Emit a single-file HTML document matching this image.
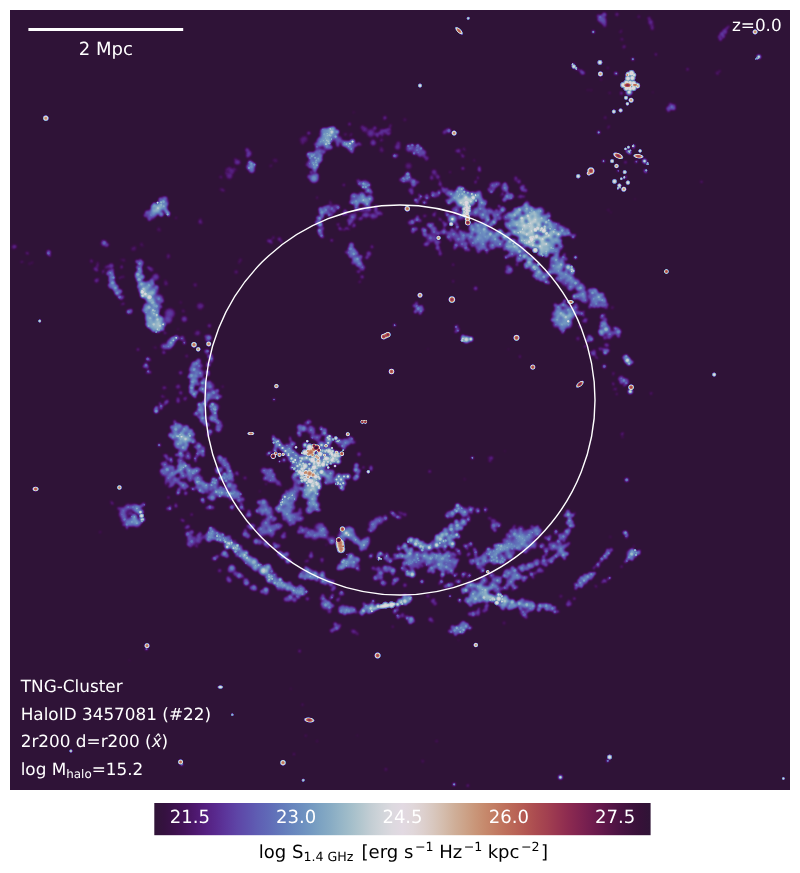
<!DOCTYPE html>
<html><head><meta charset="utf-8"><title>TNG-Cluster HaloID 3457081</title>
<style>
html,body{margin:0;padding:0;background:#fff;}
body{width:800px;height:873px;overflow:hidden;position:relative;}
svg{position:absolute;left:0;top:0;display:block;}
.b circle,.b ellipse{mix-blend-mode:lighten;}
text{font-family:"DejaVu Sans","Liberation Sans",sans-serif;-webkit-font-smoothing:antialiased;text-rendering:geometricPrecision;}
.w{fill:#fff;}
.k{fill:#000;}
</style></head><body>
<svg width="800" height="873" viewBox="0 0 800 873">
<defs>
<filter id="cmap" x="0" y="0" width="780" height="780" filterUnits="userSpaceOnUse" color-interpolation-filters="sRGB">
<feComponentTransfer>
<feFuncR type="table" tableValues="0.187 0.196 0.204 0.212 0.223 0.234 0.247 0.26 0.273 0.287 0.299 0.311 0.322 0.331 0.34 0.346 0.352 0.356 0.36 0.363 0.365 0.367 0.368 0.369 0.37 0.371 0.372 0.373 0.374 0.376 0.378 0.381 0.385 0.39 0.395 0.402 0.409 0.418 0.428 0.439 0.451 0.465 0.479 0.495 0.511 0.529 0.548 0.568 0.588 0.61 0.632 0.655 0.679 0.703 0.727 0.75 0.773 0.795 0.814 0.832 0.848 0.861 0.872 0.882 0.885 0.883 0.879 0.875 0.87 0.864 0.858 0.851 0.843 0.836 0.829 0.823 0.817 0.811 0.806 0.801 0.797 0.793 0.788 0.784 0.779 0.775 0.77 0.764 0.758 0.752 0.744 0.737 0.729 0.72 0.711 0.701 0.69 0.679 0.667 0.655 0.642 0.629 0.615 0.6 0.585 0.569 0.552 0.535 0.517 0.498 0.479 0.459 0.439 0.418 0.397 0.376 0.356 0.335 0.315 0.296 0.277 0.26 0.244 0.229 0.216 0.205 0.196 0.185"/>
<feFuncG type="table" tableValues="0.077 0.07 0.067 0.066 0.066 0.067 0.069 0.072 0.077 0.082 0.09 0.099 0.11 0.122 0.137 0.153 0.17 0.188 0.207 0.226 0.245 0.264 0.283 0.302 0.321 0.34 0.358 0.377 0.395 0.413 0.431 0.448 0.466 0.483 0.5 0.516 0.533 0.549 0.565 0.581 0.596 0.612 0.627 0.642 0.656 0.671 0.685 0.699 0.713 0.727 0.74 0.753 0.766 0.778 0.79 0.802 0.812 0.822 0.831 0.839 0.845 0.85 0.852 0.851 0.85 0.847 0.841 0.833 0.823 0.811 0.798 0.784 0.768 0.752 0.736 0.718 0.701 0.683 0.664 0.646 0.627 0.608 0.589 0.569 0.55 0.531 0.511 0.492 0.473 0.454 0.435 0.416 0.397 0.379 0.361 0.343 0.325 0.308 0.291 0.274 0.257 0.241 0.226 0.211 0.196 0.183 0.17 0.157 0.146 0.136 0.126 0.118 0.111 0.104 0.098 0.093 0.088 0.084 0.079 0.076 0.073 0.07 0.068 0.067 0.068 0.069 0.072 0.079"/>
<feFuncB type="table" tableValues="0.216 0.229 0.242 0.258 0.276 0.296 0.318 0.342 0.367 0.393 0.42 0.447 0.474 0.499 0.523 0.546 0.567 0.586 0.603 0.619 0.633 0.646 0.659 0.669 0.679 0.689 0.697 0.704 0.711 0.717 0.723 0.728 0.732 0.736 0.74 0.743 0.746 0.749 0.751 0.754 0.756 0.759 0.761 0.764 0.767 0.77 0.773 0.776 0.78 0.785 0.79 0.796 0.802 0.809 0.817 0.826 0.835 0.844 0.853 0.861 0.869 0.876 0.882 0.886 0.881 0.87 0.857 0.842 0.824 0.802 0.778 0.753 0.727 0.7 0.673 0.646 0.62 0.594 0.568 0.543 0.52 0.497 0.476 0.456 0.437 0.42 0.404 0.39 0.377 0.366 0.356 0.347 0.339 0.333 0.328 0.323 0.319 0.317 0.315 0.313 0.312 0.312 0.312 0.312 0.313 0.314 0.314 0.315 0.315 0.314 0.313 0.31 0.307 0.303 0.297 0.291 0.284 0.276 0.268 0.26 0.251 0.243 0.236 0.229 0.223 0.219 0.216 0.213"/>
</feComponentTransfer></filter>
<filter id="bl" x="-10" y="-10" width="800" height="800" filterUnits="userSpaceOnUse" color-interpolation-filters="sRGB"><feGaussianBlur stdDeviation="0.9"/></filter>
<clipPath id="clip"><rect x="0" y="0" width="780" height="780"/></clipPath>
<linearGradient id="cb" x1="0" x2="1" y1="0" y2="0"><stop offset="0.0000" stop-color="#301437"/><stop offset="0.0208" stop-color="#351140"/><stop offset="0.0417" stop-color="#3d114d"/><stop offset="0.0625" stop-color="#45135c"/><stop offset="0.0833" stop-color="#4e186f"/><stop offset="0.1042" stop-color="#552081"/><stop offset="0.1250" stop-color="#592a8f"/><stop offset="0.1458" stop-color="#5c379c"/><stop offset="0.1667" stop-color="#5e45a6"/><stop offset="0.1875" stop-color="#5e51ad"/><stop offset="0.2083" stop-color="#5f5eb3"/><stop offset="0.2292" stop-color="#6069b7"/><stop offset="0.2500" stop-color="#6276ba"/><stop offset="0.2708" stop-color="#6682bd"/><stop offset="0.2917" stop-color="#6b8cbf"/><stop offset="0.3125" stop-color="#7297c1"/><stop offset="0.3333" stop-color="#7ca2c2"/><stop offset="0.3542" stop-color="#87abc4"/><stop offset="0.3750" stop-color="#95b5c7"/><stop offset="0.3958" stop-color="#a3beca"/><stop offset="0.4167" stop-color="#b3c6ce"/><stop offset="0.4375" stop-color="#c4ced4"/><stop offset="0.4583" stop-color="#d1d5da"/><stop offset="0.4792" stop-color="#dcd9df"/><stop offset="0.5000" stop-color="#e2d9e2"/><stop offset="0.5208" stop-color="#e0d7da"/><stop offset="0.5417" stop-color="#ddd0ce"/><stop offset="0.5625" stop-color="#d8c7be"/><stop offset="0.5833" stop-color="#d4bcac"/><stop offset="0.6042" stop-color="#cfaf99"/><stop offset="0.6250" stop-color="#cca389"/><stop offset="0.6458" stop-color="#c99679"/><stop offset="0.6667" stop-color="#c6896c"/><stop offset="0.6875" stop-color="#c27c63"/><stop offset="0.7083" stop-color="#be6f5b"/><stop offset="0.7292" stop-color="#b96356"/><stop offset="0.7500" stop-color="#b25652"/><stop offset="0.7708" stop-color="#aa4a50"/><stop offset="0.7917" stop-color="#a24050"/><stop offset="0.8125" stop-color="#983550"/><stop offset="0.8333" stop-color="#8d2b50"/><stop offset="0.8542" stop-color="#812450"/><stop offset="0.8750" stop-color="#741e4f"/><stop offset="0.8958" stop-color="#67194c"/><stop offset="0.9167" stop-color="#581647"/><stop offset="0.9375" stop-color="#4a1342"/><stop offset="0.9583" stop-color="#3f123d"/><stop offset="0.9792" stop-color="#361138"/><stop offset="1.0000" stop-color="#2f1436"/></linearGradient>
<radialGradient id="g3"><stop offset="0" stop-color="#0f0f0f"/><stop offset="0.2" stop-color="#0f0f0f"/><stop offset="0.4" stop-color="#0e0e0e"/><stop offset="0.55" stop-color="#0c0c0c"/><stop offset="0.7" stop-color="#090909"/><stop offset="0.8" stop-color="#070707"/><stop offset="0.9" stop-color="#040404"/><stop offset="0.95" stop-color="#020202"/><stop offset="1" stop-color="#000000"/></radialGradient>
<radialGradient id="g4"><stop offset="0" stop-color="#141414"/><stop offset="0.2" stop-color="#141414"/><stop offset="0.4" stop-color="#121212"/><stop offset="0.55" stop-color="#101010"/><stop offset="0.7" stop-color="#0c0c0c"/><stop offset="0.8" stop-color="#090909"/><stop offset="0.9" stop-color="#050505"/><stop offset="0.95" stop-color="#020202"/><stop offset="1" stop-color="#000000"/></radialGradient>
<radialGradient id="g5"><stop offset="0" stop-color="#1a1a1a"/><stop offset="0.2" stop-color="#191919"/><stop offset="0.4" stop-color="#171717"/><stop offset="0.55" stop-color="#141414"/><stop offset="0.7" stop-color="#0f0f0f"/><stop offset="0.8" stop-color="#0b0b0b"/><stop offset="0.9" stop-color="#060606"/><stop offset="0.95" stop-color="#030303"/><stop offset="1" stop-color="#000000"/></radialGradient>
<radialGradient id="g6"><stop offset="0" stop-color="#1f1f1f"/><stop offset="0.2" stop-color="#1e1e1e"/><stop offset="0.4" stop-color="#1c1c1c"/><stop offset="0.55" stop-color="#181818"/><stop offset="0.7" stop-color="#121212"/><stop offset="0.8" stop-color="#0d0d0d"/><stop offset="0.9" stop-color="#070707"/><stop offset="0.95" stop-color="#040404"/><stop offset="1" stop-color="#000000"/></radialGradient>
<radialGradient id="g7"><stop offset="0" stop-color="#242424"/><stop offset="0.2" stop-color="#232323"/><stop offset="0.4" stop-color="#202020"/><stop offset="0.55" stop-color="#1c1c1c"/><stop offset="0.7" stop-color="#151515"/><stop offset="0.8" stop-color="#0f0f0f"/><stop offset="0.9" stop-color="#080808"/><stop offset="0.95" stop-color="#040404"/><stop offset="1" stop-color="#000000"/></radialGradient>
<radialGradient id="g8"><stop offset="0" stop-color="#292929"/><stop offset="0.2" stop-color="#282828"/><stop offset="0.4" stop-color="#252525"/><stop offset="0.55" stop-color="#202020"/><stop offset="0.7" stop-color="#181818"/><stop offset="0.8" stop-color="#111111"/><stop offset="0.9" stop-color="#090909"/><stop offset="0.95" stop-color="#050505"/><stop offset="1" stop-color="#000000"/></radialGradient>
<radialGradient id="g9"><stop offset="0" stop-color="#2e2e2e"/><stop offset="0.2" stop-color="#2d2d2d"/><stop offset="0.4" stop-color="#292929"/><stop offset="0.55" stop-color="#242424"/><stop offset="0.7" stop-color="#1b1b1b"/><stop offset="0.8" stop-color="#141414"/><stop offset="0.9" stop-color="#0b0b0b"/><stop offset="0.95" stop-color="#060606"/><stop offset="1" stop-color="#000000"/></radialGradient>
<radialGradient id="g10"><stop offset="0" stop-color="#333333"/><stop offset="0.2" stop-color="#323232"/><stop offset="0.4" stop-color="#2e2e2e"/><stop offset="0.55" stop-color="#282828"/><stop offset="0.7" stop-color="#1e1e1e"/><stop offset="0.8" stop-color="#161616"/><stop offset="0.9" stop-color="#0c0c0c"/><stop offset="0.95" stop-color="#060606"/><stop offset="1" stop-color="#000000"/></radialGradient>
<radialGradient id="g11"><stop offset="0" stop-color="#383838"/><stop offset="0.2" stop-color="#373737"/><stop offset="0.4" stop-color="#323232"/><stop offset="0.55" stop-color="#2c2c2c"/><stop offset="0.7" stop-color="#212121"/><stop offset="0.8" stop-color="#181818"/><stop offset="0.9" stop-color="#0d0d0d"/><stop offset="0.95" stop-color="#070707"/><stop offset="1" stop-color="#000000"/></radialGradient>
<radialGradient id="g12"><stop offset="0" stop-color="#3d3d3d"/><stop offset="0.2" stop-color="#3c3c3c"/><stop offset="0.4" stop-color="#373737"/><stop offset="0.55" stop-color="#2f2f2f"/><stop offset="0.7" stop-color="#242424"/><stop offset="0.8" stop-color="#1a1a1a"/><stop offset="0.9" stop-color="#0e0e0e"/><stop offset="0.95" stop-color="#070707"/><stop offset="1" stop-color="#000000"/></radialGradient>
<radialGradient id="g13"><stop offset="0" stop-color="#424242"/><stop offset="0.2" stop-color="#414141"/><stop offset="0.4" stop-color="#3c3c3c"/><stop offset="0.55" stop-color="#333333"/><stop offset="0.7" stop-color="#272727"/><stop offset="0.8" stop-color="#1c1c1c"/><stop offset="0.9" stop-color="#0f0f0f"/><stop offset="0.95" stop-color="#080808"/><stop offset="1" stop-color="#000000"/></radialGradient>
<radialGradient id="g14"><stop offset="0" stop-color="#474747"/><stop offset="0.2" stop-color="#464646"/><stop offset="0.4" stop-color="#404040"/><stop offset="0.55" stop-color="#373737"/><stop offset="0.7" stop-color="#2a2a2a"/><stop offset="0.8" stop-color="#1f1f1f"/><stop offset="0.9" stop-color="#111111"/><stop offset="0.95" stop-color="#090909"/><stop offset="1" stop-color="#000000"/></radialGradient>
<radialGradient id="g15"><stop offset="0" stop-color="#4c4c4c"/><stop offset="0.2" stop-color="#4b4b4b"/><stop offset="0.4" stop-color="#454545"/><stop offset="0.55" stop-color="#3b3b3b"/><stop offset="0.7" stop-color="#2d2d2d"/><stop offset="0.8" stop-color="#212121"/><stop offset="0.9" stop-color="#121212"/><stop offset="0.95" stop-color="#090909"/><stop offset="1" stop-color="#000000"/></radialGradient>
<radialGradient id="g16"><stop offset="0" stop-color="#525252"/><stop offset="0.2" stop-color="#505050"/><stop offset="0.4" stop-color="#494949"/><stop offset="0.55" stop-color="#3f3f3f"/><stop offset="0.7" stop-color="#303030"/><stop offset="0.8" stop-color="#232323"/><stop offset="0.9" stop-color="#131313"/><stop offset="0.95" stop-color="#0a0a0a"/><stop offset="1" stop-color="#000000"/></radialGradient>
<radialGradient id="g17"><stop offset="0" stop-color="#575757"/><stop offset="0.2" stop-color="#555555"/><stop offset="0.4" stop-color="#4e4e4e"/><stop offset="0.55" stop-color="#434343"/><stop offset="0.7" stop-color="#333333"/><stop offset="0.8" stop-color="#252525"/><stop offset="0.9" stop-color="#141414"/><stop offset="0.95" stop-color="#0a0a0a"/><stop offset="1" stop-color="#000000"/></radialGradient>
<radialGradient id="g18"><stop offset="0" stop-color="#5c5c5c"/><stop offset="0.2" stop-color="#5a5a5a"/><stop offset="0.4" stop-color="#535353"/><stop offset="0.55" stop-color="#474747"/><stop offset="0.7" stop-color="#363636"/><stop offset="0.8" stop-color="#272727"/><stop offset="0.9" stop-color="#151515"/><stop offset="0.95" stop-color="#0b0b0b"/><stop offset="1" stop-color="#000000"/></radialGradient>
<radialGradient id="g19"><stop offset="0" stop-color="#616161"/><stop offset="0.2" stop-color="#5f5f5f"/><stop offset="0.4" stop-color="#575757"/><stop offset="0.55" stop-color="#4b4b4b"/><stop offset="0.7" stop-color="#393939"/><stop offset="0.8" stop-color="#292929"/><stop offset="0.9" stop-color="#161616"/><stop offset="0.95" stop-color="#0c0c0c"/><stop offset="1" stop-color="#000000"/></radialGradient>
<radialGradient id="g20"><stop offset="0" stop-color="#666666"/><stop offset="0.2" stop-color="#646464"/><stop offset="0.4" stop-color="#5c5c5c"/><stop offset="0.55" stop-color="#4f4f4f"/><stop offset="0.7" stop-color="#3c3c3c"/><stop offset="0.8" stop-color="#2c2c2c"/><stop offset="0.9" stop-color="#181818"/><stop offset="0.95" stop-color="#0c0c0c"/><stop offset="1" stop-color="#000000"/></radialGradient>
<radialGradient id="g21"><stop offset="0" stop-color="#6b6b6b"/><stop offset="0.2" stop-color="#696969"/><stop offset="0.4" stop-color="#606060"/><stop offset="0.55" stop-color="#535353"/><stop offset="0.7" stop-color="#3f3f3f"/><stop offset="0.8" stop-color="#2e2e2e"/><stop offset="0.9" stop-color="#191919"/><stop offset="0.95" stop-color="#0d0d0d"/><stop offset="1" stop-color="#000000"/></radialGradient>
<radialGradient id="g22"><stop offset="0" stop-color="#707070"/><stop offset="0.2" stop-color="#6e6e6e"/><stop offset="0.4" stop-color="#656565"/><stop offset="0.55" stop-color="#575757"/><stop offset="0.7" stop-color="#424242"/><stop offset="0.8" stop-color="#303030"/><stop offset="0.9" stop-color="#1a1a1a"/><stop offset="0.95" stop-color="#0e0e0e"/><stop offset="1" stop-color="#000000"/></radialGradient>
<radialGradient id="g23"><stop offset="0" stop-color="#757575"/><stop offset="0.2" stop-color="#737373"/><stop offset="0.4" stop-color="#696969"/><stop offset="0.55" stop-color="#5b5b5b"/><stop offset="0.7" stop-color="#454545"/><stop offset="0.8" stop-color="#323232"/><stop offset="0.9" stop-color="#1b1b1b"/><stop offset="0.95" stop-color="#0e0e0e"/><stop offset="1" stop-color="#000000"/></radialGradient>
<radialGradient id="g24"><stop offset="0" stop-color="#7a7a7a"/><stop offset="0.2" stop-color="#787878"/><stop offset="0.4" stop-color="#6e6e6e"/><stop offset="0.55" stop-color="#5f5f5f"/><stop offset="0.7" stop-color="#484848"/><stop offset="0.8" stop-color="#343434"/><stop offset="0.9" stop-color="#1c1c1c"/><stop offset="0.95" stop-color="#0f0f0f"/><stop offset="1" stop-color="#000000"/></radialGradient>
<radialGradient id="g25"><stop offset="0" stop-color="#808080"/><stop offset="0.2" stop-color="#7d7d7d"/><stop offset="0.4" stop-color="#737373"/><stop offset="0.55" stop-color="#636363"/><stop offset="0.7" stop-color="#4b4b4b"/><stop offset="0.8" stop-color="#373737"/><stop offset="0.9" stop-color="#1e1e1e"/><stop offset="0.95" stop-color="#0f0f0f"/><stop offset="1" stop-color="#000000"/></radialGradient>
<radialGradient id="g26"><stop offset="0" stop-color="#858585"/><stop offset="0.2" stop-color="#828282"/><stop offset="0.4" stop-color="#777777"/><stop offset="0.55" stop-color="#676767"/><stop offset="0.7" stop-color="#4e4e4e"/><stop offset="0.8" stop-color="#393939"/><stop offset="0.9" stop-color="#1f1f1f"/><stop offset="0.95" stop-color="#101010"/><stop offset="1" stop-color="#000000"/></radialGradient>
<radialGradient id="g27"><stop offset="0" stop-color="#8a8a8a"/><stop offset="0.2" stop-color="#878787"/><stop offset="0.4" stop-color="#7c7c7c"/><stop offset="0.55" stop-color="#6b6b6b"/><stop offset="0.7" stop-color="#515151"/><stop offset="0.8" stop-color="#3b3b3b"/><stop offset="0.9" stop-color="#202020"/><stop offset="0.95" stop-color="#111111"/><stop offset="1" stop-color="#000000"/></radialGradient>
<radialGradient id="g31"><stop offset="0" stop-color="#9e9e9e"/><stop offset="0.2" stop-color="#9b9b9b"/><stop offset="0.4" stop-color="#8e8e8e"/><stop offset="0.55" stop-color="#7b7b7b"/><stop offset="0.7" stop-color="#5d5d5d"/><stop offset="0.8" stop-color="#444444"/><stop offset="0.9" stop-color="#252525"/><stop offset="0.95" stop-color="#131313"/><stop offset="1" stop-color="#000000"/></radialGradient>
<radialGradient id="g32"><stop offset="0" stop-color="#a3a3a3"/><stop offset="0.2" stop-color="#a0a0a0"/><stop offset="0.4" stop-color="#939393"/><stop offset="0.55" stop-color="#7f7f7f"/><stop offset="0.7" stop-color="#606060"/><stop offset="0.8" stop-color="#464646"/><stop offset="0.9" stop-color="#262626"/><stop offset="0.95" stop-color="#141414"/><stop offset="1" stop-color="#000000"/></radialGradient>
<radialGradient id="g33"><stop offset="0" stop-color="#a8a8a8"/><stop offset="0.2" stop-color="#a5a5a5"/><stop offset="0.4" stop-color="#979797"/><stop offset="0.55" stop-color="#838383"/><stop offset="0.7" stop-color="#636363"/><stop offset="0.8" stop-color="#484848"/><stop offset="0.9" stop-color="#272727"/><stop offset="0.95" stop-color="#141414"/><stop offset="1" stop-color="#000000"/></radialGradient>
<radialGradient id="g34"><stop offset="0" stop-color="#adadad"/><stop offset="0.2" stop-color="#aaaaaa"/><stop offset="0.4" stop-color="#9c9c9c"/><stop offset="0.55" stop-color="#868686"/><stop offset="0.7" stop-color="#666666"/><stop offset="0.8" stop-color="#4a4a4a"/><stop offset="0.9" stop-color="#282828"/><stop offset="0.95" stop-color="#151515"/><stop offset="1" stop-color="#000000"/></radialGradient>
<radialGradient id="g35"><stop offset="0" stop-color="#b2b2b2"/><stop offset="0.2" stop-color="#afafaf"/><stop offset="0.4" stop-color="#a0a0a0"/><stop offset="0.55" stop-color="#8a8a8a"/><stop offset="0.7" stop-color="#696969"/><stop offset="0.8" stop-color="#4c4c4c"/><stop offset="0.9" stop-color="#292929"/><stop offset="0.95" stop-color="#151515"/><stop offset="1" stop-color="#000000"/></radialGradient>
<radialGradient id="g36"><stop offset="0" stop-color="#b8b8b8"/><stop offset="0.2" stop-color="#b4b4b4"/><stop offset="0.4" stop-color="#a5a5a5"/><stop offset="0.55" stop-color="#8e8e8e"/><stop offset="0.7" stop-color="#6c6c6c"/><stop offset="0.8" stop-color="#4f4f4f"/><stop offset="0.9" stop-color="#2b2b2b"/><stop offset="0.95" stop-color="#161616"/><stop offset="1" stop-color="#000000"/></radialGradient>
<radialGradient id="g37"><stop offset="0" stop-color="#bdbdbd"/><stop offset="0.2" stop-color="#b9b9b9"/><stop offset="0.4" stop-color="#aaaaaa"/><stop offset="0.55" stop-color="#929292"/><stop offset="0.7" stop-color="#6f6f6f"/><stop offset="0.8" stop-color="#515151"/><stop offset="0.9" stop-color="#2c2c2c"/><stop offset="0.95" stop-color="#171717"/><stop offset="1" stop-color="#000000"/></radialGradient>
<radialGradient id="g38"><stop offset="0" stop-color="#c2c2c2"/><stop offset="0.2" stop-color="#bebebe"/><stop offset="0.4" stop-color="#aeaeae"/><stop offset="0.55" stop-color="#969696"/><stop offset="0.7" stop-color="#727272"/><stop offset="0.8" stop-color="#535353"/><stop offset="0.9" stop-color="#2d2d2d"/><stop offset="0.95" stop-color="#171717"/><stop offset="1" stop-color="#000000"/></radialGradient>
<radialGradient id="g39"><stop offset="0" stop-color="#c7c7c7"/><stop offset="0.2" stop-color="#c3c3c3"/><stop offset="0.4" stop-color="#b3b3b3"/><stop offset="0.55" stop-color="#9a9a9a"/><stop offset="0.7" stop-color="#757575"/><stop offset="0.8" stop-color="#555555"/><stop offset="0.9" stop-color="#2e2e2e"/><stop offset="0.95" stop-color="#181818"/><stop offset="1" stop-color="#000000"/></radialGradient>
<radialGradient id="g40"><stop offset="0" stop-color="#cccccc"/><stop offset="0.2" stop-color="#c8c8c8"/><stop offset="0.4" stop-color="#b7b7b7"/><stop offset="0.55" stop-color="#9e9e9e"/><stop offset="0.7" stop-color="#787878"/><stop offset="0.8" stop-color="#575757"/><stop offset="0.9" stop-color="#2f2f2f"/><stop offset="0.95" stop-color="#191919"/><stop offset="1" stop-color="#000000"/></radialGradient>
<radialGradient id="g41"><stop offset="0" stop-color="#d1d1d1"/><stop offset="0.2" stop-color="#cdcdcd"/><stop offset="0.4" stop-color="#bcbcbc"/><stop offset="0.55" stop-color="#a2a2a2"/><stop offset="0.7" stop-color="#7b7b7b"/><stop offset="0.8" stop-color="#595959"/><stop offset="0.9" stop-color="#303030"/><stop offset="0.95" stop-color="#191919"/><stop offset="1" stop-color="#000000"/></radialGradient>
<radialGradient id="g42"><stop offset="0" stop-color="#d6d6d6"/><stop offset="0.2" stop-color="#d2d2d2"/><stop offset="0.4" stop-color="#c1c1c1"/><stop offset="0.55" stop-color="#a6a6a6"/><stop offset="0.7" stop-color="#7e7e7e"/><stop offset="0.8" stop-color="#5c5c5c"/><stop offset="0.9" stop-color="#323232"/><stop offset="0.95" stop-color="#1a1a1a"/><stop offset="1" stop-color="#000000"/></radialGradient>
<radialGradient id="g43"><stop offset="0" stop-color="#dbdbdb"/><stop offset="0.2" stop-color="#d7d7d7"/><stop offset="0.4" stop-color="#c5c5c5"/><stop offset="0.55" stop-color="#aaaaaa"/><stop offset="0.7" stop-color="#818181"/><stop offset="0.8" stop-color="#5e5e5e"/><stop offset="0.9" stop-color="#333333"/><stop offset="0.95" stop-color="#1a1a1a"/><stop offset="1" stop-color="#000000"/></radialGradient>
<radialGradient id="g44"><stop offset="0" stop-color="#e0e0e0"/><stop offset="0.2" stop-color="#dcdcdc"/><stop offset="0.4" stop-color="#cacaca"/><stop offset="0.55" stop-color="#aeaeae"/><stop offset="0.7" stop-color="#848484"/><stop offset="0.8" stop-color="#606060"/><stop offset="0.9" stop-color="#343434"/><stop offset="0.95" stop-color="#1b1b1b"/><stop offset="1" stop-color="#000000"/></radialGradient>
<radialGradient id="g46"><stop offset="0" stop-color="#ebebeb"/><stop offset="0.2" stop-color="#e6e6e6"/><stop offset="0.4" stop-color="#d3d3d3"/><stop offset="0.55" stop-color="#b6b6b6"/><stop offset="0.7" stop-color="#8a8a8a"/><stop offset="0.8" stop-color="#646464"/><stop offset="0.9" stop-color="#363636"/><stop offset="0.95" stop-color="#1c1c1c"/><stop offset="1" stop-color="#000000"/></radialGradient>
<radialGradient id="g48"><stop offset="0" stop-color="#f5f5f5"/><stop offset="0.2" stop-color="#f0f0f0"/><stop offset="0.4" stop-color="#dcdcdc"/><stop offset="0.55" stop-color="#bebebe"/><stop offset="0.7" stop-color="#909090"/><stop offset="0.8" stop-color="#696969"/><stop offset="0.9" stop-color="#393939"/><stop offset="0.95" stop-color="#1d1d1d"/><stop offset="1" stop-color="#000000"/></radialGradient>
<radialGradient id="g50"><stop offset="0" stop-color="#ffffff"/><stop offset="0.2" stop-color="#fafafa"/><stop offset="0.4" stop-color="#e5e5e5"/><stop offset="0.55" stop-color="#c6c6c6"/><stop offset="0.7" stop-color="#969696"/><stop offset="0.8" stop-color="#6d6d6d"/><stop offset="0.9" stop-color="#3b3b3b"/><stop offset="0.95" stop-color="#1f1f1f"/><stop offset="1" stop-color="#000000"/></radialGradient>
</defs>
<rect x="10" y="10" width="780" height="780" fill="#301437"/>
<g transform="translate(10,10)" clip-path="url(#clip)"><g filter="url(#cmap)" class="b"><rect x="0" y="0" width="780" height="780" fill="#000"/>
<g filter="url(#bl)" style="mix-blend-mode:lighten"><rect x="-10" y="-10" width="800" height="800" fill="#000"/>
<g fill="url(#g3)"><circle cx="263.9" cy="150.1" r="2.1"/><circle cx="131.6" cy="235.2" r="2"/><circle cx="124.9" cy="239.1" r="2.1"/><circle cx="211.6" cy="167.7" r="1.7"/><circle cx="343.7" cy="102.4" r="1.6"/><circle cx="111.3" cy="249.7" r="1.7"/><circle cx="261.6" cy="154.9" r="1.4"/><circle cx="148.7" cy="217.7" r="1.5"/><circle cx="625.2" cy="188.9" r="1.3"/><circle cx="494.8" cy="441.2" r="1.3"/><circle cx="347.3" cy="725.6" r="1.3"/><circle cx="18.6" cy="254.6" r="1.1"/><circle cx="212.5" cy="178.5" r="1.1"/><circle cx="22.6" cy="251.7" r="1.1"/><circle cx="418" cy="339.3" r="1.3"/><circle cx="119.4" cy="650.3" r="1.3"/><circle cx="171" cy="293.4" r="1.1"/><circle cx="133.6" cy="236.1" r="1.1"/></g>
<g fill="url(#g4)"><circle cx="186.1" cy="323.6" r="2.8"/><circle cx="123.1" cy="238.9" r="2.9"/><circle cx="265.7" cy="150.6" r="2.5"/><circle cx="371.2" cy="138.1" r="2.2"/><circle cx="394.9" cy="109.7" r="2.2"/><circle cx="212.9" cy="180.4" r="2.2"/><circle cx="148.7" cy="219.4" r="2.5"/><circle cx="412.7" cy="751.2" r="2"/><circle cx="95.9" cy="257.9" r="1.9"/><circle cx="113.8" cy="250.2" r="2.2"/><circle cx="131.6" cy="234" r="1.9"/><circle cx="230.8" cy="250.2" r="1.9"/><circle cx="191.7" cy="213.1" r="1.8"/><circle cx="613.3" cy="37.6" r="1.7"/><circle cx="294" cy="131.8" r="1.8"/><circle cx="260.8" cy="156" r="2"/><circle cx="587.6" cy="348.6" r="1.7"/><circle cx="154.3" cy="386.9" r="1.7"/><circle cx="155.3" cy="270.9" r="1.8"/><circle cx="149.5" cy="220.3" r="1.9"/><circle cx="340.3" cy="126" r="1.6"/><circle cx="190.6" cy="209.1" r="1.5"/><circle cx="22.1" cy="252.9" r="1.6"/><circle cx="19.5" cy="253.5" r="1.6"/><circle cx="170.6" cy="292" r="1.6"/><circle cx="229.1" cy="253" r="1.6"/><circle cx="454.6" cy="469.2" r="1.6"/><circle cx="11" cy="252.3" r="1.3"/><circle cx="595" cy="106.9" r="1.2"/><circle cx="230.3" cy="248.8" r="1.3"/><circle cx="226.6" cy="160.1" r="1.4"/><circle cx="611.7" cy="20.2" r="1.2"/><circle cx="86.6" cy="254.2" r="1.3"/><circle cx="174.3" cy="301.3" r="1.4"/><circle cx="336.7" cy="123.7" r="1.2"/><circle cx="335.5" cy="125.9" r="1.2"/><circle cx="166.9" cy="207.3" r="1.1"/><circle cx="229.2" cy="251" r="1.4"/><circle cx="348.8" cy="272.3" r="1.1"/><circle cx="642.8" cy="82.4" r="1.3"/><circle cx="498.5" cy="339.3" r="1.3"/><circle cx="280.8" cy="678.8" r="1.3"/><circle cx="448.5" cy="630.1" r="1.3"/><circle cx="144" cy="337.3" r="1.2"/><circle cx="481.2" cy="451.8" r="1.1"/><circle cx="613" cy="29.8" r="1.1"/><circle cx="131.6" cy="235.6" r="1.1"/></g>
<g fill="url(#g5)"><circle cx="294.4" cy="129.2" r="4.3"/><circle cx="398.5" cy="156" r="4.3"/><circle cx="292.3" cy="129.7" r="3.4"/><circle cx="424.7" cy="163.9" r="2.5"/><circle cx="371.7" cy="140.2" r="2.9"/><circle cx="156" cy="273.5" r="2.9"/><circle cx="220.7" cy="164" r="2.8"/><circle cx="219.4" cy="158.4" r="2.5"/><circle cx="292.5" cy="132.8" r="2.5"/><circle cx="118.2" cy="502.9" r="2.3"/><circle cx="213.3" cy="180.4" r="2.2"/><circle cx="641.3" cy="15.5" r="2.2"/><circle cx="158.4" cy="246.2" r="2.5"/><circle cx="185.2" cy="274.9" r="2.5"/><circle cx="226.2" cy="262" r="2.5"/><circle cx="216.3" cy="163" r="2.2"/><circle cx="505.7" cy="170.3" r="2.1"/><circle cx="642.7" cy="15.7" r="2.1"/><circle cx="87.9" cy="269.3" r="2.1"/><circle cx="216.9" cy="159.4" r="2.2"/><circle cx="139.4" cy="258" r="2"/><circle cx="224.2" cy="159.2" r="2.2"/><circle cx="158.3" cy="245.4" r="2.2"/><circle cx="210.8" cy="167" r="2"/><circle cx="335.2" cy="124.3" r="2"/><circle cx="628.9" cy="6.8" r="2"/><circle cx="611.8" cy="29.2" r="2"/><circle cx="706.9" cy="62.9" r="2"/><circle cx="173.1" cy="301" r="2"/><circle cx="375.9" cy="759.3" r="2"/><circle cx="494.1" cy="613" r="2"/><circle cx="117.8" cy="505.4" r="1.8"/><circle cx="341.7" cy="620.6" r="1.7"/><circle cx="210.9" cy="179.3" r="1.8"/><circle cx="478.8" cy="447.8" r="1.7"/><circle cx="123.5" cy="238.9" r="1.9"/><circle cx="426.9" cy="164.5" r="1.6"/><circle cx="393.4" cy="504" r="1.6"/><circle cx="341.2" cy="124.3" r="1.8"/><circle cx="610.6" cy="21.9" r="1.8"/><circle cx="602.5" cy="297.4" r="1.8"/><circle cx="95.1" cy="256.8" r="1.5"/><circle cx="638.1" cy="8.3" r="1.6"/><circle cx="603.7" cy="379.4" r="1.4"/><circle cx="125.1" cy="237.3" r="1.5"/><circle cx="81.2" cy="250.2" r="1.6"/><circle cx="165.8" cy="208" r="1.6"/><circle cx="11.4" cy="251.9" r="1.6"/><circle cx="464.3" cy="150.4" r="1.6"/><circle cx="709.3" cy="61.4" r="1.6"/><circle cx="599.6" cy="82.9" r="1.6"/><circle cx="88.2" cy="253.5" r="1.6"/><circle cx="145.5" cy="337.6" r="1.6"/><circle cx="90.2" cy="522.1" r="1.6"/><circle cx="292.5" cy="694.7" r="1.6"/><circle cx="426.6" cy="731.2" r="1.6"/><circle cx="707.8" cy="64.3" r="1.5"/><circle cx="110.8" cy="267.1" r="1.3"/><circle cx="380.7" cy="114.8" r="1.3"/><circle cx="320.3" cy="191.4" r="1.4"/><circle cx="371.5" cy="129.5" r="1.4"/><circle cx="602" cy="298.3" r="1.4"/><circle cx="372.7" cy="129.9" r="1.4"/><circle cx="17.6" cy="242.5" r="1.3"/><circle cx="187.5" cy="536.8" r="1.3"/><circle cx="158" cy="248.3" r="1.4"/><circle cx="585.1" cy="575.5" r="1.3"/><circle cx="87.6" cy="252.6" r="1.3"/><circle cx="563.7" cy="587.7" r="1.2"/><circle cx="577.7" cy="80" r="1.3"/><circle cx="581.3" cy="80" r="1.3"/><circle cx="156.6" cy="323.4" r="1.1"/><circle cx="18.4" cy="243.7" r="1.3"/><circle cx="718.5" cy="18" r="1.1"/><circle cx="263.7" cy="226.7" r="1.1"/><circle cx="346.7" cy="621.9" r="1.3"/><circle cx="112.4" cy="266.3" r="1.1"/><circle cx="82.7" cy="251.2" r="1.2"/><circle cx="574.1" cy="337" r="1.1"/><circle cx="12.9" cy="251.8" r="1.2"/><circle cx="710.2" cy="61.1" r="1.1"/><circle cx="597.9" cy="118" r="1.2"/><circle cx="600.8" cy="202.3" r="1.1"/></g>
<g fill="url(#g6)"><circle cx="355.9" cy="204.8" r="4.4"/><circle cx="363.2" cy="206" r="4.4"/><circle cx="219.4" cy="165.8" r="4.3"/><circle cx="190.1" cy="296.2" r="4.3"/><circle cx="143.6" cy="268.7" r="3.8"/><circle cx="354.7" cy="119.4" r="3.8"/><circle cx="220.9" cy="160.5" r="3.3"/><circle cx="187.7" cy="323" r="3.4"/><circle cx="388.4" cy="133.6" r="3"/><circle cx="3.7" cy="236.9" r="2.9"/><circle cx="141.4" cy="259.6" r="2.9"/><circle cx="192" cy="295.8" r="2.6"/><circle cx="352.5" cy="117.3" r="2.7"/><circle cx="222.7" cy="162" r="2.4"/><circle cx="190.1" cy="211.2" r="2.5"/><circle cx="606.9" cy="4.4" r="2.5"/><circle cx="639.1" cy="8.5" r="2.5"/><circle cx="642.3" cy="18.3" r="2.5"/><circle cx="190.1" cy="212.1" r="2.5"/><circle cx="567.9" cy="328.6" r="2.5"/><circle cx="614.2" cy="36.6" r="2.2"/><circle cx="422.5" cy="611.2" r="2"/><circle cx="97.5" cy="256.8" r="2.2"/><circle cx="362.9" cy="130.4" r="2"/><circle cx="364.7" cy="559.2" r="2"/><circle cx="87.4" cy="256.2" r="1.9"/><circle cx="392.9" cy="604" r="1.9"/><circle cx="271.4" cy="231.5" r="1.9"/><circle cx="334" cy="219.8" r="1.8"/><circle cx="677.6" cy="59.2" r="2"/><circle cx="176.7" cy="346.1" r="2"/><circle cx="152.3" cy="386.3" r="2"/><circle cx="586.2" cy="347.3" r="2"/><circle cx="347.3" cy="624" r="2"/><circle cx="550.9" cy="586.2" r="2"/><circle cx="424.5" cy="594.6" r="1.8"/><circle cx="298.1" cy="527.8" r="1.8"/><circle cx="320.7" cy="600.9" r="1.8"/><circle cx="166.8" cy="377.2" r="1.8"/><circle cx="171.5" cy="509.8" r="1.8"/><circle cx="391.8" cy="604.2" r="1.7"/><circle cx="436" cy="120" r="1.7"/><circle cx="16.9" cy="243.1" r="1.9"/><circle cx="380.2" cy="115.8" r="1.8"/><circle cx="371" cy="130.4" r="1.8"/><circle cx="320.5" cy="193" r="1.8"/><circle cx="453.9" cy="138.9" r="1.8"/><circle cx="718.6" cy="16.6" r="1.8"/><circle cx="595.2" cy="107.7" r="1.8"/><circle cx="17.1" cy="243.3" r="1.8"/><circle cx="263.2" cy="227.9" r="1.8"/><circle cx="349.8" cy="271.8" r="1.8"/><circle cx="603.3" cy="363.2" r="1.8"/><circle cx="641.1" cy="383.4" r="1.8"/><circle cx="479.7" cy="450.9" r="1.8"/><circle cx="225.2" cy="149.4" r="1.8"/><circle cx="509.6" cy="170.2" r="1.5"/><circle cx="594.2" cy="326.4" r="1.5"/><circle cx="295.2" cy="551.5" r="1.4"/><circle cx="111.7" cy="256" r="1.4"/><circle cx="101.3" cy="491.9" r="1.6"/><circle cx="307.1" cy="187.7" r="1.6"/><circle cx="440" cy="162.1" r="1.6"/><circle cx="598.9" cy="116.5" r="1.6"/><circle cx="81.2" cy="251.1" r="1.6"/><circle cx="109.7" cy="268.1" r="1.6"/><circle cx="113.3" cy="266.9" r="1.6"/><circle cx="212.6" cy="376.6" r="1.6"/><circle cx="606.9" cy="383.9" r="1.6"/><circle cx="443.1" cy="271.3" r="1.6"/><circle cx="284" cy="744.2" r="1.6"/><circle cx="382.7" cy="616.7" r="1.6"/><circle cx="176.4" cy="387.4" r="1.5"/><circle cx="259.8" cy="232.4" r="1.3"/><circle cx="508.1" cy="186.8" r="1.4"/><circle cx="371.8" cy="126.3" r="1.4"/><circle cx="565.1" cy="503.2" r="1.3"/><circle cx="234" cy="467.7" r="1.4"/><circle cx="590.3" cy="340.3" r="1.4"/><circle cx="111.4" cy="294.5" r="1.2"/><circle cx="372" cy="124.7" r="1.2"/><circle cx="171.4" cy="384.5" r="1.3"/><circle cx="168.2" cy="319.3" r="1.3"/><circle cx="598.4" cy="199.9" r="1.3"/><circle cx="600.4" cy="527" r="1.3"/><circle cx="624" cy="536.2" r="1.3"/><circle cx="249.8" cy="481.4" r="1.3"/><circle cx="606.4" cy="384.5" r="1.3"/><circle cx="378.3" cy="125.1" r="1.1"/><circle cx="610.8" cy="557" r="1.1"/><circle cx="361.7" cy="235.5" r="1.2"/><circle cx="81.3" cy="252.2" r="1.3"/><circle cx="377.3" cy="124.4" r="1.2"/><circle cx="715.8" cy="19.3" r="1.2"/><circle cx="94.5" cy="260.6" r="1.1"/><circle cx="329.3" cy="214.3" r="1.2"/><circle cx="428.8" cy="207.7" r="1.1"/><circle cx="467.7" cy="166.5" r="1.1"/><circle cx="416.9" cy="585.5" r="1.1"/><circle cx="603.1" cy="365.1" r="1.1"/><circle cx="455.3" cy="140.5" r="1.1"/><circle cx="307.1" cy="731.2" r="1.1"/><circle cx="352.6" cy="457.2" r="1.1"/><circle cx="379.8" cy="117.1" r="1.1"/></g>
<g fill="url(#g7)"><circle cx="254.5" cy="495" r="6"/><circle cx="253" cy="522" r="5.9"/><circle cx="420.5" cy="227.9" r="5.8"/><circle cx="314.5" cy="523.5" r="5.5"/><circle cx="308.5" cy="517.5" r="5.5"/><circle cx="360.8" cy="123.1" r="5.2"/><circle cx="321.8" cy="198.7" r="5.1"/><circle cx="342.5" cy="207.2" r="5.1"/><circle cx="424.1" cy="221.8" r="5.1"/><circle cx="452.2" cy="234" r="5.1"/><circle cx="446.1" cy="199.9" r="5.1"/><circle cx="321.8" cy="530.2" r="5.1"/><circle cx="327.8" cy="129.2" r="5.1"/><circle cx="399.8" cy="138.4" r="5.2"/><circle cx="187.7" cy="530.2" r="5.1"/><circle cx="287.6" cy="507" r="5.1"/><circle cx="368.5" cy="510" r="4.6"/><circle cx="314.4" cy="521.6" r="4.4"/><circle cx="299.8" cy="153.6" r="4.4"/><circle cx="482.6" cy="175.5" r="4.4"/><circle cx="154" cy="336.4" r="4.4"/><circle cx="594.8" cy="294.9" r="4.4"/><circle cx="469.2" cy="238.9" r="4.4"/><circle cx="565.5" cy="297.4" r="4.4"/><circle cx="544.8" cy="304.7" r="4.4"/><circle cx="153.6" cy="463.1" r="4.4"/><circle cx="177.9" cy="446.1" r="4.4"/><circle cx="510.7" cy="519.2" r="4.4"/><circle cx="513.1" cy="602.1" r="4.4"/><circle cx="358.3" cy="198.7" r="4.4"/><circle cx="290.5" cy="508.5" r="4.2"/><circle cx="516.8" cy="522.8" r="4.4"/><circle cx="387.6" cy="137" r="3.8"/><circle cx="268.1" cy="499.7" r="3.8"/><circle cx="611.3" cy="368.5" r="3.8"/><circle cx="481.4" cy="565.5" r="3.8"/><circle cx="268.1" cy="472.9" r="3.4"/><circle cx="227.9" cy="152.3" r="3.4"/><circle cx="424.1" cy="162.1" r="3.4"/><circle cx="640.6" cy="12.2" r="3.4"/><circle cx="343.7" cy="252.3" r="3.4"/><circle cx="171.8" cy="328.6" r="3.1"/><circle cx="227.5" cy="151.8" r="3.1"/><circle cx="416.8" cy="148.2" r="2.9"/><circle cx="427.8" cy="167" r="2.9"/><circle cx="448.5" cy="140.9" r="2.9"/><circle cx="86.5" cy="270.6" r="2.9"/><circle cx="168.2" cy="376.6" r="2.9"/><circle cx="120.7" cy="503.3" r="2.9"/><circle cx="343.7" cy="621.6" r="2.9"/><circle cx="412" cy="555.7" r="2.6"/><circle cx="364.8" cy="118.2" r="2.7"/><circle cx="560.1" cy="593.8" r="2.5"/><circle cx="374.9" cy="107.7" r="2.5"/><circle cx="505.8" cy="168.2" r="2.5"/><circle cx="260.3" cy="231.1" r="2.5"/><circle cx="269.3" cy="229.1" r="2.5"/><circle cx="352.2" cy="266.9" r="2.5"/><circle cx="199.4" cy="315.7" r="2.5"/><circle cx="394.9" cy="504.6" r="2.5"/><circle cx="425.3" cy="593.5" r="2.5"/><circle cx="226.2" cy="152.6" r="2.6"/><circle cx="4.9" cy="236.6" r="2.5"/><circle cx="421.7" cy="168.2" r="2.5"/><circle cx="594.8" cy="15.1" r="2.5"/><circle cx="85.3" cy="258.9" r="2.5"/><circle cx="170.6" cy="382.7" r="2.5"/><circle cx="175" cy="388.8" r="2.5"/><circle cx="481.4" cy="448" r="2.5"/><circle cx="209.6" cy="560.6" r="2.5"/><circle cx="405.7" cy="542.2" r="2.3"/><circle cx="443.5" cy="558.2" r="2.1"/><circle cx="195.3" cy="409.2" r="2.1"/><circle cx="418.7" cy="232.8" r="2.1"/><circle cx="428.1" cy="540.7" r="2.1"/><circle cx="452.9" cy="146.2" r="2.2"/><circle cx="154" cy="377.8" r="2.2"/><circle cx="589.9" cy="338.8" r="2.2"/><circle cx="366.7" cy="202.4" r="2.1"/><circle cx="423.9" cy="589.5" r="2"/><circle cx="128" cy="339.5" r="2"/><circle cx="348.6" cy="262" r="2"/><circle cx="419.7" cy="461.4" r="2"/><circle cx="258.4" cy="230.8" r="2.2"/><circle cx="86.9" cy="260.1" r="2.2"/><circle cx="371.2" cy="120.2" r="2"/><circle cx="525" cy="527.6" r="1.9"/><circle cx="227.5" cy="464.4" r="1.9"/><circle cx="558.9" cy="591.3" r="2.1"/><circle cx="352.2" cy="200.5" r="2"/><circle cx="349.4" cy="209" r="2"/><circle cx="658.3" cy="97" r="1.9"/><circle cx="716.6" cy="18.3" r="2"/><circle cx="111.6" cy="257.2" r="2"/><circle cx="575.2" cy="336.4" r="2"/><circle cx="414.4" cy="206" r="2"/><circle cx="391.2" cy="503.3" r="2"/><circle cx="289.6" cy="641.1" r="2"/><circle cx="418" cy="586.2" r="2"/><circle cx="564.3" cy="588.7" r="2"/><circle cx="235.2" cy="468" r="2"/><circle cx="297.4" cy="550.9" r="2"/><circle cx="404.1" cy="542.4" r="1.9"/><circle cx="596.2" cy="310.1" r="1.9"/><circle cx="557.4" cy="536.1" r="1.8"/><circle cx="190.3" cy="531.3" r="1.8"/><circle cx="421.4" cy="166.6" r="1.8"/><circle cx="513.9" cy="186.5" r="1.9"/><circle cx="97.9" cy="256.4" r="1.9"/><circle cx="360.4" cy="205.3" r="1.8"/><circle cx="349.5" cy="261.1" r="1.7"/><circle cx="154.2" cy="445.3" r="1.7"/><circle cx="372.9" cy="124.3" r="1.8"/><circle cx="645.9" cy="44.4" r="1.8"/><circle cx="93.1" cy="261.3" r="1.8"/><circle cx="113.3" cy="293.7" r="1.8"/><circle cx="154.8" cy="323" r="1.8"/><circle cx="327.8" cy="214.5" r="1.8"/><circle cx="603.3" cy="374.2" r="1.8"/><circle cx="605.7" cy="379" r="1.8"/><circle cx="102.4" cy="493.6" r="1.8"/><circle cx="158.4" cy="487.5" r="1.8"/><circle cx="181.6" cy="504.6" r="1.8"/><circle cx="186.5" cy="536.2" r="1.8"/><circle cx="479" cy="508.2" r="1.8"/><circle cx="457.8" cy="775.6" r="1.8"/><circle cx="353.5" cy="457.5" r="1.8"/><circle cx="358.7" cy="242.1" r="1.7"/><circle cx="338.7" cy="219.1" r="1.7"/><circle cx="446.3" cy="140.9" r="1.7"/><circle cx="518.5" cy="193.1" r="1.8"/><circle cx="379.8" cy="119.6" r="1.8"/><circle cx="374.5" cy="109" r="1.6"/><circle cx="380.1" cy="122.6" r="1.6"/><circle cx="370.1" cy="201.8" r="1.6"/><circle cx="343.9" cy="433" r="1.6"/><circle cx="155.4" cy="377.8" r="1.6"/><circle cx="261.7" cy="233.1" r="1.5"/><circle cx="592.1" cy="338.6" r="1.7"/><circle cx="367" cy="199.2" r="1.5"/><circle cx="425.4" cy="202.4" r="1.5"/><circle cx="301.6" cy="543.9" r="1.5"/><circle cx="347.3" cy="261.3" r="1.4"/><circle cx="606.9" cy="63.9" r="1.6"/><circle cx="691.5" cy="171.8" r="1.6"/><circle cx="443.1" cy="254.7" r="1.6"/><circle cx="509.9" cy="346.6" r="1.6"/><circle cx="611.8" cy="556.5" r="1.6"/><circle cx="586.2" cy="576.5" r="1.6"/><circle cx="358.1" cy="203.9" r="1.4"/><circle cx="388.9" cy="502.3" r="1.5"/><circle cx="195.4" cy="528.2" r="1.5"/><circle cx="594.5" cy="16.4" r="1.5"/><circle cx="256" cy="474" r="1.5"/><circle cx="415.8" cy="149.8" r="1.5"/><circle cx="351.5" cy="265.8" r="1.3"/><circle cx="311.8" cy="552.4" r="1.3"/><circle cx="166.8" cy="496.6" r="1.3"/><circle cx="415.8" cy="205.7" r="1.3"/><circle cx="480.5" cy="507.8" r="1.3"/><circle cx="591.1" cy="69.5" r="1.3"/><circle cx="612.5" cy="427.1" r="1.3"/><circle cx="295.7" cy="725.6" r="1.3"/><circle cx="155.2" cy="342.7" r="1.2"/><circle cx="451.5" cy="144.4" r="1.3"/><circle cx="458.5" cy="542.6" r="1.2"/><circle cx="465.5" cy="173.2" r="1.1"/><circle cx="490.7" cy="185.9" r="1.1"/><circle cx="602.9" cy="372.9" r="1.1"/><circle cx="92.9" cy="263.2" r="1.1"/><circle cx="377.7" cy="122" r="1.1"/><circle cx="156" cy="475" r="1.1"/><circle cx="269.9" cy="474.2" r="1.1"/></g>
<g fill="url(#g8)"><circle cx="159.7" cy="303.5" r="6.5"/><circle cx="141.4" cy="204.8" r="6"/><circle cx="142.6" cy="203.5" r="6"/><circle cx="256" cy="513" r="6"/><circle cx="280" cy="495" r="5.9"/><circle cx="284.5" cy="481.5" r="6"/><circle cx="199.9" cy="376.6" r="6"/><circle cx="259" cy="502.5" r="6"/><circle cx="282.8" cy="482.6" r="6"/><circle cx="443.6" cy="224.2" r="5.8"/><circle cx="448.5" cy="229.1" r="5.8"/><circle cx="181.6" cy="531.4" r="5.8"/><circle cx="522.8" cy="533.8" r="5.8"/><circle cx="298.6" cy="522.8" r="5.8"/><circle cx="281.5" cy="509.4" r="5.8"/><circle cx="260.8" cy="521.6" r="5.8"/><circle cx="301" cy="420" r="5.5"/><circle cx="310.8" cy="524.1" r="5.1"/><circle cx="407.1" cy="140.2" r="5.6"/><circle cx="463.1" cy="232.8" r="5.1"/><circle cx="114.6" cy="509.4" r="5.1"/><circle cx="474.1" cy="570.4" r="5.1"/><circle cx="363.2" cy="514.3" r="5.1"/><circle cx="362.5" cy="514.5" r="5.1"/><circle cx="599.6" cy="324.2" r="5.1"/><circle cx="450.9" cy="206" r="5.1"/><circle cx="487.5" cy="204.8" r="5.1"/><circle cx="499.7" cy="526.5" r="5.1"/><circle cx="497.2" cy="531.4" r="5.1"/><circle cx="487.5" cy="578.9" r="5.1"/><circle cx="369.3" cy="510.7" r="5.1"/><circle cx="309.6" cy="141.4" r="5.1"/><circle cx="113.3" cy="500.9" r="5.1"/><circle cx="284.5" cy="507" r="4.6"/><circle cx="270.6" cy="497.2" r="4.4"/><circle cx="277.9" cy="483.8" r="4.4"/><circle cx="502.1" cy="243.8" r="4.4"/><circle cx="498.5" cy="206" r="4.4"/><circle cx="123.1" cy="497.2" r="4.4"/><circle cx="173.1" cy="465.6" r="4.4"/><circle cx="145.8" cy="266.9" r="4.3"/><circle cx="188.9" cy="355.9" r="4.4"/><circle cx="575.2" cy="290.1" r="4.4"/><circle cx="546" cy="314.4" r="4.4"/><circle cx="154.8" cy="454.6" r="4.4"/><circle cx="307" cy="427.5" r="4.6"/><circle cx="496" cy="207.2" r="4.4"/><circle cx="118.2" cy="497.2" r="4.4"/><circle cx="158.4" cy="468" r="4.4"/><circle cx="351" cy="185.2" r="4.1"/><circle cx="479" cy="201.1" r="4.4"/><circle cx="555.8" cy="273" r="4.4"/><circle cx="112.1" cy="504.6" r="4.4"/><circle cx="165.8" cy="470.4" r="4.4"/><circle cx="180.4" cy="468" r="4.4"/><circle cx="170.6" cy="450.9" r="4.4"/><circle cx="93.8" cy="233.3" r="3.8"/><circle cx="238.9" cy="143.8" r="3.6"/><circle cx="363.2" cy="132.8" r="3.8"/><circle cx="174.3" cy="309.1" r="3.8"/><circle cx="257.2" cy="463.1" r="3.4"/><circle cx="288.8" cy="472.9" r="3.4"/><circle cx="486.3" cy="174.3" r="3.8"/><circle cx="352.2" cy="257.2" r="3.8"/><circle cx="253.5" cy="460.7" r="3.8"/><circle cx="238.9" cy="143" r="3.4"/><circle cx="401" cy="180.4" r="3.4"/><circle cx="101.2" cy="255.9" r="3.4"/><circle cx="358.8" cy="243.8" r="3.4"/><circle cx="283.8" cy="467.2" r="3.4"/><circle cx="254.5" cy="460.5" r="3.4"/><circle cx="498.1" cy="257.4" r="3.3"/><circle cx="262" cy="466.8" r="3.1"/><circle cx="252.5" cy="496.1" r="2.9"/><circle cx="261.6" cy="525.4" r="3"/><circle cx="286.5" cy="485.5" r="2.9"/><circle cx="420.5" cy="609.4" r="2.9"/><circle cx="422.9" cy="591.1" r="2.9"/><circle cx="400.4" cy="212.9" r="2.9"/><circle cx="488.1" cy="548.3" r="2.9"/><circle cx="191.2" cy="468.4" r="2.7"/><circle cx="201" cy="483.7" r="2.7"/><circle cx="289.2" cy="503.8" r="2.7"/><circle cx="511.6" cy="522.1" r="2.8"/><circle cx="405.3" cy="542.6" r="2.7"/><circle cx="369.7" cy="567.7" r="2.8"/><circle cx="531.9" cy="560.8" r="2.6"/><circle cx="349" cy="444.3" r="2.6"/><circle cx="296.5" cy="525" r="2.6"/><circle cx="237.1" cy="139.9" r="2.7"/><circle cx="466.1" cy="547.7" r="2.5"/><circle cx="296.2" cy="518.8" r="2.7"/><circle cx="204" cy="410.8" r="2.5"/><circle cx="236.4" cy="542.2" r="2.5"/><circle cx="237.1" cy="505.5" r="2.5"/><circle cx="448.2" cy="201.5" r="2.5"/><circle cx="318.7" cy="529.1" r="2.5"/><circle cx="201.8" cy="484.5" r="2.5"/><circle cx="355.6" cy="199.6" r="2.6"/><circle cx="513.1" cy="176.4" r="2.5"/><circle cx="339.3" cy="602.4" r="2.5"/><circle cx="327.8" cy="135.3" r="2.5"/><circle cx="366.8" cy="124.3" r="2.5"/><circle cx="374.2" cy="120.7" r="2.5"/><circle cx="434.4" cy="122.4" r="2.5"/><circle cx="430.2" cy="174.3" r="2.5"/><circle cx="509" cy="171.8" r="2.5"/><circle cx="510.7" cy="186.5" r="2.5"/><circle cx="516.8" cy="192.6" r="2.5"/><circle cx="714.2" cy="20.7" r="2.5"/><circle cx="710.5" cy="29.2" r="2.5"/><circle cx="170.6" cy="362.7" r="2.5"/><circle cx="351" cy="208.4" r="2.5"/><circle cx="351" cy="199.9" r="2.5"/><circle cx="357.1" cy="247.4" r="2.5"/><circle cx="594.8" cy="327.8" r="2.5"/><circle cx="597.2" cy="335.2" r="2.5"/><circle cx="430.2" cy="243.8" r="2.5"/><circle cx="424.1" cy="204.8" r="2.5"/><circle cx="168.2" cy="391.2" r="2.5"/><circle cx="482.6" cy="510.7" r="2.5"/><circle cx="394.9" cy="575.2" r="2.5"/><circle cx="297.4" cy="588.7" r="2.5"/><circle cx="327.8" cy="589.9" r="2.5"/><circle cx="319.3" cy="601.6" r="2.5"/><circle cx="392.4" cy="605.7" r="2.5"/><circle cx="474.1" cy="600.8" r="2.5"/><circle cx="226.7" cy="463.1" r="2.5"/><circle cx="312" cy="549.7" r="2.5"/><circle cx="363.2" cy="558.2" r="2.5"/><circle cx="290.1" cy="499.7" r="2.5"/><circle cx="237.8" cy="145.9" r="2.5"/><circle cx="218.1" cy="568" r="2.6"/><circle cx="93" cy="231.8" r="2.4"/><circle cx="190.1" cy="528.5" r="2.4"/><circle cx="344.9" cy="204.9" r="2.5"/><circle cx="313" cy="586" r="2.5"/><circle cx="221.2" cy="489.1" r="2.5"/><circle cx="434.2" cy="219.7" r="2.3"/><circle cx="368.8" cy="568.2" r="2.3"/><circle cx="231.6" cy="489.6" r="2.3"/><circle cx="336.3" cy="203.5" r="2.4"/><circle cx="265" cy="564.3" r="2.3"/><circle cx="189.2" cy="531.5" r="2.5"/><circle cx="421.7" cy="230.8" r="2.4"/><circle cx="138.6" cy="202" r="2.4"/><circle cx="477.5" cy="541.7" r="2.5"/><circle cx="588.3" cy="6.1" r="2.3"/><circle cx="409.9" cy="210.6" r="2.4"/><circle cx="231.3" cy="494.2" r="2.4"/><circle cx="348.2" cy="170.9" r="2.3"/><circle cx="516.1" cy="607.1" r="2.3"/><circle cx="468.1" cy="604.4" r="2.3"/><circle cx="594.8" cy="9.8" r="2.4"/><circle cx="346" cy="602" r="2.2"/><circle cx="298.6" cy="123.1" r="2.2"/><circle cx="348.6" cy="133.6" r="2.2"/><circle cx="452.9" cy="158.4" r="2.2"/><circle cx="153.6" cy="342.5" r="2.2"/><circle cx="330.3" cy="218.9" r="2.2"/><circle cx="521.9" cy="516.9" r="2.5"/><circle cx="199.1" cy="424.6" r="2.3"/><circle cx="361.7" cy="545.1" r="2.2"/><circle cx="96.4" cy="235.6" r="2.3"/><circle cx="327.2" cy="615.4" r="2.2"/><circle cx="192" cy="528.2" r="2.1"/><circle cx="139.8" cy="258.4" r="2.2"/><circle cx="348.2" cy="555.7" r="2.1"/><circle cx="196.6" cy="342.7" r="2.2"/><circle cx="371.2" cy="203.9" r="2.1"/><circle cx="434.8" cy="182" r="2.1"/><circle cx="376.3" cy="120.3" r="2.2"/><circle cx="584.1" cy="341.1" r="2.2"/><circle cx="214.5" cy="456.7" r="2.2"/><circle cx="295.4" cy="526.6" r="2.2"/><circle cx="569.1" cy="304.1" r="2.1"/><circle cx="518" cy="521.3" r="2"/><circle cx="305.3" cy="134.1" r="2.1"/><circle cx="371.3" cy="122.7" r="2.2"/><circle cx="525.2" cy="563.1" r="2"/><circle cx="299.1" cy="156.5" r="2.1"/><circle cx="530.4" cy="524.9" r="2.1"/><circle cx="372.2" cy="121.3" r="2.1"/><circle cx="481.2" cy="174.8" r="2.1"/><circle cx="339.5" cy="114.1" r="2"/><circle cx="377.8" cy="119.4" r="2"/><circle cx="492.4" cy="184" r="2"/><circle cx="664.2" cy="95.5" r="2"/><circle cx="336.4" cy="218.2" r="2"/><circle cx="321.8" cy="230.3" r="2"/><circle cx="362" cy="236.9" r="2"/><circle cx="430.2" cy="209.6" r="2"/><circle cx="507" cy="254.7" r="2"/><circle cx="570.4" cy="316.9" r="2"/><circle cx="108.5" cy="498.5" r="2"/><circle cx="156" cy="472.9" r="2"/><circle cx="173.1" cy="510.7" r="2"/><circle cx="180.4" cy="536.2" r="2"/><circle cx="193.8" cy="526.5" r="2"/><circle cx="503.3" cy="518" r="2"/><circle cx="563.1" cy="504.6" r="2"/><circle cx="329.5" cy="616.2" r="2"/><circle cx="265.9" cy="565.4" r="2"/><circle cx="457.1" cy="538.5" r="2.1"/><circle cx="168" cy="388.8" r="2.1"/><circle cx="233.1" cy="489.9" r="2.1"/><circle cx="136.8" cy="206.2" r="2"/><circle cx="348.6" cy="559.7" r="2.1"/><circle cx="362.1" cy="205.1" r="2"/><circle cx="323.4" cy="579.2" r="2"/><circle cx="369.7" cy="123.2" r="2.2"/><circle cx="429.1" cy="540.8" r="2.1"/><circle cx="396" cy="558.7" r="1.9"/><circle cx="595.6" cy="334.9" r="2.1"/><circle cx="342.7" cy="601.9" r="1.9"/><circle cx="415.7" cy="541.2" r="1.9"/><circle cx="157.5" cy="391.8" r="2"/><circle cx="460.9" cy="617.6" r="1.9"/><circle cx="716" cy="21.7" r="2"/><circle cx="225" cy="531.2" r="1.9"/><circle cx="376.6" cy="123.1" r="2"/><circle cx="336" cy="242.1" r="1.9"/><circle cx="345.9" cy="200.6" r="1.9"/><circle cx="429.8" cy="241" r="1.9"/><circle cx="611.5" cy="83.5" r="1.9"/><circle cx="660.2" cy="94.2" r="2"/><circle cx="658.5" cy="100.8" r="2"/><circle cx="709.1" cy="26.8" r="2"/><circle cx="205.7" cy="485.5" r="1.9"/><circle cx="484.5" cy="510.6" r="2"/><circle cx="357.4" cy="197.5" r="1.9"/><circle cx="185.9" cy="446.6" r="1.8"/><circle cx="433.4" cy="212.3" r="2"/><circle cx="138.1" cy="257.5" r="1.8"/><circle cx="486.1" cy="176.6" r="1.8"/><circle cx="333.9" cy="175" r="1.8"/><circle cx="465.6" cy="171.8" r="1.8"/><circle cx="615.5" cy="152.3" r="1.8"/><circle cx="583.8" cy="558.2" r="1.8"/><circle cx="350.2" cy="134.6" r="1.9"/><circle cx="497.3" cy="577.6" r="1.8"/><circle cx="344.5" cy="432" r="1.8"/><circle cx="512.6" cy="521.3" r="1.7"/><circle cx="344" cy="214.7" r="1.8"/><circle cx="447.7" cy="549.6" r="1.8"/><circle cx="516.5" cy="602.1" r="1.8"/><circle cx="367.6" cy="126.3" r="1.9"/><circle cx="439.3" cy="222.7" r="1.7"/><circle cx="184.2" cy="479.5" r="1.8"/><circle cx="317.7" cy="522" r="1.7"/><circle cx="329.4" cy="218.1" r="1.9"/><circle cx="295.4" cy="412.9" r="1.8"/><circle cx="321.6" cy="586" r="1.8"/><circle cx="446.5" cy="570.9" r="1.8"/><circle cx="366.2" cy="202.6" r="1.7"/><circle cx="162.8" cy="475.5" r="1.7"/><circle cx="379" cy="123.8" r="1.8"/><circle cx="713.5" cy="23" r="1.8"/><circle cx="229.8" cy="498.4" r="1.7"/><circle cx="329.1" cy="132.7" r="1.6"/><circle cx="338.8" cy="213.4" r="1.6"/><circle cx="291.4" cy="502.9" r="1.8"/><circle cx="330" cy="614.9" r="1.7"/><circle cx="359.3" cy="197.4" r="1.6"/><circle cx="375.5" cy="509.9" r="1.7"/><circle cx="435.8" cy="120.7" r="1.6"/><circle cx="616.8" cy="549" r="1.7"/><circle cx="202.6" cy="548.6" r="1.6"/><circle cx="504.6" cy="515.9" r="1.7"/><circle cx="417.4" cy="555.4" r="1.7"/><circle cx="428" cy="239.2" r="1.6"/><circle cx="531.8" cy="533.9" r="1.6"/><circle cx="611.3" cy="82.5" r="1.6"/><circle cx="468" cy="168.2" r="1.6"/><circle cx="611.8" cy="424.1" r="1.6"/><circle cx="592.3" cy="572.3" r="1.6"/><circle cx="270.6" cy="475.3" r="1.6"/><circle cx="186.9" cy="446.8" r="1.5"/><circle cx="447.3" cy="315.9" r="1.6"/><circle cx="715.6" cy="23.2" r="1.7"/><circle cx="325.3" cy="200.1" r="1.5"/><circle cx="269.3" cy="473.9" r="1.6"/><circle cx="447.3" cy="236.4" r="1.5"/><circle cx="338.7" cy="429.4" r="1.5"/><circle cx="662.5" cy="94.8" r="1.5"/><circle cx="182.5" cy="534.9" r="1.5"/><circle cx="285.2" cy="472.5" r="1.5"/><circle cx="709.5" cy="25.9" r="1.5"/><circle cx="592.7" cy="308.9" r="1.5"/><circle cx="406.1" cy="192.2" r="1.4"/><circle cx="335.1" cy="200.2" r="1.6"/><circle cx="430.5" cy="570.7" r="1.4"/><circle cx="176.2" cy="518.2" r="1.6"/><circle cx="495.7" cy="260.9" r="1.4"/><circle cx="429.8" cy="171.4" r="1.5"/><circle cx="616.4" cy="527.8" r="1.4"/><circle cx="475" cy="497.9" r="1.4"/><circle cx="593.3" cy="571.9" r="1.4"/><circle cx="355.9" cy="248" r="1.5"/><circle cx="461" cy="535.9" r="1.4"/><circle cx="175.4" cy="517.4" r="1.4"/><circle cx="338.3" cy="244.4" r="1.4"/><circle cx="360.3" cy="521.8" r="1.4"/><circle cx="386.2" cy="506.4" r="1.4"/><circle cx="361.4" cy="206.9" r="1.3"/><circle cx="137.3" cy="350.3" r="1.3"/><circle cx="170.1" cy="447.8" r="1.4"/><circle cx="597.7" cy="57.8" r="1.3"/><circle cx="178.8" cy="515.6" r="1.3"/><circle cx="175.3" cy="333.5" r="1.3"/><circle cx="458" cy="535.4" r="1.3"/><circle cx="165.9" cy="493.9" r="1.3"/><circle cx="164" cy="467.9" r="1.3"/><circle cx="437.1" cy="213.7" r="1.3"/><circle cx="488.4" cy="172.8" r="1.4"/><circle cx="320.6" cy="205.7" r="1.3"/><circle cx="329.4" cy="587.9" r="1.4"/><circle cx="189.8" cy="522.5" r="1.3"/><circle cx="625.4" cy="152.4" r="1.2"/><circle cx="350.6" cy="541.3" r="1.2"/><circle cx="316.3" cy="534.7" r="1.2"/><circle cx="362.8" cy="593.5" r="1.2"/><circle cx="447.5" cy="215.2" r="1.2"/><circle cx="269.3" cy="472.4" r="1.2"/><circle cx="299.8" cy="123.1" r="1.3"/><circle cx="593.2" cy="570" r="1.2"/><circle cx="446.5" cy="320.8" r="1.2"/><circle cx="110.1" cy="497.7" r="1.2"/><circle cx="489.2" cy="175.2" r="1.2"/><circle cx="137" cy="363.1" r="1.2"/><circle cx="457.5" cy="546" r="1.1"/><circle cx="413.2" cy="193.1" r="1.1"/><circle cx="270.2" cy="473.1" r="1.1"/><circle cx="268.2" cy="470.6" r="1.1"/><circle cx="569" cy="315.3" r="1.1"/><circle cx="494.8" cy="246.1" r="1.1"/><circle cx="596.1" cy="572.3" r="1.1"/><circle cx="477.8" cy="179.2" r="1.1"/></g>
<g fill="url(#g9)"><circle cx="255.9" cy="499.7" r="6"/><circle cx="319" cy="468" r="6"/><circle cx="280.3" cy="497.2" r="6"/><circle cx="276.7" cy="504.6" r="6"/><circle cx="143.8" cy="280.3" r="6"/><circle cx="516.8" cy="536.2" r="6"/><circle cx="198.7" cy="385.1" r="5.8"/><circle cx="304.7" cy="525.3" r="5.8"/><circle cx="148.7" cy="288.8" r="5.8"/><circle cx="453.4" cy="225.5" r="5.8"/><circle cx="460.7" cy="226.7" r="5.8"/><circle cx="465.6" cy="202.3" r="5.8"/><circle cx="543.6" cy="536.2" r="5.8"/><circle cx="498.5" cy="563.1" r="5.8"/><circle cx="335.5" cy="432.8" r="5.2"/><circle cx="280" cy="510" r="5.2"/><circle cx="480.2" cy="542.3" r="5.2"/><circle cx="586.2" cy="293.7" r="5.1"/><circle cx="470.4" cy="198.7" r="5.1"/><circle cx="162.1" cy="463.1" r="5.1"/><circle cx="550.9" cy="538.7" r="5.1"/><circle cx="500.9" cy="571.6" r="5.1"/><circle cx="331.5" cy="526.5" r="5.1"/><circle cx="353.4" cy="536.2" r="5.1"/><circle cx="157.8" cy="309.3" r="5.5"/><circle cx="316.9" cy="136.5" r="5.1"/><circle cx="190.1" cy="363.2" r="5.1"/><circle cx="315.7" cy="199.9" r="5.1"/><circle cx="482.6" cy="235.2" r="5.1"/><circle cx="550.9" cy="268.1" r="5.1"/><circle cx="560.6" cy="276.7" r="5.1"/><circle cx="187.7" cy="468" r="5.1"/><circle cx="173.1" cy="475.3" r="5.1"/><circle cx="553.3" cy="526.5" r="5.1"/><circle cx="355.9" cy="531.4" r="5.1"/><circle cx="314.4" cy="525" r="4.9"/><circle cx="397.3" cy="168.2" r="5.2"/><circle cx="519.2" cy="527.7" r="5.1"/><circle cx="346.1" cy="530.2" r="5.1"/><circle cx="241.3" cy="156" r="4.7"/><circle cx="298.8" cy="500.2" r="4.6"/><circle cx="338.5" cy="520.5" r="4.6"/><circle cx="494.8" cy="177.9" r="4.8"/><circle cx="546" cy="241.3" r="4.4"/><circle cx="563.1" cy="302.2" r="4.4"/><circle cx="344.2" cy="186.5" r="4.4"/><circle cx="100.4" cy="262.8" r="4.4"/><circle cx="349" cy="253.5" r="4.4"/><circle cx="509.4" cy="248.6" r="4.4"/><circle cx="567.9" cy="286.4" r="4.4"/><circle cx="520.4" cy="598.4" r="4.4"/><circle cx="158.4" cy="336.4" r="4.1"/><circle cx="282.2" cy="434.2" r="3.4"/><circle cx="262.8" cy="466.5" r="3.4"/><circle cx="368.5" cy="559.1" r="3.3"/><circle cx="593.9" cy="12.4" r="3.5"/><circle cx="197.8" cy="329.4" r="3.3"/><circle cx="410.1" cy="144.5" r="3.4"/><circle cx="255.9" cy="468" r="3.4"/><circle cx="225.5" cy="563.6" r="3.2"/><circle cx="259" cy="465" r="3.4"/><circle cx="260.5" cy="470.2" r="3.4"/><circle cx="310" cy="520.1" r="3.1"/><circle cx="250.6" cy="524.6" r="3.1"/><circle cx="260.8" cy="460.7" r="3.1"/><circle cx="277" cy="435.8" r="3"/><circle cx="525.1" cy="525" r="2.9"/><circle cx="711.8" cy="23.9" r="2.9"/><circle cx="335.2" cy="202.3" r="2.9"/><circle cx="558.2" cy="594.3" r="2.9"/><circle cx="243.1" cy="516" r="2.9"/><circle cx="282.1" cy="494.6" r="2.9"/><circle cx="209.7" cy="412.8" r="3"/><circle cx="290.8" cy="517.9" r="2.9"/><circle cx="210.6" cy="451.8" r="2.9"/><circle cx="243.7" cy="557.9" r="2.9"/><circle cx="424.7" cy="227.3" r="2.8"/><circle cx="368.1" cy="565.7" r="2.9"/><circle cx="210.7" cy="415.8" r="3"/><circle cx="281.4" cy="504.6" r="2.8"/><circle cx="404.8" cy="555.6" r="2.8"/><circle cx="497.9" cy="530" r="2.9"/><circle cx="188.4" cy="525.7" r="2.7"/><circle cx="253" cy="515.2" r="2.6"/><circle cx="401.6" cy="558.2" r="2.9"/><circle cx="274" cy="450" r="2.8"/><circle cx="432" cy="222.3" r="2.8"/><circle cx="268.5" cy="518.1" r="2.6"/><circle cx="270.8" cy="515.8" r="2.7"/><circle cx="289.5" cy="503" r="2.6"/><circle cx="268.7" cy="578.4" r="2.7"/><circle cx="323.4" cy="531.4" r="2.6"/><circle cx="407.9" cy="557" r="2.7"/><circle cx="402.2" cy="557.3" r="2.8"/><circle cx="180.9" cy="526.5" r="2.5"/><circle cx="198.6" cy="424.7" r="2.5"/><circle cx="257.9" cy="568.3" r="2.4"/><circle cx="258.2" cy="511.8" r="2.6"/><circle cx="368.1" cy="203.5" r="2.5"/><circle cx="365.6" cy="199.9" r="2.5"/><circle cx="465.6" cy="278.4" r="2.5"/><circle cx="177.9" cy="516.8" r="2.5"/><circle cx="190.1" cy="524.1" r="2.5"/><circle cx="349" cy="199.5" r="2.4"/><circle cx="455.7" cy="232.9" r="2.5"/><circle cx="436.6" cy="179.6" r="2.6"/><circle cx="438.9" cy="542.3" r="2.4"/><circle cx="258.1" cy="536.3" r="2.5"/><circle cx="391.3" cy="169.7" r="2.6"/><circle cx="202.6" cy="497.6" r="2.4"/><circle cx="250.3" cy="521.5" r="2.5"/><circle cx="238.9" cy="501.4" r="2.4"/><circle cx="549.9" cy="533.5" r="2.6"/><circle cx="311.7" cy="588.4" r="2.6"/><circle cx="114.5" cy="504.7" r="2.5"/><circle cx="515.5" cy="180.4" r="2.5"/><circle cx="327.1" cy="130.6" r="2.4"/><circle cx="713.5" cy="26.5" r="2.3"/><circle cx="202.1" cy="401.6" r="2.5"/><circle cx="481.5" cy="540.6" r="2.5"/><circle cx="285.1" cy="477.2" r="2.5"/><circle cx="232.2" cy="566.2" r="2.3"/><circle cx="548" cy="545.2" r="2.3"/><circle cx="159.6" cy="470.3" r="2.3"/><circle cx="111.5" cy="499.6" r="2.4"/><circle cx="352.6" cy="199.2" r="2.4"/><circle cx="206.7" cy="419.2" r="2.4"/><circle cx="469.2" cy="159.7" r="2.2"/><circle cx="414.3" cy="540.5" r="2.3"/><circle cx="214.4" cy="485.9" r="2.2"/><circle cx="135.3" cy="205.4" r="2.4"/><circle cx="468.1" cy="557.6" r="2.2"/><circle cx="249.2" cy="502" r="2.4"/><circle cx="419" cy="225.3" r="2.2"/><circle cx="539.8" cy="526.5" r="2.3"/><circle cx="524.9" cy="551.1" r="2.1"/><circle cx="192.1" cy="411.7" r="2.2"/><circle cx="537.3" cy="538.8" r="2.1"/><circle cx="358.8" cy="519.7" r="2.1"/><circle cx="416.6" cy="541.8" r="2.2"/><circle cx="188.7" cy="403.3" r="2.2"/><circle cx="286" cy="510" r="2.2"/><circle cx="429" cy="232" r="2.2"/><circle cx="193.5" cy="406.6" r="2.1"/><circle cx="523.3" cy="527.2" r="2.1"/><circle cx="389.9" cy="507.5" r="2.1"/><circle cx="203.9" cy="411" r="2.1"/><circle cx="341.5" cy="602.2" r="2.1"/><circle cx="396.8" cy="607" r="2.2"/><circle cx="137.2" cy="357.1" r="2.2"/><circle cx="493.5" cy="530.1" r="2.1"/><circle cx="427.4" cy="234.6" r="2.1"/><circle cx="468.3" cy="557.1" r="2.2"/><circle cx="321.9" cy="621.3" r="2.1"/><circle cx="406.5" cy="293.2" r="2.1"/><circle cx="476.5" cy="599.6" r="2.2"/><circle cx="340.6" cy="244.5" r="2.2"/><circle cx="196" cy="326.4" r="2.1"/><circle cx="228" cy="481.8" r="2.1"/><circle cx="197" cy="482.2" r="2"/><circle cx="344.2" cy="215.7" r="2"/><circle cx="179.2" cy="532.1" r="2.1"/><circle cx="274.4" cy="523.5" r="2.2"/><circle cx="351.1" cy="172.4" r="2.1"/><circle cx="206.8" cy="476.2" r="2.1"/><circle cx="97.4" cy="234.8" r="2.2"/><circle cx="253.9" cy="532.2" r="2.1"/><circle cx="474.7" cy="543.1" r="2.1"/><circle cx="424.7" cy="220.2" r="2"/><circle cx="288.9" cy="520.7" r="2"/><circle cx="401.9" cy="183.1" r="2.2"/><circle cx="387.5" cy="599.7" r="2.2"/><circle cx="547.7" cy="601.5" r="2.1"/><circle cx="467.9" cy="240.8" r="2.1"/><circle cx="338.2" cy="210.3" r="1.9"/><circle cx="178.2" cy="443.1" r="2.1"/><circle cx="235.3" cy="520.2" r="2.1"/><circle cx="464" cy="602.3" r="2"/><circle cx="295.8" cy="519.6" r="1.9"/><circle cx="444.8" cy="238.1" r="2.1"/><circle cx="444.4" cy="227.9" r="1.9"/><circle cx="139.4" cy="349.8" r="1.9"/><circle cx="112.8" cy="286.9" r="2.1"/><circle cx="414.3" cy="146.6" r="1.9"/><circle cx="446.9" cy="218.2" r="2.1"/><circle cx="315.6" cy="569" r="1.9"/><circle cx="128.1" cy="252.8" r="2"/><circle cx="363.5" cy="519.9" r="2.1"/><circle cx="469.3" cy="157.8" r="2"/><circle cx="461" cy="535.1" r="1.9"/><circle cx="449.2" cy="208.3" r="1.9"/><circle cx="309.2" cy="139.6" r="2"/><circle cx="323.5" cy="530.3" r="1.9"/><circle cx="536.2" cy="544.6" r="2"/><circle cx="361.7" cy="511.6" r="1.9"/><circle cx="499" cy="262.6" r="2"/><circle cx="432.5" cy="178.3" r="2.1"/><circle cx="533.6" cy="535.6" r="2"/><circle cx="333.5" cy="204.4" r="2"/><circle cx="312.6" cy="585.3" r="2"/><circle cx="551" cy="534.1" r="1.9"/><circle cx="495.2" cy="208.3" r="2"/><circle cx="339.4" cy="214.3" r="2"/><circle cx="344.5" cy="206.9" r="1.8"/><circle cx="455.9" cy="240" r="1.9"/><circle cx="407.8" cy="172.2" r="2"/><circle cx="317.7" cy="472.4" r="1.8"/><circle cx="373.5" cy="558.5" r="2"/><circle cx="579.6" cy="297.3" r="1.9"/><circle cx="184.4" cy="404.2" r="1.8"/><circle cx="325.4" cy="195.9" r="1.9"/><circle cx="399.1" cy="212.4" r="1.9"/><circle cx="513.6" cy="176.3" r="1.8"/><circle cx="451" cy="232.4" r="1.9"/><circle cx="438.1" cy="222.6" r="1.9"/><circle cx="554.4" cy="244.5" r="1.9"/><circle cx="375.6" cy="573" r="1.8"/><circle cx="395.5" cy="558.7" r="1.9"/><circle cx="370.6" cy="565.5" r="1.9"/><circle cx="448.2" cy="525.4" r="1.9"/><circle cx="301.2" cy="542.9" r="1.8"/><circle cx="437.2" cy="222.9" r="1.8"/><circle cx="223.8" cy="495.5" r="1.7"/><circle cx="189" cy="357.5" r="1.9"/><circle cx="596.4" cy="297.8" r="1.8"/><circle cx="413" cy="299.6" r="1.9"/><circle cx="175.2" cy="482.6" r="1.7"/><circle cx="594.3" cy="304.9" r="1.7"/><circle cx="385.5" cy="147" r="1.7"/><circle cx="440.7" cy="230.4" r="1.8"/><circle cx="468.9" cy="598.7" r="1.8"/><circle cx="543.5" cy="302.6" r="1.9"/><circle cx="298.5" cy="410.7" r="1.8"/><circle cx="157.4" cy="498.6" r="1.8"/><circle cx="283.9" cy="470.7" r="1.7"/><circle cx="446.8" cy="564.1" r="1.7"/><circle cx="197.8" cy="360.7" r="1.7"/><circle cx="375" cy="505.9" r="1.7"/><circle cx="581.9" cy="344" r="1.7"/><circle cx="157.4" cy="390.7" r="1.7"/><circle cx="359.8" cy="547.1" r="1.7"/><circle cx="306.2" cy="137.8" r="1.8"/><circle cx="523.1" cy="567.5" r="1.7"/><circle cx="480.8" cy="177.2" r="1.6"/><circle cx="573.4" cy="311.3" r="1.7"/><circle cx="159.5" cy="476.7" r="1.7"/><circle cx="467.9" cy="604" r="1.6"/><circle cx="320.6" cy="204.5" r="1.6"/><circle cx="112.1" cy="507.4" r="1.7"/><circle cx="275.3" cy="526.8" r="1.6"/><circle cx="469.8" cy="160.7" r="1.8"/><circle cx="483.3" cy="564.9" r="1.6"/><circle cx="323.9" cy="576.3" r="1.7"/><circle cx="387.1" cy="145.4" r="1.8"/><circle cx="436.1" cy="202.8" r="1.7"/><circle cx="317" cy="473.5" r="1.6"/><circle cx="480.9" cy="180.3" r="1.6"/><circle cx="477" cy="202" r="1.7"/><circle cx="480.7" cy="563.8" r="1.6"/><circle cx="615.3" cy="551.9" r="1.7"/><circle cx="460.9" cy="617.5" r="1.6"/><circle cx="358.3" cy="205.3" r="1.7"/><circle cx="532.8" cy="534.4" r="1.6"/><circle cx="479" cy="239.6" r="1.7"/><circle cx="356.3" cy="206.4" r="1.6"/><circle cx="121.1" cy="302.8" r="1.6"/><circle cx="339.2" cy="427.7" r="1.7"/><circle cx="197.4" cy="355.1" r="1.7"/><circle cx="495.4" cy="210" r="1.6"/><circle cx="396.1" cy="169.6" r="1.6"/><circle cx="448.4" cy="319.1" r="1.6"/><circle cx="140.2" cy="362.4" r="1.7"/><circle cx="565.1" cy="295.7" r="1.7"/><circle cx="285.1" cy="470.4" r="1.5"/><circle cx="313.1" cy="227.1" r="1.5"/><circle cx="309.2" cy="514.1" r="1.6"/><circle cx="233.6" cy="499.6" r="1.5"/><circle cx="345.5" cy="253.4" r="1.5"/><circle cx="497.2" cy="578.9" r="1.6"/><circle cx="176.5" cy="482.6" r="1.5"/><circle cx="594.3" cy="569.8" r="1.5"/><circle cx="192.2" cy="355.8" r="1.5"/><circle cx="502" cy="246.1" r="1.5"/><circle cx="112.1" cy="287.8" r="1.6"/><circle cx="156.5" cy="469.5" r="1.6"/><circle cx="370.4" cy="506.8" r="1.6"/><circle cx="415.5" cy="187.2" r="1.5"/><circle cx="457.9" cy="615.8" r="1.5"/><circle cx="465.8" cy="540.5" r="1.5"/><circle cx="458.5" cy="534.7" r="1.6"/><circle cx="459.9" cy="543.7" r="1.5"/><circle cx="457.4" cy="510.3" r="1.4"/><circle cx="476.9" cy="242.9" r="1.5"/><circle cx="158.4" cy="469.8" r="1.5"/><circle cx="431.4" cy="570.3" r="1.5"/><circle cx="476.9" cy="593.2" r="1.5"/><circle cx="438.1" cy="119.3" r="1.5"/><circle cx="40" cy="245.6" r="1.4"/><circle cx="257.7" cy="469" r="1.3"/><circle cx="342.7" cy="216.7" r="1.3"/><circle cx="419.4" cy="554.4" r="1.3"/><circle cx="349.6" cy="257.6" r="1.4"/><circle cx="408.7" cy="189.5" r="1.4"/><circle cx="169.9" cy="482.4" r="1.3"/><circle cx="425" cy="233.4" r="1.4"/><circle cx="428.8" cy="180.6" r="1.4"/><circle cx="479.1" cy="181.1" r="1.3"/><circle cx="133" cy="494.1" r="1.3"/><circle cx="154.5" cy="394.8" r="1.4"/><circle cx="447.4" cy="541.9" r="1.3"/><circle cx="155.5" cy="338.3" r="1.4"/><circle cx="576.4" cy="290.9" r="1.3"/><circle cx="502.5" cy="579.9" r="1.3"/><circle cx="584.9" cy="556.4" r="1.3"/><circle cx="257.3" cy="465.3" r="1.2"/><circle cx="284.8" cy="467.1" r="1.2"/><circle cx="476.9" cy="499.3" r="1.3"/><circle cx="156.3" cy="464.8" r="1.2"/><circle cx="267.2" cy="474.5" r="1.3"/><circle cx="160.5" cy="495.8" r="1.3"/><circle cx="618.5" cy="372" r="1.2"/><circle cx="446.4" cy="319.2" r="1.2"/><circle cx="479.8" cy="181.2" r="1.1"/><circle cx="361.2" cy="592" r="1.1"/><circle cx="614.5" cy="551.8" r="1.2"/><circle cx="595.7" cy="311" r="1.2"/><circle cx="600.3" cy="539.6" r="1.1"/><circle cx="253.6" cy="458.2" r="1.1"/><circle cx="577.3" cy="309.1" r="1.1"/><circle cx="459.4" cy="563.6" r="1.1"/><circle cx="458.5" cy="566" r="1.1"/><circle cx="627.3" cy="150.6" r="1.1"/><circle cx="613.1" cy="423.2" r="1.1"/><circle cx="506.9" cy="253" r="1.1"/><circle cx="416.1" cy="555.5" r="1.1"/><circle cx="413.2" cy="186.6" r="1.1"/></g>
<g fill="url(#g10)"><circle cx="511.9" cy="533.8" r="6"/><circle cx="336.4" cy="522.8" r="6"/><circle cx="184" cy="359.5" r="6"/><circle cx="157.2" cy="459.5" r="6"/><circle cx="504.6" cy="524.1" r="6"/><circle cx="315.7" cy="594.8" r="6"/><circle cx="347.3" cy="249.1" r="5.8"/><circle cx="475.3" cy="226.7" r="5.8"/><circle cx="121.9" cy="511.9" r="5.8"/><circle cx="341.2" cy="525.3" r="5.8"/><circle cx="343.7" cy="243.8" r="5.8"/><circle cx="472.9" cy="204.8" r="5.8"/><circle cx="582.6" cy="282.8" r="5.8"/><circle cx="454.6" cy="502.1" r="5.8"/><circle cx="436.3" cy="557" r="5.8"/><circle cx="343.7" cy="552.1" r="5.8"/><circle cx="483.8" cy="549.7" r="5.6"/><circle cx="472.9" cy="234" r="5.8"/><circle cx="310.8" cy="131.6" r="5.1"/><circle cx="548.4" cy="260.8" r="5.1"/><circle cx="572.8" cy="284" r="5.1"/><circle cx="174.3" cy="419.2" r="5.1"/><circle cx="507" cy="565.5" r="5.1"/><circle cx="482.6" cy="575.2" r="5.1"/><circle cx="497.2" cy="537.5" r="5.2"/><circle cx="450.9" cy="617.9" r="5.2"/><circle cx="204.8" cy="472.9" r="5.2"/><circle cx="209.6" cy="482.6" r="5.2"/><circle cx="202.3" cy="521.6" r="5.2"/><circle cx="209.6" cy="526.5" r="5.2"/><circle cx="336.4" cy="553.3" r="5.2"/><circle cx="583.8" cy="288.8" r="5.1"/><circle cx="441.2" cy="184" r="5.1"/><circle cx="592.3" cy="290.1" r="5.1"/><circle cx="489.9" cy="234" r="5.1"/><circle cx="543.6" cy="255.9" r="5.1"/><circle cx="558.2" cy="314.4" r="5.1"/><circle cx="487.5" cy="570.4" r="5.1"/><circle cx="260.5" cy="520.5" r="5.2"/><circle cx="320.5" cy="463.5" r="5.1"/><circle cx="354.7" cy="174.3" r="5.2"/><circle cx="492.4" cy="548.4" r="5.2"/><circle cx="204.8" cy="397.3" r="5.2"/><circle cx="214.5" cy="468" r="5.2"/><circle cx="448.5" cy="498.5" r="4.7"/><circle cx="487.5" cy="538.7" r="4.7"/><circle cx="268.1" cy="572.8" r="4.7"/><circle cx="592.3" cy="9.8" r="4.7"/><circle cx="504.6" cy="536.2" r="4.7"/><circle cx="182.8" cy="463.1" r="4.4"/><circle cx="186.5" cy="460.7" r="4.4"/><circle cx="502.1" cy="209.6" r="4.4"/><circle cx="313" cy="519" r="4.2"/><circle cx="341.2" cy="138.9" r="4.1"/><circle cx="299.5" cy="492.8" r="3.8"/><circle cx="220.5" cy="559.9" r="3.7"/><circle cx="413.2" cy="142.6" r="3.8"/><circle cx="311.3" cy="520.6" r="3.5"/><circle cx="334.4" cy="132.8" r="3.4"/><circle cx="496.9" cy="544" r="3.5"/><circle cx="142.5" cy="200.8" r="3.4"/><circle cx="265.1" cy="517.9" r="3.6"/><circle cx="293.5" cy="520.5" r="3.4"/><circle cx="283.4" cy="507.8" r="3.2"/><circle cx="251.8" cy="521.4" r="3.4"/><circle cx="139.4" cy="206" r="3.4"/><circle cx="314.5" cy="523.5" r="3.2"/><circle cx="255.9" cy="582.4" r="3.4"/><circle cx="235.7" cy="570.8" r="3.3"/><circle cx="308.5" cy="517.5" r="3.2"/><circle cx="487" cy="514.5" r="3.4"/><circle cx="249.9" cy="531.7" r="3.1"/><circle cx="222.6" cy="479.5" r="3.1"/><circle cx="287.9" cy="477.9" r="3"/><circle cx="278.7" cy="589.2" r="3.1"/><circle cx="276.1" cy="589.2" r="3.1"/><circle cx="299.4" cy="166.7" r="2.9"/><circle cx="327.8" cy="129.2" r="2.9"/><circle cx="515.6" cy="541.1" r="3"/><circle cx="257.9" cy="522.3" r="2.9"/><circle cx="293.5" cy="583.5" r="2.9"/><circle cx="301.9" cy="521.6" r="3"/><circle cx="444.8" cy="554.6" r="2.9"/><circle cx="281.7" cy="495.7" r="2.9"/><circle cx="187.7" cy="530.2" r="2.9"/><circle cx="287.6" cy="507" r="2.9"/><circle cx="284.5" cy="589.9" r="3"/><circle cx="286" cy="507" r="3"/><circle cx="470.7" cy="555.1" r="2.9"/><circle cx="594.3" cy="4.7" r="2.9"/><circle cx="193.8" cy="478.7" r="2.9"/><circle cx="274.4" cy="508.6" r="2.9"/><circle cx="302.8" cy="523.5" r="3"/><circle cx="141.4" cy="277.5" r="2.8"/><circle cx="433.9" cy="180.4" r="2.9"/><circle cx="511.9" cy="177.9" r="2.9"/><circle cx="583.8" cy="343.7" r="2.9"/><circle cx="416.8" cy="234" r="2.9"/><circle cx="427.8" cy="237.7" r="2.9"/><circle cx="528.9" cy="560.6" r="2.9"/><circle cx="468" cy="602.1" r="2.9"/><circle cx="273" cy="526.5" r="2.9"/><circle cx="219.4" cy="570.4" r="2.9"/><circle cx="301" cy="546" r="2.9"/><circle cx="204.7" cy="407" r="2.8"/><circle cx="113.8" cy="503.7" r="2.8"/><circle cx="192" cy="477" r="2.7"/><circle cx="540.1" cy="534.7" r="2.8"/><circle cx="428.5" cy="551.1" r="2.8"/><circle cx="196.7" cy="480.2" r="2.8"/><circle cx="181.7" cy="522.1" r="2.8"/><circle cx="248.9" cy="519.7" r="2.9"/><circle cx="311.7" cy="515" r="2.7"/><circle cx="227.1" cy="481.8" r="2.8"/><circle cx="443" cy="544.1" r="2.9"/><circle cx="289.7" cy="508.2" r="2.7"/><circle cx="438.5" cy="553.6" r="2.9"/><circle cx="213.2" cy="454.4" r="2.6"/><circle cx="283.3" cy="505" r="2.7"/><circle cx="188.8" cy="399.5" r="2.7"/><circle cx="494.3" cy="533.8" r="2.6"/><circle cx="299.5" cy="525.3" r="2.8"/><circle cx="541.6" cy="538" r="2.7"/><circle cx="496.4" cy="542.8" r="2.7"/><circle cx="532.9" cy="553.3" r="2.7"/><circle cx="193.1" cy="438.2" r="2.6"/><circle cx="191.9" cy="478" r="2.7"/><circle cx="441.5" cy="556.4" r="2.6"/><circle cx="572.3" cy="62.6" r="2.7"/><circle cx="115.1" cy="500" r="2.6"/><circle cx="503.1" cy="542.5" r="2.7"/><circle cx="444.5" cy="555.9" r="2.8"/><circle cx="268.4" cy="535.9" r="2.6"/><circle cx="302.5" cy="524.6" r="2.6"/><circle cx="427" cy="551.7" r="2.6"/><circle cx="589.3" cy="9.5" r="2.6"/><circle cx="362.1" cy="518.6" r="2.6"/><circle cx="188.3" cy="434.2" r="2.6"/><circle cx="252.5" cy="513.9" r="2.5"/><circle cx="253.7" cy="496.3" r="2.5"/><circle cx="608.4" cy="325.8" r="2.5"/><circle cx="466" cy="235.2" r="2.5"/><circle cx="361" cy="520.5" r="2.6"/><circle cx="224" cy="558.7" r="2.4"/><circle cx="190.6" cy="469.5" r="2.5"/><circle cx="228.1" cy="488.1" r="2.4"/><circle cx="398.4" cy="139.4" r="2.4"/><circle cx="395.7" cy="548.9" r="2.5"/><circle cx="515.7" cy="522" r="2.6"/><circle cx="361.7" cy="516.5" r="2.6"/><circle cx="460.9" cy="552.2" r="2.5"/><circle cx="402.3" cy="138.3" r="2.5"/><circle cx="484.6" cy="203.6" r="2.4"/><circle cx="495.1" cy="530.5" r="2.6"/><circle cx="402.9" cy="221.3" r="2.6"/><circle cx="279.8" cy="551.2" r="2.6"/><circle cx="245.8" cy="559.7" r="2.6"/><circle cx="341.9" cy="237.2" r="2.4"/><circle cx="358.3" cy="198.7" r="2.5"/><circle cx="406" cy="219" r="2.4"/><circle cx="307.6" cy="565" r="2.5"/><circle cx="516.8" cy="522.8" r="2.5"/><circle cx="163" cy="473.4" r="2.4"/><circle cx="440.5" cy="223.3" r="2.6"/><circle cx="132" cy="252.5" r="2.5"/><circle cx="599" cy="327.4" r="2.4"/><circle cx="160.1" cy="468.7" r="2.4"/><circle cx="212.4" cy="544.5" r="2.5"/><circle cx="341.3" cy="210.7" r="2.6"/><circle cx="222.2" cy="466.2" r="2.4"/><circle cx="443.3" cy="199.7" r="2.4"/><circle cx="171.2" cy="466.7" r="2.4"/><circle cx="660.2" cy="97.6" r="2.5"/><circle cx="658.1" cy="98.7" r="2.5"/><circle cx="340" cy="212.1" r="2.5"/><circle cx="426.6" cy="231.6" r="2.5"/><circle cx="435.1" cy="214.5" r="2.5"/><circle cx="497.2" cy="262" r="2.5"/><circle cx="156" cy="392.4" r="2.5"/><circle cx="156" cy="446.1" r="2.5"/><circle cx="160.9" cy="475.3" r="2.5"/><circle cx="323.5" cy="619.6" r="2.5"/><circle cx="476.5" cy="596" r="2.5"/><circle cx="324.2" cy="577.7" r="2.5"/><circle cx="459.6" cy="604" r="2.3"/><circle cx="442.6" cy="559.2" r="2.4"/><circle cx="285.2" cy="479" r="2.5"/><circle cx="535.3" cy="539.6" r="2.4"/><circle cx="611.3" cy="372.6" r="2.3"/><circle cx="497.6" cy="524.9" r="2.5"/><circle cx="285.1" cy="474.5" r="2.3"/><circle cx="360.9" cy="518.7" r="2.3"/><circle cx="216.9" cy="465.8" r="2.5"/><circle cx="400" cy="555.1" r="2.5"/><circle cx="292.2" cy="522" r="2.4"/><circle cx="149.6" cy="286.9" r="2.3"/><circle cx="469.8" cy="204.4" r="2.3"/><circle cx="407.5" cy="207.1" r="2.2"/><circle cx="206.5" cy="458.9" r="2.2"/><circle cx="355.9" cy="204.8" r="2.5"/><circle cx="363.2" cy="206" r="2.5"/><circle cx="442.8" cy="548.5" r="2.2"/><circle cx="327.6" cy="134.1" r="2.4"/><circle cx="189" cy="527.3" r="2.4"/><circle cx="377.4" cy="550.2" r="2.3"/><circle cx="160.3" cy="472.1" r="2.3"/><circle cx="230.5" cy="536.7" r="2.4"/><circle cx="410.5" cy="544.6" r="2.4"/><circle cx="328.2" cy="617.6" r="2.3"/><circle cx="344.1" cy="598.7" r="2.3"/><circle cx="361" cy="459" r="2.3"/><circle cx="512.6" cy="179.9" r="2.3"/><circle cx="371.4" cy="511.1" r="2.3"/><circle cx="238.5" cy="554.1" r="2.4"/><circle cx="322" cy="595.4" r="2.2"/><circle cx="322.4" cy="579.7" r="2.2"/><circle cx="556" cy="249" r="2.2"/><circle cx="190" cy="443.1" r="2.2"/><circle cx="309.5" cy="426.9" r="2.2"/><circle cx="193.8" cy="472.5" r="2.2"/><circle cx="439.5" cy="547.4" r="2.1"/><circle cx="543.3" cy="547.6" r="2.2"/><circle cx="261.1" cy="559.5" r="2.3"/><circle cx="474" cy="554.7" r="2.3"/><circle cx="287.3" cy="508.2" r="2.3"/><circle cx="216.4" cy="457.1" r="2.2"/><circle cx="421.6" cy="543" r="2.2"/><circle cx="366.2" cy="514.6" r="2.2"/><circle cx="315.5" cy="526.7" r="2.2"/><circle cx="404.2" cy="295.8" r="2.2"/><circle cx="595.2" cy="309.1" r="2.2"/><circle cx="215.1" cy="535.3" r="2.2"/><circle cx="495.6" cy="533.3" r="2.2"/><circle cx="416.9" cy="185.5" r="2.1"/><circle cx="317" cy="522" r="2.2"/><circle cx="410.8" cy="544.2" r="2.1"/><circle cx="259.7" cy="523.2" r="2.1"/><circle cx="218.1" cy="569.5" r="2.3"/><circle cx="660.7" cy="98.6" r="2.1"/><circle cx="259.1" cy="512.7" r="2.2"/><circle cx="201.2" cy="350.9" r="2.2"/><circle cx="597.9" cy="540" r="2"/><circle cx="449.6" cy="571.1" r="2"/><circle cx="320.1" cy="199.2" r="2.2"/><circle cx="339.7" cy="431.5" r="2"/><circle cx="207.2" cy="546.5" r="2.2"/><circle cx="154.8" cy="456.1" r="2.2"/><circle cx="327.2" cy="132.4" r="2.1"/><circle cx="210.4" cy="386.5" r="2.2"/><circle cx="553" cy="270.8" r="2.1"/><circle cx="188.2" cy="357.9" r="2.1"/><circle cx="406.6" cy="554.8" r="2.2"/><circle cx="445.9" cy="229.9" r="2.2"/><circle cx="506.6" cy="577.1" r="2.1"/><circle cx="384" cy="505.2" r="2.1"/><circle cx="408.3" cy="542.6" r="2.1"/><circle cx="370.7" cy="509.4" r="2.1"/><circle cx="449.7" cy="543.7" r="2.1"/><circle cx="571.9" cy="290.3" r="2.1"/><circle cx="535.5" cy="527.7" r="2"/><circle cx="272.3" cy="579.1" r="2.2"/><circle cx="280.8" cy="479.8" r="2"/><circle cx="469" cy="236.2" r="2.1"/><circle cx="485" cy="176.7" r="2.1"/><circle cx="202.1" cy="388.3" r="2"/><circle cx="524.7" cy="537.4" r="2"/><circle cx="439.1" cy="544" r="2.1"/><circle cx="511.7" cy="600.4" r="2"/><circle cx="164.7" cy="411.6" r="2"/><circle cx="195.8" cy="384.6" r="2"/><circle cx="183.8" cy="429.1" r="2"/><circle cx="300.1" cy="411.9" r="2"/><circle cx="318.6" cy="196.3" r="2"/><circle cx="354.6" cy="596.9" r="2.1"/><circle cx="543.2" cy="213.2" r="2.1"/><circle cx="483.8" cy="236.8" r="2"/><circle cx="330.2" cy="583.5" r="2"/><circle cx="160.8" cy="448.5" r="2"/><circle cx="470.4" cy="557.9" r="2.1"/><circle cx="458.8" cy="239.9" r="2"/><circle cx="238" cy="516.1" r="2"/><circle cx="235.3" cy="541.3" r="2"/><circle cx="365.8" cy="196.7" r="2.1"/><circle cx="382.8" cy="564" r="2.1"/><circle cx="340.5" cy="428.1" r="2"/><circle cx="276.2" cy="484.8" r="2"/><circle cx="446.3" cy="539.3" r="1.9"/><circle cx="311.5" cy="140.8" r="2.1"/><circle cx="190.4" cy="406.9" r="1.9"/><circle cx="575.2" cy="309.6" r="2"/><circle cx="175.5" cy="483.8" r="2"/><circle cx="165.8" cy="496" r="2"/><circle cx="458.2" cy="544.8" r="2"/><circle cx="558.2" cy="533.8" r="2"/><circle cx="260.3" cy="500.8" r="2.1"/><circle cx="425.1" cy="186.2" r="1.9"/><circle cx="501.6" cy="260.7" r="2"/><circle cx="162.8" cy="475" r="1.9"/><circle cx="288" cy="503.4" r="1.9"/><circle cx="500.1" cy="262.2" r="2"/><circle cx="117.2" cy="498.3" r="2"/><circle cx="483.3" cy="173.9" r="1.9"/><circle cx="550" cy="295.9" r="1.9"/><circle cx="361" cy="457" r="2"/><circle cx="403.9" cy="555.9" r="2"/><circle cx="603.3" cy="323.7" r="1.9"/><circle cx="570.7" cy="60.8" r="1.9"/><circle cx="588.7" cy="553.1" r="1.9"/><circle cx="161.3" cy="451.6" r="2"/><circle cx="334.2" cy="437.6" r="1.9"/><circle cx="321.1" cy="620.5" r="1.9"/><circle cx="543.7" cy="546.8" r="1.9"/><circle cx="415" cy="234.5" r="2"/><circle cx="226.7" cy="545.6" r="1.9"/><circle cx="326.3" cy="130" r="1.9"/><circle cx="434.8" cy="554.6" r="1.9"/><circle cx="426.9" cy="233" r="2"/><circle cx="356.2" cy="181.2" r="1.9"/><circle cx="573.6" cy="63.1" r="1.9"/><circle cx="552.1" cy="236.3" r="2"/><circle cx="216.7" cy="452.6" r="1.9"/><circle cx="157.3" cy="449" r="1.9"/><circle cx="197.1" cy="355.8" r="1.8"/><circle cx="398.3" cy="554.7" r="1.9"/><circle cx="393.2" cy="560" r="1.9"/><circle cx="142.8" cy="206.7" r="1.9"/><circle cx="258.3" cy="469.7" r="1.8"/><circle cx="353.3" cy="205.1" r="1.9"/><circle cx="445" cy="236.2" r="1.8"/><circle cx="545.7" cy="306" r="1.8"/><circle cx="591.5" cy="5.8" r="1.8"/><circle cx="197" cy="497.9" r="1.9"/><circle cx="305.4" cy="522.1" r="1.8"/><circle cx="384.9" cy="548.5" r="1.9"/><circle cx="389.6" cy="507.6" r="1.7"/><circle cx="156.4" cy="470.8" r="1.9"/><circle cx="268.1" cy="472.9" r="1.8"/><circle cx="442" cy="563.3" r="1.8"/><circle cx="555.7" cy="270.9" r="1.7"/><circle cx="150.5" cy="288.7" r="1.8"/><circle cx="538.1" cy="203.3" r="1.8"/><circle cx="433.8" cy="563" r="1.8"/><circle cx="156.7" cy="447.2" r="1.8"/><circle cx="342.3" cy="530" r="1.8"/><circle cx="616.7" cy="369.7" r="1.8"/><circle cx="453.6" cy="231.8" r="1.8"/><circle cx="401.5" cy="137.3" r="1.9"/><circle cx="438.1" cy="507.1" r="1.9"/><circle cx="468.4" cy="242" r="1.9"/><circle cx="156.9" cy="337.5" r="1.7"/><circle cx="343.7" cy="252.3" r="1.8"/><circle cx="604.5" cy="317.9" r="1.8"/><circle cx="520.7" cy="562.9" r="1.8"/><circle cx="344.7" cy="189" r="1.8"/><circle cx="445.7" cy="321.8" r="1.7"/><circle cx="483.3" cy="565.9" r="1.8"/><circle cx="184" cy="527.7" r="1.8"/><circle cx="501.8" cy="559.8" r="1.8"/><circle cx="373.6" cy="509.1" r="1.8"/><circle cx="492.3" cy="578.6" r="1.8"/><circle cx="530" cy="558.7" r="1.8"/><circle cx="481.6" cy="200.6" r="1.8"/><circle cx="179.7" cy="525.3" r="1.8"/><circle cx="438" cy="559.7" r="1.7"/><circle cx="381.2" cy="502.3" r="1.8"/><circle cx="488.7" cy="173.5" r="1.8"/><circle cx="479" cy="179.2" r="1.8"/><circle cx="600.8" cy="540.6" r="1.8"/><circle cx="595.2" cy="570.9" r="1.8"/><circle cx="222.4" cy="498.4" r="1.8"/><circle cx="474" cy="566.6" r="1.7"/><circle cx="188.2" cy="445.1" r="1.7"/><circle cx="276.7" cy="482.6" r="1.7"/><circle cx="409.7" cy="188.5" r="1.7"/><circle cx="575.7" cy="311.5" r="1.7"/><circle cx="393.5" cy="556.6" r="1.8"/><circle cx="302.6" cy="425.2" r="1.8"/><circle cx="341.8" cy="205.3" r="1.8"/><circle cx="327.7" cy="131.1" r="1.7"/><circle cx="436.6" cy="190.6" r="1.8"/><circle cx="545.5" cy="523.5" r="1.6"/><circle cx="495.3" cy="175.7" r="1.7"/><circle cx="321.9" cy="204.6" r="1.8"/><circle cx="98.2" cy="262.2" r="1.6"/><circle cx="374.2" cy="574.7" r="1.7"/><circle cx="204" cy="386.5" r="1.7"/><circle cx="438.9" cy="205.9" r="1.8"/><circle cx="552.5" cy="273.4" r="1.6"/><circle cx="506.8" cy="250.2" r="1.6"/><circle cx="520.8" cy="528.9" r="1.7"/><circle cx="168" cy="473" r="1.7"/><circle cx="558.6" cy="272.3" r="1.7"/><circle cx="366.4" cy="206.6" r="1.7"/><circle cx="483.6" cy="176.7" r="1.7"/><circle cx="556.1" cy="526" r="1.7"/><circle cx="185.5" cy="451" r="1.7"/><circle cx="287" cy="472.5" r="1.7"/><circle cx="263.5" cy="471.8" r="1.6"/><circle cx="121.6" cy="498" r="1.6"/><circle cx="353.8" cy="257.5" r="1.7"/><circle cx="459.2" cy="507" r="1.6"/><circle cx="111.5" cy="288.7" r="1.7"/><circle cx="614.4" cy="375.5" r="1.6"/><circle cx="508.8" cy="520.7" r="1.6"/><circle cx="330.6" cy="128.6" r="1.6"/><circle cx="303.6" cy="427.5" r="1.6"/><circle cx="312.3" cy="222.1" r="1.6"/><circle cx="594.8" cy="548.1" r="1.6"/><circle cx="610" cy="368.8" r="1.6"/><circle cx="573.6" cy="305.3" r="1.6"/><circle cx="512.9" cy="603.7" r="1.6"/><circle cx="485.7" cy="175.4" r="1.6"/><circle cx="296.7" cy="155" r="1.5"/><circle cx="167.6" cy="469.9" r="1.5"/><circle cx="581.3" cy="342.2" r="1.6"/><circle cx="601.2" cy="538.8" r="1.5"/><circle cx="181.7" cy="478.1" r="1.5"/><circle cx="116.3" cy="512.2" r="1.6"/><circle cx="459.6" cy="497" r="1.6"/><circle cx="478" cy="595.5" r="1.5"/><circle cx="249" cy="497.8" r="1.6"/><circle cx="292.9" cy="508.1" r="1.4"/><circle cx="155.4" cy="335.4" r="1.4"/><circle cx="266.3" cy="471.3" r="1.5"/><circle cx="157" cy="463.8" r="1.5"/><circle cx="352.9" cy="260" r="1.4"/><circle cx="602.2" cy="540" r="1.5"/><circle cx="280" cy="427.5" r="1.5"/><circle cx="409.1" cy="184.7" r="1.5"/><circle cx="359.8" cy="199.9" r="1.4"/><circle cx="471.5" cy="561.4" r="1.5"/><circle cx="306" cy="133.8" r="1.5"/><circle cx="114.3" cy="511.2" r="1.5"/><circle cx="152.1" cy="336.2" r="1.4"/><circle cx="589.3" cy="553.7" r="1.5"/><circle cx="426.9" cy="238.9" r="1.5"/><circle cx="539.1" cy="203.5" r="1.5"/><circle cx="565" cy="573.6" r="1.4"/><circle cx="328.2" cy="196" r="1.5"/><circle cx="172.7" cy="467" r="1.3"/><circle cx="416.3" cy="192.5" r="1.4"/><circle cx="179.5" cy="469.5" r="1.3"/><circle cx="289.4" cy="474.2" r="1.4"/><circle cx="457.6" cy="567.1" r="1.4"/><circle cx="551.2" cy="320.3" r="1.3"/><circle cx="318.8" cy="473.6" r="1.3"/><circle cx="489.6" cy="173.4" r="1.4"/><circle cx="610.4" cy="367.9" r="1.4"/><circle cx="253" cy="460.1" r="1.3"/><circle cx="445.7" cy="571.7" r="1.3"/><circle cx="359.9" cy="199.8" r="1.4"/><circle cx="371.6" cy="508.3" r="1.3"/><circle cx="452.4" cy="565.4" r="1.3"/><circle cx="419.2" cy="187.7" r="1.2"/><circle cx="475.3" cy="597.7" r="1.3"/><circle cx="568.6" cy="287.9" r="1.2"/><circle cx="176.4" cy="448.3" r="1.4"/><circle cx="481.1" cy="182.8" r="1.2"/><circle cx="490.3" cy="514" r="1.2"/><circle cx="301.1" cy="427.1" r="1.3"/><circle cx="475.4" cy="501.7" r="1.2"/><circle cx="434.2" cy="216.5" r="1.3"/><circle cx="544.9" cy="602.9" r="1.3"/><circle cx="262" cy="461.6" r="1.3"/><circle cx="474.5" cy="195.4" r="1.2"/><circle cx="363.4" cy="592.3" r="1.2"/><circle cx="385.4" cy="599.5" r="1.2"/><circle cx="283" cy="466.6" r="1.2"/><circle cx="263.7" cy="465.6" r="1.2"/><circle cx="155.8" cy="467.3" r="1.2"/><circle cx="173.4" cy="333.8" r="1.1"/><circle cx="559.5" cy="532.8" r="1.2"/><circle cx="280.5" cy="432.6" r="1.1"/><circle cx="172.6" cy="329.1" r="1.1"/><circle cx="176.8" cy="483.4" r="1.1"/><circle cx="488.9" cy="174.4" r="1.1"/><circle cx="617.9" cy="69.9" r="1.1"/><circle cx="174" cy="328" r="1.1"/><circle cx="559.3" cy="533.6" r="1.1"/><circle cx="253.1" cy="459" r="1.1"/><circle cx="342.1" cy="253.4" r="1.1"/><circle cx="350" cy="258.1" r="1.1"/><circle cx="264.3" cy="466.7" r="1.1"/><circle cx="344.4" cy="213.6" r="1.1"/></g>
<g fill="url(#g11)"><circle cx="320.5" cy="125.5" r="7.5"/><circle cx="452.2" cy="184" r="7"/><circle cx="444.8" cy="187.7" r="6"/><circle cx="468" cy="229.1" r="6"/><circle cx="509.4" cy="526.5" r="5.8"/><circle cx="153.4" cy="191.8" r="6"/><circle cx="138.9" cy="275.4" r="6"/><circle cx="146.2" cy="296.2" r="6"/><circle cx="165.8" cy="419.2" r="6"/><circle cx="420.5" cy="548.4" r="6"/><circle cx="432.7" cy="548.4" r="6"/><circle cx="429" cy="554.5" r="6"/><circle cx="314.4" cy="124.3" r="5.8"/><circle cx="547.2" cy="309.6" r="5.8"/><circle cx="552.1" cy="314.4" r="5.8"/><circle cx="277" cy="504" r="5.9"/><circle cx="470.4" cy="223" r="5.8"/><circle cx="514.3" cy="530.2" r="5.8"/><circle cx="485.1" cy="229.1" r="5.8"/><circle cx="533.8" cy="266.9" r="5.8"/><circle cx="552.1" cy="220.6" r="5.8"/><circle cx="546" cy="249.8" r="5.8"/><circle cx="565.5" cy="273" r="5.8"/><circle cx="570.4" cy="277.9" r="5.8"/><circle cx="179.2" cy="424.1" r="5.8"/><circle cx="168.2" cy="433.9" r="5.8"/><circle cx="173.1" cy="437.5" r="5.8"/><circle cx="414.4" cy="546" r="5.8"/><circle cx="144.6" cy="201.5" r="5.3"/><circle cx="308.3" cy="148.7" r="5.1"/><circle cx="359.5" cy="188.9" r="5.1"/><circle cx="468" cy="185.2" r="5.1"/><circle cx="499.7" cy="215.7" r="5.1"/><circle cx="541.1" cy="216.9" r="5.1"/><circle cx="546" cy="230.3" r="5.1"/><circle cx="560.6" cy="305.9" r="5.1"/><circle cx="170.6" cy="459.5" r="5.1"/><circle cx="468" cy="576.5" r="5.1"/><circle cx="346.1" cy="191.3" r="5.1"/><circle cx="555.8" cy="264.5" r="5.1"/><circle cx="560.6" cy="268.1" r="5.1"/><circle cx="558.2" cy="299.8" r="5.1"/><circle cx="179.2" cy="460.7" r="5.1"/><circle cx="497.2" cy="537.5" r="4.9"/><circle cx="336.4" cy="553.3" r="4.9"/><circle cx="471.7" cy="192.6" r="5.1"/><circle cx="160.9" cy="332.7" r="5.1"/><circle cx="497.2" cy="236.4" r="5.1"/><circle cx="530.2" cy="201.1" r="5.1"/><circle cx="126.8" cy="513.1" r="5.1"/><circle cx="460.7" cy="575.2" r="5.1"/><circle cx="574" cy="570.4" r="5.1"/><circle cx="260.8" cy="567.9" r="4.7"/><circle cx="301.8" cy="146.2" r="4.9"/><circle cx="305.9" cy="152.3" r="4.9"/><circle cx="306.2" cy="495" r="4.6"/><circle cx="295" cy="480" r="4.6"/><circle cx="470.4" cy="583.8" r="4.4"/><circle cx="274.2" cy="492.4" r="4.4"/><circle cx="357.1" cy="193.8" r="4.4"/><circle cx="192.6" cy="379" r="4.4"/><circle cx="345.6" cy="529.7" r="4.4"/><circle cx="239.1" cy="156.9" r="3.8"/><circle cx="499.7" cy="259.6" r="3.8"/><circle cx="208.4" cy="419.2" r="3.8"/><circle cx="210.8" cy="449.7" r="3.8"/><circle cx="235.2" cy="524.1" r="3.8"/><circle cx="224.3" cy="476.5" r="3.7"/><circle cx="341.2" cy="546" r="3.8"/><circle cx="254.5" cy="495" r="3.6"/><circle cx="253" cy="522" r="3.4"/><circle cx="260.8" cy="521.6" r="3.4"/><circle cx="198.5" cy="373.9" r="3.4"/><circle cx="338.8" cy="136.5" r="3.4"/><circle cx="140.7" cy="206.1" r="3.4"/><circle cx="257.2" cy="503.5" r="3.3"/><circle cx="340.6" cy="546.9" r="3.5"/><circle cx="266.5" cy="516" r="3.4"/><circle cx="420.5" cy="227.9" r="3.4"/><circle cx="159.7" cy="457.4" r="3.3"/><circle cx="289.5" cy="578.2" r="3.4"/><circle cx="527.2" cy="551.4" r="3.3"/><circle cx="94.2" cy="233" r="3.4"/><circle cx="661.8" cy="97" r="3.4"/><circle cx="402.2" cy="212.1" r="3.4"/><circle cx="433.9" cy="221.8" r="3.4"/><circle cx="438.8" cy="226.7" r="3.4"/><circle cx="177.9" cy="524.1" r="3.4"/><circle cx="326.6" cy="617.9" r="3.4"/><circle cx="463.1" cy="604" r="3.4"/><circle cx="514.3" cy="604.5" r="3.4"/><circle cx="199.9" cy="421.7" r="3.4"/><circle cx="216.9" cy="454.6" r="3.4"/><circle cx="229.1" cy="489.9" r="3.4"/><circle cx="238.9" cy="504.6" r="3.4"/><circle cx="255.9" cy="533.8" r="3.4"/><circle cx="265.7" cy="536.2" r="3.4"/><circle cx="292.5" cy="520.4" r="3.4"/><circle cx="365.6" cy="567.9" r="3.4"/><circle cx="372.9" cy="572.8" r="3.4"/><circle cx="141.2" cy="202" r="3.2"/><circle cx="255.8" cy="522" r="3.3"/><circle cx="312.8" cy="523.5" r="3.1"/><circle cx="164.6" cy="428" r="3.2"/><circle cx="252.9" cy="500.4" r="3.1"/><circle cx="580.4" cy="567.7" r="3"/><circle cx="281.2" cy="482.5" r="3.3"/><circle cx="254.1" cy="519.2" r="3.1"/><circle cx="341.5" cy="548.6" r="3"/><circle cx="262" cy="519.1" r="3"/><circle cx="237.8" cy="525.9" r="3.2"/><circle cx="311.5" cy="200" r="3"/><circle cx="265.1" cy="517.1" r="3.1"/><circle cx="548" cy="544.3" r="3"/><circle cx="253.6" cy="517" r="3"/><circle cx="259.4" cy="503.6" r="2.9"/><circle cx="309.6" cy="141.4" r="2.9"/><circle cx="113.3" cy="500.9" r="2.9"/><circle cx="281.4" cy="576.5" r="2.9"/><circle cx="208.9" cy="484.8" r="2.9"/><circle cx="282.5" cy="508.7" r="2.9"/><circle cx="433" cy="559" r="2.9"/><circle cx="265" cy="440.2" r="3"/><circle cx="259.6" cy="506.5" r="2.9"/><circle cx="663.5" cy="98.1" r="2.9"/><circle cx="321.8" cy="198.7" r="2.9"/><circle cx="342.5" cy="207.2" r="2.9"/><circle cx="424.1" cy="221.8" r="2.9"/><circle cx="452.2" cy="234" r="2.9"/><circle cx="446.1" cy="199.9" r="2.9"/><circle cx="321.8" cy="530.2" r="2.9"/><circle cx="279.4" cy="573.6" r="2.9"/><circle cx="522.2" cy="520.7" r="2.8"/><circle cx="416.5" cy="551.5" r="3"/><circle cx="251.7" cy="497.5" r="3"/><circle cx="438.6" cy="503.5" r="2.9"/><circle cx="260.8" cy="571.7" r="2.8"/><circle cx="516.2" cy="525.6" r="2.8"/><circle cx="583.1" cy="295.2" r="2.8"/><circle cx="237.8" cy="552.3" r="2.8"/><circle cx="209.4" cy="448.7" r="3"/><circle cx="349.8" cy="173.5" r="2.9"/><circle cx="438.8" cy="120.7" r="2.9"/><circle cx="393.7" cy="170.6" r="2.9"/><circle cx="590.4" cy="7.3" r="2.9"/><circle cx="327.8" cy="197.4" r="2.9"/><circle cx="407.1" cy="209.6" r="2.9"/><circle cx="403.4" cy="219.4" r="2.9"/><circle cx="455.8" cy="237.7" r="2.9"/><circle cx="446.1" cy="235.2" r="2.9"/><circle cx="536.2" cy="541.1" r="2.9"/><circle cx="538.7" cy="528.9" r="2.9"/><circle cx="531.4" cy="536.2" r="2.9"/><circle cx="521.6" cy="564.3" r="2.9"/><circle cx="287.6" cy="586.2" r="2.9"/><circle cx="313.2" cy="588.7" r="2.9"/><circle cx="199.9" cy="497.2" r="2.9"/><circle cx="221.8" cy="497.2" r="2.9"/><circle cx="247.4" cy="500.9" r="2.9"/><circle cx="231.6" cy="497.2" r="2.9"/><circle cx="268.1" cy="516.8" r="2.9"/><circle cx="204.8" cy="548.4" r="2.9"/><circle cx="375.4" cy="508.2" r="2.9"/><circle cx="407.7" cy="136" r="2.8"/><circle cx="263.4" cy="516.1" r="2.8"/><circle cx="223.5" cy="479.9" r="2.8"/><circle cx="417.1" cy="553.2" r="2.8"/><circle cx="422.1" cy="552.2" r="2.8"/><circle cx="199.2" cy="372.9" r="2.9"/><circle cx="227.6" cy="543.8" r="2.7"/><circle cx="423" cy="549" r="2.8"/><circle cx="367.3" cy="510.8" r="2.9"/><circle cx="579.7" cy="286.1" r="2.7"/><circle cx="427.2" cy="536.8" r="2.8"/><circle cx="192.4" cy="402.3" r="2.7"/><circle cx="220.2" cy="486.4" r="2.7"/><circle cx="187.4" cy="477" r="2.9"/><circle cx="412.9" cy="549.3" r="2.7"/><circle cx="444.1" cy="549.5" r="2.7"/><circle cx="515.2" cy="532" r="2.8"/><circle cx="399.8" cy="138.4" r="2.8"/><circle cx="481.4" cy="548.2" r="2.6"/><circle cx="484.5" cy="547.4" r="2.7"/><circle cx="290.4" cy="576.7" r="2.7"/><circle cx="203.5" cy="482.9" r="2.8"/><circle cx="421.7" cy="545.7" r="2.6"/><circle cx="205.5" cy="478.1" r="2.8"/><circle cx="217.8" cy="458.8" r="2.7"/><circle cx="399.2" cy="547.8" r="2.8"/><circle cx="196.3" cy="376.7" r="2.7"/><circle cx="446.9" cy="225.6" r="2.7"/><circle cx="471.4" cy="235.8" r="2.8"/><circle cx="307" cy="427.5" r="2.6"/><circle cx="113.3" cy="503.1" r="2.6"/><circle cx="428" cy="223.4" r="2.6"/><circle cx="340.2" cy="430.6" r="2.7"/><circle cx="188.2" cy="359.9" r="2.6"/><circle cx="535.9" cy="554.6" r="2.7"/><circle cx="411.8" cy="539.7" r="2.6"/><circle cx="365.1" cy="512.3" r="2.8"/><circle cx="406.4" cy="139.5" r="2.7"/><circle cx="170.2" cy="473.7" r="2.7"/><circle cx="467.5" cy="237.6" r="2.6"/><circle cx="421.7" cy="217.7" r="2.6"/><circle cx="397.8" cy="166.8" r="2.6"/><circle cx="330.6" cy="598" r="2.8"/><circle cx="368.5" cy="510" r="2.6"/><circle cx="139.7" cy="202.5" r="2.6"/><circle cx="119.9" cy="513.5" r="2.6"/><circle cx="151.9" cy="290.8" r="2.7"/><circle cx="241.6" cy="577.8" r="2.6"/><circle cx="311.7" cy="572" r="2.5"/><circle cx="516.5" cy="557.7" r="2.7"/><circle cx="262.9" cy="518.6" r="2.5"/><circle cx="341.5" cy="429" r="2.6"/><circle cx="320.6" cy="595" r="2.6"/><circle cx="486.5" cy="200.9" r="2.5"/><circle cx="219.1" cy="527.3" r="2.6"/><circle cx="242.7" cy="556.8" r="2.5"/><circle cx="240.5" cy="555.1" r="2.6"/><circle cx="479" cy="201.1" r="2.5"/><circle cx="555.8" cy="273" r="2.5"/><circle cx="112.1" cy="504.6" r="2.5"/><circle cx="165.8" cy="470.4" r="2.5"/><circle cx="180.4" cy="468" r="2.5"/><circle cx="170.6" cy="450.9" r="2.5"/><circle cx="323.9" cy="201.1" r="2.5"/><circle cx="197.7" cy="414.9" r="2.6"/><circle cx="116.2" cy="497.6" r="2.5"/><circle cx="472.9" cy="199.4" r="2.5"/><circle cx="193.8" cy="407.5" r="2.6"/><circle cx="215.2" cy="480.4" r="2.6"/><circle cx="111.4" cy="502.9" r="2.5"/><circle cx="473.5" cy="568" r="2.6"/><circle cx="362.1" cy="517.9" r="2.5"/><circle cx="289" cy="521.9" r="2.5"/><circle cx="202.7" cy="400.5" r="2.5"/><circle cx="482.8" cy="517.6" r="2.5"/><circle cx="361.6" cy="515.9" r="2.5"/><circle cx="322.3" cy="463.6" r="2.4"/><circle cx="465.9" cy="233.9" r="2.5"/><circle cx="366.2" cy="509.6" r="2.6"/><circle cx="179.2" cy="528.4" r="2.5"/><circle cx="299.8" cy="153.6" r="2.5"/><circle cx="482.6" cy="175.5" r="2.5"/><circle cx="154" cy="336.4" r="2.5"/><circle cx="594.8" cy="294.9" r="2.5"/><circle cx="469.2" cy="238.9" r="2.5"/><circle cx="565.5" cy="297.4" r="2.5"/><circle cx="544.8" cy="304.7" r="2.5"/><circle cx="153.6" cy="463.1" r="2.5"/><circle cx="177.9" cy="446.1" r="2.5"/><circle cx="510.7" cy="519.2" r="2.5"/><circle cx="513.1" cy="602.1" r="2.5"/><circle cx="424.6" cy="218.3" r="2.5"/><circle cx="250.6" cy="562" r="2.6"/><circle cx="232.6" cy="489.2" r="2.4"/><circle cx="178.6" cy="534.4" r="2.4"/><circle cx="555.2" cy="535.4" r="2.5"/><circle cx="497.3" cy="207.7" r="2.4"/><circle cx="430.1" cy="544" r="2.4"/><circle cx="596.4" cy="340.4" r="2.4"/><circle cx="163.8" cy="469.2" r="2.5"/><circle cx="524.1" cy="265.7" r="2.5"/><circle cx="38.4" cy="243.1" r="2.5"/><circle cx="307.1" cy="136.5" r="2.5"/><circle cx="429" cy="182.8" r="2.5"/><circle cx="416.8" cy="187.7" r="2.5"/><circle cx="405.8" cy="190.1" r="2.5"/><circle cx="481.4" cy="181.6" r="2.5"/><circle cx="38.5" cy="243.3" r="2.5"/><circle cx="137.7" cy="349" r="2.5"/><circle cx="319.3" cy="204.8" r="2.5"/><circle cx="346.1" cy="197.4" r="2.5"/><circle cx="338.8" cy="242.5" r="2.5"/><circle cx="197.4" cy="341.2" r="2.5"/><circle cx="198.7" cy="354.7" r="2.5"/><circle cx="197.4" cy="362" r="2.5"/><circle cx="592.3" cy="305.9" r="2.5"/><circle cx="605.7" cy="318.8" r="2.5"/><circle cx="594.3" cy="356.4" r="2.5"/><circle cx="406.6" cy="296.2" r="2.5"/><circle cx="476.5" cy="240.1" r="2.5"/><circle cx="447.3" cy="216.9" r="2.5"/><circle cx="437.5" cy="204.8" r="2.5"/><circle cx="563.1" cy="226.7" r="2.5"/><circle cx="581.3" cy="294.9" r="2.5"/><circle cx="553.3" cy="320.5" r="2.5"/><circle cx="571.6" cy="303.5" r="2.5"/><circle cx="151.1" cy="396.1" r="2.5"/><circle cx="160.9" cy="449.7" r="2.5"/><circle cx="187.7" cy="443.6" r="2.5"/><circle cx="159.7" cy="498.5" r="2.5"/><circle cx="488.7" cy="515.5" r="2.5"/><circle cx="446.1" cy="550.9" r="2.5"/><circle cx="448.5" cy="541.1" r="2.5"/><circle cx="392.4" cy="558.2" r="2.5"/><circle cx="455.8" cy="536.2" r="2.5"/><circle cx="460.7" cy="533.8" r="2.5"/><circle cx="465.6" cy="542.3" r="2.5"/><circle cx="546" cy="521.6" r="2.5"/><circle cx="494.8" cy="577.7" r="2.5"/><circle cx="504.6" cy="577.7" r="2.5"/><circle cx="448.5" cy="571.6" r="2.5"/><circle cx="431.4" cy="571.6" r="2.5"/><circle cx="587.9" cy="554.5" r="2.5"/><circle cx="385.1" cy="600.8" r="2.5"/><circle cx="441.2" cy="621.6" r="2.5"/><circle cx="459.5" cy="617.9" r="2.5"/><circle cx="544.8" cy="601.6" r="2.5"/><circle cx="331.5" cy="582.6" r="2.5"/><circle cx="347.3" cy="558.2" r="2.5"/><circle cx="382.7" cy="503.3" r="2.5"/><circle cx="387.6" cy="507" r="2.5"/><circle cx="360.8" cy="520.4" r="2.5"/><circle cx="360.8" cy="546" r="2.5"/><circle cx="223.8" cy="487.1" r="2.3"/><circle cx="435.6" cy="576.4" r="2.5"/><circle cx="545.7" cy="295.8" r="2.4"/><circle cx="236.3" cy="570.2" r="2.4"/><circle cx="413" cy="219.4" r="2.5"/><circle cx="227.1" cy="534.9" r="2.5"/><circle cx="266.9" cy="570.1" r="2.3"/><circle cx="332.1" cy="131.7" r="2.4"/><circle cx="477.2" cy="543.9" r="2.4"/><circle cx="264.3" cy="565" r="2.3"/><circle cx="482.4" cy="202.2" r="2.3"/><circle cx="497" cy="206.5" r="2.4"/><circle cx="191.2" cy="407.5" r="2.5"/><circle cx="147" cy="277.5" r="2.4"/><circle cx="158.4" cy="465" r="2.4"/><circle cx="462.1" cy="553.1" r="2.3"/><circle cx="442.8" cy="552" r="2.3"/><circle cx="207.2" cy="385" r="2.3"/><circle cx="120.4" cy="497.6" r="2.3"/><circle cx="290.5" cy="508.5" r="2.3"/><circle cx="108.2" cy="280.8" r="2.3"/><circle cx="139.3" cy="209.3" r="2.3"/><circle cx="436.5" cy="547.8" r="2.4"/><circle cx="291.6" cy="577.7" r="2.3"/><circle cx="321.8" cy="468.3" r="2.4"/><circle cx="550.5" cy="270.7" r="2.3"/><circle cx="497.6" cy="246.5" r="2.2"/><circle cx="310.8" cy="567.6" r="2.3"/><circle cx="501.3" cy="573.5" r="2.4"/><circle cx="302.9" cy="419.4" r="2.3"/><circle cx="404.1" cy="143.2" r="2.2"/><circle cx="407" cy="137.4" r="2.3"/><circle cx="517.8" cy="558.8" r="2.4"/><circle cx="325.2" cy="614.1" r="2.3"/><circle cx="163.8" cy="471.6" r="2.3"/><circle cx="503" cy="559.3" r="2.3"/><circle cx="298" cy="412.5" r="2.3"/><circle cx="163.1" cy="460" r="2.3"/><circle cx="502" cy="526.4" r="2.2"/><circle cx="289.8" cy="419.9" r="2.2"/><circle cx="209.6" cy="416.6" r="2.3"/><circle cx="319.4" cy="136.5" r="2.4"/><circle cx="285.6" cy="507.7" r="2.4"/><circle cx="538.8" cy="550.4" r="2.4"/><circle cx="221.7" cy="466.3" r="2.2"/><circle cx="407.1" cy="552.4" r="2.3"/><circle cx="217.2" cy="480.5" r="2.4"/><circle cx="440.2" cy="504.5" r="2.2"/><circle cx="524.6" cy="518.3" r="2.3"/><circle cx="168.3" cy="471.7" r="2.3"/><circle cx="591.4" cy="550.4" r="2.2"/><circle cx="518.8" cy="520.7" r="2.3"/><circle cx="560.2" cy="278.8" r="2.3"/><circle cx="230.3" cy="484.2" r="2.2"/><circle cx="289.4" cy="420.9" r="2.2"/><circle cx="175.8" cy="465.5" r="2.2"/><circle cx="193.2" cy="491.6" r="2.3"/><circle cx="504.3" cy="537.7" r="2.2"/><circle cx="123.5" cy="498.6" r="2.1"/><circle cx="472.2" cy="546.5" r="2.1"/><circle cx="342.1" cy="432.3" r="2.2"/><circle cx="401.7" cy="138.7" r="2.3"/><circle cx="330" cy="529.6" r="2.3"/><circle cx="515.4" cy="256.7" r="2.2"/><circle cx="194.9" cy="414.4" r="2.2"/><circle cx="152.2" cy="453.8" r="2.1"/><circle cx="603.3" cy="322.6" r="2.3"/><circle cx="171.4" cy="446" r="2.2"/><circle cx="611.1" cy="370.9" r="2.2"/><circle cx="268.4" cy="514.5" r="2.2"/><circle cx="541" cy="599.8" r="2.2"/><circle cx="440.2" cy="545.3" r="2.3"/><circle cx="520.9" cy="536.7" r="2.2"/><circle cx="464.5" cy="539.4" r="2.2"/><circle cx="474.9" cy="568.8" r="2.1"/><circle cx="494.4" cy="199.3" r="2.2"/><circle cx="414" cy="540" r="2.1"/><circle cx="412.2" cy="299.8" r="2.2"/><circle cx="455.1" cy="206.1" r="2.2"/><circle cx="215.3" cy="449.1" r="2.2"/><circle cx="569.1" cy="302.4" r="2.2"/><circle cx="397.2" cy="548.6" r="2.2"/><circle cx="438.3" cy="547.6" r="2.1"/><circle cx="202.6" cy="397.9" r="2.2"/><circle cx="417.2" cy="538.3" r="2.2"/><circle cx="249.9" cy="523.6" r="2.1"/><circle cx="213.6" cy="455" r="2.2"/><circle cx="178.7" cy="467.6" r="2.2"/><circle cx="409.6" cy="141.1" r="2.1"/><circle cx="201.1" cy="345.6" r="2.2"/><circle cx="408.3" cy="142.5" r="2.1"/><circle cx="269.7" cy="516.7" r="2.1"/><circle cx="228.8" cy="545" r="2.1"/><circle cx="462.6" cy="498.4" r="2.1"/><circle cx="198" cy="364.6" r="2.1"/><circle cx="377.1" cy="560.9" r="2.2"/><circle cx="439.5" cy="621.1" r="2"/><circle cx="198.9" cy="346.3" r="2.2"/><circle cx="500.6" cy="209.1" r="2.2"/><circle cx="215.9" cy="452.4" r="2"/><circle cx="569.1" cy="571.9" r="2"/><circle cx="347.4" cy="255.4" r="2"/><circle cx="361.3" cy="518.2" r="2.1"/><circle cx="409.3" cy="137.6" r="2.1"/><circle cx="304.6" cy="427.2" r="2.2"/><circle cx="331.1" cy="584" r="2.1"/><circle cx="446.1" cy="198" r="2.1"/><circle cx="486.3" cy="174.3" r="2"/><circle cx="352.2" cy="257.2" r="2"/><circle cx="253.5" cy="460.7" r="2"/><circle cx="545.1" cy="294.9" r="2.1"/><circle cx="273.2" cy="505.2" r="2.1"/><circle cx="168.7" cy="450.4" r="2.1"/><circle cx="222.7" cy="470.1" r="2.2"/><circle cx="288.7" cy="587.6" r="2"/><circle cx="344.1" cy="135.8" r="2"/><circle cx="106.9" cy="279.6" r="2.1"/><circle cx="545.9" cy="299.6" r="2.1"/><circle cx="477.4" cy="541.9" r="2.1"/><circle cx="487.9" cy="514" r="2.1"/><circle cx="218" cy="529.4" r="2"/><circle cx="611.3" cy="368.5" r="2"/><circle cx="481.4" cy="565.5" r="2"/><circle cx="404.2" cy="142.1" r="2.1"/><circle cx="467.7" cy="499.2" r="2"/><circle cx="168.6" cy="469.1" r="2.1"/><circle cx="486.9" cy="567.1" r="1.9"/><circle cx="322.8" cy="595.9" r="2.1"/><circle cx="302.5" cy="427.5" r="2"/><circle cx="436.9" cy="203.4" r="2"/><circle cx="424.2" cy="552.9" r="2.1"/><circle cx="180" cy="470.4" r="2"/><circle cx="607.3" cy="318.7" r="2.1"/><circle cx="285.5" cy="503.9" r="2.1"/><circle cx="378.2" cy="548.5" r="2"/><circle cx="465.6" cy="544.7" r="2.1"/><circle cx="264.1" cy="533.8" r="2"/><circle cx="438.4" cy="557.3" r="2"/><circle cx="346.9" cy="253.4" r="1.9"/><circle cx="171.3" cy="464" r="2"/><circle cx="410.7" cy="186.5" r="2"/><circle cx="414.4" cy="192.6" r="2"/><circle cx="475.3" cy="193.8" r="2"/><circle cx="138.2" cy="361.5" r="2"/><circle cx="446.1" cy="316.9" r="2"/><circle cx="447.8" cy="320.5" r="2"/><circle cx="496" cy="247.4" r="2"/><circle cx="185.2" cy="448.5" r="2"/><circle cx="182.8" cy="479" r="2"/><circle cx="475.3" cy="499.7" r="2"/><circle cx="416.8" cy="554.5" r="2"/><circle cx="444.8" cy="565.5" r="2"/><circle cx="459.5" cy="565.5" r="2"/><circle cx="616.7" cy="550.9" r="2"/><circle cx="321.8" cy="587.4" r="2"/><circle cx="363.2" cy="591.1" r="2"/><circle cx="387.6" cy="605.7" r="2"/><circle cx="409.6" cy="553.5" r="2.1"/><circle cx="151" cy="398.2" r="2"/><circle cx="446.7" cy="213.9" r="1.9"/><circle cx="497.6" cy="182.9" r="1.9"/><circle cx="519.7" cy="531.1" r="1.9"/><circle cx="384.3" cy="602.2" r="1.9"/><circle cx="597" cy="294.7" r="2"/><circle cx="263" cy="510.7" r="2"/><circle cx="483.5" cy="179.6" r="1.9"/><circle cx="566.6" cy="302.1" r="1.9"/><circle cx="410.1" cy="303.3" r="2"/><circle cx="422.4" cy="538" r="2"/><circle cx="567.9" cy="284" r="1.9"/><circle cx="205" cy="475.1" r="2"/><circle cx="38.3" cy="241.4" r="1.9"/><circle cx="447.8" cy="550" r="2"/><circle cx="439.3" cy="555.3" r="1.9"/><circle cx="494.6" cy="562.8" r="1.8"/><circle cx="342.7" cy="137.1" r="1.9"/><circle cx="188.5" cy="366.8" r="1.9"/><circle cx="370.1" cy="508.8" r="2"/><circle cx="333" cy="596.2" r="2"/><circle cx="288.4" cy="510.2" r="1.8"/><circle cx="250" cy="533.4" r="1.9"/><circle cx="445.3" cy="545.1" r="1.9"/><circle cx="261.2" cy="516.2" r="1.9"/><circle cx="344.9" cy="526.3" r="1.9"/><circle cx="284.7" cy="510.4" r="1.8"/><circle cx="276.5" cy="481.5" r="1.9"/><circle cx="580.1" cy="295.4" r="1.9"/><circle cx="258.7" cy="463.9" r="1.9"/><circle cx="455.1" cy="590.7" r="1.9"/><circle cx="462.2" cy="204.1" r="1.8"/><circle cx="552.6" cy="322.2" r="1.9"/><circle cx="251.3" cy="494.5" r="1.9"/><circle cx="188.5" cy="440.9" r="1.9"/><circle cx="276" cy="548.9" r="1.8"/><circle cx="407.6" cy="192.3" r="1.8"/><circle cx="322.6" cy="585.2" r="1.8"/><circle cx="552.5" cy="322.3" r="1.8"/><circle cx="557.2" cy="221.8" r="1.8"/><circle cx="255.5" cy="462.3" r="1.7"/><circle cx="424.6" cy="229.8" r="1.8"/><circle cx="440.1" cy="224.8" r="1.7"/><circle cx="564.6" cy="225.2" r="1.8"/><circle cx="437.6" cy="190.4" r="1.7"/><circle cx="616.2" cy="526" r="1.8"/><circle cx="599.6" cy="567.9" r="1.8"/><circle cx="136.5" cy="639.1" r="1.8"/><circle cx="521.6" cy="528" r="1.7"/><circle cx="256.7" cy="466.8" r="1.8"/><circle cx="517.2" cy="601.7" r="1.8"/><circle cx="255.7" cy="462.7" r="1.7"/><circle cx="307.7" cy="526.4" r="1.8"/><circle cx="352.3" cy="539.5" r="1.8"/><circle cx="464.4" cy="227.7" r="1.8"/><circle cx="591.4" cy="307.3" r="1.8"/><circle cx="160.3" cy="467.6" r="1.8"/><circle cx="454.5" cy="535.6" r="1.8"/><circle cx="454.4" cy="234.9" r="1.7"/><circle cx="179.4" cy="448.2" r="1.7"/><circle cx="332.8" cy="437.2" r="1.8"/><circle cx="591.2" cy="307.5" r="1.8"/><circle cx="257.9" cy="463.7" r="1.7"/><circle cx="261.8" cy="469.2" r="1.7"/><circle cx="509.3" cy="519.2" r="1.7"/><circle cx="256.9" cy="464.2" r="1.7"/><circle cx="425.4" cy="183.5" r="1.7"/><circle cx="254.9" cy="462.4" r="1.8"/><circle cx="330.7" cy="528.4" r="1.7"/><circle cx="335.6" cy="518.2" r="1.7"/><circle cx="346.7" cy="469" r="1.7"/><circle cx="290.3" cy="584.8" r="1.8"/><circle cx="381.3" cy="548.9" r="1.6"/><circle cx="266" cy="470.6" r="1.7"/><circle cx="266.9" cy="517.8" r="1.7"/><circle cx="303.5" cy="421.9" r="1.7"/><circle cx="130.3" cy="250" r="1.6"/><circle cx="195.5" cy="341" r="1.6"/><circle cx="389" cy="606.7" r="1.6"/><circle cx="353.7" cy="597.9" r="1.7"/><circle cx="553.4" cy="293.1" r="1.7"/><circle cx="188.1" cy="354.5" r="1.6"/><circle cx="308.5" cy="209.4" r="1.7"/><circle cx="286.1" cy="469.8" r="1.7"/><circle cx="356.9" cy="534.4" r="1.7"/><circle cx="384.2" cy="545.2" r="1.6"/><circle cx="487.3" cy="174.1" r="1.6"/><circle cx="514.6" cy="570.2" r="1.7"/><circle cx="272.6" cy="498.3" r="1.6"/><circle cx="496.6" cy="178.7" r="1.6"/><circle cx="494.6" cy="548.3" r="1.5"/><circle cx="167.6" cy="483.9" r="1.6"/><circle cx="396.9" cy="170.1" r="1.5"/><circle cx="262" cy="466.8" r="1.6"/><circle cx="259" cy="467.3" r="1.6"/><circle cx="428" cy="185.4" r="1.6"/><circle cx="179" cy="447.6" r="1.6"/><circle cx="171.9" cy="476.8" r="1.6"/><circle cx="587.8" cy="292" r="1.5"/><circle cx="255.4" cy="461.6" r="1.6"/><circle cx="171.8" cy="328.6" r="1.6"/><circle cx="259.9" cy="465.8" r="1.6"/><circle cx="346.4" cy="199.8" r="1.5"/><circle cx="617.4" cy="370.2" r="1.5"/><circle cx="626.4" cy="151.6" r="1.6"/><circle cx="174.3" cy="332.7" r="1.6"/><circle cx="264" cy="389.5" r="1.6"/><circle cx="134.1" cy="494.8" r="1.6"/><circle cx="440" cy="586.2" r="1.6"/><circle cx="484.8" cy="175.4" r="1.5"/><circle cx="579.3" cy="563.2" r="1.5"/><circle cx="135.6" cy="353.8" r="1.5"/><circle cx="561.9" cy="225.2" r="1.5"/><circle cx="155.5" cy="336.3" r="1.5"/><circle cx="333.2" cy="584.2" r="1.5"/><circle cx="259.5" cy="462.6" r="1.5"/><circle cx="260.9" cy="464.6" r="1.5"/><circle cx="312.4" cy="422.3" r="1.5"/><circle cx="497.6" cy="209.1" r="1.5"/><circle cx="549.4" cy="534.1" r="1.5"/><circle cx="548.9" cy="213.8" r="1.5"/><circle cx="445.9" cy="564.5" r="1.5"/><circle cx="497.1" cy="571.1" r="1.5"/><circle cx="398.7" cy="168.8" r="1.5"/><circle cx="124.3" cy="495.2" r="1.5"/><circle cx="309.8" cy="427.4" r="1.4"/><circle cx="505.8" cy="539" r="1.4"/><circle cx="588.3" cy="556.6" r="1.5"/><circle cx="472.2" cy="238.9" r="1.5"/><circle cx="405.3" cy="209.5" r="1.5"/><circle cx="152.5" cy="454.6" r="1.4"/><circle cx="428.2" cy="183.7" r="1.4"/><circle cx="149.8" cy="393.3" r="1.4"/><circle cx="254.9" cy="459.6" r="1.5"/><circle cx="495.5" cy="549.1" r="1.4"/><circle cx="608.8" cy="369.1" r="1.4"/><circle cx="359" cy="530.4" r="1.5"/><circle cx="40.1" cy="241.8" r="1.4"/><circle cx="453" cy="566.7" r="1.4"/><circle cx="327.3" cy="195.9" r="1.5"/><circle cx="482.3" cy="564.8" r="1.4"/><circle cx="459.2" cy="510.6" r="1.4"/><circle cx="384.8" cy="504.1" r="1.4"/><circle cx="253.7" cy="469" r="1.4"/><circle cx="387.8" cy="607.6" r="1.5"/><circle cx="305.4" cy="427.9" r="1.4"/><circle cx="320.2" cy="588.4" r="1.4"/><circle cx="307.9" cy="431.1" r="1.4"/><circle cx="505.2" cy="244.3" r="1.4"/><circle cx="429.4" cy="573.7" r="1.4"/><circle cx="551.3" cy="239.2" r="1.3"/><circle cx="573.9" cy="301.6" r="1.3"/><circle cx="608.2" cy="160.9" r="1.3"/><circle cx="311" cy="417" r="1.3"/><circle cx="388.6" cy="607.7" r="1.3"/><circle cx="591.2" cy="547.6" r="1.2"/><circle cx="503.6" cy="186.6" r="1.3"/><circle cx="198.8" cy="362.7" r="1.3"/><circle cx="172.5" cy="326.5" r="1.3"/><circle cx="39.3" cy="245.4" r="1.3"/><circle cx="197.2" cy="352.5" r="1.3"/><circle cx="133.8" cy="493.5" r="1.3"/><circle cx="283.7" cy="466" r="1.3"/><circle cx="161.6" cy="450.8" r="1.3"/><circle cx="341.8" cy="140" r="1.3"/><circle cx="504.4" cy="243.3" r="1.2"/><circle cx="566.1" cy="293.9" r="1.3"/><circle cx="305.4" cy="498.5" r="1.1"/><circle cx="413.1" cy="191.4" r="1.2"/><circle cx="171" cy="327.7" r="1.2"/><circle cx="288.3" cy="471.9" r="1.1"/><circle cx="289.1" cy="474.2" r="1.1"/><circle cx="174.8" cy="330.9" r="1.1"/><circle cx="264.3" cy="468" r="1.1"/><circle cx="598.2" cy="568.3" r="1.1"/><circle cx="598.3" cy="569.4" r="1.1"/><circle cx="281" cy="432.9" r="1.1"/><circle cx="261.5" cy="460.1" r="1.1"/><circle cx="258.2" cy="461.8" r="1.1"/><circle cx="184.2" cy="478.2" r="1.1"/><circle cx="336.9" cy="544.4" r="1.1"/><circle cx="255.2" cy="464.2" r="1.1"/><circle cx="598.4" cy="568.3" r="1.1"/></g>
<g fill="url(#g12)"><circle cx="524.1" cy="257.2" r="6"/><circle cx="621.6" cy="544" r="6"/><circle cx="140.2" cy="308.3" r="6"/><circle cx="504.6" cy="204.8" r="6"/><circle cx="536.2" cy="212.1" r="5.8"/><circle cx="550.9" cy="254.7" r="5.8"/><circle cx="142.6" cy="292.5" r="6"/><circle cx="138.9" cy="297.4" r="6"/><circle cx="596" cy="319.3" r="6"/><circle cx="474.1" cy="219.4" r="6"/><circle cx="480.2" cy="224.2" r="6"/><circle cx="465.6" cy="588.7" r="6"/><circle cx="516.8" cy="594.8" r="6"/><circle cx="302.5" cy="489" r="5.9"/><circle cx="509.4" cy="241.3" r="5.8"/><circle cx="516.8" cy="198.7" r="5.8"/><circle cx="588.7" cy="287.1" r="5.8"/><circle cx="541.1" cy="237.7" r="5.1"/><circle cx="316.9" cy="130.4" r="5.2"/><circle cx="234" cy="546" r="5.2"/><circle cx="296.5" cy="484.5" r="5.2"/><circle cx="320.5" cy="125.5" r="4.9"/><circle cx="151.1" cy="195" r="4.9"/><circle cx="153.6" cy="196.2" r="5.1"/><circle cx="463.1" cy="583.8" r="5.1"/><circle cx="353.7" cy="535" r="5.1"/><circle cx="305.5" cy="483" r="4.6"/><circle cx="226.7" cy="538.7" r="4.7"/><circle cx="336.4" cy="134.1" r="4.4"/><circle cx="126.8" cy="498.5" r="4.4"/><circle cx="268.8" cy="498.8" r="4.2"/><circle cx="199.9" cy="376.6" r="3.8"/><circle cx="280.6" cy="496.1" r="3.8"/><circle cx="163.3" cy="330.3" r="3.8"/><circle cx="403.4" cy="171.8" r="3.8"/><circle cx="198.7" cy="327.8" r="3.8"/><circle cx="483.8" cy="515.5" r="3.8"/><circle cx="526.5" cy="553.3" r="3.8"/><circle cx="280.3" cy="587.4" r="3.8"/><circle cx="241.3" cy="516.8" r="3.8"/><circle cx="251.1" cy="519.2" r="3.8"/><circle cx="246.2" cy="531.4" r="3.8"/><circle cx="229.1" cy="565.5" r="3.8"/><circle cx="236.4" cy="572.8" r="3.8"/><circle cx="243.8" cy="577.7" r="3.8"/><circle cx="375.4" cy="558.2" r="3.8"/><circle cx="370.5" cy="563.1" r="3.8"/><circle cx="141.4" cy="204.8" r="3.7"/><circle cx="124.3" cy="507" r="3.8"/><circle cx="256" cy="513" r="3.6"/><circle cx="282.8" cy="482.6" r="3.8"/><circle cx="259" cy="502.5" r="3.6"/><circle cx="255.9" cy="497" r="3.4"/><circle cx="284.5" cy="481.5" r="3.6"/><circle cx="277.9" cy="505.6" r="3.5"/><circle cx="331.8" cy="477" r="3.4"/><circle cx="280" cy="495" r="3.4"/><circle cx="443.6" cy="224.2" r="3.4"/><circle cx="448.5" cy="229.1" r="3.4"/><circle cx="181.6" cy="531.4" r="3.4"/><circle cx="522.8" cy="533.8" r="3.4"/><circle cx="298.6" cy="522.8" r="3.4"/><circle cx="279.2" cy="438.8" r="3.4"/><circle cx="278.8" cy="507.6" r="3.3"/><circle cx="403.6" cy="174.2" r="3.4"/><circle cx="580.9" cy="329.1" r="3.4"/><circle cx="414.4" cy="220.6" r="3.4"/><circle cx="420.5" cy="215.7" r="3.4"/><circle cx="541.1" cy="550.9" r="3.4"/><circle cx="533.8" cy="550.9" r="3.4"/><circle cx="260.8" cy="507" r="3.4"/><circle cx="385.1" cy="570.4" r="3.4"/><circle cx="162.1" cy="457.9" r="3.3"/><circle cx="303.2" cy="494.2" r="3.4"/><circle cx="101.1" cy="276.3" r="3.3"/><circle cx="183.4" cy="364.4" r="3.2"/><circle cx="204" cy="409.5" r="3.2"/><circle cx="281.5" cy="509.4" r="3.4"/><circle cx="210.5" cy="459.5" r="3.2"/><circle cx="301" cy="420" r="3.2"/><circle cx="255.9" cy="514.7" r="3.1"/><circle cx="521.8" cy="554.6" r="3"/><circle cx="258.1" cy="509.3" r="3.1"/><circle cx="155" cy="463.2" r="3.1"/><circle cx="240" cy="152.7" r="3"/><circle cx="211.7" cy="479.7" r="2.9"/><circle cx="379.4" cy="558.2" r="3.1"/><circle cx="504.5" cy="530.6" r="3"/><circle cx="188.3" cy="351.7" r="3"/><circle cx="429.3" cy="551.6" r="3.1"/><circle cx="321.6" cy="471.4" r="3"/><circle cx="547.2" cy="252" r="3"/><circle cx="452.8" cy="613.4" r="3"/><circle cx="520.3" cy="522.3" r="3"/><circle cx="463.1" cy="232.8" r="2.9"/><circle cx="114.6" cy="509.4" r="2.9"/><circle cx="474.1" cy="570.4" r="2.9"/><circle cx="363.2" cy="514.3" r="2.9"/><circle cx="300.6" cy="562.1" r="3.1"/><circle cx="525.7" cy="523.4" r="2.9"/><circle cx="140.8" cy="204.2" r="3.1"/><circle cx="295.1" cy="567.8" r="3"/><circle cx="114.2" cy="506.4" r="2.9"/><circle cx="362.5" cy="514.5" r="2.9"/><circle cx="562.8" cy="276" r="2.9"/><circle cx="509" cy="524.6" r="3"/><circle cx="308" cy="145.9" r="2.9"/><circle cx="284.5" cy="489" r="3"/><circle cx="599.6" cy="324.2" r="2.9"/><circle cx="450.9" cy="206" r="2.9"/><circle cx="487.5" cy="204.8" r="2.9"/><circle cx="499.7" cy="526.5" r="2.9"/><circle cx="497.2" cy="531.4" r="2.9"/><circle cx="487.5" cy="578.9" r="2.9"/><circle cx="369.3" cy="510.7" r="2.9"/><circle cx="425.7" cy="549.2" r="3"/><circle cx="258.2" cy="516.2" r="3"/><circle cx="348.4" cy="460.9" r="2.9"/><circle cx="284.2" cy="578.4" r="2.9"/><circle cx="485.3" cy="209.5" r="2.8"/><circle cx="279.9" cy="483.6" r="2.9"/><circle cx="255" cy="556.7" r="2.8"/><circle cx="310.8" cy="524.1" r="2.9"/><circle cx="342" cy="242.1" r="3"/><circle cx="118.7" cy="301.8" r="2.9"/><circle cx="201.1" cy="348.6" r="2.9"/><circle cx="538.7" cy="206" r="2.9"/><circle cx="186.5" cy="403.4" r="2.9"/><circle cx="192.6" cy="489.9" r="2.9"/><circle cx="437.5" cy="505.8" r="2.9"/><circle cx="463.1" cy="550.9" r="2.9"/><circle cx="548.4" cy="531.4" r="2.9"/><circle cx="546" cy="546" r="2.9"/><circle cx="514.3" cy="567.9" r="2.9"/><circle cx="291.3" cy="564.3" r="2.9"/><circle cx="319.3" cy="571.6" r="2.9"/><circle cx="380.2" cy="550.9" r="2.9"/><circle cx="210.7" cy="478.1" r="2.9"/><circle cx="314.4" cy="525" r="2.8"/><circle cx="234.9" cy="549.9" r="2.8"/><circle cx="216.1" cy="483.9" r="2.9"/><circle cx="283.3" cy="512.7" r="3"/><circle cx="573.2" cy="281.4" r="2.8"/><circle cx="485.3" cy="577" r="2.8"/><circle cx="438.5" cy="526.2" r="2.9"/><circle cx="230.4" cy="539.7" r="2.9"/><circle cx="182.5" cy="357.1" r="3"/><circle cx="437.2" cy="546.3" r="2.8"/><circle cx="414.7" cy="224.1" r="2.9"/><circle cx="289" cy="423" r="2.9"/><circle cx="430.1" cy="535.2" r="2.9"/><circle cx="250.2" cy="499.7" r="2.9"/><circle cx="364.6" cy="512.3" r="2.8"/><circle cx="287.6" cy="578.8" r="2.8"/><circle cx="418.8" cy="215" r="2.8"/><circle cx="499.5" cy="573.2" r="2.8"/><circle cx="528.3" cy="522.4" r="2.8"/><circle cx="513.7" cy="524.1" r="2.8"/><circle cx="308.3" cy="523.7" r="2.8"/><circle cx="341.2" cy="598.6" r="2.9"/><circle cx="263.3" cy="519.6" r="2.9"/><circle cx="423" cy="561.3" r="2.9"/><circle cx="545.4" cy="307.7" r="2.7"/><circle cx="412.2" cy="551" r="2.8"/><circle cx="213.3" cy="479.3" r="2.9"/><circle cx="512.8" cy="567.7" r="2.8"/><circle cx="340.7" cy="246" r="2.8"/><circle cx="314.1" cy="521.6" r="2.7"/><circle cx="407.1" cy="140.2" r="2.8"/><circle cx="315.4" cy="573" r="2.8"/><circle cx="366.7" cy="511.1" r="2.8"/><circle cx="415.2" cy="224.9" r="2.7"/><circle cx="130" cy="253.5" r="2.8"/><circle cx="310.9" cy="517.8" r="2.7"/><circle cx="113.3" cy="506.9" r="2.8"/><circle cx="582" cy="292.7" r="2.8"/><circle cx="494.4" cy="189.8" r="2.8"/><circle cx="190.3" cy="478" r="2.8"/><circle cx="264.8" cy="508.7" r="2.7"/><circle cx="579.3" cy="327" r="2.8"/><circle cx="436.2" cy="553.6" r="2.8"/><circle cx="541.8" cy="548.9" r="2.7"/><circle cx="309.7" cy="522.4" r="2.6"/><circle cx="307" cy="212.7" r="2.8"/><circle cx="197.2" cy="525.3" r="2.7"/><circle cx="460.5" cy="594.8" r="2.6"/><circle cx="497.3" cy="575.1" r="2.6"/><circle cx="213.5" cy="450.7" r="2.7"/><circle cx="467.2" cy="549.2" r="2.7"/><circle cx="375.6" cy="560.2" r="2.6"/><circle cx="442.2" cy="524.5" r="2.7"/><circle cx="109.7" cy="287.1" r="2.7"/><circle cx="136" cy="355.4" r="2.7"/><circle cx="279.1" cy="504.1" r="2.6"/><circle cx="285.3" cy="477.5" r="2.6"/><circle cx="406.3" cy="552" r="2.6"/><circle cx="484.5" cy="577.3" r="2.6"/><circle cx="466.6" cy="550.8" r="2.7"/><circle cx="170.3" cy="438" r="2.6"/><circle cx="509.7" cy="557.4" r="2.6"/><circle cx="137" cy="202.6" r="2.7"/><circle cx="506.7" cy="524.6" r="2.8"/><circle cx="504.1" cy="530.7" r="2.6"/><circle cx="559.7" cy="298.9" r="2.6"/><circle cx="513.1" cy="555.7" r="2.7"/><circle cx="350.1" cy="254.7" r="2.6"/><circle cx="351.9" cy="536.9" r="2.6"/><circle cx="334" cy="434.9" r="2.6"/><circle cx="533.5" cy="595.2" r="2.6"/><circle cx="399.9" cy="547.8" r="2.7"/><circle cx="474.3" cy="546.7" r="2.7"/><circle cx="480.2" cy="201.9" r="2.7"/><circle cx="499.9" cy="530.1" r="2.6"/><circle cx="279" cy="574.6" r="2.7"/><circle cx="340.8" cy="528.5" r="2.6"/><circle cx="485.8" cy="233.9" r="2.5"/><circle cx="557.8" cy="501.7" r="2.6"/><circle cx="314.1" cy="569.4" r="2.7"/><circle cx="216.8" cy="545.8" r="2.7"/><circle cx="316" cy="472.5" r="2.6"/><circle cx="387.3" cy="569.3" r="2.6"/><circle cx="272" cy="496" r="2.6"/><circle cx="469.2" cy="554.6" r="2.6"/><circle cx="405.1" cy="544.9" r="2.6"/><circle cx="294.1" cy="567.4" r="2.6"/><circle cx="311.3" cy="567.9" r="2.6"/><circle cx="484" cy="205" r="2.6"/><circle cx="411.2" cy="297.1" r="2.5"/><circle cx="314.5" cy="519.9" r="2.5"/><circle cx="311" cy="525.8" r="2.5"/><circle cx="300.8" cy="561.2" r="2.5"/><circle cx="556.1" cy="269.8" r="2.6"/><circle cx="284.5" cy="507" r="2.6"/><circle cx="502.1" cy="243.8" r="2.5"/><circle cx="123.1" cy="497.2" r="2.5"/><circle cx="173.1" cy="465.6" r="2.5"/><circle cx="453.4" cy="505.1" r="2.6"/><circle cx="261.5" cy="561.4" r="2.5"/><circle cx="507" cy="532.7" r="2.6"/><circle cx="133.8" cy="300.2" r="2.5"/><circle cx="471.2" cy="189.9" r="2.5"/><circle cx="523.9" cy="535.4" r="2.6"/><circle cx="567" cy="271.8" r="2.5"/><circle cx="451.4" cy="502.5" r="2.6"/><circle cx="587.1" cy="290.9" r="2.5"/><circle cx="191.6" cy="403.2" r="2.4"/><circle cx="442" cy="505.8" r="2.5"/><circle cx="222.6" cy="479.2" r="2.5"/><circle cx="553.2" cy="537.3" r="2.5"/><circle cx="451.1" cy="498" r="2.5"/><circle cx="573.5" cy="278.1" r="2.6"/><circle cx="320.8" cy="574.6" r="2.5"/><circle cx="188.9" cy="355.9" r="2.5"/><circle cx="575.2" cy="290.1" r="2.5"/><circle cx="546" cy="314.4" r="2.5"/><circle cx="154.8" cy="454.6" r="2.5"/><circle cx="441.5" cy="574.7" r="2.6"/><circle cx="473.6" cy="197.8" r="2.4"/><circle cx="546.7" cy="537.8" r="2.5"/><circle cx="337.1" cy="432.3" r="2.4"/><circle cx="212.2" cy="524.7" r="2.4"/><circle cx="289.6" cy="425" r="2.4"/><circle cx="270.6" cy="497.2" r="2.5"/><circle cx="277.9" cy="483.8" r="2.5"/><circle cx="160.8" cy="465.5" r="2.5"/><circle cx="577.6" cy="330.4" r="2.5"/><circle cx="418.9" cy="545.9" r="2.5"/><circle cx="260.2" cy="498.4" r="2.4"/><circle cx="211" cy="484.7" r="2.4"/><circle cx="384.6" cy="145.8" r="2.5"/><circle cx="422.9" cy="185.2" r="2.5"/><circle cx="500.9" cy="187.7" r="2.5"/><circle cx="311.5" cy="225.5" r="2.5"/><circle cx="616.2" cy="372.9" r="2.5"/><circle cx="410.7" cy="301" r="2.5"/><circle cx="550.9" cy="236.4" r="2.5"/><circle cx="546" cy="214.5" r="2.5"/><circle cx="553.3" cy="247.4" r="2.5"/><circle cx="165.8" cy="414.4" r="2.5"/><circle cx="168.2" cy="482.6" r="2.5"/><circle cx="468" cy="500.9" r="2.5"/><circle cx="448.5" cy="526.5" r="2.5"/><circle cx="458.2" cy="509.4" r="2.5"/><circle cx="411.9" cy="571.6" r="2.5"/><circle cx="453.4" cy="564.3" r="2.5"/><circle cx="566.7" cy="575.2" r="2.5"/><circle cx="591.8" cy="548.9" r="2.5"/><circle cx="397.3" cy="608.2" r="2.5"/><circle cx="388.8" cy="538.7" r="2.5"/><circle cx="560.4" cy="513" r="2.5"/><circle cx="280.7" cy="506.1" r="2.4"/><circle cx="498.3" cy="597.3" r="2.5"/><circle cx="500.2" cy="208" r="2.5"/><circle cx="589.5" cy="294.6" r="2.4"/><circle cx="298.4" cy="145.5" r="2.4"/><circle cx="475.4" cy="238.3" r="2.5"/><circle cx="251.9" cy="581.6" r="2.5"/><circle cx="555.4" cy="505.4" r="2.4"/><circle cx="302.1" cy="153.2" r="2.4"/><circle cx="289.4" cy="508.7" r="2.4"/><circle cx="198.8" cy="487.5" r="2.4"/><circle cx="362.9" cy="512.7" r="2.4"/><circle cx="497.5" cy="566" r="2.5"/><circle cx="489.5" cy="208.4" r="2.5"/><circle cx="211.1" cy="526.5" r="2.4"/><circle cx="496" cy="207.2" r="2.5"/><circle cx="118.2" cy="497.2" r="2.5"/><circle cx="158.4" cy="468" r="2.5"/><circle cx="182.1" cy="430.2" r="2.4"/><circle cx="371.2" cy="567.6" r="2.4"/><circle cx="503.9" cy="533.5" r="2.3"/><circle cx="329.3" cy="130.4" r="2.3"/><circle cx="315.3" cy="202.3" r="2.4"/><circle cx="418.7" cy="561.1" r="2.3"/><circle cx="290.3" cy="565.7" r="2.3"/><circle cx="554.1" cy="536.7" r="2.4"/><circle cx="351" cy="185.2" r="2.2"/><circle cx="538.5" cy="598.7" r="2.3"/><circle cx="357.9" cy="528.4" r="2.4"/><circle cx="177.1" cy="476.3" r="2.4"/><circle cx="484.9" cy="520.3" r="2.2"/><circle cx="236" cy="544.9" r="2.2"/><circle cx="187.1" cy="458.6" r="2.2"/><circle cx="402.3" cy="135.4" r="2.3"/><circle cx="217.3" cy="527.7" r="2.3"/><circle cx="398" cy="549.2" r="2.3"/><circle cx="549.3" cy="237.6" r="2.3"/><circle cx="215" cy="455.2" r="2.2"/><circle cx="423.3" cy="220" r="2.3"/><circle cx="120.8" cy="300.6" r="2.3"/><circle cx="527.6" cy="517.6" r="2.3"/><circle cx="474.7" cy="204.1" r="2.3"/><circle cx="175.3" cy="439" r="2.2"/><circle cx="398.5" cy="136.2" r="2.3"/><circle cx="437.9" cy="549.1" r="2.2"/><circle cx="293" cy="561.9" r="2.3"/><circle cx="349.5" cy="186.4" r="2.2"/><circle cx="168.9" cy="479.6" r="2.2"/><circle cx="402.1" cy="170.4" r="2.1"/><circle cx="564.3" cy="299.5" r="2.1"/><circle cx="495.5" cy="561.6" r="2.1"/><circle cx="398.6" cy="546.7" r="2.2"/><circle cx="313.7" cy="141.9" r="2.3"/><circle cx="383.2" cy="573.7" r="2.1"/><circle cx="322.8" cy="571.7" r="2.2"/><circle cx="431.9" cy="536.4" r="2.2"/><circle cx="604.9" cy="318.3" r="2.1"/><circle cx="547.8" cy="240.6" r="2.2"/><circle cx="530.1" cy="520.3" r="2.2"/><circle cx="497.4" cy="206.6" r="2.1"/><circle cx="565.6" cy="303.5" r="2.2"/><circle cx="189.5" cy="469.1" r="2.1"/><circle cx="480.2" cy="545" r="2.2"/><circle cx="296.3" cy="526.2" r="2.1"/><circle cx="399.7" cy="548.5" r="2.1"/><circle cx="549.4" cy="217.2" r="2.1"/><circle cx="131.5" cy="254.8" r="2.1"/><circle cx="532.2" cy="202" r="2.1"/><circle cx="554.4" cy="548.4" r="2.1"/><circle cx="565.7" cy="574.6" r="2"/><circle cx="442" cy="219.8" r="2.1"/><circle cx="310.2" cy="519.4" r="2.2"/><circle cx="253.7" cy="501.7" r="2"/><circle cx="283.1" cy="583.5" r="2.1"/><circle cx="283" cy="581.9" r="2.1"/><circle cx="127" cy="251.5" r="2.2"/><circle cx="614.7" cy="346.5" r="2.1"/><circle cx="543.3" cy="548.4" r="2.2"/><circle cx="396.8" cy="564.5" r="2.1"/><circle cx="191.4" cy="366.2" r="2.1"/><circle cx="132.1" cy="495.6" r="2"/><circle cx="302.4" cy="521.9" r="2"/><circle cx="194" cy="408.3" r="2.1"/><circle cx="311.2" cy="522.3" r="2"/><circle cx="606.3" cy="323" r="2.1"/><circle cx="287.7" cy="480.4" r="2.1"/><circle cx="478.5" cy="550.2" r="2"/><circle cx="300.8" cy="151.9" r="2.1"/><circle cx="193.7" cy="476.6" r="2"/><circle cx="354.6" cy="530.4" r="2.1"/><circle cx="625.8" cy="545.5" r="2"/><circle cx="206.4" cy="406.2" r="2"/><circle cx="516.3" cy="567.3" r="2.1"/><circle cx="500.3" cy="243.8" r="2.1"/><circle cx="303.3" cy="422.6" r="2.1"/><circle cx="141.9" cy="278.9" r="2"/><circle cx="436.4" cy="505.2" r="2"/><circle cx="241.9" cy="548.9" r="2.1"/><circle cx="279.3" cy="491.7" r="2"/><circle cx="221" cy="530.5" r="2"/><circle cx="190" cy="441" r="2"/><circle cx="346.8" cy="185.9" r="2.1"/><circle cx="181.2" cy="466.9" r="2.1"/><circle cx="402.6" cy="553.8" r="2"/><circle cx="315.1" cy="197.5" r="2"/><circle cx="521.1" cy="524.9" r="2"/><circle cx="228.7" cy="487.1" r="2"/><circle cx="422.6" cy="182.9" r="2"/><circle cx="194.3" cy="478.4" r="1.9"/><circle cx="565.9" cy="578.2" r="2"/><circle cx="437.3" cy="183.7" r="1.9"/><circle cx="196.7" cy="413.6" r="2"/><circle cx="149.2" cy="435.1" r="2"/><circle cx="486.6" cy="576" r="2.1"/><circle cx="533.5" cy="546.7" r="2"/><circle cx="304.5" cy="567" r="2"/><circle cx="574.7" cy="565.2" r="2"/><circle cx="187.4" cy="362.7" r="2.1"/><circle cx="350.8" cy="246.6" r="2"/><circle cx="221" cy="463.1" r="1.9"/><circle cx="456" cy="234.2" r="2.1"/><circle cx="346.1" cy="135.1" r="2"/><circle cx="403.2" cy="611.1" r="2"/><circle cx="300.6" cy="417.3" r="2"/><circle cx="559.2" cy="514.2" r="1.9"/><circle cx="594.5" cy="547.2" r="2"/><circle cx="469.5" cy="194.7" r="1.9"/><circle cx="475.6" cy="191.6" r="2"/><circle cx="521.7" cy="592.2" r="1.9"/><circle cx="422.8" cy="531.9" r="2"/><circle cx="130.7" cy="251.5" r="2"/><circle cx="315.1" cy="518.6" r="2"/><circle cx="460.5" cy="550.3" r="1.9"/><circle cx="145.1" cy="287.4" r="1.9"/><circle cx="449.5" cy="619.4" r="1.9"/><circle cx="269.1" cy="500.5" r="1.9"/><circle cx="201.8" cy="382.8" r="1.9"/><circle cx="535.1" cy="205.6" r="1.8"/><circle cx="344.8" cy="532.4" r="1.9"/><circle cx="236.1" cy="552.9" r="1.9"/><circle cx="348.1" cy="463.4" r="1.8"/><circle cx="265" cy="469" r="1.8"/><circle cx="355.6" cy="538.6" r="1.9"/><circle cx="469.5" cy="196.5" r="1.8"/><circle cx="484.9" cy="581" r="1.8"/><circle cx="257.9" cy="568.8" r="1.9"/><circle cx="478.1" cy="204" r="1.9"/><circle cx="597.9" cy="544.3" r="1.8"/><circle cx="499.4" cy="245.4" r="1.9"/><circle cx="344.9" cy="189.4" r="1.9"/><circle cx="422.8" cy="214.1" r="1.8"/><circle cx="255.9" cy="468" r="1.8"/><circle cx="539.7" cy="259.5" r="1.8"/><circle cx="186.7" cy="404.8" r="1.8"/><circle cx="129.5" cy="496.5" r="1.7"/><circle cx="259" cy="465" r="1.8"/><circle cx="260.5" cy="470.2" r="1.8"/><circle cx="341.6" cy="186.9" r="1.8"/><circle cx="168" cy="414.2" r="1.8"/><circle cx="189.4" cy="459.4" r="1.9"/><circle cx="191.6" cy="371.6" r="1.8"/><circle cx="525.8" cy="267.1" r="1.8"/><circle cx="257.2" cy="463.1" r="1.8"/><circle cx="288.8" cy="472.9" r="1.8"/><circle cx="341.5" cy="189.9" r="1.8"/><circle cx="307.7" cy="523.2" r="1.8"/><circle cx="287.5" cy="471" r="1.8"/><circle cx="548.2" cy="268" r="1.8"/><circle cx="256.4" cy="459.9" r="1.8"/><circle cx="558.4" cy="522.8" r="1.8"/><circle cx="499.5" cy="570.3" r="1.8"/><circle cx="500.2" cy="211.7" r="1.7"/><circle cx="185" cy="436.8" r="1.8"/><circle cx="353.8" cy="593.7" r="1.8"/><circle cx="552.1" cy="248.9" r="1.7"/><circle cx="283.8" cy="467.2" r="1.8"/><circle cx="585.2" cy="286.4" r="1.7"/><circle cx="306.7" cy="147.7" r="1.7"/><circle cx="177.6" cy="464" r="1.7"/><circle cx="155.3" cy="452.9" r="1.7"/><circle cx="260.7" cy="466.1" r="1.8"/><circle cx="545.7" cy="536.1" r="1.8"/><circle cx="407.3" cy="542.9" r="1.7"/><circle cx="254.5" cy="460.5" r="1.8"/><circle cx="500.7" cy="561.5" r="1.7"/><circle cx="600.3" cy="322.2" r="1.7"/><circle cx="468.6" cy="198.1" r="1.7"/><circle cx="468.9" cy="235.2" r="1.8"/><circle cx="513.2" cy="570.8" r="1.6"/><circle cx="297.2" cy="499.7" r="1.7"/><circle cx="285.2" cy="468.7" r="1.7"/><circle cx="113.2" cy="507.7" r="1.7"/><circle cx="445.6" cy="201.7" r="1.7"/><circle cx="257.6" cy="467.1" r="1.7"/><circle cx="621.7" cy="547.3" r="1.6"/><circle cx="260.1" cy="463.5" r="1.7"/><circle cx="112.9" cy="499.3" r="1.7"/><circle cx="134.1" cy="356.5" r="1.7"/><circle cx="448.2" cy="527.6" r="1.7"/><circle cx="261.3" cy="462" r="1.6"/><circle cx="301.5" cy="150.1" r="1.7"/><circle cx="280.3" cy="429.5" r="1.7"/><circle cx="261.8" cy="467.7" r="1.6"/><circle cx="322.9" cy="463.1" r="1.6"/><circle cx="258.7" cy="461.2" r="1.6"/><circle cx="257.9" cy="460.2" r="1.5"/><circle cx="544.8" cy="244.6" r="1.6"/><circle cx="340.2" cy="192.5" r="1.6"/><circle cx="467.5" cy="502.1" r="1.6"/><circle cx="317.1" cy="196.5" r="1.5"/><circle cx="259.4" cy="470.3" r="1.5"/><circle cx="389.4" cy="539.9" r="1.6"/><circle cx="461.6" cy="502.6" r="1.6"/><circle cx="582.6" cy="280" r="1.5"/><circle cx="556.1" cy="317.3" r="1.5"/><circle cx="481.5" cy="238.1" r="1.6"/><circle cx="284" cy="466.8" r="1.6"/><circle cx="365.5" cy="514.1" r="1.5"/><circle cx="307.7" cy="130.3" r="1.5"/><circle cx="388.3" cy="536.1" r="1.5"/><circle cx="288.1" cy="470" r="1.6"/><circle cx="451.5" cy="204.1" r="1.6"/><circle cx="461.8" cy="573.9" r="1.5"/><circle cx="260.6" cy="462.2" r="1.5"/><circle cx="459.9" cy="231.8" r="1.5"/><circle cx="281.7" cy="432.1" r="1.5"/><circle cx="283.5" cy="468.6" r="1.5"/><circle cx="455.5" cy="563.5" r="1.5"/><circle cx="462.3" cy="236" r="1.5"/><circle cx="617" cy="69.5" r="1.5"/><circle cx="283.4" cy="433.9" r="1.5"/><circle cx="543.9" cy="303.3" r="1.5"/><circle cx="290.2" cy="509.8" r="1.5"/><circle cx="473.2" cy="558.8" r="1.5"/><circle cx="253.2" cy="461.9" r="1.5"/><circle cx="396.4" cy="561.1" r="1.4"/><circle cx="255.2" cy="468.6" r="1.4"/><circle cx="259.7" cy="459.1" r="1.4"/><circle cx="311.4" cy="226.7" r="1.4"/><circle cx="387.5" cy="538.6" r="1.4"/><circle cx="409.8" cy="300.1" r="1.4"/><circle cx="547.5" cy="217.1" r="1.3"/><circle cx="194.5" cy="380" r="1.3"/><circle cx="496.6" cy="206" r="1.4"/><circle cx="466.2" cy="500.4" r="1.3"/><circle cx="174.2" cy="467.1" r="1.2"/><circle cx="284" cy="468.7" r="1.2"/><circle cx="471.3" cy="562" r="1.2"/><circle cx="283" cy="465.8" r="1.1"/><circle cx="306" cy="498.1" r="1.1"/><circle cx="282.4" cy="467.5" r="1.1"/><circle cx="616.1" cy="68.8" r="1.1"/><circle cx="255" cy="469.6" r="1.1"/><circle cx="254.8" cy="462.4" r="1.1"/></g>
<g fill="url(#g13)"><circle cx="507" cy="214.5" r="6"/><circle cx="494.8" cy="591.1" r="6"/><circle cx="133.6" cy="279.1" r="6"/><circle cx="504.6" cy="236.4" r="6"/><circle cx="463.1" cy="186.5" r="5.8"/><circle cx="147.5" cy="199.4" r="6"/><circle cx="550.9" cy="303.5" r="6"/><circle cx="524.1" cy="202.3" r="5.8"/><circle cx="531.4" cy="208.4" r="5.8"/><circle cx="475.3" cy="580.1" r="5.8"/><circle cx="219.4" cy="533.8" r="5.6"/><circle cx="170.6" cy="426.6" r="4.9"/><circle cx="511.9" cy="230.3" r="5.1"/><circle cx="536.2" cy="241.3" r="5.1"/><circle cx="353.4" cy="190.1" r="5.1"/><circle cx="316.9" cy="130.4" r="4.9"/><circle cx="143.8" cy="303.5" r="4.9"/><circle cx="452.2" cy="184" r="4.9"/><circle cx="280.3" cy="497.2" r="3.8"/><circle cx="276.7" cy="504.6" r="3.8"/><circle cx="279.1" cy="487.5" r="3.8"/><circle cx="514.2" cy="534.2" r="3.8"/><circle cx="266.5" cy="432" r="3.8"/><circle cx="241.7" cy="160" r="3.8"/><circle cx="278.2" cy="501.6" r="3.6"/><circle cx="289.8" cy="417.2" r="3.6"/><circle cx="142.8" cy="297.8" r="3.6"/><circle cx="473.8" cy="228.7" r="3.4"/><circle cx="278.8" cy="505" r="3.5"/><circle cx="521.6" cy="555.6" r="3.3"/><circle cx="286" cy="445.5" r="3.4"/><circle cx="466.1" cy="217" r="3.3"/><circle cx="304.7" cy="525.3" r="3.4"/><circle cx="278.4" cy="497.1" r="3.5"/><circle cx="333.9" cy="525.3" r="3.3"/><circle cx="283" cy="442.5" r="3.4"/><circle cx="144.9" cy="203.8" r="3.4"/><circle cx="258.7" cy="520.4" r="3.2"/><circle cx="201.9" cy="527.5" r="3.2"/><circle cx="319.5" cy="596.7" r="3.2"/><circle cx="275.3" cy="498.4" r="3.1"/><circle cx="257.8" cy="501" r="3.3"/><circle cx="280.1" cy="508" r="3.1"/><circle cx="278.7" cy="498.8" r="3.1"/><circle cx="277.4" cy="505.9" r="3"/><circle cx="280.3" cy="485.9" r="3"/><circle cx="276.7" cy="544.2" r="3"/><circle cx="472.6" cy="571.9" r="3"/><circle cx="332.9" cy="598.5" r="3.2"/><circle cx="337.5" cy="599.1" r="3.1"/><circle cx="341.4" cy="235.1" r="3.2"/><circle cx="304.3" cy="144.6" r="3"/><circle cx="517.2" cy="529.6" r="3"/><circle cx="278.4" cy="499.7" r="3.1"/><circle cx="498.7" cy="224.3" r="3"/><circle cx="290.7" cy="578.9" r="3"/><circle cx="474.1" cy="550" r="2.9"/><circle cx="187" cy="468.8" r="2.9"/><circle cx="471.3" cy="237.7" r="3"/><circle cx="460.9" cy="219" r="2.9"/><circle cx="545" cy="261.8" r="3"/><circle cx="315.7" cy="570.3" r="3"/><circle cx="502.5" cy="569.2" r="3"/><circle cx="561" cy="270.1" r="3"/><circle cx="549.5" cy="540.9" r="3"/><circle cx="351.3" cy="532.9" r="2.9"/><circle cx="511.8" cy="238.4" r="3"/><circle cx="502.1" cy="538.2" r="2.9"/><circle cx="549.2" cy="262.9" r="2.9"/><circle cx="135.4" cy="297.5" r="3"/><circle cx="313.1" cy="133.5" r="3"/><circle cx="551.7" cy="250.4" r="2.9"/><circle cx="482.4" cy="212.9" r="3"/><circle cx="472.4" cy="236" r="3"/><circle cx="312.5" cy="563.4" r="3"/><circle cx="499.2" cy="534.9" r="2.9"/><circle cx="505.2" cy="566.9" r="2.9"/><circle cx="306.5" cy="165.6" r="2.9"/><circle cx="312.4" cy="524.9" r="3"/><circle cx="104.8" cy="276.1" r="2.8"/><circle cx="257.1" cy="566.8" r="2.9"/><circle cx="147.5" cy="299.8" r="2.9"/><circle cx="347.6" cy="251.5" r="2.8"/><circle cx="507.8" cy="534.7" r="2.9"/><circle cx="340.6" cy="523.5" r="2.8"/><circle cx="498.1" cy="532.7" r="3"/><circle cx="527.3" cy="523.8" r="2.8"/><circle cx="401.6" cy="547.3" r="2.8"/><circle cx="429.5" cy="531.1" r="2.8"/><circle cx="219" cy="468.5" r="2.8"/><circle cx="259.4" cy="518.5" r="3"/><circle cx="399.1" cy="550.5" r="2.9"/><circle cx="443.8" cy="553" r="2.8"/><circle cx="110" cy="281.4" r="2.9"/><circle cx="482.3" cy="548.5" r="2.8"/><circle cx="512.3" cy="590.3" r="2.8"/><circle cx="519.2" cy="527.7" r="2.9"/><circle cx="346.1" cy="530.2" r="2.9"/><circle cx="205.1" cy="408.1" r="2.8"/><circle cx="443.5" cy="189" r="2.7"/><circle cx="406.5" cy="547.6" r="2.8"/><circle cx="196.6" cy="390.2" r="2.8"/><circle cx="255" cy="521.9" r="2.8"/><circle cx="317.4" cy="470.9" r="2.7"/><circle cx="507.2" cy="534.8" r="2.9"/><circle cx="307.2" cy="525.3" r="2.8"/><circle cx="550.1" cy="314.9" r="2.8"/><circle cx="167.2" cy="436.4" r="2.9"/><circle cx="417.9" cy="549.4" r="2.8"/><circle cx="307.1" cy="141.8" r="2.9"/><circle cx="201.9" cy="399.3" r="2.7"/><circle cx="529.1" cy="259.8" r="2.8"/><circle cx="439.8" cy="559.2" r="2.9"/><circle cx="209.2" cy="447.6" r="2.7"/><circle cx="293.3" cy="566.1" r="2.9"/><circle cx="293.7" cy="485.6" r="2.7"/><circle cx="265.2" cy="568.3" r="2.9"/><circle cx="480.6" cy="542.1" r="2.8"/><circle cx="474" cy="236.8" r="2.7"/><circle cx="480.6" cy="550.2" r="2.8"/><circle cx="200.9" cy="478.9" r="2.7"/><circle cx="511.6" cy="525.6" r="2.7"/><circle cx="315" cy="134.3" r="2.7"/><circle cx="329.5" cy="555.8" r="2.6"/><circle cx="514.4" cy="541.1" r="2.6"/><circle cx="527.3" cy="524.3" r="2.8"/><circle cx="516.2" cy="526.3" r="2.7"/><circle cx="346.4" cy="195.8" r="2.7"/><circle cx="513.6" cy="525.2" r="2.8"/><circle cx="188.5" cy="350.7" r="2.7"/><circle cx="165.8" cy="462" r="2.6"/><circle cx="279.6" cy="505.8" r="2.8"/><circle cx="515.1" cy="528.2" r="2.7"/><circle cx="106.5" cy="276.7" r="2.7"/><circle cx="471.1" cy="233.5" r="2.7"/><circle cx="592.5" cy="295.2" r="2.8"/><circle cx="359.9" cy="181.2" r="2.6"/><circle cx="222.4" cy="485.7" r="2.6"/><circle cx="406.3" cy="546.8" r="2.6"/><circle cx="163.1" cy="464.7" r="2.7"/><circle cx="300.9" cy="568.2" r="2.6"/><circle cx="306.8" cy="569.4" r="2.7"/><circle cx="501.3" cy="219.3" r="2.6"/><circle cx="473.7" cy="545.9" r="2.7"/><circle cx="506.8" cy="534" r="2.8"/><circle cx="539.8" cy="596" r="2.6"/><circle cx="558.6" cy="520.5" r="2.8"/><circle cx="203.1" cy="523.2" r="2.6"/><circle cx="225.9" cy="483.9" r="2.6"/><circle cx="521.1" cy="526.4" r="2.6"/><circle cx="438.7" cy="550.6" r="2.7"/><circle cx="344.7" cy="251" r="2.7"/><circle cx="430.8" cy="534.6" r="2.5"/><circle cx="358.5" cy="175" r="2.7"/><circle cx="320.5" cy="137.4" r="2.6"/><circle cx="482.7" cy="542.9" r="2.5"/><circle cx="309.5" cy="132.8" r="2.7"/><circle cx="440.6" cy="551.5" r="2.6"/><circle cx="200" cy="384.4" r="2.5"/><circle cx="583.6" cy="291.3" r="2.6"/><circle cx="503.2" cy="575.9" r="2.6"/><circle cx="276.2" cy="494" r="2.7"/><circle cx="201.6" cy="524.7" r="2.5"/><circle cx="555.7" cy="295.7" r="2.6"/><circle cx="284.1" cy="583.1" r="2.6"/><circle cx="476.9" cy="211.1" r="2.5"/><circle cx="430.9" cy="552.5" r="2.6"/><circle cx="399.3" cy="590" r="2.5"/><circle cx="221.4" cy="464.6" r="2.6"/><circle cx="345.6" cy="193.2" r="2.7"/><circle cx="308.2" cy="207.9" r="2.6"/><circle cx="442.6" cy="617.2" r="2.5"/><circle cx="580.8" cy="280.4" r="2.6"/><circle cx="305.5" cy="142.9" r="2.5"/><circle cx="553.2" cy="318.9" r="2.5"/><circle cx="343.6" cy="192.2" r="2.5"/><circle cx="312.7" cy="593.6" r="2.5"/><circle cx="343.7" cy="599.9" r="2.6"/><circle cx="181.9" cy="369.9" r="2.6"/><circle cx="203.7" cy="396.3" r="2.6"/><circle cx="283.1" cy="487.2" r="2.5"/><circle cx="215.1" cy="483.8" r="2.6"/><circle cx="558.1" cy="269.1" r="2.6"/><circle cx="405.4" cy="549.5" r="2.5"/><circle cx="549.6" cy="309.2" r="2.5"/><circle cx="592.3" cy="284.6" r="2.6"/><circle cx="501.1" cy="208" r="2.5"/><circle cx="547.3" cy="268.7" r="2.5"/><circle cx="493.1" cy="598.4" r="2.4"/><circle cx="309.9" cy="223.1" r="2.5"/><circle cx="560.4" cy="273.7" r="2.5"/><circle cx="128.5" cy="513.7" r="2.5"/><circle cx="560.2" cy="265.7" r="2.5"/><circle cx="272.8" cy="576.9" r="2.4"/><circle cx="350.8" cy="538.3" r="2.5"/><circle cx="356.9" cy="532.1" r="2.5"/><circle cx="336.8" cy="597.6" r="2.5"/><circle cx="170.8" cy="461.5" r="2.5"/><circle cx="192.9" cy="444.9" r="2.4"/><circle cx="475.9" cy="200.9" r="2.4"/><circle cx="184.2" cy="355.1" r="2.5"/><circle cx="192.2" cy="404.6" r="2.4"/><circle cx="560.2" cy="299.8" r="2.5"/><circle cx="394" cy="169.2" r="2.5"/><circle cx="360.2" cy="187" r="2.4"/><circle cx="344.3" cy="241.2" r="2.5"/><circle cx="141.2" cy="201.8" r="2.4"/><circle cx="154.5" cy="188.5" r="2.5"/><circle cx="557.1" cy="224" r="2.4"/><circle cx="501.1" cy="521.1" r="2.4"/><circle cx="436.6" cy="526.1" r="2.4"/><circle cx="517.7" cy="525.9" r="2.4"/><circle cx="563.6" cy="298.7" r="2.3"/><circle cx="281.1" cy="579" r="2.4"/><circle cx="289.7" cy="580.4" r="2.3"/><circle cx="440.2" cy="182.8" r="2.4"/><circle cx="252.3" cy="503.8" r="2.4"/><circle cx="219.7" cy="467.9" r="2.4"/><circle cx="159.6" cy="466.7" r="2.4"/><circle cx="467.2" cy="551.8" r="2.3"/><circle cx="207.5" cy="416.3" r="2.3"/><circle cx="298" cy="562.8" r="2.3"/><circle cx="124.2" cy="498.4" r="2.4"/><circle cx="139.7" cy="293" r="2.4"/><circle cx="525.2" cy="524.1" r="2.3"/><circle cx="165.3" cy="468.9" r="2.3"/><circle cx="240.8" cy="553.3" r="2.3"/><circle cx="470.1" cy="548.1" r="2.3"/><circle cx="433.2" cy="550.1" r="2.4"/><circle cx="465.4" cy="214" r="2.4"/><circle cx="469.4" cy="182.5" r="2.3"/><circle cx="463.4" cy="581.3" r="2.3"/><circle cx="352.9" cy="188.4" r="2.2"/><circle cx="307.4" cy="524.1" r="2.3"/><circle cx="405.4" cy="301.7" r="2.2"/><circle cx="427.6" cy="548.4" r="2.3"/><circle cx="405" cy="547" r="2.3"/><circle cx="410.8" cy="138.6" r="2.4"/><circle cx="269" cy="570.6" r="2.3"/><circle cx="501" cy="532.8" r="2.2"/><circle cx="121" cy="497.2" r="2.3"/><circle cx="278" cy="507.6" r="2.3"/><circle cx="505.7" cy="532" r="2.2"/><circle cx="334.3" cy="435.9" r="2.3"/><circle cx="501.5" cy="597.9" r="2.2"/><circle cx="282.6" cy="491.5" r="2.2"/><circle cx="451.1" cy="223.6" r="2.3"/><circle cx="338.3" cy="518.7" r="2.3"/><circle cx="405.8" cy="550.3" r="2.2"/><circle cx="466.8" cy="582.7" r="2.3"/><circle cx="355.2" cy="533.4" r="2.2"/><circle cx="543.1" cy="260.6" r="2.2"/><circle cx="560" cy="508.7" r="2.2"/><circle cx="579.4" cy="280.5" r="2.3"/><circle cx="290.3" cy="418.8" r="2.3"/><circle cx="125.5" cy="498.4" r="2.2"/><circle cx="445.5" cy="624.2" r="2.2"/><circle cx="220.2" cy="536.9" r="2.3"/><circle cx="313" cy="522.2" r="2.1"/><circle cx="415.2" cy="537.7" r="2.2"/><circle cx="559.3" cy="310.8" r="2.1"/><circle cx="473.8" cy="551.4" r="2.2"/><circle cx="130.4" cy="257.6" r="2.2"/><circle cx="477.1" cy="543.8" r="2.2"/><circle cx="268.3" cy="570.1" r="2.1"/><circle cx="343.9" cy="528.8" r="2.1"/><circle cx="491.1" cy="594.2" r="2.2"/><circle cx="507.7" cy="529.4" r="2.1"/><circle cx="494.7" cy="534.9" r="2.1"/><circle cx="511.4" cy="248.7" r="2.1"/><circle cx="529.7" cy="521.7" r="2.1"/><circle cx="184.4" cy="374.4" r="2.1"/><circle cx="506.3" cy="200.1" r="2.1"/><circle cx="364.9" cy="517.3" r="2.2"/><circle cx="447.9" cy="622.2" r="2.1"/><circle cx="484.5" cy="546.8" r="2.2"/><circle cx="525.7" cy="263.5" r="2.2"/><circle cx="449.2" cy="499.9" r="2.1"/><circle cx="363.9" cy="516.4" r="2.1"/><circle cx="245.3" cy="578.9" r="2.2"/><circle cx="485" cy="206.6" r="2.1"/><circle cx="527.4" cy="517" r="2.1"/><circle cx="435.1" cy="549.8" r="2.2"/><circle cx="473.4" cy="547.2" r="2.1"/><circle cx="208.2" cy="412.8" r="2.1"/><circle cx="437.1" cy="184" r="2"/><circle cx="124.4" cy="499.8" r="2.2"/><circle cx="390.9" cy="547.2" r="2.1"/><circle cx="215.1" cy="528.1" r="2.1"/><circle cx="273.3" cy="494.6" r="2.1"/><circle cx="545.1" cy="252.2" r="2.1"/><circle cx="487.3" cy="235.4" r="2.1"/><circle cx="396.3" cy="167" r="2"/><circle cx="497.9" cy="216.2" r="2.1"/><circle cx="469.6" cy="553.4" r="2.1"/><circle cx="463.1" cy="227.3" r="2.1"/><circle cx="501.1" cy="563" r="2"/><circle cx="519.2" cy="596.5" r="2.1"/><circle cx="616" cy="348.2" r="2"/><circle cx="516.2" cy="534.6" r="2"/><circle cx="574.6" cy="567.8" r="2"/><circle cx="194.5" cy="391.7" r="2.1"/><circle cx="594.3" cy="340" r="2"/><circle cx="302.5" cy="521.5" r="2"/><circle cx="582.2" cy="289.9" r="2"/><circle cx="574.9" cy="283.2" r="1.9"/><circle cx="221.3" cy="482.2" r="1.9"/><circle cx="338" cy="432.1" r="2.1"/><circle cx="250.5" cy="554.8" r="1.9"/><circle cx="544.7" cy="597.5" r="2"/><circle cx="214" cy="465.4" r="2"/><circle cx="424.9" cy="544.5" r="1.9"/><circle cx="475.4" cy="205.2" r="2"/><circle cx="410.3" cy="545.6" r="1.9"/><circle cx="344.5" cy="184.6" r="1.9"/><circle cx="434.6" cy="550.5" r="1.9"/><circle cx="117.2" cy="512.4" r="2"/><circle cx="184.5" cy="431.5" r="1.9"/><circle cx="551.2" cy="528.5" r="1.9"/><circle cx="590.6" cy="316.8" r="2"/><circle cx="510.4" cy="532.7" r="1.9"/><circle cx="346.6" cy="251.2" r="1.9"/><circle cx="596.2" cy="543.6" r="1.9"/><circle cx="554.1" cy="300" r="2"/><circle cx="476.8" cy="552" r="2"/><circle cx="281.4" cy="488" r="1.9"/><circle cx="337.2" cy="526.8" r="1.8"/><circle cx="181.5" cy="420.1" r="1.9"/><circle cx="538.7" cy="272.8" r="1.9"/><circle cx="485.2" cy="551.6" r="1.9"/><circle cx="593.9" cy="288.1" r="1.9"/><circle cx="156.8" cy="335.5" r="1.9"/><circle cx="583.1" cy="563.7" r="1.8"/><circle cx="427.9" cy="547" r="1.9"/><circle cx="203" cy="524.6" r="1.9"/><circle cx="220.7" cy="469" r="1.9"/><circle cx="628.1" cy="542.1" r="1.9"/><circle cx="417.2" cy="547.4" r="1.9"/><circle cx="551.5" cy="312.1" r="1.9"/><circle cx="494.4" cy="239.2" r="1.8"/><circle cx="484.4" cy="553.2" r="1.8"/><circle cx="309.5" cy="128.5" r="1.9"/><circle cx="177.8" cy="418.9" r="1.9"/><circle cx="557.9" cy="524" r="1.9"/><circle cx="155.4" cy="337.1" r="1.9"/><circle cx="175.2" cy="474.1" r="1.8"/><circle cx="352.4" cy="183.8" r="1.9"/><circle cx="398.8" cy="562.1" r="1.8"/><circle cx="262.8" cy="466.5" r="1.8"/><circle cx="312.7" cy="218.5" r="1.7"/><circle cx="480.1" cy="235.8" r="1.8"/><circle cx="308.1" cy="494.6" r="1.7"/><circle cx="497.8" cy="540.9" r="1.7"/><circle cx="342.8" cy="137.6" r="1.8"/><circle cx="457.7" cy="580.7" r="1.7"/><circle cx="299.6" cy="490.5" r="1.7"/><circle cx="437.2" cy="546.8" r="1.7"/><circle cx="309.8" cy="211.8" r="1.7"/><circle cx="575.2" cy="282.1" r="1.7"/><circle cx="473.4" cy="193.9" r="1.7"/><circle cx="453" cy="205.7" r="1.7"/><circle cx="570.2" cy="288.9" r="1.7"/><circle cx="483" cy="572.7" r="1.6"/><circle cx="124.8" cy="499.1" r="1.6"/><circle cx="257.6" cy="444.3" r="1.6"/><circle cx="160.5" cy="335.3" r="1.6"/><circle cx="547.6" cy="537.5" r="1.6"/><circle cx="365.4" cy="513.3" r="1.6"/><circle cx="573" cy="290.8" r="1.7"/><circle cx="493.6" cy="174.8" r="1.6"/><circle cx="279.4" cy="440.1" r="1.5"/><circle cx="260.8" cy="460.7" r="1.6"/><circle cx="352.6" cy="538.9" r="1.6"/><circle cx="357.6" cy="173" r="1.6"/><circle cx="356.4" cy="182.1" r="1.5"/><circle cx="591.4" cy="293.6" r="1.6"/><circle cx="158.6" cy="204.5" r="1.5"/><circle cx="352.2" cy="183.2" r="1.5"/><circle cx="280.4" cy="435.6" r="1.6"/><circle cx="262.5" cy="464.2" r="1.5"/><circle cx="358.5" cy="193.2" r="1.5"/><circle cx="377" cy="547.1" r="1.5"/><circle cx="277" cy="435.8" r="1.5"/><circle cx="329.7" cy="530.3" r="1.5"/><circle cx="596.6" cy="545.2" r="1.4"/><circle cx="544.7" cy="215" r="1.5"/><circle cx="617.1" cy="549.1" r="1.5"/><circle cx="169.3" cy="441.8" r="1.5"/><circle cx="260.4" cy="442.5" r="1.5"/><circle cx="298.9" cy="491.1" r="1.4"/><circle cx="583.2" cy="564.1" r="1.5"/><circle cx="263.3" cy="464.1" r="1.5"/><circle cx="618.8" cy="545.8" r="1.5"/><circle cx="487.9" cy="580.7" r="1.5"/><circle cx="440.7" cy="192.4" r="1.4"/><circle cx="116.9" cy="518" r="1.5"/><circle cx="102.8" cy="260.3" r="1.5"/><circle cx="449.8" cy="591.5" r="1.4"/><circle cx="192.5" cy="376.5" r="1.3"/><circle cx="498.5" cy="203" r="1.3"/><circle cx="190.8" cy="378.8" r="1.4"/><circle cx="534.1" cy="270.8" r="1.3"/><circle cx="563.8" cy="288.7" r="1.3"/><circle cx="355.8" cy="194.3" r="1.3"/><circle cx="636" cy="153.7" r="1.1"/><circle cx="621" cy="71.8" r="1.1"/><circle cx="309.8" cy="418.6" r="1.1"/><circle cx="338.2" cy="545.6" r="1.1"/><circle cx="262.2" cy="469" r="1.1"/><circle cx="262.9" cy="470.5" r="1.1"/></g>
<g fill="url(#g14)"><circle cx="175.5" cy="429" r="6"/><circle cx="147.9" cy="198.2" r="6"/><circle cx="321.8" cy="121.9" r="6"/><circle cx="474.1" cy="587.4" r="6"/><circle cx="555.8" cy="307.1" r="6"/><circle cx="147.5" cy="309.6" r="6"/><circle cx="143.8" cy="314.4" r="6"/><circle cx="360.8" cy="598.4" r="5.8"/><circle cx="149.9" cy="315.7" r="5.8"/><circle cx="510.7" cy="221.8" r="5.8"/><circle cx="543.6" cy="221.8" r="5.8"/><circle cx="516.8" cy="232.8" r="5.1"/><circle cx="319" cy="429" r="5.1"/><circle cx="147.5" cy="319.3" r="4.4"/><circle cx="499.7" cy="546" r="4.3"/><circle cx="202.3" cy="408.3" r="4.3"/><circle cx="219.4" cy="475.3" r="4.3"/><circle cx="202.3" cy="487.5" r="4.3"/><circle cx="253.5" cy="492.4" r="4.3"/><circle cx="221.8" cy="558.2" r="4.3"/><circle cx="143.3" cy="201.5" r="4.2"/><circle cx="293.5" cy="418.5" r="4.2"/><circle cx="328" cy="472.5" r="3.8"/><circle cx="255.9" cy="499.7" r="3.8"/><circle cx="340.1" cy="519.9" r="3.8"/><circle cx="143.8" cy="280.3" r="3.8"/><circle cx="516.8" cy="536.2" r="3.8"/><circle cx="340.8" cy="238.9" r="3.8"/><circle cx="608.2" cy="321.8" r="3.8"/><circle cx="519.2" cy="555.8" r="3.8"/><circle cx="511.9" cy="558.2" r="3.8"/><circle cx="331.5" cy="600.8" r="3.8"/><circle cx="208.4" cy="460.7" r="3.8"/><circle cx="224.2" cy="482.6" r="3.8"/><circle cx="198.7" cy="528.9" r="3.8"/><circle cx="214.5" cy="543.6" r="3.8"/><circle cx="255.9" cy="580.1" r="3.8"/><circle cx="382.7" cy="560.6" r="3.8"/><circle cx="511.4" cy="531.2" r="3.7"/><circle cx="472" cy="233.1" r="3.7"/><circle cx="319" cy="468" r="3.6"/><circle cx="466.2" cy="221" r="3.5"/><circle cx="550" cy="313.6" r="3.4"/><circle cx="472.9" cy="234" r="3.4"/><circle cx="328" cy="431.2" r="3.4"/><circle cx="198.7" cy="385.1" r="3.4"/><circle cx="473.7" cy="228.3" r="3.3"/><circle cx="334.3" cy="524.8" r="3.4"/><circle cx="500" cy="204.9" r="3.3"/><circle cx="332.4" cy="521.5" r="3.3"/><circle cx="465.9" cy="229.5" r="3.3"/><circle cx="148.7" cy="288.8" r="3.4"/><circle cx="453.4" cy="225.5" r="3.4"/><circle cx="460.7" cy="226.7" r="3.4"/><circle cx="465.6" cy="202.3" r="3.4"/><circle cx="543.6" cy="536.2" r="3.4"/><circle cx="498.5" cy="563.1" r="3.4"/><circle cx="423.4" cy="544.9" r="3.3"/><circle cx="181.9" cy="359.7" r="3.3"/><circle cx="118.7" cy="513.6" r="3.2"/><circle cx="320.5" cy="466.5" r="3.4"/><circle cx="561.6" cy="268.9" r="3.2"/><circle cx="141.8" cy="299" r="3.3"/><circle cx="497.2" cy="186.5" r="3.4"/><circle cx="186.5" cy="353.4" r="3.4"/><circle cx="203.5" cy="382.7" r="3.4"/><circle cx="408.3" cy="298.6" r="3.4"/><circle cx="492.4" cy="199.9" r="3.4"/><circle cx="548.4" cy="297.4" r="3.4"/><circle cx="188.9" cy="436.3" r="3.4"/><circle cx="421.7" cy="558.2" r="3.4"/><circle cx="557" cy="521.6" r="3.4"/><circle cx="277.9" cy="550.9" r="3.4"/><circle cx="277.1" cy="501.1" r="3.3"/><circle cx="184" cy="354.2" r="3.3"/><circle cx="469.1" cy="231.1" r="3.2"/><circle cx="521.2" cy="534.8" r="3.2"/><circle cx="149.2" cy="194" r="3.2"/><circle cx="338.4" cy="520.9" r="3.1"/><circle cx="536.6" cy="206.6" r="3.1"/><circle cx="465" cy="230.7" r="3.1"/><circle cx="472.9" cy="214.1" r="3.1"/><circle cx="563.7" cy="271.1" r="3.1"/><circle cx="397.7" cy="164.3" r="3"/><circle cx="443.5" cy="185.2" r="3.2"/><circle cx="550.4" cy="264.9" r="3"/><circle cx="486.2" cy="225.4" r="3"/><circle cx="505" cy="202.4" r="3.2"/><circle cx="201.2" cy="396.4" r="3.1"/><circle cx="282.2" cy="485.2" r="3"/><circle cx="260.5" cy="520.5" r="3"/><circle cx="203.7" cy="469.6" r="3"/><circle cx="136.1" cy="295.6" r="3"/><circle cx="346.8" cy="466.5" r="3.2"/><circle cx="533.8" cy="206.8" r="3"/><circle cx="152.2" cy="460.9" r="3"/><circle cx="218" cy="485.3" r="3"/><circle cx="547" cy="312.1" r="3.1"/><circle cx="515.7" cy="528.6" r="3"/><circle cx="498.5" cy="543.1" r="3"/><circle cx="335.5" cy="432.8" r="3"/><circle cx="280" cy="510" r="3"/><circle cx="520.6" cy="199.7" r="2.9"/><circle cx="278.9" cy="495.7" r="3"/><circle cx="473.3" cy="230.7" r="3.1"/><circle cx="308.9" cy="144.5" r="2.9"/><circle cx="394.4" cy="553.4" r="2.9"/><circle cx="214.7" cy="464.4" r="3"/><circle cx="282.6" cy="505.7" r="3"/><circle cx="586.2" cy="293.7" r="2.9"/><circle cx="470.4" cy="198.7" r="2.9"/><circle cx="162.1" cy="463.1" r="2.9"/><circle cx="550.9" cy="538.7" r="2.9"/><circle cx="500.9" cy="571.6" r="2.9"/><circle cx="331.5" cy="526.5" r="2.9"/><circle cx="353.4" cy="536.2" r="2.9"/><circle cx="510.6" cy="522" r="2.9"/><circle cx="491" cy="551.9" r="2.9"/><circle cx="466.6" cy="200.5" r="2.9"/><circle cx="192.5" cy="472.9" r="2.9"/><circle cx="201.3" cy="475.1" r="2.9"/><circle cx="445.4" cy="500.1" r="2.8"/><circle cx="231.2" cy="541.7" r="3"/><circle cx="415.3" cy="544.4" r="2.8"/><circle cx="500.3" cy="534.4" r="2.9"/><circle cx="221.4" cy="534.4" r="2.9"/><circle cx="216" cy="470.7" r="2.8"/><circle cx="538" cy="264.7" r="2.9"/><circle cx="404.1" cy="550" r="2.9"/><circle cx="454.6" cy="513.4" r="2.9"/><circle cx="168.6" cy="460.7" r="2.8"/><circle cx="316.9" cy="136.5" r="2.9"/><circle cx="190.1" cy="363.2" r="2.9"/><circle cx="315.7" cy="199.9" r="2.9"/><circle cx="482.6" cy="235.2" r="2.9"/><circle cx="550.9" cy="268.1" r="2.9"/><circle cx="560.6" cy="276.7" r="2.9"/><circle cx="187.7" cy="468" r="2.9"/><circle cx="173.1" cy="475.3" r="2.9"/><circle cx="553.3" cy="526.5" r="2.9"/><circle cx="355.9" cy="531.4" r="2.9"/><circle cx="207.8" cy="528.4" r="3"/><circle cx="296.6" cy="564.8" r="2.8"/><circle cx="551.6" cy="251.7" r="2.9"/><circle cx="499.7" cy="537" r="2.8"/><circle cx="146.3" cy="277.3" r="2.9"/><circle cx="338.3" cy="551.3" r="2.9"/><circle cx="282.7" cy="579.5" r="2.8"/><circle cx="206.8" cy="523.4" r="2.9"/><circle cx="219.8" cy="461.2" r="2.8"/><circle cx="358.3" cy="180.4" r="2.9"/><circle cx="129.7" cy="253.5" r="2.9"/><circle cx="309.6" cy="220.6" r="2.9"/><circle cx="207.2" cy="387.6" r="2.9"/><circle cx="592.3" cy="315.7" r="2.9"/><circle cx="595.2" cy="342.5" r="2.9"/><circle cx="613.8" cy="370.5" r="2.9"/><circle cx="558.2" cy="223" r="2.9"/><circle cx="539.9" cy="262" r="2.9"/><circle cx="553.3" cy="294.9" r="2.9"/><circle cx="117" cy="514.3" r="2.9"/><circle cx="182.8" cy="431.4" r="2.9"/><circle cx="192.6" cy="441.2" r="2.9"/><circle cx="460.7" cy="499.7" r="2.9"/><circle cx="441.2" cy="560.6" r="2.9"/><circle cx="432.7" cy="564.3" r="2.9"/><circle cx="468" cy="553.3" r="2.9"/><circle cx="560.6" cy="515.5" r="2.9"/><circle cx="494.8" cy="565.5" r="2.9"/><circle cx="438.8" cy="575.2" r="2.9"/><circle cx="319.3" cy="597.2" r="2.9"/><circle cx="335.2" cy="602.1" r="2.9"/><circle cx="542.3" cy="598.4" r="2.9"/><circle cx="387.6" cy="546" r="2.9"/><circle cx="432.3" cy="551.8" r="2.9"/><circle cx="202.2" cy="527.2" r="2.8"/><circle cx="345" cy="468.3" r="2.8"/><circle cx="512.9" cy="535.3" r="2.8"/><circle cx="509.2" cy="566.4" r="2.8"/><circle cx="195" cy="392.3" r="2.8"/><circle cx="278.1" cy="493.4" r="2.9"/><circle cx="200.9" cy="520.1" r="2.8"/><circle cx="521.5" cy="594" r="2.8"/><circle cx="571.2" cy="275.7" r="2.9"/><circle cx="553.6" cy="543.1" r="2.8"/><circle cx="274" cy="503.5" r="2.8"/><circle cx="352.2" cy="534.6" r="2.8"/><circle cx="402.4" cy="551.7" r="2.9"/><circle cx="546.6" cy="311.7" r="2.9"/><circle cx="501.1" cy="185.4" r="2.8"/><circle cx="400.8" cy="553.3" r="2.8"/><circle cx="587.7" cy="285" r="2.7"/><circle cx="292.3" cy="583.7" r="2.7"/><circle cx="508.5" cy="527.4" r="2.8"/><circle cx="257.2" cy="564" r="2.8"/><circle cx="211.3" cy="530.5" r="2.8"/><circle cx="527.1" cy="520.4" r="2.9"/><circle cx="350.3" cy="253.7" r="2.8"/><circle cx="478.5" cy="539.5" r="2.8"/><circle cx="541.9" cy="239" r="2.7"/><circle cx="276.2" cy="493.5" r="2.7"/><circle cx="554.6" cy="315.4" r="2.7"/><circle cx="551.8" cy="542.2" r="2.8"/><circle cx="349" cy="533.2" r="2.8"/><circle cx="471" cy="204.9" r="2.6"/><circle cx="548.7" cy="304.6" r="2.7"/><circle cx="584.7" cy="291.8" r="2.8"/><circle cx="551" cy="318.2" r="2.8"/><circle cx="166.2" cy="433.9" r="2.8"/><circle cx="427.8" cy="534.8" r="2.7"/><circle cx="204.8" cy="477.4" r="2.8"/><circle cx="452.2" cy="621.7" r="2.8"/><circle cx="468" cy="554" r="2.7"/><circle cx="300.5" cy="147.8" r="2.7"/><circle cx="424.7" cy="556.6" r="2.7"/><circle cx="397.3" cy="168.2" r="2.8"/><circle cx="179.9" cy="465" r="2.7"/><circle cx="574" cy="288.5" r="2.8"/><circle cx="483.9" cy="569.7" r="2.6"/><circle cx="285.5" cy="580.7" r="2.7"/><circle cx="342.3" cy="526.1" r="2.6"/><circle cx="170.4" cy="453.7" r="2.7"/><circle cx="188.7" cy="473.8" r="2.6"/><circle cx="183" cy="424.4" r="2.6"/><circle cx="203.3" cy="528.2" r="2.7"/><circle cx="494.8" cy="177.9" r="2.7"/><circle cx="141.6" cy="271" r="2.7"/><circle cx="355.9" cy="598.2" r="2.6"/><circle cx="186.1" cy="382.3" r="2.6"/><circle cx="542.3" cy="261.8" r="2.6"/><circle cx="560" cy="301.7" r="2.7"/><circle cx="533.4" cy="208.7" r="2.6"/><circle cx="298.8" cy="500.2" r="2.6"/><circle cx="462.1" cy="223.1" r="2.6"/><circle cx="197" cy="474.7" r="2.6"/><circle cx="506.1" cy="567.8" r="2.5"/><circle cx="574.3" cy="285.6" r="2.6"/><circle cx="351.1" cy="602.4" r="2.6"/><circle cx="506.8" cy="528.4" r="2.6"/><circle cx="342.4" cy="600.9" r="2.5"/><circle cx="318.5" cy="593.7" r="2.6"/><circle cx="298.8" cy="144.3" r="2.6"/><circle cx="178.9" cy="463.6" r="2.6"/><circle cx="310.8" cy="200.9" r="2.5"/><circle cx="181.5" cy="425.1" r="2.5"/><circle cx="539.9" cy="595.7" r="2.5"/><circle cx="480.8" cy="544.7" r="2.5"/><circle cx="180.2" cy="461" r="2.5"/><circle cx="547.9" cy="232.5" r="2.5"/><circle cx="248.9" cy="492.3" r="2.6"/><circle cx="475.2" cy="547.9" r="2.5"/><circle cx="194.8" cy="412" r="2.6"/><circle cx="314.9" cy="420.2" r="2.6"/><circle cx="502.1" cy="209.6" r="2.5"/><circle cx="544.6" cy="216.5" r="2.6"/><circle cx="545.5" cy="258.1" r="2.5"/><circle cx="520.9" cy="594.9" r="2.5"/><circle cx="562.7" cy="515.6" r="2.6"/><circle cx="520.5" cy="521.6" r="2.5"/><circle cx="547.3" cy="240.5" r="2.6"/><circle cx="217.5" cy="466.7" r="2.6"/><circle cx="333.5" cy="529.4" r="2.5"/><circle cx="191.5" cy="480.9" r="2.4"/><circle cx="133.8" cy="300.1" r="2.4"/><circle cx="546" cy="241.3" r="2.5"/><circle cx="563.1" cy="302.2" r="2.5"/><circle cx="552.3" cy="317.3" r="2.5"/><circle cx="556.6" cy="266.7" r="2.5"/><circle cx="398.9" cy="553.9" r="2.5"/><circle cx="554.2" cy="265.5" r="2.6"/><circle cx="495" cy="174.3" r="2.4"/><circle cx="162.7" cy="330.2" r="2.5"/><circle cx="348.6" cy="189.1" r="2.5"/><circle cx="181.5" cy="461.5" r="2.4"/><circle cx="316.9" cy="132.5" r="2.4"/><circle cx="475.4" cy="201.4" r="2.5"/><circle cx="472.8" cy="549.3" r="2.4"/><circle cx="496.9" cy="215.7" r="2.5"/><circle cx="472.8" cy="552.6" r="2.5"/><circle cx="269.4" cy="497.8" r="2.4"/><circle cx="170.2" cy="457.5" r="2.5"/><circle cx="224.1" cy="484.2" r="2.4"/><circle cx="302.4" cy="494.3" r="2.4"/><circle cx="344.2" cy="186.5" r="2.5"/><circle cx="100.4" cy="262.8" r="2.5"/><circle cx="349" cy="253.5" r="2.5"/><circle cx="509.4" cy="248.6" r="2.5"/><circle cx="567.9" cy="286.4" r="2.5"/><circle cx="520.4" cy="598.4" r="2.5"/><circle cx="307.9" cy="134" r="2.5"/><circle cx="591.8" cy="313" r="2.4"/><circle cx="200.6" cy="518.4" r="2.4"/><circle cx="350.1" cy="534.6" r="2.4"/><circle cx="318" cy="460.9" r="2.3"/><circle cx="508.8" cy="530.4" r="2.4"/><circle cx="338.3" cy="554.4" r="2.4"/><circle cx="557.4" cy="220.3" r="2.5"/><circle cx="212.2" cy="480.9" r="2.4"/><circle cx="218.6" cy="457.2" r="2.4"/><circle cx="223.2" cy="483.7" r="2.3"/><circle cx="205.9" cy="480.8" r="2.4"/><circle cx="492" cy="541" r="2.4"/><circle cx="508.4" cy="531.6" r="2.4"/><circle cx="484.8" cy="541.1" r="2.4"/><circle cx="399.5" cy="586.5" r="2.3"/><circle cx="338.9" cy="556.1" r="2.3"/><circle cx="496.9" cy="536.1" r="2.5"/><circle cx="312.2" cy="206.5" r="2.3"/><circle cx="313.2" cy="119.9" r="2.5"/><circle cx="342.5" cy="192.6" r="2.5"/><circle cx="438.8" cy="192.6" r="2.5"/><circle cx="585" cy="281.5" r="2.5"/><circle cx="536.2" cy="271.8" r="2.5"/><circle cx="193.8" cy="474.1" r="2.5"/><circle cx="616.7" cy="469.9" r="2.5"/><circle cx="598.4" cy="543.1" r="2.5"/><circle cx="594.8" cy="546" r="2.5"/><circle cx="355.9" cy="596" r="2.5"/><circle cx="393.4" cy="168.6" r="2.4"/><circle cx="543.2" cy="216.1" r="2.4"/><circle cx="556.6" cy="271" r="2.4"/><circle cx="496.6" cy="566.8" r="2.3"/><circle cx="319.5" cy="470.6" r="2.4"/><circle cx="212.6" cy="524.9" r="2.4"/><circle cx="444.4" cy="526.6" r="2.3"/><circle cx="336.1" cy="430.7" r="2.3"/><circle cx="485.8" cy="545.8" r="2.3"/><circle cx="397.5" cy="553.3" r="2.4"/><circle cx="573.1" cy="286.5" r="2.3"/><circle cx="207.3" cy="380.7" r="2.3"/><circle cx="343.4" cy="601" r="2.3"/><circle cx="313.7" cy="128.5" r="2.3"/><circle cx="307.2" cy="483.7" r="2.3"/><circle cx="226.3" cy="486.4" r="2.3"/><circle cx="485.5" cy="541.7" r="2.4"/><circle cx="502.4" cy="557.9" r="2.3"/><circle cx="349" cy="187.4" r="2.3"/><circle cx="299.9" cy="501.9" r="2.3"/><circle cx="341.2" cy="138.9" r="2.2"/><circle cx="457.9" cy="224.9" r="2.3"/><circle cx="451.5" cy="498.5" r="2.2"/><circle cx="143.5" cy="307.4" r="2.3"/><circle cx="304.7" cy="160.8" r="2.3"/><circle cx="495.9" cy="229.3" r="2.2"/><circle cx="557.5" cy="512.9" r="2.3"/><circle cx="478.6" cy="228.8" r="2.2"/><circle cx="144.9" cy="293.1" r="2.2"/><circle cx="337.7" cy="136.2" r="2.3"/><circle cx="125.4" cy="514.3" r="2.3"/><circle cx="494.4" cy="549.8" r="2.3"/><circle cx="104.3" cy="275.6" r="2.2"/><circle cx="484.8" cy="232.2" r="2.2"/><circle cx="547.3" cy="238.8" r="2.2"/><circle cx="505.2" cy="520.5" r="2.3"/><circle cx="205" cy="409.5" r="2.2"/><circle cx="186" cy="468.4" r="2.3"/><circle cx="317.4" cy="570.9" r="2.3"/><circle cx="551.6" cy="537.1" r="2.2"/><circle cx="332.5" cy="435.8" r="2.3"/><circle cx="160.5" cy="334.4" r="2.3"/><circle cx="295.1" cy="486.1" r="2.3"/><circle cx="489.2" cy="538.1" r="2.2"/><circle cx="458.8" cy="592.6" r="2.3"/><circle cx="194.3" cy="369.8" r="2.3"/><circle cx="298.4" cy="498.2" r="2.2"/><circle cx="234" cy="542.4" r="2.2"/><circle cx="503" cy="223.5" r="2.2"/><circle cx="301.6" cy="500.7" r="2.1"/><circle cx="489.8" cy="570.8" r="2.3"/><circle cx="335.5" cy="133.6" r="2.1"/><circle cx="466.4" cy="199.4" r="2.1"/><circle cx="517.7" cy="254.1" r="2.2"/><circle cx="158.4" cy="336.4" r="2.2"/><circle cx="310.5" cy="134.8" r="2.3"/><circle cx="206" cy="470.3" r="2.1"/><circle cx="562.4" cy="505.4" r="2.2"/><circle cx="351.9" cy="539" r="2.2"/><circle cx="511.8" cy="595" r="2.2"/><circle cx="306.8" cy="152.1" r="2.2"/><circle cx="224.3" cy="487.6" r="2.2"/><circle cx="446.2" cy="183.2" r="2.2"/><circle cx="220.5" cy="486" r="2.1"/><circle cx="512.1" cy="524.8" r="2.2"/><circle cx="192.5" cy="404.2" r="2.2"/><circle cx="341.9" cy="243.5" r="2.2"/><circle cx="300.6" cy="156.8" r="2.1"/><circle cx="597.7" cy="340.6" r="2.2"/><circle cx="561.8" cy="300" r="2.1"/><circle cx="475.8" cy="546.9" r="2.2"/><circle cx="284.7" cy="487" r="2.2"/><circle cx="198.9" cy="522.5" r="2.1"/><circle cx="532.8" cy="596.1" r="2.1"/><circle cx="477.4" cy="221.4" r="2.2"/><circle cx="455.4" cy="504.5" r="2.1"/><circle cx="191.4" cy="410.4" r="2.2"/><circle cx="304.9" cy="494.5" r="2.1"/><circle cx="332.9" cy="600.6" r="2.1"/><circle cx="569.1" cy="570.7" r="2.2"/><circle cx="102.6" cy="264" r="2.1"/><circle cx="269.7" cy="497.5" r="2.1"/><circle cx="531.7" cy="263.4" r="2.1"/><circle cx="397.2" cy="552.2" r="2.2"/><circle cx="296.2" cy="581.7" r="2.1"/><circle cx="203.9" cy="403.2" r="2.1"/><circle cx="518.7" cy="530.5" r="2"/><circle cx="249.4" cy="556.7" r="2.1"/><circle cx="452" cy="510.2" r="2.1"/><circle cx="340.4" cy="138.2" r="2.1"/><circle cx="481" cy="546.7" r="2.1"/><circle cx="399" cy="167.3" r="2.1"/><circle cx="223.5" cy="484.4" r="2.1"/><circle cx="432.1" cy="565.8" r="2.1"/><circle cx="357.3" cy="175.4" r="2.1"/><circle cx="396.7" cy="552.9" r="2.1"/><circle cx="531.1" cy="269.9" r="2"/><circle cx="345.1" cy="192.6" r="2"/><circle cx="435.5" cy="534.2" r="2"/><circle cx="334.8" cy="603.6" r="2.1"/><circle cx="318.3" cy="137.2" r="2"/><circle cx="432.8" cy="527.4" r="2.1"/><circle cx="515.7" cy="558.9" r="2"/><circle cx="432.8" cy="561" r="2.1"/><circle cx="582" cy="289.7" r="2.1"/><circle cx="437.2" cy="543" r="2"/><circle cx="311.5" cy="419.2" r="2"/><circle cx="550.2" cy="527.9" r="2"/><circle cx="549.6" cy="525.3" r="2"/><circle cx="542.7" cy="258.3" r="1.9"/><circle cx="527.7" cy="256.8" r="2"/><circle cx="129.3" cy="273" r="2"/><circle cx="400.1" cy="612.6" r="2"/><circle cx="452.3" cy="227.5" r="2"/><circle cx="441.9" cy="550.8" r="2"/><circle cx="472.9" cy="560.6" r="2"/><circle cx="331.2" cy="600.9" r="1.9"/><circle cx="463.2" cy="227.5" r="1.9"/><circle cx="530.2" cy="204.8" r="1.9"/><circle cx="300.9" cy="565.4" r="1.9"/><circle cx="489.7" cy="572.3" r="1.9"/><circle cx="273.2" cy="572.8" r="1.9"/><circle cx="452.5" cy="229.6" r="1.9"/><circle cx="206.1" cy="472.5" r="1.9"/><circle cx="299.5" cy="143.3" r="1.9"/><circle cx="349" cy="251.4" r="1.9"/><circle cx="559.9" cy="279.1" r="1.9"/><circle cx="575.1" cy="565.8" r="1.9"/><circle cx="171.3" cy="473.7" r="1.9"/><circle cx="483.1" cy="545.9" r="1.9"/><circle cx="313.8" cy="566.8" r="1.8"/><circle cx="561.3" cy="273.5" r="1.8"/><circle cx="216.3" cy="528" r="1.9"/><circle cx="347.1" cy="195.2" r="1.8"/><circle cx="294" cy="481.1" r="1.8"/><circle cx="548.5" cy="241.6" r="1.8"/><circle cx="357.5" cy="531.3" r="1.9"/><circle cx="492.7" cy="197.7" r="1.8"/><circle cx="340.1" cy="544.8" r="1.8"/><circle cx="282.2" cy="434.2" r="1.8"/><circle cx="284.3" cy="433.9" r="1.7"/><circle cx="387.7" cy="547.9" r="1.7"/><circle cx="102.1" cy="264.9" r="1.8"/><circle cx="297.8" cy="501.5" r="1.7"/><circle cx="496.9" cy="561.2" r="1.8"/><circle cx="126.3" cy="495.7" r="1.8"/><circle cx="452.4" cy="223.9" r="1.7"/><circle cx="473.4" cy="560.2" r="1.8"/><circle cx="561.5" cy="302.6" r="1.7"/><circle cx="511.1" cy="250.2" r="1.8"/><circle cx="273.6" cy="488.9" r="1.7"/><circle cx="622.8" cy="49.2" r="1.8"/><circle cx="171.8" cy="754.4" r="1.8"/><circle cx="597.7" cy="750.8" r="1.8"/><circle cx="340.4" cy="518.6" r="1.7"/><circle cx="318.5" cy="202.8" r="1.7"/><circle cx="549.5" cy="264.4" r="1.7"/><circle cx="331.9" cy="433.2" r="1.7"/><circle cx="263.3" cy="426.5" r="1.7"/><circle cx="588.5" cy="296.5" r="1.7"/><circle cx="185.1" cy="386.9" r="1.7"/><circle cx="359.4" cy="179.3" r="1.7"/><circle cx="339.4" cy="137.8" r="1.7"/><circle cx="190.1" cy="435.3" r="1.7"/><circle cx="204.5" cy="387.7" r="1.7"/><circle cx="496.7" cy="177.3" r="1.7"/><circle cx="206.2" cy="396.7" r="1.7"/><circle cx="459.3" cy="573.2" r="1.6"/><circle cx="263.6" cy="469.2" r="1.6"/><circle cx="281.5" cy="437.3" r="1.6"/><circle cx="322.2" cy="532.9" r="1.7"/><circle cx="191" cy="373.3" r="1.6"/><circle cx="263.3" cy="523.7" r="1.6"/><circle cx="584.4" cy="296.6" r="1.7"/><circle cx="356.5" cy="529.6" r="1.6"/><circle cx="333.7" cy="132.7" r="1.6"/><circle cx="361.4" cy="188.6" r="1.6"/><circle cx="559.7" cy="224.5" r="1.6"/><circle cx="520.6" cy="557.3" r="1.6"/><circle cx="583.3" cy="279.8" r="1.6"/><circle cx="145" cy="399.2" r="1.6"/><circle cx="434.4" cy="539.9" r="1.6"/><circle cx="537.8" cy="243.2" r="1.5"/><circle cx="544.5" cy="252.1" r="1.6"/><circle cx="384.7" cy="544.7" r="1.6"/><circle cx="350.4" cy="255.5" r="1.5"/><circle cx="593.8" cy="311.6" r="1.5"/><circle cx="333.9" cy="439.2" r="1.5"/><circle cx="141.1" cy="277.1" r="1.5"/><circle cx="573.4" cy="281.6" r="1.6"/><circle cx="331.8" cy="475.4" r="1.5"/><circle cx="282.6" cy="509.4" r="1.5"/><circle cx="333.4" cy="135.1" r="1.5"/><circle cx="258.5" cy="567.9" r="1.5"/><circle cx="384.6" cy="315.2" r="1.6"/><circle cx="550.8" cy="294.7" r="1.5"/><circle cx="311.4" cy="418.1" r="1.5"/><circle cx="161.2" cy="330.2" r="1.5"/><circle cx="160.1" cy="466.8" r="1.5"/><circle cx="584.8" cy="287.1" r="1.5"/><circle cx="314.3" cy="424.6" r="1.5"/><circle cx="273.7" cy="502.1" r="1.5"/><circle cx="149.6" cy="292.7" r="1.5"/><circle cx="307.9" cy="499.4" r="1.5"/><circle cx="549.6" cy="270.4" r="1.5"/><circle cx="433" cy="565.1" r="1.5"/><circle cx="278.4" cy="437.2" r="1.4"/><circle cx="621.5" cy="70.3" r="1.5"/><circle cx="159.2" cy="203.2" r="1.4"/><circle cx="278.2" cy="440" r="1.4"/><circle cx="182.1" cy="429.4" r="1.4"/><circle cx="329.2" cy="435.7" r="1.4"/><circle cx="312" cy="521.4" r="1.4"/><circle cx="547.4" cy="297.9" r="1.4"/><circle cx="279" cy="484.7" r="1.4"/><circle cx="536.1" cy="263.9" r="1.3"/><circle cx="474.8" cy="231.3" r="1.3"/><circle cx="113.5" cy="514.9" r="1.4"/><circle cx="262" cy="460.2" r="1.4"/><circle cx="438" cy="562.9" r="1.3"/><circle cx="357.6" cy="535.8" r="1.3"/><circle cx="146.1" cy="285.8" r="1.3"/><circle cx="356.2" cy="530.1" r="1.3"/><circle cx="299.5" cy="500.6" r="1.3"/><circle cx="274" cy="450" r="1.3"/><circle cx="498" cy="565.3" r="1.4"/><circle cx="340" cy="549.4" r="1.4"/><circle cx="300.6" cy="501.1" r="1.3"/><circle cx="259.6" cy="460.6" r="1.3"/><circle cx="585.2" cy="293.4" r="1.3"/><circle cx="622.3" cy="70.4" r="1.3"/><circle cx="283.9" cy="497.7" r="1.3"/><circle cx="348.3" cy="255.5" r="1.3"/><circle cx="471" cy="199.4" r="1.2"/><circle cx="596.8" cy="547.9" r="1.2"/><circle cx="297.4" cy="414" r="1.2"/><circle cx="519.6" cy="599.9" r="1.2"/><circle cx="270.4" cy="496.6" r="1.2"/><circle cx="481" cy="234.7" r="1.1"/><circle cx="299.4" cy="524.7" r="1.1"/><circle cx="323.9" cy="532.3" r="1.2"/><circle cx="541.1" cy="539.2" r="1.1"/><circle cx="344.1" cy="187.7" r="1.1"/><circle cx="284.2" cy="432.7" r="1.1"/><circle cx="604.9" cy="63.8" r="1.1"/></g>
<g fill="url(#g15)"><circle cx="295" cy="456" r="6.2"/><circle cx="292" cy="463.5" r="6.2"/><circle cx="511.9" cy="208.4" r="6"/><circle cx="530.2" cy="236.4" r="5.8"/><circle cx="302.5" cy="450" r="6"/><circle cx="518" cy="206" r="6"/><circle cx="305.5" cy="466.5" r="5.8"/><circle cx="325" cy="445.5" r="5.8"/><circle cx="536.2" cy="234" r="5.8"/><circle cx="296.5" cy="447.8" r="5.5"/><circle cx="533.8" cy="220.6" r="5.7"/><circle cx="521.6" cy="229.1" r="5.7"/><circle cx="488.7" cy="588.7" r="5.7"/><circle cx="304" cy="168.2" r="5.6"/><circle cx="301" cy="480" r="5.5"/><circle cx="135.3" cy="284" r="5.2"/><circle cx="310" cy="444" r="5.4"/><circle cx="316" cy="448.5" r="5.4"/><circle cx="304" cy="457.5" r="5.4"/><circle cx="299.5" cy="471" r="5.4"/><circle cx="548.4" cy="224.2" r="5.1"/><circle cx="307" cy="474" r="5.3"/><circle cx="295" cy="469.5" r="5.3"/><circle cx="319" cy="441" r="5.3"/><circle cx="292" cy="448.5" r="5.1"/><circle cx="331" cy="469.5" r="4.6"/><circle cx="311.5" cy="435" r="4.6"/><circle cx="241.2" cy="156.7" r="4.6"/><circle cx="338.5" cy="525" r="4.4"/><circle cx="143.1" cy="203.8" r="4.2"/><circle cx="239.4" cy="549.1" r="4.3"/><circle cx="278.5" cy="444" r="3.8"/><circle cx="283.8" cy="452.2" r="3.8"/><circle cx="184" cy="359.5" r="3.8"/><circle cx="157.2" cy="459.5" r="3.8"/><circle cx="504.6" cy="524.1" r="3.8"/><circle cx="315.7" cy="594.8" r="3.8"/><circle cx="304.7" cy="157.2" r="3.8"/><circle cx="312" cy="202.3" r="3.8"/><circle cx="163.3" cy="426.6" r="3.8"/><circle cx="190.1" cy="399.8" r="3.8"/><circle cx="442.4" cy="503.3" r="3.8"/><circle cx="338.8" cy="600.8" r="3.8"/><circle cx="401" cy="609.4" r="3.8"/><circle cx="287.6" cy="581.3" r="3.8"/><circle cx="273" cy="546" r="3.8"/><circle cx="297.4" cy="560.6" r="3.8"/><circle cx="331.5" cy="557" r="3.8"/><circle cx="333.2" cy="473.2" r="3.8"/><circle cx="269.5" cy="435" r="3.8"/><circle cx="272.5" cy="492" r="3.8"/><circle cx="318.2" cy="432.8" r="3.8"/><circle cx="472.4" cy="222" r="3.7"/><circle cx="474.7" cy="225.2" r="3.7"/><circle cx="512.2" cy="531.3" r="3.5"/><circle cx="138.1" cy="305" r="3.5"/><circle cx="469.3" cy="225.6" r="3.5"/><circle cx="451.8" cy="182" r="3.4"/><circle cx="277" cy="504" r="3.4"/><circle cx="549.4" cy="305.5" r="3.4"/><circle cx="509.4" cy="538" r="3.4"/><circle cx="343.7" cy="243.8" r="3.4"/><circle cx="472.9" cy="204.8" r="3.4"/><circle cx="582.6" cy="282.8" r="3.4"/><circle cx="454.6" cy="502.1" r="3.4"/><circle cx="436.3" cy="557" r="3.4"/><circle cx="343.7" cy="552.1" r="3.4"/><circle cx="510.8" cy="527.1" r="3.5"/><circle cx="334" cy="466.5" r="3.4"/><circle cx="346" cy="459.8" r="3.4"/><circle cx="310.1" cy="214.5" r="3.4"/><circle cx="504.6" cy="560.6" r="3.4"/><circle cx="444.8" cy="620.3" r="3.4"/><circle cx="458.2" cy="591.1" r="3.4"/><circle cx="530.2" cy="596" r="3.4"/><circle cx="312" cy="565.5" r="3.4"/><circle cx="430.5" cy="549.1" r="3.4"/><circle cx="298.9" cy="486.7" r="3.3"/><circle cx="430.3" cy="557.9" r="3.3"/><circle cx="471.3" cy="214.8" r="3.3"/><circle cx="341.2" cy="525.3" r="3.4"/><circle cx="528.6" cy="265.8" r="3.3"/><circle cx="107.2" cy="282.8" r="3.4"/><circle cx="144" cy="300.8" r="3.3"/><circle cx="269.8" cy="543.4" r="3.2"/><circle cx="334.2" cy="554.1" r="3.3"/><circle cx="585.9" cy="287.9" r="3.3"/><circle cx="548.8" cy="259.7" r="3.1"/><circle cx="252.9" cy="500.8" r="3.3"/><circle cx="558" cy="265.9" r="3"/><circle cx="166.2" cy="327.8" r="3.1"/><circle cx="439.9" cy="191.3" r="3.1"/><circle cx="311.2" cy="129.7" r="3.1"/><circle cx="419" cy="552.4" r="3.2"/><circle cx="546.4" cy="303.6" r="3.2"/><circle cx="143" cy="201.8" r="3.2"/><circle cx="130.2" cy="273.8" r="3.2"/><circle cx="138.8" cy="305.9" r="3.1"/><circle cx="494.9" cy="536.3" r="3.1"/><circle cx="469.4" cy="590.1" r="3.1"/><circle cx="447.7" cy="183.6" r="3.1"/><circle cx="431.3" cy="555.4" r="3"/><circle cx="504.2" cy="239.5" r="3.2"/><circle cx="470.7" cy="191" r="3"/><circle cx="503.5" cy="231.3" r="3"/><circle cx="497.3" cy="539.7" r="3.2"/><circle cx="288.7" cy="583.2" r="3.1"/><circle cx="302.8" cy="486.9" r="3"/><circle cx="498.9" cy="205.6" r="3"/><circle cx="546" cy="247.5" r="3"/><circle cx="275.2" cy="503.3" r="2.9"/><circle cx="281.2" cy="483.6" r="3"/><circle cx="314.5" cy="423" r="3"/><circle cx="181.7" cy="380.5" r="2.9"/><circle cx="461.3" cy="586" r="3.1"/><circle cx="441.2" cy="184" r="2.9"/><circle cx="592.3" cy="290.1" r="2.9"/><circle cx="489.9" cy="234" r="2.9"/><circle cx="543.6" cy="255.9" r="2.9"/><circle cx="558.2" cy="314.4" r="2.9"/><circle cx="487.5" cy="570.4" r="2.9"/><circle cx="338.9" cy="552.7" r="3"/><circle cx="301.1" cy="493.4" r="3"/><circle cx="451.5" cy="501.4" r="3"/><circle cx="549.7" cy="311.2" r="3"/><circle cx="348" cy="531.9" r="3"/><circle cx="341.9" cy="520.2" r="3"/><circle cx="451.2" cy="182.5" r="3"/><circle cx="320.5" cy="463.5" r="2.9"/><circle cx="271.2" cy="574.4" r="3"/><circle cx="434.4" cy="531.8" r="3"/><circle cx="129.2" cy="258.9" r="2.9"/><circle cx="136.5" cy="302.2" r="2.9"/><circle cx="309.6" cy="208.4" r="2.9"/><circle cx="526.5" cy="265.7" r="2.9"/><circle cx="516.8" cy="255.9" r="2.9"/><circle cx="170.6" cy="443.6" r="2.9"/><circle cx="190.1" cy="480.2" r="2.9"/><circle cx="438.8" cy="546" r="2.9"/><circle cx="559.4" cy="510.7" r="2.9"/><circle cx="570.4" cy="572.8" r="2.9"/><circle cx="499.7" cy="596" r="2.9"/><circle cx="301.6" cy="491.4" r="2.8"/><circle cx="279.3" cy="508.1" r="3"/><circle cx="400.4" cy="611.7" r="2.9"/><circle cx="199.2" cy="523.8" r="2.9"/><circle cx="464.5" cy="591.9" r="2.9"/><circle cx="279.7" cy="501" r="2.8"/><circle cx="426.2" cy="547.7" r="2.9"/><circle cx="516.6" cy="246" r="2.9"/><circle cx="210.8" cy="528.7" r="2.9"/><circle cx="228.2" cy="483.8" r="2.9"/><circle cx="346.4" cy="455.4" r="2.8"/><circle cx="546.8" cy="244.8" r="2.9"/><circle cx="191" cy="396.9" r="3"/><circle cx="482.3" cy="229.6" r="2.8"/><circle cx="583.8" cy="288.8" r="2.9"/><circle cx="208.1" cy="482.9" r="2.8"/><circle cx="491.5" cy="550.8" r="2.9"/><circle cx="487.4" cy="535.8" r="2.8"/><circle cx="490.5" cy="552" r="2.8"/><circle cx="313" cy="571.1" r="2.9"/><circle cx="396.6" cy="539.5" r="2.8"/><circle cx="544.9" cy="218.8" r="2.7"/><circle cx="470.1" cy="581" r="2.7"/><circle cx="222" cy="483.7" r="2.8"/><circle cx="556.3" cy="314.8" r="2.8"/><circle cx="550.7" cy="262.6" r="2.9"/><circle cx="586.1" cy="282.7" r="2.9"/><circle cx="354.7" cy="174.3" r="2.8"/><circle cx="504.6" cy="536.2" r="2.8"/><circle cx="492.4" cy="548.4" r="2.8"/><circle cx="204.8" cy="397.3" r="2.8"/><circle cx="214.5" cy="468" r="2.8"/><circle cx="497.2" cy="228.2" r="2.8"/><circle cx="512.6" cy="526.3" r="2.8"/><circle cx="118" cy="511.4" r="2.7"/><circle cx="200.6" cy="526.6" r="2.9"/><circle cx="349.1" cy="190.5" r="2.8"/><circle cx="225.6" cy="540.1" r="2.8"/><circle cx="207.2" cy="411.4" r="2.8"/><circle cx="453.1" cy="183.3" r="2.7"/><circle cx="570.8" cy="285.5" r="2.7"/><circle cx="501.6" cy="534.3" r="2.8"/><circle cx="186.2" cy="371" r="2.7"/><circle cx="447.3" cy="500.4" r="2.7"/><circle cx="134.2" cy="273.8" r="2.8"/><circle cx="463.5" cy="575.5" r="2.8"/><circle cx="358.4" cy="191.9" r="2.7"/><circle cx="267.8" cy="575.8" r="2.8"/><circle cx="536.9" cy="598.7" r="2.8"/><circle cx="282.2" cy="457.5" r="2.8"/><circle cx="402.7" cy="561.8" r="2.7"/><circle cx="189.4" cy="394.7" r="2.8"/><circle cx="480.7" cy="214.8" r="2.7"/><circle cx="487.9" cy="230.7" r="2.8"/><circle cx="442.2" cy="527" r="2.7"/><circle cx="344.2" cy="527.7" r="2.8"/><circle cx="343" cy="556" r="2.8"/><circle cx="313.7" cy="121.9" r="2.8"/><circle cx="548.8" cy="254.7" r="2.7"/><circle cx="470.6" cy="574.8" r="2.8"/><circle cx="480.2" cy="542.3" r="2.8"/><circle cx="103.1" cy="267.6" r="2.7"/><circle cx="124.5" cy="513.9" r="2.6"/><circle cx="445.5" cy="552.1" r="2.8"/><circle cx="591.2" cy="285.1" r="2.8"/><circle cx="483.8" cy="541.3" r="2.8"/><circle cx="205.8" cy="481.1" r="2.7"/><circle cx="221.1" cy="467.3" r="2.7"/><circle cx="407.7" cy="548.5" r="2.6"/><circle cx="437" cy="550.7" r="2.7"/><circle cx="202.8" cy="472.4" r="2.6"/><circle cx="570.5" cy="284.4" r="2.7"/><circle cx="282.8" cy="485.5" r="2.6"/><circle cx="517.1" cy="526.9" r="2.7"/><circle cx="350.5" cy="190.6" r="2.6"/><circle cx="176.8" cy="417.3" r="2.6"/><circle cx="172.1" cy="463.6" r="2.6"/><circle cx="192.7" cy="399.2" r="2.6"/><circle cx="296.7" cy="565.7" r="2.7"/><circle cx="566.7" cy="285.7" r="2.6"/><circle cx="432.5" cy="531.9" r="2.7"/><circle cx="560.6" cy="304" r="2.5"/><circle cx="310.6" cy="199.2" r="2.6"/><circle cx="299.8" cy="566.5" r="2.6"/><circle cx="281.3" cy="577.7" r="2.7"/><circle cx="562.2" cy="303.8" r="2.5"/><circle cx="285.5" cy="581.7" r="2.6"/><circle cx="210.4" cy="447.9" r="2.6"/><circle cx="210.5" cy="467.9" r="2.6"/><circle cx="489.7" cy="541.8" r="2.6"/><circle cx="177.5" cy="459.6" r="2.6"/><circle cx="457.5" cy="575.9" r="2.6"/><circle cx="306.6" cy="153.5" r="2.6"/><circle cx="440.2" cy="516.6" r="2.5"/><circle cx="346.1" cy="548.6" r="2.6"/><circle cx="230.4" cy="545.8" r="2.5"/><circle cx="218.4" cy="460.5" r="2.5"/><circle cx="549.9" cy="234.2" r="2.6"/><circle cx="182.8" cy="463.1" r="2.5"/><circle cx="186.5" cy="460.7" r="2.5"/><circle cx="186.3" cy="471.2" r="2.5"/><circle cx="502.2" cy="211.2" r="2.5"/><circle cx="571.4" cy="574.9" r="2.6"/><circle cx="164.9" cy="462.9" r="2.5"/><circle cx="183.9" cy="460.4" r="2.5"/><circle cx="548.9" cy="314.4" r="2.5"/><circle cx="274.2" cy="492.4" r="2.5"/><circle cx="553" cy="267.5" r="2.5"/><circle cx="441.2" cy="525.5" r="2.6"/><circle cx="543" cy="241.3" r="2.5"/><circle cx="475.3" cy="550.9" r="2.5"/><circle cx="581.3" cy="564.3" r="2.5"/><circle cx="138.4" cy="302.2" r="2.4"/><circle cx="398.9" cy="551.6" r="2.4"/><circle cx="308.9" cy="212.3" r="2.4"/><circle cx="500.1" cy="213.2" r="2.4"/><circle cx="482.5" cy="228.1" r="2.5"/><circle cx="492.2" cy="597.2" r="2.5"/><circle cx="347.9" cy="530.9" r="2.5"/><circle cx="525.5" cy="519.6" r="2.4"/><circle cx="200.8" cy="527.7" r="2.4"/><circle cx="498.3" cy="224.5" r="2.5"/><circle cx="211.8" cy="483.9" r="2.5"/><circle cx="203" cy="527.1" r="2.4"/><circle cx="511.3" cy="530.5" r="2.4"/><circle cx="497.1" cy="233.3" r="2.4"/><circle cx="503.6" cy="568.5" r="2.5"/><circle cx="205.8" cy="528" r="2.3"/><circle cx="297.9" cy="567" r="2.4"/><circle cx="451.4" cy="513.3" r="2.4"/><circle cx="286.8" cy="582.6" r="2.4"/><circle cx="448.7" cy="619.2" r="2.4"/><circle cx="281.1" cy="492.7" r="2.4"/><circle cx="303.6" cy="145.2" r="2.3"/><circle cx="490.9" cy="545.8" r="2.3"/><circle cx="441.3" cy="527" r="2.4"/><circle cx="201.4" cy="524.8" r="2.3"/><circle cx="284.4" cy="580.9" r="2.3"/><circle cx="481.6" cy="546.2" r="2.3"/><circle cx="498.8" cy="537.3" r="2.3"/><circle cx="417.4" cy="549" r="2.4"/><circle cx="216" cy="465.9" r="2.4"/><circle cx="476.7" cy="229.8" r="2.3"/><circle cx="486.7" cy="548.2" r="2.3"/><circle cx="503.4" cy="596.3" r="2.4"/><circle cx="328.4" cy="558.5" r="2.3"/><circle cx="561" cy="299.1" r="2.3"/><circle cx="207.6" cy="524.8" r="2.2"/><circle cx="192.8" cy="475.4" r="2.4"/><circle cx="243.5" cy="154.6" r="2.3"/><circle cx="427.8" cy="549.5" r="2.3"/><circle cx="103.3" cy="277.5" r="2.2"/><circle cx="257.9" cy="559" r="2.2"/><circle cx="313" cy="519" r="2.3"/><circle cx="320.1" cy="130.6" r="2.3"/><circle cx="507.9" cy="204.3" r="2.2"/><circle cx="293.3" cy="578.9" r="2.3"/><circle cx="100.3" cy="267.2" r="2.2"/><circle cx="414.1" cy="547.9" r="2.2"/><circle cx="443" cy="532.2" r="2.2"/><circle cx="343.1" cy="192" r="2.3"/><circle cx="452.7" cy="178.6" r="2.2"/><circle cx="300" cy="495.4" r="2.2"/><circle cx="283.9" cy="483.6" r="2.3"/><circle cx="277.8" cy="489.5" r="2.3"/><circle cx="143.8" cy="318.9" r="2.2"/><circle cx="344" cy="239.9" r="2.1"/><circle cx="333.4" cy="553.7" r="2.3"/><circle cx="213.4" cy="482.6" r="2.1"/><circle cx="400.6" cy="532.5" r="2.2"/><circle cx="154.3" cy="193.4" r="2.2"/><circle cx="621.8" cy="352.1" r="2.1"/><circle cx="263.9" cy="571.7" r="2.1"/><circle cx="321.9" cy="530.6" r="2.1"/><circle cx="154.1" cy="198.7" r="2.1"/><circle cx="193.1" cy="482.1" r="2.1"/><circle cx="546.6" cy="254.6" r="2.1"/><circle cx="283" cy="578" r="2.2"/><circle cx="471.2" cy="585.1" r="2.1"/><circle cx="396.3" cy="540.8" r="2.2"/><circle cx="126.3" cy="501.3" r="2.1"/><circle cx="353" cy="173.3" r="2.2"/><circle cx="240.3" cy="553.1" r="2.1"/><circle cx="191.1" cy="473.4" r="2.1"/><circle cx="177.2" cy="419.8" r="2.1"/><circle cx="304.3" cy="499.1" r="2.1"/><circle cx="185.4" cy="459.8" r="2.1"/><circle cx="210.3" cy="479.6" r="2.1"/><circle cx="456.9" cy="614.4" r="2.1"/><circle cx="542.4" cy="309.8" r="2.1"/><circle cx="168.1" cy="437.2" r="2"/><circle cx="416.5" cy="547.9" r="2"/><circle cx="201.1" cy="522.8" r="2.1"/><circle cx="453.9" cy="612.8" r="2"/><circle cx="616.8" cy="525.3" r="2.1"/><circle cx="451.1" cy="614.9" r="2"/><circle cx="408.7" cy="550.3" r="2"/><circle cx="304.1" cy="566.1" r="2.1"/><circle cx="302.3" cy="484.9" r="2.1"/><circle cx="502.1" cy="237.6" r="2.1"/><circle cx="192.4" cy="399.8" r="2"/><circle cx="439.9" cy="554.9" r="2.1"/><circle cx="280.1" cy="486.1" r="2.1"/><circle cx="311.7" cy="520.5" r="2"/><circle cx="508.6" cy="568.4" r="2"/><circle cx="297.3" cy="480.5" r="2"/><circle cx="476.9" cy="226.5" r="2"/><circle cx="156.8" cy="194" r="2"/><circle cx="244.2" cy="154.7" r="2"/><circle cx="392.6" cy="537.6" r="2"/><circle cx="194.1" cy="476" r="2"/><circle cx="213.8" cy="453.2" r="2"/><circle cx="352" cy="604.1" r="2"/><circle cx="300.8" cy="497.9" r="1.9"/><circle cx="487.9" cy="540.2" r="2"/><circle cx="465.5" cy="575.6" r="1.9"/><circle cx="440.6" cy="529.8" r="2"/><circle cx="182.3" cy="375.5" r="2"/><circle cx="357.4" cy="174.6" r="1.9"/><circle cx="311.1" cy="145.5" r="2"/><circle cx="279.9" cy="506.5" r="2"/><circle cx="416.3" cy="545.3" r="1.9"/><circle cx="439.9" cy="550.7" r="1.9"/><circle cx="301.4" cy="497" r="1.9"/><circle cx="306.1" cy="497.1" r="1.9"/><circle cx="311" cy="149.7" r="1.9"/><circle cx="437.5" cy="542.5" r="1.8"/><circle cx="522.3" cy="522.5" r="1.9"/><circle cx="202.7" cy="525.7" r="1.9"/><circle cx="150.1" cy="189.1" r="1.9"/><circle cx="311.3" cy="520.6" r="1.9"/><circle cx="540.3" cy="211.2" r="1.9"/><circle cx="453" cy="582.7" r="1.8"/><circle cx="313" cy="520.5" r="1.8"/><circle cx="469.8" cy="575.2" r="1.8"/><circle cx="307.5" cy="500.3" r="1.8"/><circle cx="307" cy="499.5" r="1.8"/><circle cx="334.4" cy="132.8" r="1.8"/><circle cx="126" cy="507" r="1.8"/><circle cx="343.5" cy="523.5" r="1.7"/><circle cx="314.9" cy="201.1" r="1.7"/><circle cx="301" cy="525" r="1.7"/><circle cx="320.2" cy="129.8" r="1.7"/><circle cx="163.1" cy="465.1" r="1.7"/><circle cx="357.9" cy="189.5" r="1.7"/><circle cx="502.4" cy="565.7" r="1.7"/><circle cx="174.6" cy="478.5" r="1.7"/><circle cx="419.7" cy="559.1" r="1.7"/><circle cx="597" cy="542.8" r="1.6"/><circle cx="468.9" cy="550.4" r="1.6"/><circle cx="276.2" cy="497.6" r="1.7"/><circle cx="551.5" cy="295.2" r="1.7"/><circle cx="199.7" cy="530.8" r="1.7"/><circle cx="506.9" cy="538.6" r="1.7"/><circle cx="549.4" cy="536.5" r="1.7"/><circle cx="315.9" cy="466.5" r="1.6"/><circle cx="101.2" cy="268.2" r="1.7"/><circle cx="280.2" cy="514.8" r="1.6"/><circle cx="271.3" cy="499.7" r="1.6"/><circle cx="314.2" cy="197.9" r="1.6"/><circle cx="554.8" cy="267.4" r="1.7"/><circle cx="219.7" cy="531" r="1.6"/><circle cx="573.1" cy="568.6" r="1.6"/><circle cx="351.2" cy="188.7" r="1.6"/><circle cx="264.5" cy="430.8" r="1.6"/><circle cx="121.1" cy="515.1" r="1.6"/><circle cx="361.4" cy="182.5" r="1.6"/><circle cx="462.1" cy="578.6" r="1.6"/><circle cx="515.3" cy="236.1" r="1.6"/><circle cx="542.6" cy="219.4" r="1.6"/><circle cx="490.7" cy="231.6" r="1.6"/><circle cx="342.1" cy="142" r="1.6"/><circle cx="551.7" cy="259.2" r="1.6"/><circle cx="501.5" cy="571.9" r="1.6"/><circle cx="450.2" cy="221.4" r="1.6"/><circle cx="190.9" cy="377.5" r="1.6"/><circle cx="486.9" cy="540.5" r="1.5"/><circle cx="312.9" cy="121" r="1.5"/><circle cx="340.3" cy="135.6" r="1.5"/><circle cx="564.4" cy="285" r="1.6"/><circle cx="201.3" cy="386.1" r="1.5"/><circle cx="284.2" cy="441.2" r="1.5"/><circle cx="310.3" cy="520.7" r="1.6"/><circle cx="470.1" cy="185.8" r="1.5"/><circle cx="442.2" cy="562" r="1.5"/><circle cx="584.7" cy="280.2" r="1.5"/><circle cx="547" cy="244.1" r="1.5"/><circle cx="564.8" cy="287.9" r="1.5"/><circle cx="158.5" cy="203.1" r="1.5"/><circle cx="558.4" cy="223.8" r="1.5"/><circle cx="310.7" cy="519.1" r="1.5"/><circle cx="282.1" cy="444" r="1.4"/><circle cx="141.1" cy="276.3" r="1.4"/><circle cx="332.1" cy="527.5" r="1.5"/><circle cx="562.3" cy="277.3" r="1.5"/><circle cx="352.1" cy="537.4" r="1.4"/><circle cx="337.3" cy="132.5" r="1.5"/><circle cx="162.4" cy="328.6" r="1.4"/><circle cx="159" cy="336.1" r="1.4"/><circle cx="314.5" cy="519.6" r="1.4"/><circle cx="482.9" cy="237.9" r="1.4"/><circle cx="127.1" cy="257" r="1.4"/><circle cx="389.5" cy="544.7" r="1.4"/><circle cx="355.8" cy="533.1" r="1.4"/><circle cx="459.2" cy="229.2" r="1.4"/><circle cx="472.5" cy="552.1" r="1.3"/><circle cx="553.8" cy="530.8" r="1.4"/><circle cx="597" cy="540.5" r="1.4"/><circle cx="184.4" cy="468.7" r="1.4"/><circle cx="373.1" cy="544.8" r="1.4"/><circle cx="579.4" cy="287.6" r="1.3"/><circle cx="137" cy="305.2" r="1.3"/><circle cx="264.4" cy="464.3" r="1.3"/><circle cx="250.1" cy="500.6" r="1.3"/><circle cx="338.9" cy="517.4" r="1.3"/><circle cx="500.1" cy="562.9" r="1.3"/><circle cx="347" cy="529.1" r="1.3"/><circle cx="542.6" cy="263" r="1.3"/><circle cx="185.1" cy="462.3" r="1.3"/><circle cx="569.3" cy="285.2" r="1.3"/><circle cx="310.2" cy="521" r="1.2"/><circle cx="324" cy="530.8" r="1.3"/><circle cx="200.8" cy="383.6" r="1.2"/><circle cx="469.7" cy="202.5" r="1.2"/><circle cx="559" cy="278.7" r="1.1"/><circle cx="376.9" cy="547" r="1.1"/><circle cx="358.6" cy="533.5" r="1.2"/><circle cx="341.9" cy="547.1" r="1.1"/></g>
<g fill="url(#g16)"><circle cx="455.8" cy="187.7" r="6"/><circle cx="514.3" cy="215.7" r="6"/><circle cx="336.3" cy="523.1" r="6"/><circle cx="532.6" cy="229.1" r="5.8"/><circle cx="525.3" cy="209.6" r="5.8"/><circle cx="538.7" cy="225.5" r="5.8"/><circle cx="442.4" cy="209.1" r="5.5"/><circle cx="322" cy="444.3" r="5.5"/><circle cx="522.8" cy="235.2" r="5.1"/><circle cx="523" cy="226.5" r="4.9"/><circle cx="457" cy="203.3" r="4.9"/><circle cx="310" cy="444" r="4.9"/><circle cx="322" cy="450" r="4.9"/><circle cx="289.8" cy="454.5" r="4.6"/><circle cx="277.9" cy="577.7" r="4.3"/><circle cx="304.7" cy="564.3" r="4.3"/><circle cx="298" cy="475.5" r="4.2"/><circle cx="144.6" cy="201.9" r="4.1"/><circle cx="138.9" cy="275.4" r="3.8"/><circle cx="146.2" cy="296.2" r="3.8"/><circle cx="165.8" cy="419.2" r="3.8"/><circle cx="420.5" cy="548.4" r="3.8"/><circle cx="432.7" cy="548.4" r="3.8"/><circle cx="429" cy="554.5" r="3.8"/><circle cx="328.8" cy="466.5" r="3.8"/><circle cx="272.5" cy="438" r="3.8"/><circle cx="449.7" cy="179.2" r="3.8"/><circle cx="102.4" cy="273" r="3.8"/><circle cx="181.6" cy="365.6" r="3.8"/><circle cx="182.8" cy="371.7" r="3.8"/><circle cx="463.1" cy="219.4" r="3.8"/><circle cx="468" cy="215.7" r="3.8"/><circle cx="453.4" cy="511.9" r="3.8"/><circle cx="275.5" cy="441" r="3.8"/><circle cx="468" cy="229.1" r="3.8"/><circle cx="153.4" cy="191.8" r="3.7"/><circle cx="274.8" cy="486.8" r="3.8"/><circle cx="511.9" cy="533.8" r="3.8"/><circle cx="508.2" cy="239.9" r="3.6"/><circle cx="510" cy="528.1" r="3.7"/><circle cx="468.3" cy="221.6" r="3.5"/><circle cx="594.1" cy="314" r="3.6"/><circle cx="468.1" cy="226.8" r="3.5"/><circle cx="153.1" cy="314.4" r="3.4"/><circle cx="169.5" cy="416.3" r="3.4"/><circle cx="485.1" cy="229.1" r="3.4"/><circle cx="533.8" cy="266.9" r="3.4"/><circle cx="552.1" cy="220.6" r="3.4"/><circle cx="546" cy="249.8" r="3.4"/><circle cx="565.5" cy="273" r="3.4"/><circle cx="570.4" cy="277.9" r="3.4"/><circle cx="179.2" cy="424.1" r="3.4"/><circle cx="168.2" cy="433.9" r="3.4"/><circle cx="173.1" cy="437.5" r="3.4"/><circle cx="414.4" cy="546" r="3.4"/><circle cx="146" cy="199.3" r="3.4"/><circle cx="469.4" cy="218.5" r="3.5"/><circle cx="509.4" cy="526.5" r="3.4"/><circle cx="468.8" cy="220.1" r="3.4"/><circle cx="183.6" cy="369.9" r="3.3"/><circle cx="105.3" cy="277.9" r="3.4"/><circle cx="181.6" cy="377.8" r="3.4"/><circle cx="184" cy="383.9" r="3.4"/><circle cx="483.8" cy="212.1" r="3.4"/><circle cx="394.9" cy="536.2" r="3.4"/><circle cx="426.6" cy="546" r="3.4"/><circle cx="558.2" cy="504.6" r="3.4"/><circle cx="553.3" cy="544.8" r="3.4"/><circle cx="577.7" cy="566.7" r="3.4"/><circle cx="455.8" cy="616.2" r="3.4"/><circle cx="522.8" cy="596" r="3.4"/><circle cx="536.2" cy="596" r="3.4"/><circle cx="467.9" cy="586.5" r="3.3"/><circle cx="470.4" cy="223" r="3.4"/><circle cx="514.3" cy="530.2" r="3.4"/><circle cx="541.7" cy="218.5" r="3.3"/><circle cx="185.8" cy="366.1" r="3.2"/><circle cx="347.3" cy="249.1" r="3.4"/><circle cx="475.3" cy="226.7" r="3.4"/><circle cx="121.9" cy="511.9" r="3.4"/><circle cx="471.1" cy="228.3" r="3.2"/><circle cx="149.9" cy="199.2" r="3.2"/><circle cx="435.4" cy="520.2" r="3.2"/><circle cx="512" cy="528.9" r="3.1"/><circle cx="129.9" cy="261.5" r="3.3"/><circle cx="342.1" cy="552.1" r="3.1"/><circle cx="165.7" cy="423.5" r="3.2"/><circle cx="509.1" cy="203.7" r="3.2"/><circle cx="431.1" cy="554.3" r="3.2"/><circle cx="473" cy="224.9" r="3.1"/><circle cx="205" cy="399.4" r="3.1"/><circle cx="303" cy="567.4" r="3"/><circle cx="316.4" cy="120.9" r="3.2"/><circle cx="202.5" cy="394.6" r="3"/><circle cx="502.8" cy="235.7" r="3"/><circle cx="542.8" cy="235.8" r="3"/><circle cx="137.4" cy="280.3" r="3.1"/><circle cx="559.4" cy="308.3" r="3"/><circle cx="559.6" cy="312.1" r="3"/><circle cx="551" cy="540.6" r="3.1"/><circle cx="461.6" cy="216.3" r="3"/><circle cx="447.6" cy="495.8" r="3"/><circle cx="268" cy="431.2" r="3"/><circle cx="142.1" cy="303.1" r="3"/><circle cx="471.7" cy="192.6" r="2.9"/><circle cx="160.9" cy="332.7" r="2.9"/><circle cx="497.2" cy="236.4" r="2.9"/><circle cx="530.2" cy="201.1" r="2.9"/><circle cx="126.8" cy="513.1" r="2.9"/><circle cx="460.7" cy="575.2" r="2.9"/><circle cx="574" cy="570.4" r="2.9"/><circle cx="169.7" cy="429.2" r="2.9"/><circle cx="497.2" cy="234.4" r="2.9"/><circle cx="486.7" cy="223.6" r="3"/><circle cx="176.6" cy="434.8" r="3"/><circle cx="508.4" cy="536.3" r="2.9"/><circle cx="241.3" cy="153.9" r="3"/><circle cx="180.3" cy="421.4" r="2.9"/><circle cx="394.9" cy="586.6" r="3"/><circle cx="306.4" cy="150.5" r="2.9"/><circle cx="125" cy="511.9" r="2.9"/><circle cx="234.3" cy="547.6" r="3"/><circle cx="192.6" cy="372.9" r="2.9"/><circle cx="477.8" cy="209.6" r="2.9"/><circle cx="146.2" cy="401" r="2.9"/><circle cx="192.6" cy="408.3" r="2.9"/><circle cx="435.1" cy="536.2" r="2.9"/><circle cx="392.4" cy="546" r="2.9"/><circle cx="407.1" cy="544.8" r="2.9"/><circle cx="492.4" cy="594.8" r="2.9"/><circle cx="301.2" cy="493.7" r="2.9"/><circle cx="136.3" cy="282.1" r="3"/><circle cx="447.1" cy="184.2" r="3"/><circle cx="313.5" cy="125.9" r="2.9"/><circle cx="346.1" cy="191.3" r="2.9"/><circle cx="555.8" cy="264.5" r="2.9"/><circle cx="560.6" cy="268.1" r="2.9"/><circle cx="558.2" cy="299.8" r="2.9"/><circle cx="179.2" cy="460.7" r="2.9"/><circle cx="502.5" cy="204.7" r="3"/><circle cx="315.2" cy="128.1" r="2.9"/><circle cx="468.3" cy="187.4" r="2.8"/><circle cx="301.8" cy="146.2" r="2.8"/><circle cx="305.9" cy="152.3" r="2.8"/><circle cx="494.4" cy="538.9" r="2.9"/><circle cx="310.8" cy="131.6" r="2.9"/><circle cx="548.4" cy="260.8" r="2.9"/><circle cx="572.8" cy="284" r="2.9"/><circle cx="174.3" cy="419.2" r="2.9"/><circle cx="507" cy="565.5" r="2.9"/><circle cx="482.6" cy="575.2" r="2.9"/><circle cx="545.9" cy="256.3" r="2.8"/><circle cx="198.1" cy="387.7" r="2.9"/><circle cx="232.2" cy="544.3" r="2.9"/><circle cx="472.9" cy="581.4" r="2.8"/><circle cx="196.3" cy="477.3" r="2.9"/><circle cx="160.6" cy="425.2" r="2.9"/><circle cx="544" cy="232.7" r="2.8"/><circle cx="448.5" cy="498.5" r="2.8"/><circle cx="487.5" cy="538.7" r="2.8"/><circle cx="483.8" cy="549.7" r="2.8"/><circle cx="450.9" cy="617.9" r="2.8"/><circle cx="204.8" cy="472.9" r="2.8"/><circle cx="209.6" cy="482.6" r="2.8"/><circle cx="202.3" cy="521.6" r="2.8"/><circle cx="209.6" cy="526.5" r="2.8"/><circle cx="268.1" cy="572.8" r="2.8"/><circle cx="353.5" cy="173.7" r="2.7"/><circle cx="273.3" cy="500.8" r="2.7"/><circle cx="425.2" cy="535.6" r="2.7"/><circle cx="491.7" cy="223.3" r="2.8"/><circle cx="412.5" cy="537.1" r="2.9"/><circle cx="538.1" cy="241" r="2.7"/><circle cx="347.7" cy="549.5" r="2.8"/><circle cx="559" cy="266.7" r="2.8"/><circle cx="511.5" cy="527.4" r="2.8"/><circle cx="589.8" cy="287.9" r="2.7"/><circle cx="506.9" cy="526.4" r="2.9"/><circle cx="552.6" cy="263.5" r="2.7"/><circle cx="439" cy="529.7" r="2.8"/><circle cx="181.2" cy="381.7" r="2.7"/><circle cx="295.2" cy="481.7" r="2.7"/><circle cx="442.1" cy="536.3" r="2.7"/><circle cx="318.4" cy="593" r="2.8"/><circle cx="169.1" cy="431.8" r="2.7"/><circle cx="502.1" cy="240.6" r="2.7"/><circle cx="514.4" cy="595.6" r="2.8"/><circle cx="498.7" cy="533.8" r="2.8"/><circle cx="207.6" cy="529.3" r="2.7"/><circle cx="317.3" cy="124.2" r="2.7"/><circle cx="337" cy="551.5" r="2.7"/><circle cx="532.6" cy="211" r="2.7"/><circle cx="415.1" cy="535.2" r="2.7"/><circle cx="219.6" cy="464.7" r="2.8"/><circle cx="559.5" cy="302.1" r="2.7"/><circle cx="486.4" cy="543.8" r="2.7"/><circle cx="261.9" cy="566.3" r="2.7"/><circle cx="439.9" cy="531.5" r="2.6"/><circle cx="541.7" cy="241.4" r="2.7"/><circle cx="174.7" cy="438.5" r="2.7"/><circle cx="519.7" cy="595.7" r="2.7"/><circle cx="549.6" cy="258.5" r="2.7"/><circle cx="260.4" cy="565.7" r="2.7"/><circle cx="453" cy="579.8" r="2.6"/><circle cx="492" cy="539.6" r="2.7"/><circle cx="290.4" cy="566.4" r="2.6"/><circle cx="199" cy="527" r="2.6"/><circle cx="561.8" cy="271.7" r="2.7"/><circle cx="208.2" cy="480.9" r="2.6"/><circle cx="544.5" cy="239.4" r="2.5"/><circle cx="355.7" cy="177" r="2.6"/><circle cx="512.9" cy="197.8" r="2.6"/><circle cx="303.1" cy="153" r="2.6"/><circle cx="507.5" cy="224.5" r="2.6"/><circle cx="312.6" cy="127.8" r="2.6"/><circle cx="270.2" cy="499.7" r="2.6"/><circle cx="576.4" cy="568.6" r="2.6"/><circle cx="550" cy="230.8" r="2.5"/><circle cx="447.5" cy="181.3" r="2.6"/><circle cx="556.7" cy="543.8" r="2.5"/><circle cx="205" cy="403" r="2.6"/><circle cx="357.1" cy="193.8" r="2.5"/><circle cx="192.6" cy="379" r="2.5"/><circle cx="502.1" cy="537.3" r="2.5"/><circle cx="594.5" cy="291.2" r="2.5"/><circle cx="561.2" cy="260.5" r="2.5"/><circle cx="212.2" cy="467.1" r="2.5"/><circle cx="345.6" cy="529.7" r="2.4"/><circle cx="188.4" cy="473.3" r="2.5"/><circle cx="616.2" cy="346.6" r="2.5"/><circle cx="564.3" cy="286.4" r="2.5"/><circle cx="193.8" cy="393.7" r="2.5"/><circle cx="397.3" cy="561.8" r="2.5"/><circle cx="615.5" cy="522.8" r="2.5"/><circle cx="619.1" cy="547.2" r="2.5"/><circle cx="626.4" cy="542.8" r="2.5"/><circle cx="370.5" cy="543.6" r="2.5"/><circle cx="196.4" cy="475.5" r="2.5"/><circle cx="519.1" cy="524.8" r="2.5"/><circle cx="336.7" cy="600" r="2.5"/><circle cx="492.6" cy="551.8" r="2.5"/><circle cx="216.6" cy="482.9" r="2.5"/><circle cx="189.1" cy="472.4" r="2.4"/><circle cx="464.8" cy="575.7" r="2.5"/><circle cx="571.4" cy="568" r="2.4"/><circle cx="481.7" cy="550.5" r="2.4"/><circle cx="528.7" cy="599.7" r="2.5"/><circle cx="239.1" cy="157.9" r="2.3"/><circle cx="154.9" cy="197.6" r="2.4"/><circle cx="400.1" cy="550.6" r="2.4"/><circle cx="169.5" cy="429.7" r="2.3"/><circle cx="452.3" cy="617.2" r="2.3"/><circle cx="494.7" cy="538" r="2.4"/><circle cx="170.3" cy="455.9" r="2.3"/><circle cx="353.2" cy="177" r="2.3"/><circle cx="161.8" cy="417.1" r="2.2"/><circle cx="155.8" cy="194.4" r="2.2"/><circle cx="479.2" cy="544" r="2.2"/><circle cx="420.8" cy="534.6" r="2.3"/><circle cx="416.7" cy="548.4" r="2.3"/><circle cx="337.7" cy="551.1" r="2.3"/><circle cx="522.8" cy="593.9" r="2.3"/><circle cx="518.4" cy="526.5" r="2.3"/><circle cx="135.1" cy="301" r="2.3"/><circle cx="222.7" cy="537.1" r="2.2"/><circle cx="503.2" cy="207" r="2.3"/><circle cx="192.1" cy="472.9" r="2.3"/><circle cx="441.8" cy="189.5" r="2.2"/><circle cx="201.6" cy="475.1" r="2.2"/><circle cx="422.3" cy="547.7" r="2.2"/><circle cx="507.1" cy="537.8" r="2.2"/><circle cx="305.6" cy="154.6" r="2.3"/><circle cx="278.8" cy="486.3" r="2.2"/><circle cx="467.7" cy="219.6" r="2.2"/><circle cx="556.1" cy="261.4" r="2.2"/><circle cx="181.8" cy="375.6" r="2.2"/><circle cx="530.3" cy="269" r="2.2"/><circle cx="558.6" cy="301.7" r="2.2"/><circle cx="339.6" cy="136.5" r="2.1"/><circle cx="493.3" cy="540.4" r="2.1"/><circle cx="157.5" cy="202.6" r="2.2"/><circle cx="201.2" cy="523.7" r="2.2"/><circle cx="336.3" cy="555.5" r="2.1"/><circle cx="128.7" cy="268.3" r="2.1"/><circle cx="484.4" cy="544.1" r="2.2"/><circle cx="550.6" cy="217.5" r="2.2"/><circle cx="473.9" cy="549.8" r="2.2"/><circle cx="470.6" cy="219.5" r="2.1"/><circle cx="209.7" cy="485.9" r="2.1"/><circle cx="562.4" cy="269.6" r="2.1"/><circle cx="394.4" cy="545.7" r="2"/><circle cx="273.9" cy="490" r="2.1"/><circle cx="173.5" cy="424.5" r="2"/><circle cx="341.2" cy="546" r="2"/><circle cx="544.9" cy="258.8" r="2.1"/><circle cx="496.1" cy="213.5" r="2.1"/><circle cx="263.5" cy="429" r="2"/><circle cx="229.1" cy="539" r="2.1"/><circle cx="199.7" cy="524.8" r="2"/><circle cx="514.3" cy="527.5" r="2"/><circle cx="172.1" cy="445.5" r="2.1"/><circle cx="472.9" cy="230.4" r="2.1"/><circle cx="485.5" cy="575.8" r="2"/><circle cx="614.2" cy="522.7" r="2"/><circle cx="485.9" cy="576.5" r="2"/><circle cx="209.7" cy="447.1" r="2.1"/><circle cx="565.5" cy="247.4" r="2"/><circle cx="584.2" cy="279.8" r="2"/><circle cx="299.5" cy="492.8" r="2"/><circle cx="503.4" cy="565.2" r="2"/><circle cx="295.6" cy="476.3" r="2"/><circle cx="443" cy="521.9" r="2"/><circle cx="270.7" cy="494.8" r="2"/><circle cx="344" cy="248.7" r="2"/><circle cx="284.6" cy="581.1" r="1.9"/><circle cx="470.5" cy="225.8" r="1.9"/><circle cx="146.5" cy="397.6" r="1.9"/><circle cx="540.6" cy="233.9" r="2"/><circle cx="192.5" cy="401.5" r="2"/><circle cx="305.1" cy="496.3" r="1.9"/><circle cx="306.5" cy="566.9" r="2"/><circle cx="438.8" cy="182.4" r="2"/><circle cx="340.6" cy="546.9" r="1.9"/><circle cx="174.3" cy="453.3" r="2"/><circle cx="496.3" cy="234.8" r="1.9"/><circle cx="514.3" cy="240.9" r="1.8"/><circle cx="232.2" cy="543.6" r="1.9"/><circle cx="546" cy="259.5" r="1.9"/><circle cx="613.9" cy="347.7" r="1.9"/><circle cx="104.7" cy="280.1" r="1.9"/><circle cx="131.1" cy="511.9" r="1.8"/><circle cx="368.7" cy="543.8" r="1.8"/><circle cx="554.4" cy="317.9" r="1.8"/><circle cx="436.6" cy="549.4" r="1.9"/><circle cx="583.3" cy="21.9" r="1.8"/><circle cx="588.7" cy="122.4" r="1.8"/><circle cx="444.1" cy="774.4" r="1.8"/><circle cx="376.6" cy="546" r="1.8"/><circle cx="263.3" cy="429.7" r="1.8"/><circle cx="467.9" cy="183.5" r="1.7"/><circle cx="259" cy="443.2" r="1.8"/><circle cx="322.2" cy="128.1" r="1.7"/><circle cx="101.2" cy="263" r="1.7"/><circle cx="466" cy="228.9" r="1.7"/><circle cx="349.8" cy="253.1" r="1.8"/><circle cx="470.2" cy="574.5" r="1.7"/><circle cx="541.5" cy="255.2" r="1.7"/><circle cx="124.1" cy="505.2" r="1.7"/><circle cx="454.3" cy="228.6" r="1.7"/><circle cx="191.2" cy="407.6" r="1.8"/><circle cx="541.6" cy="249.9" r="1.7"/><circle cx="330.5" cy="526.6" r="1.7"/><circle cx="506.1" cy="526.6" r="1.7"/><circle cx="424.7" cy="556.9" r="1.7"/><circle cx="311.7" cy="120.6" r="1.7"/><circle cx="512.5" cy="560.8" r="1.7"/><circle cx="318.3" cy="196.7" r="1.7"/><circle cx="456.5" cy="588.4" r="1.7"/><circle cx="163.4" cy="421.4" r="1.7"/><circle cx="267.9" cy="433.4" r="1.7"/><circle cx="474" cy="550.6" r="1.7"/><circle cx="522.6" cy="556.6" r="1.6"/><circle cx="284.5" cy="443.8" r="1.7"/><circle cx="295.5" cy="477" r="1.7"/><circle cx="469.9" cy="194.7" r="1.7"/><circle cx="466.8" cy="202.6" r="1.6"/><circle cx="99.7" cy="270.3" r="1.6"/><circle cx="554.7" cy="290.7" r="1.7"/><circle cx="461.5" cy="585.8" r="1.7"/><circle cx="475.8" cy="208" r="1.7"/><circle cx="559.4" cy="508.1" r="1.6"/><circle cx="504.8" cy="563.7" r="1.6"/><circle cx="265.5" cy="429.5" r="1.6"/><circle cx="166.4" cy="444.9" r="1.7"/><circle cx="472.7" cy="560.1" r="1.6"/><circle cx="498.9" cy="188.3" r="1.6"/><circle cx="195.4" cy="407.3" r="1.6"/><circle cx="184.4" cy="461.6" r="1.6"/><circle cx="434.6" cy="536.6" r="1.6"/><circle cx="281.1" cy="488.9" r="1.6"/><circle cx="499.5" cy="597.5" r="1.5"/><circle cx="342.4" cy="185.1" r="1.5"/><circle cx="160.9" cy="464.6" r="1.6"/><circle cx="583.5" cy="286.4" r="1.5"/><circle cx="593.5" cy="151.1" r="1.6"/><circle cx="462.4" cy="447.8" r="1.6"/><circle cx="449.7" cy="589.9" r="1.6"/><circle cx="450" cy="177.5" r="1.5"/><circle cx="507.9" cy="247.4" r="1.6"/><circle cx="495.3" cy="188.4" r="1.5"/><circle cx="451.9" cy="618.4" r="1.5"/><circle cx="168" cy="456.4" r="1.6"/><circle cx="344.8" cy="191.3" r="1.6"/><circle cx="472.5" cy="208.4" r="1.6"/><circle cx="562.4" cy="511.7" r="1.5"/><circle cx="457.3" cy="225.5" r="1.5"/><circle cx="465.1" cy="580.8" r="1.6"/><circle cx="97.6" cy="264" r="1.6"/><circle cx="320.8" cy="137" r="1.5"/><circle cx="584.7" cy="563.4" r="1.6"/><circle cx="161.1" cy="328.7" r="1.5"/><circle cx="186.5" cy="403.5" r="1.5"/><circle cx="282.7" cy="434.4" r="1.5"/><circle cx="492.8" cy="230.9" r="1.5"/><circle cx="606.3" cy="63.5" r="1.5"/><circle cx="560.1" cy="307.4" r="1.5"/><circle cx="189.8" cy="478" r="1.5"/><circle cx="489" cy="196.2" r="1.5"/><circle cx="98.8" cy="274.9" r="1.4"/><circle cx="268.7" cy="501.7" r="1.5"/><circle cx="453.1" cy="502.1" r="1.5"/><circle cx="340" cy="135.1" r="1.5"/><circle cx="192.3" cy="393.5" r="1.5"/><circle cx="258" cy="502.4" r="1.5"/><circle cx="293.5" cy="419.9" r="1.4"/><circle cx="481.3" cy="541.4" r="1.4"/><circle cx="514.4" cy="535.5" r="1.4"/><circle cx="314.2" cy="132.1" r="1.4"/><circle cx="490.1" cy="202.5" r="1.4"/><circle cx="187.4" cy="438.7" r="1.4"/><circle cx="512.8" cy="557.1" r="1.4"/><circle cx="294.3" cy="437.6" r="1.4"/><circle cx="485.1" cy="576.5" r="1.4"/><circle cx="493.3" cy="566.3" r="1.4"/><circle cx="597.5" cy="544.5" r="1.4"/><circle cx="461.2" cy="214.1" r="1.3"/><circle cx="526.7" cy="269.1" r="1.4"/><circle cx="269.5" cy="451.5" r="1.3"/><circle cx="170.3" cy="472.8" r="1.3"/><circle cx="342.4" cy="524.5" r="1.3"/><circle cx="126" cy="496.7" r="1.4"/><circle cx="555.1" cy="301.2" r="1.3"/><circle cx="567.5" cy="59.5" r="1.3"/><circle cx="433.7" cy="564.5" r="1.4"/><circle cx="178.4" cy="367.1" r="1.3"/><circle cx="526.2" cy="262.6" r="1.3"/><circle cx="585.8" cy="292.6" r="1.3"/><circle cx="317.5" cy="468.1" r="1.4"/><circle cx="343.3" cy="193" r="1.3"/><circle cx="489.5" cy="231.5" r="1.4"/><circle cx="102.9" cy="271.2" r="1.3"/><circle cx="377.9" cy="545.5" r="1.3"/><circle cx="635.8" cy="162" r="1.3"/><circle cx="275" cy="493.8" r="1.3"/><circle cx="182.3" cy="432.2" r="1.3"/><circle cx="497" cy="593.8" r="1.3"/><circle cx="277.5" cy="440.1" r="1.3"/><circle cx="507.3" cy="568.7" r="1.3"/><circle cx="544.3" cy="536.6" r="1.3"/><circle cx="188.3" cy="362.4" r="1.3"/><circle cx="340.3" cy="548.2" r="1.3"/><circle cx="486.2" cy="233.8" r="1.3"/><circle cx="472.3" cy="206.1" r="1.3"/><circle cx="583" cy="566.2" r="1.3"/><circle cx="337.2" cy="520.9" r="1.2"/><circle cx="605.5" cy="62.8" r="1.2"/><circle cx="537.5" cy="265.2" r="1.2"/><circle cx="321.3" cy="461.3" r="1.2"/><circle cx="323.1" cy="461.1" r="1.2"/><circle cx="186.8" cy="361.1" r="1.2"/><circle cx="517.7" cy="600.8" r="1.2"/><circle cx="546.8" cy="263" r="1.2"/><circle cx="342.4" cy="142.2" r="1.2"/><circle cx="557.4" cy="221.2" r="1.2"/><circle cx="261.6" cy="521.6" r="1.2"/><circle cx="342.4" cy="546.7" r="1.2"/><circle cx="197.8" cy="383.7" r="1.2"/><circle cx="202.3" cy="381.3" r="1.2"/><circle cx="477.1" cy="231.6" r="1.2"/><circle cx="355.4" cy="530.6" r="1.2"/><circle cx="550.1" cy="265.3" r="1.2"/><circle cx="595.4" cy="547.6" r="1.1"/><circle cx="285.4" cy="446.6" r="1.1"/><circle cx="267.6" cy="432.7" r="1.1"/><circle cx="278.6" cy="440.6" r="1.1"/></g>
<g fill="url(#g17)"><circle cx="308.2" cy="451.5" r="6"/><circle cx="516.8" cy="224.2" r="6"/><circle cx="139.4" cy="287.1" r="6"/><circle cx="450.9" cy="192.6" r="6"/><circle cx="521.5" cy="221" r="5.8"/><circle cx="308.5" cy="455.2" r="5.9"/><circle cx="520.4" cy="213.3" r="5.8"/><circle cx="463.1" cy="187.7" r="5.5"/><circle cx="311.5" cy="462" r="5.5"/><circle cx="301.8" cy="471" r="5.5"/><circle cx="456.8" cy="197.4" r="4.9"/><circle cx="456.3" cy="195" r="4.9"/><circle cx="533.8" cy="220.6" r="4.9"/><circle cx="521.6" cy="229.1" r="4.9"/><circle cx="302.5" cy="450" r="4.9"/><circle cx="316" cy="448.5" r="4.9"/><circle cx="299.5" cy="471" r="4.9"/><circle cx="305.5" cy="466.5" r="4.9"/><circle cx="295" cy="469.5" r="4.9"/><circle cx="319" cy="441" r="4.9"/><circle cx="135.3" cy="284" r="4.9"/><circle cx="313" cy="454.5" r="4.9"/><circle cx="325" cy="445.5" r="4.9"/><circle cx="281.5" cy="448.5" r="4.2"/><circle cx="287.5" cy="456" r="4.2"/><circle cx="128" cy="264.5" r="3.8"/><circle cx="129.2" cy="269.3" r="3.8"/><circle cx="447.3" cy="515.5" r="3.8"/><circle cx="441.2" cy="519.2" r="3.8"/><circle cx="138.9" cy="314" r="3.7"/><circle cx="444.8" cy="187.7" r="3.8"/><circle cx="130.4" cy="502.1" r="3.8"/><circle cx="392.6" cy="591.2" r="3.7"/><circle cx="463.6" cy="587.1" r="3.5"/><circle cx="474.6" cy="221.6" r="3.5"/><circle cx="274.7" cy="575.1" r="3.6"/><circle cx="591.6" cy="323.2" r="3.4"/><circle cx="557.3" cy="312.5" r="3.5"/><circle cx="151.8" cy="196.6" r="3.6"/><circle cx="135.8" cy="278.1" r="3.6"/><circle cx="553.9" cy="312" r="3.5"/><circle cx="555.8" cy="309.1" r="3.4"/><circle cx="302.5" cy="489" r="3.4"/><circle cx="326.5" cy="469.5" r="3.4"/><circle cx="504.8" cy="595.5" r="3.4"/><circle cx="318.5" cy="120.2" r="3.3"/><circle cx="508.9" cy="218.7" r="3.3"/><circle cx="455.8" cy="580.1" r="3.4"/><circle cx="588.7" cy="287.1" r="3.4"/><circle cx="141.4" cy="315.5" r="3.5"/><circle cx="141" cy="281.5" r="3.4"/><circle cx="142.4" cy="304.4" r="3.3"/><circle cx="175.2" cy="431.4" r="3.4"/><circle cx="151" cy="310.1" r="3.3"/><circle cx="337.8" cy="466.5" r="3.4"/><circle cx="151.1" cy="197.6" r="3.4"/><circle cx="340" cy="133.6" r="3.4"/><circle cx="314.4" cy="124.3" r="3.4"/><circle cx="547.2" cy="309.6" r="3.4"/><circle cx="552.1" cy="314.4" r="3.4"/><circle cx="332.9" cy="556.5" r="3.4"/><circle cx="131.9" cy="266.9" r="3.3"/><circle cx="178" cy="426.6" r="3.2"/><circle cx="138.9" cy="311.2" r="3.2"/><circle cx="435.6" cy="545.5" r="3.2"/><circle cx="529.5" cy="207.5" r="3.2"/><circle cx="146.2" cy="200.9" r="3.3"/><circle cx="480.9" cy="577.6" r="3.2"/><circle cx="127.7" cy="265.2" r="3.2"/><circle cx="447.2" cy="182.9" r="3.2"/><circle cx="446.9" cy="518.8" r="3.2"/><circle cx="316.3" cy="123.7" r="3.2"/><circle cx="502.7" cy="214.8" r="3.2"/><circle cx="503.8" cy="215.2" r="3.1"/><circle cx="270" cy="569.9" r="3"/><circle cx="303.7" cy="485.7" r="3.1"/><circle cx="541" cy="231.7" r="3"/><circle cx="131" cy="280.1" r="3"/><circle cx="554.5" cy="314.1" r="3.1"/><circle cx="258.9" cy="570.3" r="3.1"/><circle cx="539.1" cy="237.2" r="3"/><circle cx="539" cy="238.8" r="3"/><circle cx="301.3" cy="488.4" r="3.1"/><circle cx="487.1" cy="551.1" r="3"/><circle cx="146.5" cy="306.8" r="2.9"/><circle cx="478.1" cy="226.4" r="3.1"/><circle cx="550.2" cy="257.3" r="3"/><circle cx="296.5" cy="484.5" r="3"/><circle cx="446.8" cy="186.1" r="3.1"/><circle cx="171.2" cy="423.5" r="3"/><circle cx="206.4" cy="481.9" r="2.9"/><circle cx="153.6" cy="196.2" r="2.9"/><circle cx="463.1" cy="583.8" r="2.9"/><circle cx="187.4" cy="471.9" r="2.9"/><circle cx="488.8" cy="535.7" r="2.9"/><circle cx="477.6" cy="578.8" r="2.9"/><circle cx="236" cy="543.1" r="3"/><circle cx="353.7" cy="535" r="2.9"/><circle cx="142.1" cy="306.5" r="2.8"/><circle cx="502.6" cy="206.3" r="2.9"/><circle cx="179.9" cy="429.9" r="2.9"/><circle cx="534.8" cy="210.8" r="2.9"/><circle cx="151.2" cy="204.2" r="2.9"/><circle cx="308.3" cy="148.7" r="2.9"/><circle cx="359.5" cy="188.9" r="2.9"/><circle cx="468" cy="185.2" r="2.9"/><circle cx="499.7" cy="215.7" r="2.9"/><circle cx="541.1" cy="216.9" r="2.9"/><circle cx="546" cy="230.3" r="2.9"/><circle cx="560.6" cy="305.9" r="2.9"/><circle cx="170.6" cy="459.5" r="2.9"/><circle cx="468" cy="576.5" r="2.9"/><circle cx="547.7" cy="301.4" r="2.9"/><circle cx="460.1" cy="589.4" r="3"/><circle cx="526.1" cy="203.5" r="2.9"/><circle cx="450.8" cy="518.1" r="2.8"/><circle cx="173.1" cy="456.6" r="2.8"/><circle cx="554.6" cy="223.9" r="2.9"/><circle cx="231" cy="544.9" r="2.8"/><circle cx="271.6" cy="573" r="2.8"/><circle cx="494.4" cy="593.7" r="2.7"/><circle cx="469" cy="585.5" r="2.8"/><circle cx="446.5" cy="500.9" r="2.7"/><circle cx="165.5" cy="417" r="2.8"/><circle cx="170.8" cy="429.6" r="2.7"/><circle cx="319.6" cy="120.9" r="2.9"/><circle cx="466.8" cy="586.8" r="2.7"/><circle cx="333.8" cy="550.8" r="2.7"/><circle cx="397.5" cy="545.9" r="2.8"/><circle cx="472.7" cy="585.2" r="2.7"/><circle cx="431.8" cy="548.8" r="2.8"/><circle cx="123.9" cy="509.4" r="2.7"/><circle cx="315.6" cy="126.4" r="2.8"/><circle cx="441.5" cy="515.4" r="2.7"/><circle cx="518.5" cy="248.4" r="2.8"/><circle cx="497.2" cy="537.5" r="2.8"/><circle cx="336.4" cy="553.3" r="2.8"/><circle cx="315.8" cy="128.2" r="2.7"/><circle cx="461.9" cy="184" r="2.7"/><circle cx="226.8" cy="537.9" r="2.7"/><circle cx="316.9" cy="133.9" r="2.8"/><circle cx="487.5" cy="542.3" r="2.7"/><circle cx="141.2" cy="302.7" r="2.7"/><circle cx="172.5" cy="423.9" r="2.7"/><circle cx="137.5" cy="306.9" r="2.7"/><circle cx="270.4" cy="572.8" r="2.7"/><circle cx="503.6" cy="211" r="2.7"/><circle cx="269.4" cy="575.5" r="2.7"/><circle cx="356.5" cy="597.7" r="2.6"/><circle cx="358.8" cy="601.6" r="2.6"/><circle cx="568.5" cy="278.3" r="2.7"/><circle cx="464.7" cy="582.9" r="2.7"/><circle cx="142" cy="310.2" r="2.7"/><circle cx="547.4" cy="226.3" r="2.6"/><circle cx="468.6" cy="584.6" r="2.6"/><circle cx="355.8" cy="192.2" r="2.6"/><circle cx="461.3" cy="184.4" r="2.7"/><circle cx="499.5" cy="204.9" r="2.7"/><circle cx="486.9" cy="539.5" r="2.6"/><circle cx="274.3" cy="493" r="2.6"/><circle cx="399" cy="530.1" r="2.5"/><circle cx="296.7" cy="479.4" r="2.6"/><circle cx="482" cy="547" r="2.7"/><circle cx="283.6" cy="580.4" r="2.6"/><circle cx="420.2" cy="536.2" r="2.5"/><circle cx="435.7" cy="530.6" r="2.5"/><circle cx="225.6" cy="541.4" r="2.6"/><circle cx="306.2" cy="495" r="2.6"/><circle cx="295" cy="480" r="2.6"/><circle cx="561.8" cy="261.7" r="2.6"/><circle cx="529.3" cy="243.5" r="2.5"/><circle cx="215.3" cy="531.3" r="2.6"/><circle cx="292.3" cy="581.8" r="2.5"/><circle cx="492.7" cy="536.9" r="2.5"/><circle cx="258.8" cy="564.9" r="2.5"/><circle cx="196.1" cy="475.4" r="2.5"/><circle cx="501" cy="594.4" r="2.5"/><circle cx="267.3" cy="573.9" r="2.5"/><circle cx="277.8" cy="493.5" r="2.5"/><circle cx="126.8" cy="498.5" r="2.5"/><circle cx="126.7" cy="510.6" r="2.5"/><circle cx="280.3" cy="577.9" r="2.5"/><circle cx="470.4" cy="583.8" r="2.5"/><circle cx="357" cy="189.5" r="2.5"/><circle cx="522.2" cy="248.8" r="2.5"/><circle cx="433.6" cy="531.1" r="2.4"/><circle cx="303.5" cy="491.5" r="2.4"/><circle cx="221.4" cy="534" r="2.3"/><circle cx="468.3" cy="578.6" r="2.4"/><circle cx="525.8" cy="520.8" r="2.4"/><circle cx="264.6" cy="570.2" r="2.4"/><circle cx="563.5" cy="304.2" r="2.4"/><circle cx="300.5" cy="566.4" r="2.4"/><circle cx="503.7" cy="215.8" r="2.3"/><circle cx="168.5" cy="460.1" r="2.3"/><circle cx="268.8" cy="498.8" r="2.3"/><circle cx="155.9" cy="200.4" r="2.4"/><circle cx="203.9" cy="399" r="2.4"/><circle cx="145.2" cy="195.4" r="2.3"/><circle cx="592.9" cy="321.5" r="2.3"/><circle cx="337.4" cy="551.7" r="2.3"/><circle cx="451.9" cy="181.9" r="2.2"/><circle cx="486.6" cy="547.4" r="2.3"/><circle cx="281.2" cy="577.7" r="2.3"/><circle cx="339.2" cy="548.4" r="2.2"/><circle cx="297.4" cy="482.7" r="2.2"/><circle cx="306.8" cy="155.1" r="2.2"/><circle cx="156.9" cy="202.6" r="2.2"/><circle cx="357.4" cy="597.4" r="2.2"/><circle cx="142.7" cy="273.8" r="2.2"/><circle cx="215.2" cy="529.2" r="2.2"/><circle cx="512.2" cy="528.2" r="2.2"/><circle cx="269.4" cy="496.5" r="2.2"/><circle cx="450.3" cy="621.8" r="2.1"/><circle cx="271.6" cy="576.1" r="2.2"/><circle cx="306.8" cy="156.2" r="2.2"/><circle cx="301.7" cy="143.9" r="2.1"/><circle cx="276.2" cy="490.7" r="2.1"/><circle cx="290.2" cy="471.6" r="2.1"/><circle cx="205.2" cy="470.4" r="2.2"/><circle cx="195" cy="395" r="2.2"/><circle cx="514.8" cy="228.9" r="2"/><circle cx="477.8" cy="206.9" r="2.1"/><circle cx="213.5" cy="528.2" r="2.1"/><circle cx="305.4" cy="495.4" r="2"/><circle cx="215.3" cy="530.3" r="2.1"/><circle cx="587.7" cy="285.5" r="2.1"/><circle cx="450.1" cy="181.5" r="2"/><circle cx="124.3" cy="507" r="2"/><circle cx="547.6" cy="252.3" r="2"/><circle cx="129.4" cy="275.6" r="2.1"/><circle cx="484.8" cy="544.4" r="2"/><circle cx="236.3" cy="549.6" r="2"/><circle cx="520.5" cy="197.9" r="2.1"/><circle cx="126.7" cy="266.5" r="2.1"/><circle cx="188.8" cy="471.5" r="2.1"/><circle cx="294.8" cy="487" r="2"/><circle cx="512.3" cy="593.8" r="2"/><circle cx="544.8" cy="309.7" r="2"/><circle cx="488.8" cy="225.3" r="2"/><circle cx="548.2" cy="230.2" r="1.9"/><circle cx="309.4" cy="151.2" r="2"/><circle cx="508" cy="530.8" r="1.9"/><circle cx="290.1" cy="582.6" r="1.9"/><circle cx="499.7" cy="218.2" r="1.9"/><circle cx="352" cy="191.5" r="1.9"/><circle cx="335.1" cy="134.7" r="1.9"/><circle cx="220.3" cy="532.6" r="1.9"/><circle cx="315.2" cy="131.3" r="1.8"/><circle cx="469" cy="226.4" r="1.9"/><circle cx="279.2" cy="438.8" r="1.8"/><circle cx="266" cy="434.8" r="1.8"/><circle cx="368.5" cy="545.9" r="1.8"/><circle cx="550.4" cy="217" r="1.8"/><circle cx="470.1" cy="581.3" r="1.7"/><circle cx="416.6" cy="546.7" r="1.8"/><circle cx="338.8" cy="136.5" r="1.8"/><circle cx="618.7" cy="548.3" r="1.7"/><circle cx="559" cy="270" r="1.8"/><circle cx="618.1" cy="354.1" r="1.7"/><circle cx="271.9" cy="493.2" r="1.8"/><circle cx="491.2" cy="590.6" r="1.7"/><circle cx="295.7" cy="557.7" r="1.7"/><circle cx="269.7" cy="497.4" r="1.7"/><circle cx="203.8" cy="523.7" r="1.7"/><circle cx="575.1" cy="286.3" r="1.7"/><circle cx="560.7" cy="300.5" r="1.7"/><circle cx="332.9" cy="555.6" r="1.7"/><circle cx="516.9" cy="257.3" r="1.7"/><circle cx="469.8" cy="228" r="1.7"/><circle cx="474.2" cy="550.2" r="1.7"/><circle cx="510.5" cy="534" r="1.7"/><circle cx="130.5" cy="258.8" r="1.7"/><circle cx="300.1" cy="493.5" r="1.7"/><circle cx="435.2" cy="535.6" r="1.6"/><circle cx="390.6" cy="543.9" r="1.7"/><circle cx="299.7" cy="564" r="1.6"/><circle cx="496.2" cy="180.2" r="1.7"/><circle cx="346.6" cy="193.1" r="1.7"/><circle cx="429.2" cy="544.7" r="1.6"/><circle cx="394.7" cy="534" r="1.7"/><circle cx="465.5" cy="212.9" r="1.6"/><circle cx="329.6" cy="451.2" r="1.6"/><circle cx="297.1" cy="434.9" r="1.6"/><circle cx="129.3" cy="512.7" r="1.7"/><circle cx="200.4" cy="522.7" r="1.6"/><circle cx="142.3" cy="198.6" r="1.6"/><circle cx="528" cy="202.1" r="1.6"/><circle cx="433.3" cy="556" r="1.6"/><circle cx="315.6" cy="590.6" r="1.6"/><circle cx="508.2" cy="250.5" r="1.6"/><circle cx="568.3" cy="575.9" r="1.6"/><circle cx="390.7" cy="544.8" r="1.6"/><circle cx="259.7" cy="519.5" r="1.6"/><circle cx="462.8" cy="575.4" r="1.6"/><circle cx="177.8" cy="457.8" r="1.5"/><circle cx="469.7" cy="189.4" r="1.5"/><circle cx="569.4" cy="279.1" r="1.6"/><circle cx="437.9" cy="558.5" r="1.5"/><circle cx="532.2" cy="240.7" r="1.5"/><circle cx="287.2" cy="444.4" r="1.5"/><circle cx="328.9" cy="432.6" r="1.5"/><circle cx="284.5" cy="489" r="1.5"/><circle cx="342.8" cy="548" r="1.5"/><circle cx="594.4" cy="289.4" r="1.5"/><circle cx="571.3" cy="576.8" r="1.5"/><circle cx="519.5" cy="593.3" r="1.5"/><circle cx="309.8" cy="134.9" r="1.5"/><circle cx="166.2" cy="431.2" r="1.5"/><circle cx="549.9" cy="538.8" r="1.5"/><circle cx="483.4" cy="545" r="1.5"/><circle cx="316.1" cy="429.7" r="1.5"/><circle cx="332.8" cy="134.9" r="1.5"/><circle cx="348.4" cy="551.1" r="1.4"/><circle cx="332.3" cy="479.4" r="1.5"/><circle cx="478.5" cy="209.9" r="1.5"/><circle cx="272.6" cy="494.5" r="1.4"/><circle cx="564.9" cy="57.9" r="1.5"/><circle cx="265" cy="440.2" r="1.5"/><circle cx="486.3" cy="548.9" r="1.5"/><circle cx="178.8" cy="462.8" r="1.4"/><circle cx="497.5" cy="539.3" r="1.5"/><circle cx="557.5" cy="270.2" r="1.5"/><circle cx="277.7" cy="507.8" r="1.4"/><circle cx="143.7" cy="301.5" r="1.4"/><circle cx="175.9" cy="420.8" r="1.4"/><circle cx="179.6" cy="459.6" r="1.4"/><circle cx="583.6" cy="286.7" r="1.4"/><circle cx="448.8" cy="182.1" r="1.4"/><circle cx="265.6" cy="434.4" r="1.4"/><circle cx="169.4" cy="419.6" r="1.4"/><circle cx="307.5" cy="150.5" r="1.4"/><circle cx="347.4" cy="194.7" r="1.4"/><circle cx="586.5" cy="291" r="1.4"/><circle cx="341.9" cy="546.4" r="1.4"/><circle cx="553.5" cy="527.4" r="1.4"/><circle cx="158.5" cy="205.7" r="1.3"/><circle cx="305.6" cy="492.8" r="1.4"/><circle cx="445.2" cy="183.3" r="1.3"/><circle cx="430.3" cy="559" r="1.3"/><circle cx="151.3" cy="296.7" r="1.3"/><circle cx="335" cy="549.3" r="1.3"/><circle cx="333.1" cy="430.5" r="1.4"/><circle cx="162.8" cy="331.5" r="1.3"/><circle cx="175.6" cy="416.7" r="1.4"/><circle cx="485.9" cy="223.8" r="1.3"/><circle cx="396.2" cy="535.2" r="1.3"/><circle cx="194.1" cy="411.8" r="1.3"/><circle cx="463.8" cy="581.4" r="1.3"/><circle cx="568.2" cy="271.8" r="1.3"/><circle cx="634.7" cy="160.4" r="1.3"/><circle cx="160.9" cy="463.5" r="1.2"/><circle cx="501.7" cy="211.9" r="1.3"/><circle cx="301" cy="162.1" r="1.3"/><circle cx="294.9" cy="483.5" r="1.3"/><circle cx="119.7" cy="508.5" r="1.2"/><circle cx="338.8" cy="433.6" r="1.3"/><circle cx="317.4" cy="425.9" r="1.2"/><circle cx="574.5" cy="569" r="1.2"/><circle cx="486.9" cy="571.1" r="1.2"/><circle cx="176.5" cy="422.3" r="1.2"/><circle cx="462.1" cy="591.6" r="1.2"/><circle cx="164" cy="329.1" r="1.2"/><circle cx="340.1" cy="243" r="1.2"/><circle cx="160.8" cy="337.1" r="1.2"/><circle cx="264.7" cy="428.3" r="1.2"/><circle cx="556.6" cy="263.9" r="1.2"/><circle cx="307.6" cy="498.2" r="1.2"/><circle cx="297.2" cy="487.3" r="1.2"/><circle cx="501.1" cy="537.7" r="1.2"/><circle cx="166.3" cy="434.3" r="1.2"/><circle cx="351.5" cy="246.4" r="1.2"/><circle cx="501" cy="568.5" r="1.2"/><circle cx="565.9" cy="273.7" r="1.2"/><circle cx="473.3" cy="200.7" r="1.2"/><circle cx="553.1" cy="266.4" r="1.2"/><circle cx="194.9" cy="373.8" r="1.2"/><circle cx="565.1" cy="302.5" r="1.2"/><circle cx="313.6" cy="518.9" r="1.1"/><circle cx="541.3" cy="247.7" r="1.2"/><circle cx="440.5" cy="184.3" r="1.2"/><circle cx="146.3" cy="299.4" r="1.1"/><circle cx="613.8" cy="168.4" r="1.1"/><circle cx="619.2" cy="143.4" r="1.1"/><circle cx="280.9" cy="441.1" r="1.1"/><circle cx="340.1" cy="137.6" r="1.1"/><circle cx="448.6" cy="589.9" r="1.1"/></g>
<g fill="url(#g18)"><circle cx="527.7" cy="218.2" r="5.8"/><circle cx="526.5" cy="226.7" r="5.8"/><circle cx="460.7" cy="191.3" r="5.8"/><circle cx="304.8" cy="456.8" r="5.5"/><circle cx="456.8" cy="200.4" r="4.9"/><circle cx="304" cy="457.5" r="4.9"/><circle cx="292" cy="463.5" r="4.9"/><circle cx="307" cy="474" r="4.9"/><circle cx="142.6" cy="292.5" r="4.3"/><circle cx="138.9" cy="297.4" r="4.3"/><circle cx="596" cy="319.3" r="4.3"/><circle cx="447.3" cy="188.8" r="4"/><circle cx="245.2" cy="557.4" r="4"/><circle cx="140.2" cy="308.3" r="3.8"/><circle cx="504.6" cy="204.8" r="3.8"/><circle cx="495.1" cy="588" r="3.8"/><circle cx="474.1" cy="219.4" r="3.8"/><circle cx="480.2" cy="224.2" r="3.8"/><circle cx="465.6" cy="588.7" r="3.8"/><circle cx="516.8" cy="594.8" r="3.8"/><circle cx="170.6" cy="432.8" r="3.7"/><circle cx="131.6" cy="274.2" r="3.8"/><circle cx="514.3" cy="246.2" r="3.8"/><circle cx="528.9" cy="262" r="3.8"/><circle cx="436.3" cy="524.1" r="3.8"/><circle cx="399.8" cy="543.6" r="3.8"/><circle cx="509.4" cy="593.5" r="3.8"/><circle cx="141.7" cy="312.6" r="3.8"/><circle cx="474.1" cy="585.2" r="3.6"/><circle cx="137.7" cy="277" r="3.8"/><circle cx="144.5" cy="295.9" r="3.7"/><circle cx="141.1" cy="311.1" r="3.6"/><circle cx="145.6" cy="310.3" r="3.6"/><circle cx="149.8" cy="198.4" r="3.5"/><circle cx="527.4" cy="208.4" r="3.5"/><circle cx="555.3" cy="308.8" r="3.4"/><circle cx="550.9" cy="254.7" r="3.4"/><circle cx="145.8" cy="305.4" r="3.4"/><circle cx="149.3" cy="195.7" r="3.4"/><circle cx="173.9" cy="430.1" r="3.4"/><circle cx="509.4" cy="241.3" r="3.4"/><circle cx="516.8" cy="198.7" r="3.4"/><circle cx="489.9" cy="221.8" r="3.4"/><circle cx="449.6" cy="185.6" r="3.3"/><circle cx="136.7" cy="298.7" r="3.3"/><circle cx="473.7" cy="578.5" r="3.3"/><circle cx="525.4" cy="201.8" r="3.3"/><circle cx="519.3" cy="254.2" r="3.3"/><circle cx="140.1" cy="282.7" r="3.3"/><circle cx="178.4" cy="429.7" r="3.2"/><circle cx="314.7" cy="464.4" r="3.1"/><circle cx="548.1" cy="306.7" r="3.1"/><circle cx="298.6" cy="483.6" r="3.1"/><circle cx="519.1" cy="248.8" r="3.1"/><circle cx="319.7" cy="122.4" r="3.1"/><circle cx="427" cy="529.7" r="3.1"/><circle cx="543.2" cy="231.7" r="3.1"/><circle cx="475.3" cy="215.6" r="3"/><circle cx="342.5" cy="131.6" r="3.1"/><circle cx="187.1" cy="472.2" r="3"/><circle cx="541.1" cy="237.7" r="2.9"/><circle cx="506" cy="213.2" r="3"/><circle cx="354.6" cy="190.5" r="3"/><circle cx="528.1" cy="205" r="3"/><circle cx="220.5" cy="483.7" r="2.9"/><circle cx="138.9" cy="315.7" r="2.9"/><circle cx="320.5" cy="125.5" r="2.8"/><circle cx="477.6" cy="578.6" r="2.8"/><circle cx="151.1" cy="195" r="2.8"/><circle cx="141.6" cy="317.4" r="2.9"/><circle cx="465.3" cy="185.7" r="2.8"/><circle cx="446.8" cy="618.1" r="2.9"/><circle cx="451.5" cy="179.2" r="2.8"/><circle cx="141.5" cy="316" r="2.8"/><circle cx="557.7" cy="310" r="2.8"/><circle cx="543.7" cy="229.1" r="2.7"/><circle cx="549.5" cy="256.3" r="2.7"/><circle cx="151.8" cy="195.8" r="2.7"/><circle cx="167" cy="426.1" r="2.7"/><circle cx="439" cy="527.8" r="2.7"/><circle cx="260.8" cy="567.9" r="2.8"/><circle cx="303.7" cy="486.2" r="2.7"/><circle cx="224" cy="536.3" r="2.7"/><circle cx="264.8" cy="572.8" r="2.8"/><circle cx="469.8" cy="590.5" r="2.7"/><circle cx="332.8" cy="552.1" r="2.8"/><circle cx="537.9" cy="232.7" r="2.7"/><circle cx="336" cy="600.6" r="2.8"/><circle cx="484.5" cy="226.4" r="2.7"/><circle cx="446.4" cy="511.7" r="2.7"/><circle cx="472.2" cy="578.7" r="2.7"/><circle cx="539.4" cy="212.4" r="2.7"/><circle cx="211.7" cy="482.6" r="2.7"/><circle cx="305.5" cy="483" r="2.6"/><circle cx="233.5" cy="544.5" r="2.7"/><circle cx="534.5" cy="242.2" r="2.7"/><circle cx="353.3" cy="186.1" r="2.6"/><circle cx="261.6" cy="566.5" r="2.7"/><circle cx="314.1" cy="130.8" r="2.7"/><circle cx="290.7" cy="581.4" r="2.6"/><circle cx="318.5" cy="127.4" r="2.6"/><circle cx="305" cy="488.7" r="2.7"/><circle cx="325.5" cy="126.6" r="2.7"/><circle cx="535.3" cy="219.3" r="2.5"/><circle cx="453.4" cy="619.8" r="2.7"/><circle cx="313.6" cy="131.1" r="2.6"/><circle cx="401.1" cy="539.5" r="2.6"/><circle cx="172.2" cy="458" r="2.6"/><circle cx="447.5" cy="181.7" r="2.5"/><circle cx="228.3" cy="538.9" r="2.5"/><circle cx="148.2" cy="201.7" r="2.5"/><circle cx="173.1" cy="421.3" r="2.5"/><circle cx="336.4" cy="134.1" r="2.5"/><circle cx="224.8" cy="535.4" r="2.5"/><circle cx="443.8" cy="526.8" r="2.5"/><circle cx="302.6" cy="480.6" r="2.5"/><circle cx="313.5" cy="130.5" r="2.5"/><circle cx="174.1" cy="427.6" r="2.4"/><circle cx="590.1" cy="289.6" r="2.4"/><circle cx="490.4" cy="539.1" r="2.4"/><circle cx="245.6" cy="555.6" r="2.3"/><circle cx="354.8" cy="189" r="2.3"/><circle cx="137.4" cy="309.5" r="2.3"/><circle cx="287.2" cy="446.7" r="2.2"/><circle cx="226.2" cy="539.5" r="2.3"/><circle cx="543.9" cy="223.8" r="2.2"/><circle cx="149.9" cy="196.8" r="2.2"/><circle cx="210.3" cy="529.9" r="2.2"/><circle cx="457.8" cy="182.9" r="2.2"/><circle cx="317.8" cy="132.3" r="2.2"/><circle cx="282" cy="579.6" r="2.2"/><circle cx="305.1" cy="147.8" r="2.1"/><circle cx="453.8" cy="329.7" r="2.1"/><circle cx="337.4" cy="134.4" r="2.1"/><circle cx="303.6" cy="154.6" r="2.1"/><circle cx="325.1" cy="450.7" r="2"/><circle cx="621.9" cy="549" r="2"/><circle cx="352.9" cy="531.3" r="1.9"/><circle cx="262.3" cy="566.4" r="1.9"/><circle cx="280.7" cy="440.1" r="1.8"/><circle cx="513.9" cy="532.4" r="1.8"/><circle cx="303.2" cy="494.2" r="1.8"/><circle cx="281.6" cy="488.7" r="1.8"/><circle cx="128.4" cy="501.1" r="1.8"/><circle cx="419.7" cy="549.3" r="1.8"/><circle cx="586" cy="280" r="1.7"/><circle cx="329.6" cy="451.4" r="1.7"/><circle cx="474" cy="194.2" r="1.7"/><circle cx="518.5" cy="234.7" r="1.8"/><circle cx="421.4" cy="546.2" r="1.8"/><circle cx="472.8" cy="230.9" r="1.8"/><circle cx="444.4" cy="188.4" r="1.7"/><circle cx="345.1" cy="528.9" r="1.8"/><circle cx="152.9" cy="319.3" r="1.7"/><circle cx="183.7" cy="463.2" r="1.6"/><circle cx="279.3" cy="505.6" r="1.7"/><circle cx="429.9" cy="549.6" r="1.7"/><circle cx="265.6" cy="437" r="1.7"/><circle cx="302" cy="150.5" r="1.7"/><circle cx="483.4" cy="573.9" r="1.6"/><circle cx="278.3" cy="489.7" r="1.7"/><circle cx="348" cy="193.2" r="1.6"/><circle cx="141.2" cy="301.4" r="1.6"/><circle cx="311.5" cy="204.4" r="1.6"/><circle cx="589.2" cy="290" r="1.6"/><circle cx="503.9" cy="535.6" r="1.6"/><circle cx="302.4" cy="150.5" r="1.6"/><circle cx="175.3" cy="434" r="1.6"/><circle cx="513.1" cy="596.1" r="1.6"/><circle cx="374.9" cy="548.2" r="1.6"/><circle cx="187.9" cy="374.3" r="1.6"/><circle cx="298.2" cy="493.5" r="1.6"/><circle cx="166.3" cy="417.7" r="1.6"/><circle cx="522.9" cy="598.7" r="1.6"/><circle cx="582" cy="564.5" r="1.5"/><circle cx="169.5" cy="445.1" r="1.6"/><circle cx="121.1" cy="511" r="1.5"/><circle cx="473.6" cy="220.8" r="1.5"/><circle cx="490.3" cy="567.8" r="1.5"/><circle cx="330" cy="431.4" r="1.5"/><circle cx="505.8" cy="524.7" r="1.6"/><circle cx="346.8" cy="248.5" r="1.5"/><circle cx="573.1" cy="286.5" r="1.5"/><circle cx="395.4" cy="547.7" r="1.5"/><circle cx="157.3" cy="202.1" r="1.5"/><circle cx="541.6" cy="217.4" r="1.5"/><circle cx="138.1" cy="273" r="1.4"/><circle cx="471.2" cy="188.1" r="1.4"/><circle cx="446.6" cy="619.1" r="1.5"/><circle cx="346.6" cy="243.2" r="1.5"/><circle cx="189.6" cy="379.5" r="1.5"/><circle cx="629.2" cy="543.4" r="1.5"/><circle cx="309.5" cy="500.1" r="1.5"/><circle cx="498.9" cy="598.8" r="1.5"/><circle cx="477.2" cy="228.2" r="1.4"/><circle cx="320.8" cy="532.8" r="1.4"/><circle cx="339.9" cy="547.5" r="1.4"/><circle cx="130.2" cy="497.3" r="1.4"/><circle cx="554.2" cy="315.1" r="1.4"/><circle cx="401.4" cy="541.1" r="1.4"/><circle cx="339.7" cy="136.5" r="1.4"/><circle cx="280" cy="442.7" r="1.4"/><circle cx="335.1" cy="135" r="1.4"/><circle cx="302.6" cy="153.2" r="1.4"/><circle cx="316.8" cy="594.5" r="1.3"/><circle cx="510.7" cy="524.2" r="1.4"/><circle cx="182.2" cy="461" r="1.3"/><circle cx="310.5" cy="520" r="1.4"/><circle cx="186.1" cy="362.8" r="1.4"/><circle cx="615.6" cy="166.8" r="1.3"/><circle cx="465.8" cy="214.8" r="1.3"/><circle cx="573.2" cy="569.3" r="1.3"/><circle cx="503.8" cy="560.2" r="1.3"/><circle cx="411.2" cy="545.7" r="1.3"/><circle cx="147.1" cy="202.7" r="1.3"/><circle cx="635.4" cy="161.7" r="1.3"/><circle cx="302.2" cy="145.4" r="1.3"/><circle cx="146.2" cy="319.2" r="1.3"/><circle cx="155.5" cy="460.4" r="1.3"/><circle cx="485.2" cy="545.4" r="1.3"/><circle cx="184.3" cy="460.9" r="1.2"/><circle cx="267.5" cy="499.2" r="1.3"/><circle cx="320.9" cy="530.4" r="1.3"/><circle cx="434.8" cy="557.2" r="1.2"/><circle cx="165.8" cy="426.1" r="1.3"/><circle cx="476.3" cy="210.4" r="1.3"/><circle cx="277.8" cy="445.2" r="1.3"/><circle cx="184" cy="353.5" r="1.2"/><circle cx="302.7" cy="496.4" r="1.2"/><circle cx="311.6" cy="424.5" r="1.2"/><circle cx="453.3" cy="503.4" r="1.2"/><circle cx="576.8" cy="570" r="1.2"/><circle cx="153.9" cy="197.1" r="1.2"/><circle cx="189.9" cy="397.9" r="1.2"/><circle cx="416.9" cy="545.6" r="1.2"/><circle cx="547.3" cy="261.4" r="1.2"/><circle cx="566.6" cy="278.3" r="1.2"/><circle cx="356" cy="191.1" r="1.2"/><circle cx="158.4" cy="333" r="1.2"/><circle cx="540.8" cy="252.3" r="1.2"/><circle cx="338.8" cy="137.6" r="1.1"/><circle cx="156.4" cy="187.6" r="1.2"/><circle cx="358.8" cy="197" r="1.1"/><circle cx="376.7" cy="543.5" r="1.2"/><circle cx="515.9" cy="257.8" r="1.1"/><circle cx="563.8" cy="54.1" r="1.1"/><circle cx="286.1" cy="443.4" r="1.1"/><circle cx="356.5" cy="188.8" r="1.1"/><circle cx="302.6" cy="493.1" r="1.1"/><circle cx="623.5" cy="138" r="1.1"/></g>
<g fill="url(#g19)"><circle cx="456.5" cy="192.6" r="6"/><circle cx="289.8" cy="462" r="5.5"/><circle cx="243.8" cy="552.1" r="5.2"/><circle cx="295" cy="456" r="4.9"/><circle cx="302.5" cy="475.5" r="4.9"/><circle cx="476.5" cy="587.3" r="4.2"/><circle cx="147.5" cy="199.4" r="4.3"/><circle cx="142.1" cy="290.4" r="4.1"/><circle cx="504.6" cy="236.4" r="3.8"/><circle cx="145.4" cy="314.5" r="3.8"/><circle cx="511.1" cy="220.1" r="3.8"/><circle cx="524.1" cy="257.2" r="3.8"/><circle cx="621.6" cy="544" r="3.8"/><circle cx="508.4" cy="201" r="3.8"/><circle cx="258.1" cy="557" r="3.7"/><circle cx="550.9" cy="303.5" r="3.8"/><circle cx="494.8" cy="226.7" r="3.8"/><circle cx="499.7" cy="231.6" r="3.8"/><circle cx="519.2" cy="252.3" r="3.8"/><circle cx="509.4" cy="199.9" r="3.8"/><circle cx="401" cy="530.2" r="3.8"/><circle cx="502.1" cy="592.3" r="3.8"/><circle cx="510.8" cy="209.6" r="3.7"/><circle cx="519.4" cy="205.4" r="3.6"/><circle cx="148.5" cy="196.6" r="3.7"/><circle cx="508.2" cy="212.2" r="3.7"/><circle cx="177" cy="428.2" r="3.4"/><circle cx="524.1" cy="202.3" r="3.4"/><circle cx="531.4" cy="208.4" r="3.4"/><circle cx="475.3" cy="580.1" r="3.4"/><circle cx="506.1" cy="202.8" r="3.4"/><circle cx="505.9" cy="221.6" r="3.4"/><circle cx="140.7" cy="284.3" r="3.5"/><circle cx="145.8" cy="312.9" r="3.5"/><circle cx="536.2" cy="212.1" r="3.4"/><circle cx="553.4" cy="305.9" r="3.4"/><circle cx="504.6" cy="221.8" r="3.4"/><circle cx="491.2" cy="536.2" r="3.4"/><circle cx="353.4" cy="600.8" r="3.4"/><circle cx="320.9" cy="124" r="3.3"/><circle cx="517.1" cy="216.2" r="3.2"/><circle cx="532.4" cy="210.3" r="3.3"/><circle cx="299" cy="481.4" r="3.2"/><circle cx="509.5" cy="221.3" r="3.2"/><circle cx="528.9" cy="200.7" r="3.3"/><circle cx="526.6" cy="257.6" r="3.2"/><circle cx="470.5" cy="577.8" r="3.2"/><circle cx="501.3" cy="236.5" r="3.1"/><circle cx="144.3" cy="316.5" r="3.1"/><circle cx="471.5" cy="582.5" r="3"/><circle cx="511.9" cy="230.3" r="2.9"/><circle cx="536.2" cy="241.3" r="2.9"/><circle cx="590.8" cy="321.4" r="3"/><circle cx="334.5" cy="524.4" r="2.9"/><circle cx="446.6" cy="524.9" r="2.9"/><circle cx="172.5" cy="427.8" r="3"/><circle cx="353.4" cy="190.1" r="2.9"/><circle cx="259.2" cy="566.6" r="2.8"/><circle cx="561.1" cy="259.3" r="2.9"/><circle cx="515.8" cy="195.1" r="2.9"/><circle cx="558.7" cy="306.1" r="2.9"/><circle cx="531.4" cy="243.8" r="2.9"/><circle cx="399.8" cy="588.7" r="2.9"/><circle cx="316.9" cy="130.4" r="2.8"/><circle cx="143.8" cy="303.5" r="2.8"/><circle cx="481.1" cy="586.3" r="2.9"/><circle cx="317.5" cy="125.5" r="2.9"/><circle cx="317.7" cy="466.2" r="2.9"/><circle cx="494.6" cy="594.9" r="2.9"/><circle cx="312.5" cy="440.7" r="2.8"/><circle cx="546.5" cy="229.2" r="2.8"/><circle cx="298.5" cy="480.5" r="2.7"/><circle cx="538.7" cy="217.4" r="2.7"/><circle cx="550" cy="223" r="2.8"/><circle cx="452.2" cy="184" r="2.8"/><circle cx="516.9" cy="201.1" r="2.8"/><circle cx="226.7" cy="538.7" r="2.8"/><circle cx="234" cy="546" r="2.8"/><circle cx="511.7" cy="223.8" r="2.7"/><circle cx="225.5" cy="537.7" r="2.7"/><circle cx="527.7" cy="209.7" r="2.7"/><circle cx="622.2" cy="540.8" r="2.7"/><circle cx="448.6" cy="186" r="2.7"/><circle cx="170.2" cy="424.8" r="2.7"/><circle cx="323.4" cy="118.8" r="2.7"/><circle cx="518.3" cy="229.5" r="2.6"/><circle cx="538.4" cy="239.3" r="2.6"/><circle cx="320.4" cy="119.1" r="2.6"/><circle cx="320.5" cy="447.9" r="2.5"/><circle cx="418" cy="536.5" r="2.6"/><circle cx="143.7" cy="319.9" r="2.6"/><circle cx="248.5" cy="555.2" r="2.6"/><circle cx="259.3" cy="569.5" r="2.5"/><circle cx="539.6" cy="223.7" r="2.5"/><circle cx="477.1" cy="590.1" r="2.6"/><circle cx="503.1" cy="220.6" r="2.5"/><circle cx="317.9" cy="129.6" r="2.5"/><circle cx="512.5" cy="226.9" r="2.4"/><circle cx="540.1" cy="234.5" r="2.5"/><circle cx="142.9" cy="196.6" r="2.5"/><circle cx="619.1" cy="353.4" r="2.5"/><circle cx="175.5" cy="455.8" r="2.5"/><circle cx="285" cy="464.7" r="2.5"/><circle cx="151.3" cy="309" r="2.4"/><circle cx="499.2" cy="536.7" r="1.7"/><circle cx="279.2" cy="486.6" r="1.8"/><circle cx="461.6" cy="223" r="1.7"/><circle cx="398.5" cy="542.5" r="1.7"/><circle cx="340.7" cy="546.1" r="1.7"/><circle cx="175.4" cy="437" r="1.7"/><circle cx="295.4" cy="483.6" r="1.7"/><circle cx="484.8" cy="535.5" r="1.7"/><circle cx="531.3" cy="263.4" r="1.7"/><circle cx="141.9" cy="308.9" r="1.6"/><circle cx="139.4" cy="316.4" r="1.7"/><circle cx="266.4" cy="498.2" r="1.7"/><circle cx="194.1" cy="381.7" r="1.6"/><circle cx="314.7" cy="119.2" r="1.7"/><circle cx="161.6" cy="334.9" r="1.7"/><circle cx="461.9" cy="574.9" r="1.7"/><circle cx="278.5" cy="439.2" r="1.7"/><circle cx="550.1" cy="298.9" r="1.7"/><circle cx="465.9" cy="232.4" r="1.7"/><circle cx="430.1" cy="545.9" r="1.6"/><circle cx="552" cy="309.5" r="1.6"/><circle cx="306.5" cy="496.4" r="1.6"/><circle cx="497.2" cy="237.7" r="1.6"/><circle cx="473.3" cy="192.8" r="1.5"/><circle cx="126.5" cy="512" r="1.5"/><circle cx="180" cy="366.7" r="1.5"/><circle cx="469.7" cy="583.3" r="1.5"/><circle cx="315.4" cy="127.9" r="1.5"/><circle cx="478.5" cy="222.4" r="1.5"/><circle cx="132.8" cy="275.8" r="1.4"/><circle cx="407.1" cy="546.1" r="1.4"/><circle cx="452.5" cy="514.1" r="1.5"/><circle cx="544.4" cy="213.6" r="1.4"/><circle cx="475.2" cy="223.3" r="1.4"/><circle cx="543.1" cy="310.3" r="1.4"/><circle cx="167" cy="461.8" r="1.4"/><circle cx="310.5" cy="146.9" r="1.4"/><circle cx="480.4" cy="231.5" r="1.3"/><circle cx="469.9" cy="576.6" r="1.3"/><circle cx="188.6" cy="407" r="1.3"/><circle cx="460.4" cy="590.6" r="1.3"/><circle cx="507.9" cy="566.8" r="1.3"/><circle cx="629.5" cy="541.1" r="1.3"/><circle cx="343.8" cy="529.8" r="1.3"/><circle cx="179.2" cy="455.2" r="1.3"/><circle cx="183.6" cy="462.2" r="1.3"/><circle cx="150.2" cy="195.7" r="1.2"/><circle cx="304.1" cy="484.6" r="1.2"/><circle cx="277.4" cy="439.7" r="1.2"/><circle cx="180.1" cy="375.9" r="1.2"/><circle cx="307.3" cy="155.2" r="1.2"/><circle cx="195" cy="372.2" r="1.2"/><circle cx="512.6" cy="526.9" r="1.2"/><circle cx="103.1" cy="271.9" r="1.2"/><circle cx="284.6" cy="444.5" r="1.2"/><circle cx="147.8" cy="288" r="1.2"/><circle cx="200.6" cy="523.3" r="1.2"/><circle cx="357.9" cy="191.8" r="1.2"/><circle cx="452.3" cy="517" r="1.1"/><circle cx="493.7" cy="538.4" r="1.1"/><circle cx="550.5" cy="314.3" r="1.1"/></g>
<g fill="url(#g20)"><circle cx="143.8" cy="314.4" r="4.3"/><circle cx="430.2" cy="528.9" r="4.3"/><circle cx="139.6" cy="289.7" r="4.2"/><circle cx="147.5" cy="309.6" r="3.8"/><circle cx="555.8" cy="307.1" r="3.8"/><circle cx="558.2" cy="257.2" r="3.8"/><circle cx="448.9" cy="190.9" r="3.9"/><circle cx="133.6" cy="279.1" r="3.8"/><circle cx="507" cy="214.5" r="3.8"/><circle cx="148.7" cy="315.8" r="3.8"/><circle cx="142.7" cy="282.8" r="3.7"/><circle cx="506.7" cy="237.2" r="3.7"/><circle cx="540.9" cy="224.9" r="3.5"/><circle cx="533.3" cy="231.4" r="3.5"/><circle cx="553.3" cy="304.8" r="3.5"/><circle cx="529.8" cy="211.1" r="3.4"/><circle cx="516.6" cy="206.3" r="3.5"/><circle cx="454.9" cy="185.9" r="3.4"/><circle cx="541.1" cy="222.2" r="3.4"/><circle cx="410.7" cy="536.2" r="3.4"/><circle cx="543.6" cy="221.8" r="3.4"/><circle cx="513.8" cy="212.9" r="3.3"/><circle cx="313.8" cy="463.9" r="3.4"/><circle cx="463.1" cy="186.5" r="3.4"/><circle cx="148.1" cy="312.2" r="3.4"/><circle cx="537.5" cy="234.9" r="3.3"/><circle cx="520.4" cy="206.6" r="3.3"/><circle cx="509.6" cy="215.7" r="3.3"/><circle cx="328" cy="451.5" r="3.2"/><circle cx="525.7" cy="217.2" r="3.1"/><circle cx="535.8" cy="236" r="3.2"/><circle cx="540.7" cy="227.9" r="3.2"/><circle cx="499.4" cy="236.5" r="3.1"/><circle cx="529.4" cy="208.2" r="3.1"/><circle cx="304.3" cy="473.6" r="2.9"/><circle cx="318.3" cy="131.5" r="3.1"/><circle cx="532.2" cy="237.9" r="3"/><circle cx="524.1" cy="212.4" r="3"/><circle cx="338.1" cy="523.9" r="3"/><circle cx="410" cy="533.3" r="2.9"/><circle cx="285.2" cy="450" r="3"/><circle cx="295" cy="435" r="2.9"/><circle cx="138.3" cy="283.8" r="2.9"/><circle cx="291.8" cy="466.9" r="2.9"/><circle cx="399.1" cy="587.7" r="2.9"/><circle cx="546.7" cy="223.6" r="2.9"/><circle cx="325.6" cy="448.6" r="2.9"/><circle cx="239.1" cy="550" r="2.9"/><circle cx="150.1" cy="318.5" r="2.8"/><circle cx="307.4" cy="463.5" r="2.9"/><circle cx="237" cy="547.9" r="2.8"/><circle cx="362" cy="596" r="2.8"/><circle cx="219.4" cy="533.8" r="2.8"/><circle cx="531.4" cy="241.9" r="2.9"/><circle cx="146.8" cy="305.5" r="2.9"/><circle cx="322.1" cy="451.3" r="2.8"/><circle cx="170.6" cy="426.6" r="2.8"/><circle cx="520.1" cy="215.6" r="2.7"/><circle cx="147.5" cy="315.4" r="2.7"/><circle cx="315.3" cy="440.8" r="2.6"/><circle cx="144.8" cy="195.9" r="2.7"/><circle cx="299.8" cy="482.1" r="2.7"/><circle cx="149.7" cy="312.5" r="2.7"/><circle cx="293.9" cy="461.1" r="2.6"/><circle cx="506.3" cy="211.9" r="2.6"/><circle cx="145" cy="200.6" r="2.6"/><circle cx="217.5" cy="533.1" r="2.6"/><circle cx="513.6" cy="232.3" r="2.5"/><circle cx="514" cy="230.1" r="2.6"/><circle cx="540.5" cy="214.5" r="2.5"/><circle cx="305.8" cy="480.8" r="2.5"/><circle cx="305.5" cy="479.1" r="2.5"/><circle cx="536.2" cy="245.2" r="2.5"/><circle cx="320.3" cy="430.1" r="2.4"/><circle cx="329.4" cy="446" r="2.5"/><circle cx="273.7" cy="575.8" r="2.5"/><circle cx="520.5" cy="229" r="2.5"/><circle cx="552.4" cy="305.1" r="2.4"/><circle cx="285.6" cy="465.1" r="2.4"/><circle cx="291.1" cy="478.6" r="1.8"/><circle cx="476.5" cy="220.8" r="1.7"/><circle cx="454.1" cy="183.9" r="1.7"/><circle cx="547.4" cy="232.1" r="1.7"/><circle cx="433" cy="547.2" r="1.7"/><circle cx="297.4" cy="485" r="1.6"/><circle cx="334.5" cy="133.9" r="1.6"/><circle cx="171.2" cy="458.7" r="1.6"/><circle cx="466.1" cy="589.9" r="1.6"/><circle cx="304.6" cy="493.3" r="1.6"/><circle cx="541.3" cy="236.7" r="1.5"/><circle cx="507.9" cy="240.8" r="1.5"/><circle cx="529.3" cy="203" r="1.6"/><circle cx="498.6" cy="240" r="1.5"/><circle cx="515.1" cy="254.3" r="1.5"/><circle cx="509.5" cy="592.2" r="1.5"/><circle cx="470.8" cy="575.4" r="1.5"/><circle cx="552.8" cy="219.7" r="1.5"/><circle cx="143.9" cy="294.2" r="1.5"/><circle cx="543.3" cy="247.9" r="1.5"/><circle cx="179.4" cy="427.3" r="1.5"/><circle cx="329" cy="450.1" r="1.4"/><circle cx="498.6" cy="213.9" r="1.4"/><circle cx="500.8" cy="594.9" r="1.4"/><circle cx="463.7" cy="586.5" r="1.4"/><circle cx="496.1" cy="534.7" r="1.3"/><circle cx="351.4" cy="535.1" r="1.3"/><circle cx="321.7" cy="126.1" r="1.3"/><circle cx="562.1" cy="306.6" r="1.3"/><circle cx="171.8" cy="428.9" r="1.3"/><circle cx="509.4" cy="230.2" r="1.3"/><circle cx="505.6" cy="240.7" r="1.3"/><circle cx="285.8" cy="445.9" r="1.3"/><circle cx="499.7" cy="223.4" r="1.3"/><circle cx="550.5" cy="314.8" r="1.3"/><circle cx="339.4" cy="545.3" r="1.3"/><circle cx="517.7" cy="196.5" r="1.2"/><circle cx="418.5" cy="547.4" r="1.2"/><circle cx="357.4" cy="192.2" r="1.2"/><circle cx="589.9" cy="285" r="1.2"/><circle cx="530.8" cy="263.5" r="1.2"/><circle cx="125.6" cy="507.9" r="1.2"/><circle cx="502.9" cy="209.9" r="1.2"/><circle cx="174.9" cy="455.5" r="1.1"/><circle cx="336.5" cy="133.5" r="1.1"/><circle cx="318.1" cy="127.9" r="1.2"/><circle cx="136.4" cy="314.1" r="1.2"/><circle cx="307.9" cy="485.2" r="1.2"/><circle cx="488.2" cy="542.9" r="1.1"/><circle cx="513.3" cy="241.3" r="1.1"/></g>
<g fill="url(#g21)"><circle cx="253.5" cy="560.6" r="5.6"/><circle cx="394.9" cy="591.1" r="4.3"/><circle cx="482.6" cy="588.7" r="4.3"/><circle cx="494.8" cy="591.1" r="4.3"/><circle cx="454" cy="189" r="4"/><circle cx="147.9" cy="198.2" r="4"/><circle cx="405.8" cy="533.8" r="3.8"/><circle cx="402.2" cy="564.3" r="3.8"/><circle cx="321.8" cy="121.9" r="3.8"/><circle cx="474.1" cy="587.4" r="3.8"/><circle cx="480.4" cy="587.5" r="3.9"/><circle cx="521.6" cy="203.7" r="3.7"/><circle cx="432.2" cy="524.8" r="3.7"/><circle cx="453.2" cy="194.4" r="3.4"/><circle cx="442.4" cy="533.8" r="3.4"/><circle cx="149.9" cy="315.7" r="3.4"/><circle cx="510.7" cy="221.8" r="3.4"/><circle cx="475.3" cy="582.2" r="3.3"/><circle cx="536.9" cy="238.9" r="3.2"/><circle cx="137.4" cy="286.2" r="3.3"/><circle cx="523.5" cy="208.8" r="3.3"/><circle cx="135.3" cy="285.4" r="3.2"/><circle cx="301" cy="480" r="3.2"/><circle cx="532.2" cy="236.5" r="3.2"/><circle cx="427.4" cy="527" r="3.1"/><circle cx="148.7" cy="313.3" r="3.1"/><circle cx="535.6" cy="233.2" r="3.1"/><circle cx="520.3" cy="226.4" r="3"/><circle cx="519.6" cy="225.9" r="3.1"/><circle cx="519.2" cy="230.6" r="3"/><circle cx="304.8" cy="460.9" r="3"/><circle cx="527.7" cy="214.8" r="3"/><circle cx="561.8" cy="259.6" r="2.9"/><circle cx="391.2" cy="592.3" r="2.9"/><circle cx="310.2" cy="455.6" r="2.9"/><circle cx="516.8" cy="232.8" r="2.9"/><circle cx="455.7" cy="196.4" r="2.9"/><circle cx="513.7" cy="221.7" r="3"/><circle cx="492.5" cy="589.2" r="3"/><circle cx="515.3" cy="219.6" r="3"/><circle cx="315.4" cy="441.3" r="2.9"/><circle cx="478.6" cy="586.3" r="2.9"/><circle cx="234.5" cy="545" r="2.9"/><circle cx="534.8" cy="216.8" r="2.9"/><circle cx="294" cy="448.8" r="2.8"/><circle cx="308.9" cy="442.8" r="2.9"/><circle cx="534.3" cy="238.9" r="2.8"/><circle cx="326.7" cy="449.5" r="2.9"/><circle cx="143" cy="300.3" r="2.9"/><circle cx="455.4" cy="197.5" r="2.9"/><circle cx="511.7" cy="227.4" r="2.8"/><circle cx="524.6" cy="235.9" r="2.8"/><circle cx="134.3" cy="284.7" r="2.7"/><circle cx="146.6" cy="305" r="2.7"/><circle cx="513.5" cy="220.8" r="2.6"/><circle cx="305" cy="481.3" r="2.6"/><circle cx="303.4" cy="446.9" r="2.7"/><circle cx="132.8" cy="280.9" r="2.6"/><circle cx="324.1" cy="448.9" r="2.7"/><circle cx="173.5" cy="425.9" r="2.6"/><circle cx="466.1" cy="185.8" r="2.6"/><circle cx="316" cy="134.1" r="2.6"/><circle cx="305.8" cy="475.4" r="2.5"/><circle cx="327" cy="121.9" r="2.6"/><circle cx="291.8" cy="455.9" r="2.6"/><circle cx="323.9" cy="451.2" r="2.6"/><circle cx="516.1" cy="229.5" r="2.5"/><circle cx="299.2" cy="476.4" r="2.5"/><circle cx="559.8" cy="304.4" r="2.5"/><circle cx="310.5" cy="453" r="2.5"/><circle cx="452.9" cy="328.6" r="2.5"/><circle cx="132.8" cy="509.4" r="2.5"/><circle cx="298.2" cy="479" r="2.5"/><circle cx="308.6" cy="474.1" r="2.5"/><circle cx="562.5" cy="262.4" r="2.4"/><circle cx="223.6" cy="538.1" r="2.5"/><circle cx="289.9" cy="452" r="2.5"/><circle cx="293.5" cy="467" r="2.4"/><circle cx="557.3" cy="306.1" r="1.8"/><circle cx="476.2" cy="585.3" r="1.8"/><circle cx="521.3" cy="253.7" r="1.7"/><circle cx="510.2" cy="598.2" r="1.7"/><circle cx="138.1" cy="307.3" r="1.7"/><circle cx="501.3" cy="205.4" r="1.7"/><circle cx="134.6" cy="273.6" r="1.7"/><circle cx="514.3" cy="200.7" r="1.7"/><circle cx="550.4" cy="255.6" r="1.7"/><circle cx="138.4" cy="298.4" r="1.6"/><circle cx="509.4" cy="223.3" r="1.6"/><circle cx="127.5" cy="496.8" r="1.6"/><circle cx="157.8" cy="202.2" r="1.5"/><circle cx="330.5" cy="477.5" r="1.5"/><circle cx="322.2" cy="118.1" r="1.5"/><circle cx="516.3" cy="244.2" r="1.5"/><circle cx="522" cy="197.8" r="1.5"/><circle cx="502.5" cy="235.6" r="1.5"/><circle cx="281.3" cy="442.1" r="1.5"/><circle cx="122.5" cy="507.3" r="1.5"/><circle cx="319.2" cy="133.5" r="1.4"/><circle cx="492.4" cy="226.1" r="1.4"/><circle cx="538.9" cy="235.2" r="1.4"/><circle cx="354.5" cy="532.6" r="1.4"/><circle cx="504.9" cy="198.9" r="1.4"/><circle cx="535.3" cy="207.9" r="1.4"/><circle cx="512.8" cy="245.8" r="1.3"/><circle cx="527.9" cy="208.8" r="1.4"/><circle cx="482.1" cy="225.5" r="1.4"/><circle cx="502.2" cy="597.9" r="1.3"/><circle cx="267.6" cy="434.1" r="1.3"/><circle cx="543.5" cy="225.2" r="1.3"/><circle cx="128.3" cy="277.1" r="1.3"/><circle cx="412.9" cy="532.2" r="1.3"/><circle cx="285" cy="443.9" r="1.2"/><circle cx="527.1" cy="263.4" r="1.2"/><circle cx="596.2" cy="314.7" r="1.1"/><circle cx="592.8" cy="324" r="1.1"/></g>
<g fill="url(#g22)"><circle cx="451.7" cy="190.5" r="3.9"/><circle cx="426.6" cy="535" r="3.8"/><circle cx="518" cy="206" r="3.8"/><circle cx="511.9" cy="208.4" r="3.8"/><circle cx="175.5" cy="429" r="3.8"/><circle cx="519" cy="214.6" r="3.6"/><circle cx="454.1" cy="192.6" r="3.5"/><circle cx="525" cy="204.1" r="3.5"/><circle cx="368.1" cy="596.5" r="3.4"/><circle cx="536.2" cy="234" r="3.4"/><circle cx="132.7" cy="283.1" r="3.5"/><circle cx="513.7" cy="208.5" r="3.3"/><circle cx="534" cy="227.4" r="3.4"/><circle cx="453.7" cy="194.9" r="3.3"/><circle cx="360.8" cy="598.4" r="3.4"/><circle cx="521.2" cy="218.6" r="3.4"/><circle cx="524" cy="219.5" r="3.3"/><circle cx="511.8" cy="215.2" r="3.3"/><circle cx="307.1" cy="456.6" r="3.2"/><circle cx="514.1" cy="223.3" r="3.2"/><circle cx="521.2" cy="216.7" r="3.2"/><circle cx="531" cy="239.2" r="3.2"/><circle cx="517.1" cy="218.4" r="3.1"/><circle cx="406.6" cy="530.9" r="3.2"/><circle cx="525.3" cy="207.2" r="3.1"/><circle cx="317.9" cy="451.8" r="3"/><circle cx="307.9" cy="467.1" r="3"/><circle cx="620.3" cy="381.5" r="2.9"/><circle cx="460.7" cy="329.1" r="2.9"/><circle cx="531" cy="220" r="2.9"/><circle cx="256.6" cy="560.9" r="3"/><circle cx="519.7" cy="234" r="3"/><circle cx="521.3" cy="214.5" r="2.9"/><circle cx="531.7" cy="233.5" r="2.9"/><circle cx="321.6" cy="450.4" r="2.9"/><circle cx="292" cy="448.5" r="2.9"/><circle cx="319" cy="429" r="2.9"/><circle cx="520.1" cy="219.5" r="2.9"/><circle cx="300" cy="449.3" r="2.8"/><circle cx="299.3" cy="459" r="2.8"/><circle cx="304.1" cy="468.8" r="2.7"/><circle cx="304" cy="449" r="2.8"/><circle cx="316.1" cy="449.8" r="2.8"/><circle cx="527" cy="236.3" r="2.7"/><circle cx="306.2" cy="452.7" r="2.7"/><circle cx="522.3" cy="229.1" r="2.7"/><circle cx="301.7" cy="472" r="2.7"/><circle cx="457.3" cy="199.1" r="2.7"/><circle cx="398" cy="563.9" r="2.7"/><circle cx="517.5" cy="232.2" r="2.6"/><circle cx="311.5" cy="435" r="2.6"/><circle cx="134.8" cy="283.8" r="2.6"/><circle cx="289.8" cy="454.5" r="2.6"/><circle cx="331" cy="469.5" r="2.6"/><circle cx="170.9" cy="427.4" r="2.6"/><circle cx="519.5" cy="216.5" r="2.6"/><circle cx="390.1" cy="591" r="2.5"/><circle cx="314.2" cy="451.9" r="2.5"/><circle cx="293.2" cy="455.4" r="2.6"/><circle cx="748.8" cy="46.8" r="2.5"/><circle cx="550.4" cy="767.3" r="2.5"/><circle cx="488.4" cy="589.1" r="2.5"/><circle cx="147.9" cy="316" r="2.5"/><circle cx="519.4" cy="230.1" r="2.4"/><circle cx="338.5" cy="525" r="2.4"/><circle cx="147.5" cy="319.3" r="2.5"/><circle cx="531.7" cy="219.1" r="2.4"/><circle cx="489.6" cy="538.8" r="1.7"/><circle cx="142.8" cy="200.1" r="1.7"/><circle cx="320.4" cy="130.1" r="1.7"/><circle cx="150" cy="312.2" r="1.7"/><circle cx="433.3" cy="531.2" r="1.7"/><circle cx="147.9" cy="313" r="1.7"/><circle cx="521.8" cy="200.1" r="1.7"/><circle cx="146.2" cy="317.8" r="1.7"/><circle cx="163.1" cy="328" r="1.6"/><circle cx="503.5" cy="212.4" r="1.6"/><circle cx="277.5" cy="443.3" r="1.6"/><circle cx="158" cy="203.9" r="1.5"/><circle cx="273.5" cy="490.7" r="1.5"/><circle cx="547.7" cy="257.1" r="1.6"/><circle cx="558.1" cy="255.5" r="1.5"/><circle cx="488.9" cy="594.6" r="1.6"/><circle cx="439.9" cy="534.2" r="1.5"/><circle cx="431.1" cy="527.1" r="1.5"/><circle cx="623.7" cy="136" r="1.5"/><circle cx="563.4" cy="259.7" r="1.5"/><circle cx="144.3" cy="304.2" r="1.5"/><circle cx="438.6" cy="534" r="1.4"/><circle cx="477.4" cy="584" r="1.4"/><circle cx="472.9" cy="585" r="1.4"/><circle cx="178.9" cy="430.1" r="1.4"/><circle cx="150.5" cy="192.4" r="1.4"/><circle cx="351.5" cy="186.9" r="1.4"/><circle cx="281.1" cy="488.4" r="1.3"/><circle cx="151" cy="307.3" r="1.3"/><circle cx="146.6" cy="199.8" r="1.3"/><circle cx="521.2" cy="200.1" r="1.3"/><circle cx="265.2" cy="431.8" r="1.3"/><circle cx="557.1" cy="306.6" r="1.2"/><circle cx="303.5" cy="493.4" r="1.2"/><circle cx="501.7" cy="231.9" r="1.2"/><circle cx="272.6" cy="492.5" r="1.2"/><circle cx="482.2" cy="587.1" r="1.1"/></g>
<g fill="url(#g23)"><ellipse cx="365" cy="598.5" rx="4.7" ry="2.3" transform="rotate(-12 365 598.5)"/><circle cx="456.3" cy="329.5" r="4.3"/><circle cx="455.8" cy="187.7" r="4.3"/><circle cx="455.4" cy="189.9" r="4.1"/><circle cx="516.8" cy="224.2" r="3.8"/><circle cx="514.3" cy="215.7" r="3.8"/><circle cx="617.4" cy="350.3" r="3.8"/><circle cx="450.9" cy="192.6" r="3.8"/><circle cx="458.2" cy="189.5" r="3.8"/><circle cx="619.1" cy="82.1" r="3.8"/><circle cx="512" cy="211.4" r="3.8"/><circle cx="336.3" cy="523.1" r="3.6"/><circle cx="455.8" cy="194" r="3.6"/><circle cx="513.9" cy="217.1" r="3.6"/><circle cx="519.6" cy="210" r="3.5"/><circle cx="522.4" cy="212.6" r="3.5"/><circle cx="308.5" cy="455.2" r="3.4"/><circle cx="529.2" cy="215.6" r="3.5"/><circle cx="536.3" cy="226.4" r="3.5"/><circle cx="530.1" cy="228.4" r="3.5"/><circle cx="521.5" cy="221" r="3.3"/><circle cx="525.3" cy="209.6" r="3.4"/><circle cx="538.7" cy="225.5" r="3.4"/><circle cx="530.2" cy="236.4" r="3.4"/><circle cx="532.6" cy="229.1" r="3.4"/><circle cx="419.2" cy="537.5" r="3.4"/><circle cx="520.4" cy="213.3" r="3.4"/><circle cx="460.7" cy="191.3" r="3.4"/><circle cx="528.7" cy="213.9" r="3.4"/><circle cx="518.7" cy="208.6" r="3.3"/><circle cx="512.7" cy="222.4" r="3.3"/><circle cx="458.3" cy="191.1" r="3.3"/><circle cx="461.7" cy="189.2" r="3.2"/><circle cx="530.2" cy="219.8" r="3.2"/><circle cx="524.9" cy="228.4" r="3.2"/><circle cx="519.1" cy="222.7" r="3.2"/><circle cx="296.5" cy="447.8" r="3.2"/><circle cx="442.4" cy="209.1" r="3.2"/><circle cx="322" cy="444.3" r="3.2"/><circle cx="134" cy="280.9" r="3.2"/><circle cx="516.6" cy="215.2" r="3.1"/><circle cx="527.9" cy="227" r="3"/><circle cx="525.6" cy="212" r="3.1"/><circle cx="327.6" cy="443.8" r="3"/><circle cx="522.6" cy="216.3" r="3.1"/><circle cx="534.2" cy="234.1" r="3.1"/><circle cx="531.5" cy="231.1" r="3"/><circle cx="137.3" cy="285.7" r="3"/><circle cx="522.9" cy="211.4" r="3.1"/><circle cx="308.9" cy="476.3" r="3"/><circle cx="522.7" cy="231" r="3"/><circle cx="522.8" cy="235.2" r="2.9"/><circle cx="522.4" cy="223" r="3"/><circle cx="320.7" cy="441.2" r="2.9"/><circle cx="304.1" cy="453.8" r="2.9"/><circle cx="548.4" cy="224.2" r="2.9"/><circle cx="132.8" cy="285.7" r="2.9"/><circle cx="387.6" cy="594.3" r="2.9"/><circle cx="522.1" cy="231.8" r="2.9"/><circle cx="327.9" cy="445.9" r="2.9"/><circle cx="296.6" cy="468.8" r="2.9"/><circle cx="521.4" cy="227.2" r="2.9"/><circle cx="302.4" cy="472.7" r="2.9"/><circle cx="462.2" cy="189" r="2.8"/><circle cx="322.2" cy="445.7" r="2.9"/><circle cx="454.3" cy="202" r="2.9"/><circle cx="524.6" cy="226.7" r="2.8"/><circle cx="313" cy="454.5" r="2.8"/><circle cx="325" cy="445.5" r="2.8"/><circle cx="302.1" cy="474.1" r="2.8"/><circle cx="304.1" cy="471.2" r="2.8"/><circle cx="323.2" cy="445.8" r="2.8"/><circle cx="534.5" cy="218.3" r="2.8"/><circle cx="304.6" cy="472.1" r="2.8"/><circle cx="523" cy="226.5" r="2.8"/><circle cx="488.7" cy="588.7" r="2.8"/><circle cx="457" cy="203.3" r="2.8"/><circle cx="310" cy="444" r="2.8"/><circle cx="322" cy="450" r="2.8"/><circle cx="303.6" cy="462.2" r="2.7"/><circle cx="298.9" cy="469.6" r="2.8"/><circle cx="217.2" cy="536.8" r="2.8"/><circle cx="535.3" cy="222.2" r="2.7"/><circle cx="521.8" cy="226.9" r="2.7"/><circle cx="292.7" cy="460.6" r="2.8"/><circle cx="303.9" cy="475.3" r="2.7"/><circle cx="523.1" cy="228.8" r="2.7"/><circle cx="303.6" cy="478.3" r="2.7"/><circle cx="533.2" cy="221.1" r="2.7"/><circle cx="302.2" cy="478.6" r="2.7"/><circle cx="299.3" cy="470.9" r="2.7"/><circle cx="456.6" cy="197.6" r="2.7"/><circle cx="484.3" cy="589.3" r="2.6"/><circle cx="488.6" cy="584.7" r="2.6"/><circle cx="319.9" cy="449.1" r="2.6"/><circle cx="295.2" cy="470.3" r="2.5"/><circle cx="523.8" cy="227.3" r="2.5"/><circle cx="303" cy="473.6" r="2.6"/><circle cx="291.1" cy="462.2" r="2.6"/><circle cx="313.9" cy="451.5" r="2.6"/><circle cx="457.3" cy="196.7" r="2.6"/><circle cx="309.4" cy="468.5" r="2.5"/><circle cx="132.5" cy="285.4" r="2.6"/><circle cx="308.9" cy="477.7" r="2.6"/><circle cx="456.3" cy="201.2" r="2.5"/><circle cx="520.1" cy="234.9" r="2.6"/><circle cx="634.5" cy="151.1" r="2.5"/><circle cx="453.9" cy="194.3" r="2.5"/><circle cx="301.6" cy="472.7" r="2.4"/><circle cx="523.1" cy="232.7" r="2.5"/><circle cx="219" cy="533.3" r="2.4"/><circle cx="498.2" cy="590.8" r="1.7"/><circle cx="617.6" cy="141.3" r="1.7"/><circle cx="619.9" cy="142.6" r="1.7"/><circle cx="516.1" cy="231.1" r="1.7"/><circle cx="413.8" cy="535.6" r="1.7"/><circle cx="512.6" cy="230.3" r="1.7"/><circle cx="134" cy="278" r="1.7"/><circle cx="506.3" cy="213.9" r="1.7"/><circle cx="516.6" cy="234.3" r="1.7"/><circle cx="147.7" cy="302" r="1.7"/><circle cx="327.7" cy="473.2" r="1.6"/><circle cx="509.6" cy="226" r="1.6"/><circle cx="520.5" cy="216.8" r="1.6"/><circle cx="332.9" cy="479" r="1.6"/><circle cx="538.3" cy="241.4" r="1.6"/><circle cx="528.5" cy="205.3" r="1.6"/><circle cx="523.6" cy="258.5" r="1.6"/><circle cx="452.8" cy="326.1" r="1.6"/><circle cx="533.6" cy="241.5" r="1.6"/><circle cx="395.5" cy="593.9" r="1.5"/><circle cx="300.3" cy="481.7" r="1.5"/><circle cx="147.3" cy="315.6" r="1.5"/><circle cx="398.9" cy="591.6" r="1.5"/><circle cx="144.2" cy="193.8" r="1.5"/><circle cx="130.7" cy="507.2" r="1.4"/><circle cx="367.9" cy="547.4" r="1.5"/><circle cx="325.9" cy="430.7" r="1.4"/><circle cx="329.3" cy="446.7" r="1.4"/><circle cx="484.2" cy="586.7" r="1.4"/><circle cx="478.1" cy="590.1" r="1.4"/><circle cx="130.7" cy="508.6" r="1.4"/><circle cx="282.1" cy="450" r="1.3"/><circle cx="326.2" cy="469.8" r="1.4"/><circle cx="453.2" cy="330.1" r="1.4"/><circle cx="167.9" cy="427.1" r="1.3"/><circle cx="546.6" cy="221.4" r="1.3"/><circle cx="505" cy="224" r="1.3"/><circle cx="561.1" cy="260.6" r="1.3"/><circle cx="147.7" cy="308.4" r="1.3"/><circle cx="144.8" cy="317.2" r="1.3"/><circle cx="393.8" cy="586.9" r="1.2"/><circle cx="624.4" cy="542.5" r="1.3"/><circle cx="149.7" cy="314.8" r="1.2"/><circle cx="388.4" cy="590.2" r="1.2"/><circle cx="162.7" cy="330.9" r="1.2"/><circle cx="502" cy="231.1" r="1.2"/><circle cx="330.3" cy="430.7" r="1.2"/><circle cx="363.2" cy="600.3" r="1.1"/><circle cx="539.1" cy="214.8" r="1.1"/><circle cx="619.6" cy="545.7" r="1.1"/><circle cx="324.5" cy="124.9" r="1.1"/></g>
</g>
<g fill="url(#g18)"><circle cx="536.2" cy="243" r="2.4"/><circle cx="449.5" cy="184.3" r="2.2"/><circle cx="412.9" cy="538.2" r="2.2"/><circle cx="412.3" cy="540" r="2.2"/><circle cx="317.2" cy="123.6" r="2.2"/><circle cx="398.4" cy="531.6" r="2"/><circle cx="510.3" cy="245.5" r="2"/><circle cx="279.1" cy="487.5" r="2"/><circle cx="521.6" cy="200.6" r="2"/><circle cx="475" cy="589.3" r="1.9"/><circle cx="528.3" cy="254.6" r="2"/><circle cx="307.6" cy="567.6" r="1.9"/><circle cx="214.3" cy="530.2" r="1.9"/><circle cx="543" cy="238.4" r="1.8"/><circle cx="283" cy="442.5" r="1.8"/><circle cx="235.8" cy="545.6" r="1.7"/><circle cx="400.7" cy="587.5" r="1.6"/><circle cx="146.2" cy="321.9" r="1.4"/><circle cx="368.6" cy="549.6" r="1.4"/><circle cx="282.7" cy="452.9" r="1.2"/><circle cx="638.4" cy="154.1" r="1.2"/><circle cx="281" cy="451.6" r="1.1"/><circle cx="122" cy="506.9" r="1.1"/><circle cx="745.7" cy="49" r="1.1"/></g>
<g fill="url(#g19)"><circle cx="151.2" cy="192.5" r="2.4"/><circle cx="318.9" cy="133.2" r="2.3"/><circle cx="292.2" cy="471.2" r="2.3"/><circle cx="318.8" cy="125" r="2.3"/><circle cx="262.2" cy="568.8" r="2.2"/><circle cx="131.8" cy="510.9" r="2.1"/><circle cx="286.7" cy="461.1" r="2.2"/><circle cx="287.9" cy="464.1" r="2.1"/><circle cx="408.1" cy="533.6" r="2.1"/><circle cx="266.5" cy="432" r="2"/><circle cx="306.2" cy="457.6" r="2.1"/><circle cx="284.8" cy="458.2" r="2.1"/><circle cx="144.7" cy="300.9" r="2.1"/><circle cx="221.3" cy="532.5" r="2"/><circle cx="465.9" cy="190.4" r="2"/><circle cx="525.1" cy="259" r="2"/><circle cx="148.9" cy="319.8" r="2"/><circle cx="538.5" cy="210.5" r="2"/><circle cx="163.3" cy="330.3" r="2"/><circle cx="454.1" cy="330.8" r="2"/><circle cx="520" cy="202.4" r="2"/><circle cx="625.9" cy="544.8" r="2"/><circle cx="472.9" cy="582.1" r="1.9"/><circle cx="320.1" cy="123.7" r="1.9"/><circle cx="307.2" cy="483.8" r="1.9"/><circle cx="391.6" cy="590.8" r="1.8"/><circle cx="331.8" cy="477" r="1.8"/><circle cx="286" cy="445.5" r="1.8"/><circle cx="747.1" cy="48.3" r="1.8"/><circle cx="157.7" cy="204.3" r="1.8"/><circle cx="222.3" cy="704.7" r="1.8"/><circle cx="472.2" cy="579.6" r="1.7"/><circle cx="271.5" cy="492.5" r="1.7"/><circle cx="544.8" cy="219.8" r="1.7"/><circle cx="532.6" cy="245.3" r="1.7"/><circle cx="278.1" cy="488.8" r="1.6"/><circle cx="286.3" cy="452.8" r="1.6"/><circle cx="321.3" cy="129.1" r="1.6"/><circle cx="637.4" cy="154" r="1.6"/><circle cx="636.2" cy="160.4" r="1.6"/><circle cx="173.2" cy="457.5" r="1.5"/><circle cx="620.3" cy="140.5" r="1.5"/><circle cx="331.5" cy="474.9" r="1.3"/><circle cx="325.7" cy="473.9" r="1.3"/><circle cx="748.3" cy="48.5" r="1.1"/><circle cx="279.1" cy="445.5" r="1.1"/><circle cx="566.3" cy="59.4" r="1.1"/><circle cx="326.3" cy="431.3" r="1.1"/><circle cx="637.7" cy="152.5" r="1.1"/></g>
<g fill="url(#g20)"><circle cx="412.7" cy="536.9" r="2.4"/><circle cx="532.2" cy="220.2" r="2.3"/><circle cx="306.3" cy="469.3" r="2.3"/><circle cx="523.8" cy="231.3" r="2.3"/><circle cx="215.4" cy="531.7" r="2.2"/><circle cx="320.7" cy="453.1" r="2.2"/><circle cx="490.2" cy="584.9" r="2.2"/><circle cx="290.2" cy="448" r="2.2"/><circle cx="207.2" cy="526.1" r="2.2"/><circle cx="561.5" cy="257" r="2.1"/><circle cx="458.7" cy="194.8" r="2.2"/><circle cx="179.8" cy="425.7" r="2.1"/><circle cx="306.9" cy="458.5" r="2.1"/><circle cx="458.8" cy="198.7" r="2.1"/><circle cx="454.7" cy="196.1" r="2.1"/><circle cx="503.3" cy="233.8" r="2.1"/><circle cx="319.6" cy="125.1" r="2.1"/><circle cx="429.7" cy="533" r="2"/><circle cx="433.5" cy="531" r="2.1"/><circle cx="321.7" cy="123.5" r="2.1"/><circle cx="271.3" cy="494.6" r="2.1"/><circle cx="515.1" cy="232.8" r="2.1"/><circle cx="454.2" cy="181.9" r="2"/><circle cx="625" cy="540.4" r="1.9"/><circle cx="323" cy="429.4" r="1.9"/><circle cx="540.2" cy="218.7" r="1.9"/><circle cx="263.7" cy="432.6" r="1.7"/><circle cx="371.1" cy="548.9" r="1.5"/><circle cx="331.1" cy="478" r="1.4"/><circle cx="270.7" cy="492.8" r="1.4"/><circle cx="610" cy="177.6" r="1.3"/><circle cx="562.6" cy="53.8" r="1.2"/><circle cx="329.4" cy="430.3" r="1.1"/><circle cx="623.7" cy="135.2" r="1.1"/><circle cx="619.3" cy="142.4" r="1.1"/></g>
<g fill="url(#g21)"><circle cx="308.1" cy="464.7" r="2.4"/><circle cx="227.3" cy="535.7" r="2.4"/><circle cx="319.9" cy="444" r="2.2"/><circle cx="480.3" cy="589.7" r="2.1"/><circle cx="221.5" cy="532.8" r="2.1"/><circle cx="284.2" cy="458.7" r="2.2"/><circle cx="278.5" cy="444" r="2"/><circle cx="283.8" cy="452.2" r="2"/><circle cx="311.7" cy="443.5" r="2.1"/><circle cx="272.5" cy="492" r="2"/><circle cx="293.2" cy="770.2" r="2"/><circle cx="168" cy="426.3" r="2.1"/><circle cx="392.2" cy="593.7" r="2"/><circle cx="514.5" cy="230.5" r="1.9"/><circle cx="566" cy="58" r="1.8"/><circle cx="619.1" cy="141.4" r="1.8"/><circle cx="369.3" cy="548.4" r="1.8"/><circle cx="327.6" cy="474.1" r="1.6"/><circle cx="562.6" cy="54.8" r="1.6"/><circle cx="623.3" cy="136" r="1.6"/><circle cx="614.2" cy="167.5" r="1.6"/><circle cx="608.2" cy="177.9" r="1.6"/><circle cx="607.9" cy="178.6" r="1.4"/><circle cx="282.2" cy="457.5" r="1.3"/><circle cx="614.3" cy="166.6" r="1.1"/><circle cx="370.4" cy="548.8" r="1.1"/></g>
<g fill="url(#g22)"><circle cx="290.8" cy="451" r="2.3"/><circle cx="309.7" cy="442.5" r="2.3"/><circle cx="296.9" cy="472.8" r="2.3"/><circle cx="314" cy="449.7" r="2.3"/><circle cx="316.8" cy="454.6" r="2.3"/><circle cx="317.8" cy="427.7" r="2.2"/><circle cx="563.1" cy="260.8" r="2.2"/><circle cx="309.3" cy="444.5" r="2.2"/><circle cx="452.3" cy="330.3" r="2.2"/><circle cx="491.8" cy="586.5" r="2.1"/><circle cx="287.7" cy="460.7" r="2.1"/><circle cx="458.2" cy="8.3" r="2"/><circle cx="60.9" cy="741" r="2"/><circle cx="333.2" cy="473.2" r="2"/><circle cx="269.5" cy="435" r="2"/><circle cx="328" cy="472.5" r="2"/><circle cx="508.2" cy="222.7" r="1.9"/><circle cx="518.3" cy="213.7" r="1.9"/><circle cx="131.6" cy="509.5" r="1.8"/><circle cx="330.4" cy="474.2" r="1.8"/><circle cx="328" cy="431.2" r="1.8"/><circle cx="328.6" cy="473.5" r="1.6"/><circle cx="282.2" cy="485.2" r="1.5"/><circle cx="285.3" cy="450.7" r="1.3"/><circle cx="272.5" cy="489.3" r="1.3"/></g>
<g fill="url(#g23)"><circle cx="291.8" cy="470.6" r="2.3"/><circle cx="318.4" cy="448.5" r="2.4"/><circle cx="322.5" cy="441.3" r="2.4"/><circle cx="291.2" cy="467.7" r="2.3"/><circle cx="301.5" cy="459.4" r="2.3"/><circle cx="281.5" cy="448.5" r="2.3"/><circle cx="287.5" cy="456" r="2.3"/><circle cx="316.9" cy="440.4" r="2.3"/><circle cx="298" cy="475.5" r="2.3"/><circle cx="292" cy="467.6" r="2.3"/><circle cx="459.4" cy="196.4" r="2.3"/><circle cx="521.3" cy="231.4" r="2.2"/><circle cx="292.9" cy="459.2" r="2.2"/><circle cx="293.2" cy="453.7" r="2.2"/><circle cx="300.5" cy="472" r="2.2"/><circle cx="296.1" cy="465.8" r="2.2"/><circle cx="299.4" cy="454.1" r="2.2"/><circle cx="304.2" cy="447.8" r="2.1"/><circle cx="492" cy="591.4" r="2.1"/><circle cx="292.5" cy="467.9" r="2.1"/><circle cx="454.6" cy="198" r="2"/><circle cx="302.6" cy="458.7" r="2.1"/><circle cx="274.8" cy="486.8" r="2"/><circle cx="328.8" cy="466.5" r="2"/><circle cx="272.5" cy="438" r="2"/><circle cx="318.2" cy="432.8" r="2"/><circle cx="275.5" cy="441" r="2"/><circle cx="618.4" cy="137.2" r="2"/><circle cx="29.7" cy="311" r="2"/><circle cx="153.1" cy="314.4" r="1.8"/><circle cx="326.5" cy="469.5" r="1.8"/><circle cx="615.5" cy="138.9" r="1.8"/><circle cx="611.3" cy="168.7" r="1.8"/><circle cx="773.4" cy="768.5" r="1.8"/><circle cx="340" cy="133.6" r="1.8"/><circle cx="334" cy="466.5" r="1.8"/><circle cx="166.2" cy="327.8" r="1.6"/><circle cx="268" cy="431.2" r="1.5"/><circle cx="333.2" cy="440.2" r="1.3"/></g>
<g fill="url(#g24)"><circle cx="295" cy="456" r="4.5"/><circle cx="308.2" cy="451.5" r="4.5"/><circle cx="139.4" cy="287.1" r="4.4"/><circle cx="325" cy="445.5" r="4.2"/><circle cx="375.4" cy="595.2" r="4.1"/><circle cx="488.7" cy="588.7" r="4.1"/><circle cx="527.7" cy="218.2" r="3.9"/><circle cx="526.5" cy="226.7" r="3.9"/><circle cx="307" cy="474" r="3.9"/><circle cx="295" cy="469.5" r="3.9"/><circle cx="319" cy="441" r="3.9"/><circle cx="304.8" cy="456.8" r="3.7"/><circle cx="463.1" cy="187.7" r="3.7"/><circle cx="311.5" cy="462" r="3.7"/><circle cx="301.8" cy="471" r="3.7"/><circle cx="322" cy="450" r="3.7"/><circle cx="302.5" cy="475.5" r="3.5"/><circle cx="313.3" cy="453.8" r="3.5"/><circle cx="519.2" cy="231.8" r="3.3"/><circle cx="454.3" cy="199" r="3.3"/><circle cx="135.3" cy="284" r="3.2"/><circle cx="323" cy="448.5" r="3.2"/><circle cx="454.1" cy="204.8" r="3.2"/><circle cx="317.6" cy="448.5" r="3.1"/><circle cx="292" cy="458.9" r="3.2"/><circle cx="321.3" cy="443" r="3.1"/><circle cx="455.4" cy="205.5" r="3"/><circle cx="536.5" cy="223.5" r="3.1"/><circle cx="458.5" cy="198.2" r="3"/><circle cx="304.3" cy="451.8" r="3"/><circle cx="131.6" cy="505.8" r="3"/><circle cx="458.6" cy="200.6" r="3"/><circle cx="456.1" cy="203.5" r="2.9"/><circle cx="520.4" cy="227.5" r="2.9"/><circle cx="132.3" cy="281" r="2.8"/><circle cx="624" cy="65" r="2.8"/><circle cx="531.7" cy="218.7" r="2.9"/><circle cx="563.8" cy="56.5" r="2.7"/><circle cx="294.2" cy="458.1" r="2.6"/><circle cx="307.2" cy="451.4" r="2.6"/><circle cx="325.8" cy="428.2" r="2.5"/><circle cx="614.7" cy="162.1" r="2.5"/><circle cx="308.2" cy="466.7" r="2.4"/><circle cx="130.4" cy="502.1" r="2.3"/><circle cx="337.8" cy="466.5" r="2.1"/><circle cx="283.3" cy="451.7" r="2.1"/><circle cx="319.5" cy="426.3" r="2"/><circle cx="278.5" cy="445.1" r="1.9"/><circle cx="342.5" cy="131.6" r="1.8"/><circle cx="171.7" cy="426.7" r="1.8"/><circle cx="368.9" cy="547.8" r="1.7"/><circle cx="303.4" cy="476.2" r="1.7"/><circle cx="361.8" cy="601.2" r="1.7"/><circle cx="292" cy="443.2" r="1.6"/><circle cx="309.2" cy="468" r="1.6"/><circle cx="322" cy="438" r="1.6"/><circle cx="461.9" cy="184" r="1.5"/><circle cx="512.6" cy="219.1" r="1.5"/><circle cx="622.9" cy="136.2" r="1.5"/><circle cx="147.6" cy="192.7" r="1.5"/><circle cx="561.5" cy="261.2" r="1.4"/><circle cx="317.7" cy="427.8" r="1.4"/></g>
<g fill="url(#g25)"><ellipse cx="375" cy="595.8" rx="11.9" ry="3.1" transform="rotate(-9 375 595.8)"/><circle cx="456.5" cy="192.6" r="4.8"/><circle cx="292" cy="463.5" r="4.5"/><circle cx="305.5" cy="466.5" r="4.2"/><circle cx="533.8" cy="220.6" r="4.1"/><circle cx="381.5" cy="594.8" r="4.1"/><circle cx="316" cy="448.5" r="3.9"/><circle cx="525.3" cy="219.7" r="3.8"/><circle cx="618" cy="68.5" r="3.7"/><circle cx="622.3" cy="68" r="3.7"/><circle cx="313" cy="454.5" r="3.7"/><circle cx="289.8" cy="462" r="3.7"/><circle cx="308.4" cy="452.8" r="3.7"/><circle cx="300.7" cy="471.7" r="3.5"/><circle cx="456.3" cy="195" r="3.3"/><ellipse cx="210.4" cy="677.1" rx="3.3" ry="2.1" transform="rotate(0 210.4 677.1)"/><circle cx="132.4" cy="282.1" r="3.2"/><circle cx="618.2" cy="64.2" r="3.1"/><circle cx="486.9" cy="592.7" r="3.2"/><circle cx="589.9" cy="52.4" r="3"/><circle cx="604.5" cy="171.4" r="3"/><circle cx="599.6" cy="747.1" r="3"/><circle cx="568.2" cy="166.2" r="2.7"/><circle cx="619.1" cy="82.1" r="2.7"/><circle cx="617.9" cy="172.6" r="2.7"/><circle cx="308.5" cy="455.2" r="2.5"/><circle cx="410" cy="75.6" r="2.5"/><circle cx="616" cy="87.8" r="2.5"/><circle cx="610.6" cy="100.4" r="2.5"/><circle cx="603.8" cy="101.6" r="2.5"/><circle cx="602.1" cy="151.1" r="2.5"/><circle cx="609.4" cy="175.5" r="2.5"/><circle cx="704.2" cy="364.6" r="2.5"/><circle cx="306.3" cy="472.6" r="2.5"/><circle cx="617.4" cy="93.8" r="2.2"/><circle cx="630.1" cy="140.9" r="2.2"/><circle cx="442.4" cy="209.1" r="2.2"/><circle cx="558.2" cy="311.3" r="2.2"/><circle cx="358.3" cy="461.7" r="2.2"/><circle cx="297.2" cy="431.2" r="1.8"/><circle cx="286" cy="437.2" r="1.8"/><circle cx="296.5" cy="447.8" r="1.8"/><circle cx="318.2" cy="457.5" r="1.8"/><circle cx="325" cy="456" r="1.8"/><circle cx="301.8" cy="471" r="1.6"/><circle cx="295" cy="466.5" r="1.6"/><circle cx="463.1" cy="187.7" r="1.6"/><circle cx="465.6" cy="185.2" r="1.6"/></g>
<g fill="url(#g26)"><ellipse cx="382" cy="594.5" rx="5.4" ry="2.7" transform="rotate(-8 382 594.5)"/><circle cx="302.5" cy="450" r="4.4"/><circle cx="299.5" cy="437.2" r="4.4"/><circle cx="521.6" cy="229.1" r="4.1"/><circle cx="310" cy="444" r="3.9"/><circle cx="304" cy="457.5" r="3.9"/><circle cx="299.5" cy="471" r="3.9"/><circle cx="295" cy="442.5" r="3.9"/><circle cx="613.3" cy="75" r="3.7"/><circle cx="616.5" cy="72.8" r="3.7"/><circle cx="616.5" cy="78.2" r="3.7"/><circle cx="620" cy="73" r="3.7"/><circle cx="620" cy="78.6" r="3.7"/><circle cx="623.5" cy="73.4" r="3.7"/><circle cx="623.5" cy="78" r="3.7"/><circle cx="525.3" cy="240.1" r="3.6"/><circle cx="627.2" cy="75.6" r="3.5"/><circle cx="456.8" cy="200.4" r="3.3"/><circle cx="456.8" cy="197.4" r="3.3"/><circle cx="441.2" cy="214" r="2.7"/><circle cx="322" cy="444.3" r="2.2"/><circle cx="285.2" cy="450" r="1.7"/><circle cx="304.8" cy="456.8" r="1.6"/></g>
<g fill="url(#g27)"><circle cx="621.5" cy="63.2" r="3.8"/><circle cx="457" cy="203.3" r="3.3"/></g>
<g fill="url(#g31)"><circle cx="308.3" cy="451" r="3"/><circle cx="627.7" cy="76" r="2.7"/></g>
<g fill="url(#g32)"><circle cx="457.3" cy="206.2" r="3.3"/><circle cx="306.5" cy="446.5" r="3"/><circle cx="590.4" cy="63.9" r="3"/><circle cx="621.1" cy="90.2" r="3"/><circle cx="613.8" cy="179.2" r="3"/><circle cx="298" cy="467" r="2.8"/><circle cx="308.1" cy="447.8" r="2.8"/><circle cx="606.5" cy="156" r="2.7"/><circle cx="188.2" cy="339.3" r="2.7"/><circle cx="428.5" cy="227.9" r="2.7"/><circle cx="465.8" cy="635" r="2.7"/><circle cx="326.5" cy="442.5" r="2.3"/><circle cx="477.8" cy="561.8" r="2.2"/><circle cx="314.5" cy="445.2" r="2.1"/><circle cx="273.2" cy="444.3" r="2.1"/></g>
<g fill="url(#g33)"><circle cx="316" cy="435.7" r="2.4"/></g>
<g fill="url(#g34)"><circle cx="296" cy="462.5" r="3.5"/><circle cx="303" cy="465" r="3.5"/><circle cx="35.8" cy="108.2" r="3.3"/><circle cx="298.5" cy="444" r="3.2"/><circle cx="457.5" cy="209.1" r="3.3"/><circle cx="198.7" cy="333.9" r="3"/><circle cx="410" cy="285.2" r="3"/><circle cx="444.1" cy="123.1" r="3"/><circle cx="745.1" cy="21.9" r="3"/><circle cx="298" cy="441" r="2.8"/><circle cx="302.5" cy="444.8" r="2.8"/><circle cx="295" cy="462.8" r="2.8"/><circle cx="266.4" cy="376.1" r="2.7"/><circle cx="578.9" cy="163.3" r="2.7"/><circle cx="109.4" cy="477.5" r="2.7"/><circle cx="337.8" cy="424.2" r="2.5"/><circle cx="617.3" cy="65" r="2.2"/></g>
<g fill="url(#g35)"><ellipse cx="330.3" cy="535.6" rx="8" ry="5" transform="rotate(75 330.3 535.6)"/><circle cx="299.5" cy="463.5" r="4.8"/><circle cx="331" cy="539" r="4.8"/></g>
<g fill="url(#g36)"><circle cx="330" cy="533" r="5"/><circle cx="301" cy="442" r="4.8"/><circle cx="300.2" cy="442.5" r="4.2"/><ellipse cx="240.8" cy="423.5" rx="4" ry="2.1" transform="rotate(0 240.8 423.5)"/><ellipse cx="560.6" cy="292" rx="3.8" ry="2.3" transform="rotate(0 560.6 292)"/><circle cx="303.5" cy="439.5" r="3.7"/><circle cx="184" cy="334.7" r="3.3"/><circle cx="397.3" cy="198.7" r="3.3"/><circle cx="273" cy="752.7" r="3.3"/><circle cx="137" cy="635.7" r="3"/><circle cx="170.6" cy="752" r="3"/><circle cx="269.5" cy="444.8" r="2.5"/></g>
<g fill="url(#g37)"><ellipse cx="625" cy="74.9" rx="4.1" ry="2.1" transform="rotate(0 625 74.9)"/><circle cx="331" cy="541" r="1.6"/></g>
<g fill="url(#g38)"><ellipse cx="449" cy="20.7" rx="5.7" ry="2.4" transform="rotate(45 449 20.7)"/><ellipse cx="25.6" cy="479" rx="3.5" ry="2.8" transform="rotate(0 25.6 479)"/><circle cx="331.7" cy="443.7" r="2.8"/><circle cx="265.8" cy="443.2" r="2.1"/></g>
<g fill="url(#g39)"><circle cx="333.1" cy="536.3" r="1.7"/></g>
<g fill="url(#g40)"><ellipse cx="628.4" cy="146.2" rx="5.7" ry="2.6" transform="rotate(8 628.4 146.2)"/><circle cx="506.5" cy="327.8" r="3.5"/><circle cx="367.6" cy="645.5" r="3.5"/><circle cx="332.4" cy="519.1" r="3.2"/><circle cx="375.9" cy="325.6" r="3.3"/><circle cx="381.5" cy="361.5" r="3.3"/><circle cx="621.1" cy="377.3" r="3.3"/><circle cx="522.8" cy="357.1" r="3"/><circle cx="331.8" cy="443.7" r="2.8"/><circle cx="656.4" cy="261.5" r="2.7"/></g>
<g fill="url(#g41)"><circle cx="580.9" cy="160.9" r="4.1"/></g>
<g fill="url(#g42)"><ellipse cx="299.3" cy="710" rx="5.7" ry="2.9" transform="rotate(8 299.3 710)"/><circle cx="441.9" cy="289.6" r="3.8"/><circle cx="373.7" cy="326.6" r="3.3"/></g>
<g fill="url(#g43)"><ellipse cx="608.2" cy="145.8" rx="6" ry="3" transform="rotate(25 608.2 145.8)"/><ellipse cx="617.5" cy="75.2" rx="5.4" ry="3.3" transform="rotate(0 617.5 75.2)"/><circle cx="377.8" cy="324.7" r="3.3"/><circle cx="352.3" cy="411.8" r="2.3"/><circle cx="355.3" cy="411.8" r="2.3"/></g>
<g fill="url(#g44)"><ellipse cx="569.9" cy="374.2" rx="5.2" ry="2.6" transform="rotate(-40 569.9 374.2)"/><circle cx="457.8" cy="212.6" r="3.3"/></g>
<g fill="url(#g46)"><circle cx="304" cy="435.8" r="2.5"/><circle cx="308.8" cy="440.2" r="2.5"/></g>
<g fill="url(#g48)"><ellipse cx="306.2" cy="437.6" rx="3.9" ry="3.1" transform="rotate(-20 306.2 437.6)"/></g>
<g fill="url(#g50)"><ellipse cx="306.2" cy="437.7" rx="4.5" ry="3.6" transform="rotate(-20 306.2 437.7)"/><circle cx="328.8" cy="530.2" r="3.5"/><circle cx="263.2" cy="446.2" r="3.1"/></g>
<g fill="url(#g11)"><circle cx="94.2" cy="233" r="2.9"/><circle cx="38.4" cy="243.1" r="2.1"/><circle cx="307.1" cy="136.5" r="2.1"/><circle cx="309.6" cy="141.4" r="2.5"/><circle cx="299.8" cy="153.6" r="2.1"/><circle cx="349.8" cy="173.5" r="2.5"/><circle cx="438.8" cy="120.7" r="2.5"/><circle cx="399.8" cy="138.4" r="2.4"/><circle cx="393.7" cy="170.6" r="2.5"/><circle cx="429" cy="182.8" r="2.1"/><circle cx="416.8" cy="187.7" r="2.1"/><circle cx="410.7" cy="186.5" r="1.7"/><circle cx="405.8" cy="190.1" r="2.1"/><circle cx="414.4" cy="192.6" r="1.7"/><circle cx="482.6" cy="175.5" r="2.1"/><circle cx="486.3" cy="174.3" r="1.7"/><circle cx="481.4" cy="181.6" r="2.1"/><circle cx="475.3" cy="193.8" r="1.7"/><circle cx="590.4" cy="7.3" r="2.5"/><circle cx="661.8" cy="97" r="2.9"/><circle cx="626.4" cy="151.6" r="1.3"/><circle cx="608.2" cy="160.9" r="1.1"/><circle cx="38.5" cy="243.3" r="2.1"/><circle cx="154" cy="336.4" r="2.1"/><circle cx="171.8" cy="328.6" r="1.3"/><circle cx="174.3" cy="332.7" r="1.3"/><circle cx="137.7" cy="349" r="2.1"/><circle cx="138.2" cy="361.5" r="1.7"/><circle cx="319.3" cy="204.8" r="2.1"/><circle cx="321.8" cy="198.7" r="2.5"/><circle cx="327.8" cy="197.4" r="2.5"/><circle cx="342.5" cy="207.2" r="2.5"/><circle cx="346.1" cy="197.4" r="2.1"/><circle cx="352.2" cy="257.2" r="1.7"/><circle cx="338.8" cy="242.5" r="2.1"/><circle cx="197.4" cy="341.2" r="2.1"/><circle cx="198.7" cy="354.7" r="2.1"/><circle cx="197.4" cy="362" r="2.1"/><circle cx="264" cy="389.5" r="1.3"/><circle cx="594.8" cy="294.9" r="2.1"/><circle cx="592.3" cy="305.9" r="2.1"/><circle cx="605.7" cy="318.8" r="2.1"/><circle cx="594.3" cy="356.4" r="2.1"/><circle cx="611.3" cy="368.5" r="1.7"/><circle cx="406.6" cy="296.2" r="2.1"/><circle cx="446.1" cy="316.9" r="1.7"/><circle cx="447.8" cy="320.5" r="1.7"/><circle cx="402.2" cy="212.1" r="2.9"/><circle cx="407.1" cy="209.6" r="2.5"/><circle cx="403.4" cy="219.4" r="2.5"/><circle cx="424.1" cy="221.8" r="2.5"/><circle cx="420.5" cy="227.9" r="2.9"/><circle cx="433.9" cy="221.8" r="2.9"/><circle cx="438.8" cy="226.7" r="2.9"/><circle cx="452.2" cy="234" r="2.5"/><circle cx="455.8" cy="237.7" r="2.5"/><circle cx="446.1" cy="235.2" r="2.5"/><circle cx="476.5" cy="240.1" r="2.1"/><circle cx="469.2" cy="238.9" r="2.1"/><circle cx="447.3" cy="216.9" r="2.1"/><circle cx="437.5" cy="204.8" r="2.1"/><circle cx="446.1" cy="199.9" r="2.5"/><circle cx="479" cy="201.1" r="2.1"/><circle cx="496" cy="247.4" r="1.7"/><circle cx="499.7" cy="259.6" r="3.3"/><circle cx="563.1" cy="226.7" r="2.1"/><circle cx="555.8" cy="273" r="2.1"/><circle cx="581.3" cy="294.9" r="2.1"/><circle cx="553.3" cy="320.5" r="2.1"/><circle cx="565.5" cy="297.4" r="2.1"/><circle cx="544.8" cy="304.7" r="2.1"/><circle cx="571.6" cy="303.5" r="2.1"/><circle cx="113.3" cy="500.9" r="2.5"/><circle cx="134.1" cy="494.8" r="1.3"/><circle cx="112.1" cy="504.6" r="2.1"/><circle cx="151.1" cy="396.1" r="2.1"/><circle cx="160.9" cy="449.7" r="2.1"/><circle cx="153.6" cy="463.1" r="2.1"/><circle cx="165.8" cy="470.4" r="2.1"/><circle cx="180.4" cy="468" r="2.1"/><circle cx="187.7" cy="443.6" r="2.1"/><circle cx="185.2" cy="448.5" r="1.7"/><circle cx="177.9" cy="446.1" r="2.1"/><circle cx="170.6" cy="450.9" r="2.1"/><circle cx="182.8" cy="479" r="1.7"/><circle cx="159.7" cy="498.5" r="2.1"/><circle cx="177.9" cy="524.1" r="2.9"/><circle cx="475.3" cy="499.7" r="1.7"/><circle cx="488.7" cy="515.5" r="2.1"/><circle cx="446.1" cy="550.9" r="2.1"/><circle cx="448.5" cy="541.1" r="2.1"/><circle cx="416.8" cy="554.5" r="1.7"/><circle cx="392.4" cy="558.2" r="2.1"/><circle cx="455.8" cy="536.2" r="2.1"/><circle cx="460.7" cy="533.8" r="2.1"/><circle cx="465.6" cy="542.3" r="2.1"/><circle cx="510.7" cy="519.2" r="2.1"/><circle cx="536.2" cy="541.1" r="2.5"/><circle cx="546" cy="521.6" r="2.1"/><circle cx="538.7" cy="528.9" r="2.5"/><circle cx="531.4" cy="536.2" r="2.5"/><circle cx="521.6" cy="564.3" r="2.5"/><circle cx="494.8" cy="577.7" r="2.1"/><circle cx="504.6" cy="577.7" r="2.1"/><circle cx="448.5" cy="571.6" r="2.1"/><circle cx="431.4" cy="571.6" r="2.1"/><circle cx="444.8" cy="565.5" r="1.7"/><circle cx="459.5" cy="565.5" r="1.7"/><circle cx="481.4" cy="565.5" r="1.7"/><circle cx="616.2" cy="526" r="1.5"/><circle cx="616.7" cy="550.9" r="1.7"/><circle cx="587.9" cy="554.5" r="2.1"/><circle cx="599.6" cy="567.9" r="1.5"/><circle cx="136.5" cy="639.1" r="1.5"/><circle cx="287.6" cy="586.2" r="2.5"/><circle cx="313.2" cy="588.7" r="2.5"/><circle cx="321.8" cy="587.4" r="1.7"/><circle cx="363.2" cy="591.1" r="1.7"/><circle cx="385.1" cy="600.8" r="2.1"/><circle cx="387.6" cy="605.7" r="1.7"/><circle cx="326.6" cy="617.9" r="2.9"/><circle cx="441.2" cy="621.6" r="2.1"/><circle cx="459.5" cy="617.9" r="2.1"/><circle cx="463.1" cy="604" r="2.9"/><circle cx="544.8" cy="601.6" r="2.1"/><circle cx="514.3" cy="604.5" r="2.9"/><circle cx="513.1" cy="602.1" r="2.1"/><circle cx="440" cy="586.2" r="1.3"/><circle cx="208.4" cy="419.2" r="3.3"/><circle cx="199.9" cy="421.7" r="2.9"/><circle cx="210.8" cy="449.7" r="3.3"/><circle cx="216.9" cy="454.6" r="2.9"/><circle cx="229.1" cy="489.9" r="2.9"/><circle cx="199.9" cy="497.2" r="2.5"/><circle cx="221.8" cy="497.2" r="2.5"/><circle cx="247.4" cy="500.9" r="2.5"/><circle cx="238.9" cy="504.6" r="2.9"/><circle cx="231.6" cy="497.2" r="2.5"/><circle cx="260.8" cy="521.6" r="2.9"/><circle cx="268.1" cy="516.8" r="2.5"/><circle cx="235.2" cy="524.1" r="3.3"/><circle cx="255.9" cy="533.8" r="2.9"/><circle cx="265.7" cy="536.2" r="2.9"/><circle cx="204.8" cy="548.4" r="2.5"/><circle cx="331.5" cy="582.6" r="2.1"/><circle cx="292.5" cy="520.4" r="2.9"/><circle cx="321.8" cy="530.2" r="2.5"/><circle cx="347.3" cy="558.2" r="2.1"/><circle cx="375.4" cy="508.2" r="2.5"/><circle cx="382.7" cy="503.3" r="2.1"/><circle cx="387.6" cy="507" r="2.1"/><circle cx="360.8" cy="520.4" r="2.1"/><circle cx="360.8" cy="546" r="2.1"/><circle cx="365.6" cy="567.9" r="2.9"/><circle cx="372.9" cy="572.8" r="2.9"/><circle cx="253.5" cy="460.7" r="1.7"/><circle cx="262" cy="466.8" r="1.3"/><circle cx="298" cy="412.5" r="2"/><circle cx="341.5" cy="429" r="2.2"/><circle cx="307" cy="427.5" r="2.2"/><circle cx="302.5" cy="427.5" r="1.8"/><circle cx="290.5" cy="508.5" r="2"/><circle cx="254.5" cy="495" r="3.1"/><circle cx="266.5" cy="516" r="3"/><circle cx="253" cy="522" r="3"/><circle cx="368.5" cy="510" r="2.2"/><circle cx="336.9" cy="544.4" r="1"/><circle cx="407" cy="137.4" r="1.9"/><circle cx="408.3" cy="142.5" r="1.8"/><circle cx="417.4" cy="548.8" r="1.9"/><circle cx="417.1" cy="553.2" r="2.4"/><circle cx="421.7" cy="545.7" r="2.3"/><circle cx="430.1" cy="544" r="2.1"/><circle cx="438.3" cy="547.6" r="1.8"/><circle cx="427.2" cy="536.8" r="2.4"/><circle cx="281.4" cy="576.5" r="2.5"/><circle cx="291.6" cy="577.7" r="2"/><circle cx="208.9" cy="484.8" r="2.5"/></g>
<g fill="url(#g12)"><circle cx="130" cy="253.5" r="2.4"/><circle cx="384.6" cy="145.8" r="2.1"/><circle cx="407.1" cy="140.2" r="2.4"/><circle cx="403.4" cy="171.8" r="3.3"/><circle cx="422.9" cy="185.2" r="2.1"/><circle cx="500.9" cy="187.7" r="2.1"/><circle cx="109.7" cy="287.1" r="2.3"/><circle cx="118.7" cy="301.8" r="2.5"/><circle cx="136" cy="355.4" r="2.3"/><circle cx="188.9" cy="355.9" r="2.1"/><circle cx="311.5" cy="225.5" r="2.1"/><circle cx="198.7" cy="327.8" r="3.3"/><circle cx="201.1" cy="348.6" r="2.5"/><circle cx="199.9" cy="376.6" r="3.3"/><circle cx="599.6" cy="324.2" r="2.5"/><circle cx="616.2" cy="372.9" r="2.1"/><circle cx="410.7" cy="301" r="2.1"/><circle cx="580.9" cy="329.1" r="2.9"/><circle cx="414.4" cy="220.6" r="2.9"/><circle cx="420.5" cy="215.7" r="2.9"/><circle cx="443.6" cy="224.2" r="2.9"/><circle cx="448.5" cy="229.1" r="2.9"/><circle cx="450.9" cy="206" r="2.5"/><circle cx="487.5" cy="204.8" r="2.5"/><circle cx="496" cy="207.2" r="2.1"/><circle cx="550.9" cy="236.4" r="2.1"/><circle cx="538.7" cy="206" r="2.5"/><circle cx="546" cy="214.5" r="2.1"/><circle cx="553.3" cy="247.4" r="2.1"/><circle cx="575.2" cy="290.1" r="2.1"/><circle cx="546" cy="314.4" r="2.1"/><circle cx="118.2" cy="497.2" r="2.1"/><circle cx="165.8" cy="414.4" r="2.1"/><circle cx="186.5" cy="403.4" r="2.5"/><circle cx="149.2" cy="435.1" r="1.7"/><circle cx="154.8" cy="454.6" r="2.1"/><circle cx="158.4" cy="468" r="2.1"/><circle cx="168.2" cy="482.6" r="2.1"/><circle cx="192.6" cy="489.9" r="2.5"/><circle cx="181.6" cy="531.4" r="2.9"/><circle cx="468" cy="500.9" r="2.1"/><circle cx="437.5" cy="505.8" r="2.5"/><circle cx="448.5" cy="526.5" r="2.1"/><circle cx="458.2" cy="509.4" r="2.1"/><circle cx="483.8" cy="515.5" r="3.3"/><circle cx="411.9" cy="571.6" r="2.1"/><circle cx="463.1" cy="550.9" r="2.5"/><circle cx="522.8" cy="533.8" r="2.9"/><circle cx="499.7" cy="526.5" r="2.5"/><circle cx="497.2" cy="531.4" r="2.5"/><circle cx="548.4" cy="531.4" r="2.5"/><circle cx="546" cy="546" r="2.5"/><circle cx="541.1" cy="550.9" r="2.9"/><circle cx="533.8" cy="550.9" r="2.9"/><circle cx="526.5" cy="553.3" r="3.3"/><circle cx="514.3" cy="567.9" r="2.5"/><circle cx="487.5" cy="578.9" r="2.5"/><circle cx="453.4" cy="564.3" r="2.1"/><circle cx="566.7" cy="575.2" r="2.1"/><circle cx="591.8" cy="548.9" r="2.1"/><circle cx="280.3" cy="587.4" r="3.3"/><circle cx="397.3" cy="608.2" r="2.1"/><circle cx="260.8" cy="507" r="2.9"/><circle cx="241.3" cy="516.8" r="3.3"/><circle cx="251.1" cy="519.2" r="3.3"/><circle cx="246.2" cy="531.4" r="3.3"/><circle cx="229.1" cy="565.5" r="3.3"/><circle cx="236.4" cy="572.8" r="3.3"/><circle cx="243.8" cy="577.7" r="3.3"/><circle cx="291.3" cy="564.3" r="2.5"/><circle cx="319.3" cy="571.6" r="2.5"/><circle cx="298.6" cy="522.8" r="2.9"/><circle cx="310.8" cy="524.1" r="2.5"/><circle cx="369.3" cy="510.7" r="2.5"/><circle cx="380.2" cy="550.9" r="2.5"/><circle cx="388.8" cy="538.7" r="2.1"/><circle cx="375.4" cy="558.2" r="3.3"/><circle cx="370.5" cy="563.1" r="3.3"/><circle cx="385.1" cy="570.4" r="2.9"/><circle cx="281.5" cy="509.4" r="2.9"/><circle cx="270.6" cy="497.2" r="2.1"/><circle cx="282.8" cy="482.6" r="3.3"/><circle cx="277.9" cy="483.8" r="2.1"/><circle cx="257.2" cy="463.1" r="1.5"/><circle cx="255.9" cy="468" r="1.5"/><circle cx="284" cy="466.8" r="1.3"/><circle cx="288.8" cy="472.9" r="1.5"/><circle cx="289" cy="423" r="2.5"/><circle cx="301" cy="420" r="2.7"/><circle cx="316" cy="472.5" r="2.2"/><circle cx="284.5" cy="481.5" r="3.1"/><circle cx="280" cy="495" r="3"/><circle cx="284.5" cy="507" r="2.2"/><circle cx="254.5" cy="460.5" r="1.5"/><circle cx="259" cy="465" r="1.5"/><circle cx="260.5" cy="470.2" r="1.5"/><circle cx="283.8" cy="467.2" r="1.5"/><circle cx="282.2" cy="457.5" r="1.2"/><circle cx="259" cy="502.5" r="3.1"/><circle cx="617" cy="69.5" r="1.3"/><circle cx="402.3" cy="135.4" r="2"/><circle cx="398.5" cy="136.2" r="2"/><circle cx="407.7" cy="136" r="2.4"/><circle cx="404.1" cy="143.2" r="1.9"/><circle cx="397.8" cy="166.8" r="2.2"/><circle cx="398" cy="549.2" r="2"/><circle cx="418.9" cy="545.9" r="2.2"/><circle cx="425.7" cy="549.2" r="2.6"/><circle cx="422.1" cy="545.9" r="2.2"/><circle cx="436.2" cy="553.6" r="2.4"/><circle cx="481.1" cy="544.7" r="1.8"/><circle cx="481.4" cy="548.2" r="2.3"/><circle cx="503.9" cy="533.5" r="2"/><circle cx="509.7" cy="527.4" r="2.4"/><circle cx="528.3" cy="522.4" r="2.4"/><circle cx="521.1" cy="524.9" r="1.7"/><circle cx="430.1" cy="535.2" r="2.5"/><circle cx="411.8" cy="539.7" r="2.2"/><circle cx="438.5" cy="526.2" r="2.5"/><circle cx="199.6" cy="523.8" r="2.4"/><circle cx="221" cy="530.5" r="1.7"/><circle cx="218" cy="529.4" r="1.7"/><circle cx="227.7" cy="536.6" r="2.2"/><circle cx="227.6" cy="543.8" r="2.3"/><circle cx="236.1" cy="552.9" r="1.7"/><circle cx="264.3" cy="565" r="2"/><circle cx="261.5" cy="561.4" r="2.2"/><circle cx="287.6" cy="578.8" r="2.4"/><circle cx="295.1" cy="567.8" r="2.6"/><circle cx="304.5" cy="567" r="1.7"/><circle cx="314.1" cy="569.4" r="2.3"/><circle cx="194.2" cy="474.3" r="1.8"/><circle cx="189.5" cy="469.1" r="1.8"/><circle cx="193.7" cy="476.6" r="1.8"/><circle cx="210.7" cy="478.1" r="2.5"/><circle cx="213.3" cy="479.3" r="2.5"/><circle cx="228.7" cy="487.1" r="1.7"/><circle cx="216.1" cy="483.9" r="2.5"/><circle cx="230.3" cy="484.2" r="1.9"/><circle cx="213.5" cy="450.7" r="2.3"/><circle cx="221.7" cy="466.3" r="1.9"/><circle cx="191.6" cy="399.3" r="2.2"/><circle cx="196.7" cy="413.6" r="1.8"/><circle cx="202.4" cy="394.8" r="2.3"/></g>
<g fill="url(#g13)"><circle cx="141.4" cy="204.8" r="3.2"/><circle cx="351" cy="185.2" r="1.9"/><circle cx="142.6" cy="203.5" r="3.3"/><circle cx="463.1" cy="232.8" r="2.5"/><circle cx="502.1" cy="243.8" r="2.1"/><circle cx="498.5" cy="206" r="2.1"/><circle cx="114.6" cy="509.4" r="2.5"/><circle cx="123.1" cy="497.2" r="2.1"/><circle cx="173.1" cy="465.6" r="2.1"/><circle cx="519.2" cy="527.7" r="2.5"/><circle cx="474.1" cy="570.4" r="2.5"/><circle cx="304.7" cy="525.3" r="2.9"/><circle cx="346.1" cy="530.2" r="2.5"/><circle cx="363.2" cy="514.3" r="2.5"/><circle cx="280.3" cy="497.2" r="3.3"/><circle cx="276.7" cy="504.6" r="3.3"/><circle cx="260.8" cy="460.7" r="1.3"/><circle cx="277" cy="435.8" r="1.3"/><circle cx="262.8" cy="466.5" r="1.5"/><circle cx="256" cy="513" r="3.1"/><circle cx="362.5" cy="514.5" r="2.5"/><circle cx="314.4" cy="525" r="2.4"/><circle cx="239.6" cy="156.6" r="2.1"/><circle cx="240" cy="152.7" r="2.5"/><circle cx="358.5" cy="175" r="2.3"/><circle cx="410.8" cy="138.6" r="2.1"/><circle cx="394" cy="169.2" r="2.2"/><circle cx="480.6" cy="542.1" r="2.4"/><circle cx="477.1" cy="543.8" r="1.9"/><circle cx="507.8" cy="534.7" r="2.5"/><circle cx="506.7" cy="537.5" r="2.1"/><circle cx="201.9" cy="399.3" r="2.4"/><circle cx="416.3" cy="546.8" r="2"/><circle cx="406.3" cy="552" r="2.2"/><circle cx="405.8" cy="550.3" r="1.9"/><circle cx="430.9" cy="552.5" r="2.3"/><circle cx="480.6" cy="550.2" r="2.4"/><circle cx="482.3" cy="548.5" r="2.4"/><circle cx="507.2" cy="534.8" r="2.5"/><circle cx="511.6" cy="525.6" r="2.3"/><circle cx="499.2" cy="534.9" r="2.5"/><circle cx="513.6" cy="525.2" r="2.4"/><circle cx="516.2" cy="526.3" r="2.3"/><circle cx="203.1" cy="523.2" r="2.3"/><circle cx="215.1" cy="528.1" r="1.8"/><circle cx="236" cy="544.9" r="1.9"/><circle cx="240.8" cy="553.3" r="2"/><circle cx="250.5" cy="554.8" r="1.7"/><circle cx="255" cy="556.7" r="2.4"/><circle cx="257.2" cy="557.9" r="2"/><circle cx="257.1" cy="566.8" r="2.5"/><circle cx="284.2" cy="578.4" r="2.5"/><circle cx="331.5" cy="601.8" r="2.3"/><circle cx="343.7" cy="599.9" r="2.2"/><circle cx="192.3" cy="474" r="2"/><circle cx="211" cy="484.7" r="2"/><circle cx="215" cy="455.2" r="1.9"/><circle cx="219" cy="468.5" r="2.4"/><circle cx="219.7" cy="467.9" r="2.1"/><circle cx="208.2" cy="412.8" r="1.8"/></g>
<g fill="url(#g14)"><circle cx="313.2" cy="119.9" r="2.1"/><circle cx="316.9" cy="136.5" r="2.5"/><circle cx="358.3" cy="180.4" r="2.5"/><circle cx="344.2" cy="186.5" r="2.1"/><circle cx="342.5" cy="192.6" r="2.1"/><circle cx="397.3" cy="168.2" r="2.4"/><circle cx="438.8" cy="192.6" r="2.1"/><circle cx="494.8" cy="177.9" r="2.3"/><circle cx="497.2" cy="186.5" r="2.9"/><circle cx="622.8" cy="49.2" r="1.5"/><circle cx="100.4" cy="262.8" r="2.1"/><circle cx="129.7" cy="253.5" r="2.5"/><circle cx="143.8" cy="280.3" r="3.3"/><circle cx="148.7" cy="288.8" r="2.9"/><circle cx="158.4" cy="336.4" r="1.9"/><circle cx="186.5" cy="353.4" r="2.9"/><circle cx="190.1" cy="363.2" r="2.5"/><circle cx="309.6" cy="220.6" r="2.5"/><circle cx="315.7" cy="199.9" r="2.5"/><circle cx="340.8" cy="238.9" r="3.3"/><circle cx="349" cy="253.5" r="2.1"/><circle cx="384.6" cy="315.2" r="1.3"/><circle cx="203.5" cy="382.7" r="2.9"/><circle cx="207.2" cy="387.6" r="2.5"/><circle cx="198.7" cy="385.1" r="2.9"/><circle cx="586.2" cy="293.7" r="2.5"/><circle cx="585" cy="281.5" r="2.1"/><circle cx="592.3" cy="315.7" r="2.5"/><circle cx="608.2" cy="321.8" r="3.3"/><circle cx="595.2" cy="342.5" r="2.5"/><circle cx="613.8" cy="370.5" r="2.5"/><circle cx="408.3" cy="298.6" r="2.9"/><circle cx="453.4" cy="225.5" r="2.9"/><circle cx="460.7" cy="226.7" r="2.9"/><circle cx="482.6" cy="235.2" r="2.5"/><circle cx="465.6" cy="202.3" r="2.9"/><circle cx="470.4" cy="198.7" r="2.5"/><circle cx="492.4" cy="199.9" r="2.9"/><circle cx="509.4" cy="248.6" r="2.1"/><circle cx="536.2" cy="271.8" r="2.1"/><circle cx="558.2" cy="223" r="2.5"/><circle cx="546" cy="241.3" r="2.1"/><circle cx="539.9" cy="262" r="2.5"/><circle cx="550.9" cy="268.1" r="2.5"/><circle cx="560.6" cy="276.7" r="2.5"/><circle cx="567.9" cy="286.4" r="2.1"/><circle cx="548.4" cy="297.4" r="2.9"/><circle cx="553.3" cy="294.9" r="2.5"/><circle cx="563.1" cy="302.2" r="2.1"/><circle cx="117" cy="514.3" r="2.5"/><circle cx="182.8" cy="431.4" r="2.5"/><circle cx="162.1" cy="463.1" r="2.5"/><circle cx="187.7" cy="468" r="2.5"/><circle cx="188.9" cy="436.3" r="2.9"/><circle cx="192.6" cy="441.2" r="2.5"/><circle cx="173.1" cy="475.3" r="2.5"/><circle cx="193.8" cy="474.1" r="2.1"/><circle cx="460.7" cy="499.7" r="2.5"/><circle cx="421.7" cy="558.2" r="2.9"/><circle cx="441.2" cy="560.6" r="2.5"/><circle cx="432.7" cy="564.3" r="2.5"/><circle cx="468" cy="553.3" r="2.5"/><circle cx="499.7" cy="546" r="3.7"/><circle cx="516.8" cy="536.2" r="3.3"/><circle cx="560.6" cy="515.5" r="2.5"/><circle cx="557" cy="521.6" r="2.9"/><circle cx="553.3" cy="526.5" r="2.5"/><circle cx="543.6" cy="536.2" r="2.9"/><circle cx="550.9" cy="538.7" r="2.5"/><circle cx="519.2" cy="555.8" r="3.3"/><circle cx="511.9" cy="558.2" r="3.3"/><circle cx="498.5" cy="563.1" r="2.9"/><circle cx="494.8" cy="565.5" r="2.5"/><circle cx="500.9" cy="571.6" r="2.5"/><circle cx="438.8" cy="575.2" r="2.5"/><circle cx="472.9" cy="560.6" r="1.7"/><circle cx="616.7" cy="469.9" r="2.1"/><circle cx="598.4" cy="543.1" r="2.1"/><circle cx="594.8" cy="546" r="2.1"/><circle cx="171.8" cy="754.4" r="1.5"/><circle cx="319.3" cy="597.2" r="2.5"/><circle cx="331.5" cy="600.8" r="3.3"/><circle cx="335.2" cy="602.1" r="2.5"/><circle cx="355.9" cy="596" r="2.1"/><circle cx="542.3" cy="598.4" r="2.5"/><circle cx="520.4" cy="598.4" r="2.1"/><circle cx="597.7" cy="750.8" r="1.5"/><circle cx="202.3" cy="408.3" r="3.7"/><circle cx="208.4" cy="460.7" r="3.3"/><circle cx="219.4" cy="475.3" r="3.7"/><circle cx="224.2" cy="482.6" r="3.3"/><circle cx="202.3" cy="487.5" r="3.7"/><circle cx="253.5" cy="492.4" r="3.7"/><circle cx="255.9" cy="499.7" r="3.3"/><circle cx="198.7" cy="528.9" r="3.3"/><circle cx="214.5" cy="543.6" r="3.3"/><circle cx="221.8" cy="558.2" r="3.7"/><circle cx="255.9" cy="580.1" r="3.3"/><circle cx="277.9" cy="550.9" r="2.9"/><circle cx="331.5" cy="526.5" r="2.5"/><circle cx="355.9" cy="531.4" r="2.5"/><circle cx="353.4" cy="536.2" r="2.5"/><circle cx="387.6" cy="546" r="2.5"/><circle cx="382.7" cy="560.6" r="3.3"/><circle cx="293.5" cy="418.5" r="3.6"/><circle cx="311.5" cy="419.2" r="1.8"/><circle cx="335.5" cy="432.8" r="2.6"/><circle cx="332.5" cy="435.8" r="2"/><circle cx="346.8" cy="466.5" r="2.7"/><circle cx="319" cy="468" r="3.1"/><circle cx="282.2" cy="434.2" r="1.5"/><circle cx="274" cy="450" r="1.2"/><circle cx="298.8" cy="500.2" r="2.2"/><circle cx="280" cy="510" r="2.6"/><circle cx="338.5" cy="520.5" r="2.2"/><circle cx="621.5" cy="70.3" r="1.3"/><circle cx="357.5" cy="531.3" r="1.6"/><circle cx="304.3" cy="144.6" r="2.6"/><circle cx="300.5" cy="147.8" r="2.3"/><circle cx="298.8" cy="144.3" r="2.3"/><circle cx="357.3" cy="175.4" r="1.8"/><circle cx="393.4" cy="168.6" r="2"/><circle cx="399" cy="167.3" r="1.8"/><circle cx="478.5" cy="539.5" r="2.4"/><circle cx="489.2" cy="538.1" r="1.9"/><circle cx="499" cy="536.4" r="1.8"/><circle cx="494.7" cy="534.9" r="1.8"/><circle cx="502.1" cy="538.2" r="2.5"/><circle cx="494.4" cy="549.8" r="2"/><circle cx="491" cy="551.9" r="2.5"/><circle cx="452.2" cy="621.7" r="2.4"/><circle cx="201.2" cy="396.4" r="2.6"/><circle cx="214.7" cy="464.4" r="2.6"/><circle cx="217.5" cy="466.7" r="2.2"/><circle cx="203.7" cy="469.6" r="2.6"/><circle cx="201.3" cy="475.1" r="2.5"/><circle cx="200.6" cy="518.4" r="2.1"/><circle cx="200.9" cy="520.1" r="2.4"/><circle cx="212.6" cy="524.9" r="2.1"/><circle cx="206.8" cy="523.4" r="2.5"/><circle cx="268.7" cy="575.4" r="1.9"/><circle cx="268.3" cy="570.1" r="1.8"/><circle cx="338.3" cy="551.3" r="2.5"/><circle cx="398.9" cy="553.9" r="2.2"/><circle cx="400.8" cy="553.3" r="2.4"/><circle cx="402.4" cy="551.7" r="2.5"/><circle cx="404.1" cy="550" r="2.5"/><circle cx="396.7" cy="552.9" r="1.8"/><circle cx="424.9" cy="544.5" r="1.6"/><circle cx="421.3" cy="548.9" r="2.1"/><circle cx="474.3" cy="550.4" r="1.8"/><circle cx="468" cy="554" r="2.4"/><circle cx="474.1" cy="550" r="2.5"/><circle cx="481" cy="546.7" r="1.8"/><circle cx="484.8" cy="541.1" r="2"/><circle cx="482" cy="547" r="1.6"/><circle cx="508.5" cy="527.4" r="2.4"/><circle cx="508.3" cy="529.3" r="1.7"/><circle cx="500.3" cy="534.4" r="2.5"/><circle cx="508.4" cy="531.6" r="2.1"/><circle cx="501.5" cy="536.9" r="2"/><circle cx="506.8" cy="528.4" r="2.3"/><circle cx="512.1" cy="524.8" r="1.9"/><circle cx="525.8" cy="520" r="2"/><circle cx="527.3" cy="523.8" r="2.4"/><circle cx="427.8" cy="534.8" r="2.4"/><circle cx="202.2" cy="527.2" r="2.4"/><circle cx="235.7" cy="544.2" r="1.7"/><circle cx="259.9" cy="569.3" r="1.7"/><circle cx="272.8" cy="576.9" r="2.1"/><circle cx="285.5" cy="580.7" r="2.3"/><circle cx="296.2" cy="581.7" r="1.8"/><circle cx="290.7" cy="578.9" r="2.5"/><circle cx="303.4" cy="566.7" r="2.5"/><circle cx="188.6" cy="472.7" r="1.8"/><circle cx="206" cy="481.7" r="2"/><circle cx="205" cy="409.5" r="1.9"/></g>
<g fill="url(#g15)"><circle cx="241.2" cy="156.7" r="3.9"/><circle cx="241.3" cy="156" r="2.4"/><circle cx="304.7" cy="157.2" r="3.3"/><circle cx="304" cy="168.2" r="4.9"/><circle cx="341.2" cy="138.9" r="1.9"/><circle cx="334.4" cy="132.8" r="1.5"/><circle cx="354.7" cy="174.3" r="2.4"/><circle cx="103.1" cy="267.6" r="2.3"/><circle cx="107.2" cy="282.8" r="2.9"/><circle cx="129.2" cy="258.9" r="2.5"/><circle cx="136.5" cy="302.2" r="2.5"/><circle cx="312" cy="202.3" r="3.3"/><circle cx="309.6" cy="208.4" r="2.5"/><circle cx="310.1" cy="214.5" r="2.9"/><circle cx="472.9" cy="234" r="2.9"/><circle cx="526.5" cy="265.7" r="2.5"/><circle cx="516.8" cy="255.9" r="2.5"/><circle cx="502.1" cy="209.6" r="2.1"/><circle cx="583.8" cy="288.8" r="2.5"/><circle cx="163.3" cy="426.6" r="3.3"/><circle cx="170.6" cy="443.6" r="2.5"/><circle cx="190.1" cy="399.8" r="3.3"/><circle cx="190.1" cy="480.2" r="2.5"/><circle cx="442.4" cy="503.3" r="3.3"/><circle cx="438.8" cy="546" r="2.5"/><circle cx="475.3" cy="550.9" r="2.1"/><circle cx="480.2" cy="542.3" r="2.4"/><circle cx="504.6" cy="536.2" r="2.4"/><circle cx="492.4" cy="548.4" r="2.4"/><circle cx="559.4" cy="510.7" r="2.5"/><circle cx="504.6" cy="560.6" r="2.9"/><circle cx="570.4" cy="572.8" r="2.5"/><circle cx="581.3" cy="564.3" r="2.1"/><circle cx="338.8" cy="600.8" r="3.3"/><circle cx="401" cy="609.4" r="3.3"/><circle cx="444.8" cy="620.3" r="2.9"/><circle cx="458.2" cy="591.1" r="2.9"/><circle cx="530.2" cy="596" r="2.9"/><circle cx="499.7" cy="596" r="2.5"/><circle cx="204.8" cy="397.3" r="2.4"/><circle cx="214.5" cy="468" r="2.4"/><circle cx="287.6" cy="581.3" r="3.3"/><circle cx="273" cy="546" r="3.3"/><circle cx="297.4" cy="560.6" r="3.3"/><circle cx="312" cy="565.5" r="2.9"/><circle cx="341.2" cy="525.3" r="2.9"/><circle cx="331.5" cy="557" r="3.3"/><circle cx="314.5" cy="423" r="2.6"/><circle cx="346" cy="459.8" r="2.9"/><circle cx="307" cy="499.5" r="1.5"/><circle cx="260.5" cy="520.5" r="2.6"/><circle cx="321.9" cy="530.6" r="1.8"/><circle cx="313" cy="519" r="2"/><circle cx="311.3" cy="520.6" r="1.6"/><circle cx="244.2" cy="154.7" r="1.8"/><circle cx="320.1" cy="130.6" r="2"/><circle cx="306.6" cy="153.5" r="2.2"/><circle cx="397.7" cy="164.3" r="2.6"/><circle cx="451.2" cy="182.5" r="2.6"/><circle cx="445.4" cy="500.1" r="2.4"/><circle cx="451.5" cy="498.5" r="1.9"/><circle cx="483.8" cy="541.3" r="2.4"/><circle cx="487.4" cy="535.8" r="2.4"/><circle cx="501.6" cy="534.3" r="2.4"/><circle cx="485.8" cy="545.8" r="1.9"/><circle cx="491.5" cy="550.8" r="2.5"/><circle cx="448.7" cy="619.2" r="2.1"/><circle cx="216" cy="470.7" r="2.4"/><circle cx="210.5" cy="467.9" r="2.3"/><circle cx="206" cy="470.3" r="1.8"/><circle cx="211.8" cy="483.9" r="2.1"/><circle cx="205.8" cy="481.1" r="2.3"/><circle cx="199.2" cy="523.8" r="2.5"/><circle cx="198.9" cy="522.5" r="1.8"/><circle cx="271.2" cy="574.4" r="2.6"/><circle cx="408.7" cy="550.3" r="1.7"/><circle cx="426.2" cy="547.7" r="2.5"/><circle cx="439.9" cy="550.7" r="1.6"/><circle cx="517.1" cy="526.9" r="2.3"/><circle cx="522.3" cy="522.5" r="1.7"/><circle cx="441.2" cy="525.5" r="2.2"/><circle cx="434.4" cy="531.8" r="2.5"/><circle cx="200.8" cy="527.7" r="2.1"/><circle cx="200.6" cy="526.6" r="2.5"/><circle cx="225.6" cy="540.1" r="2.4"/><circle cx="267.8" cy="575.8" r="2.4"/><circle cx="286.8" cy="582.6" r="2.1"/><circle cx="284.4" cy="580.9" r="2"/><circle cx="292.3" cy="583.7" r="2.3"/><circle cx="331.2" cy="600.9" r="1.6"/><circle cx="313" cy="571.1" r="2.5"/><circle cx="304.1" cy="566.1" r="1.8"/><circle cx="223.2" cy="483.7" r="2"/><circle cx="222" cy="483.7" r="2.4"/><circle cx="206.6" cy="482.1" r="1.8"/><circle cx="218" cy="485.3" r="2.6"/><circle cx="219.8" cy="461.2" r="2.4"/><circle cx="189.4" cy="394.7" r="2.4"/></g>
<g fill="url(#g16)"><circle cx="144.6" cy="201.5" r="2.6"/><circle cx="157.6" cy="204.1" r="1.3"/><circle cx="310.8" cy="131.6" r="2.5"/><circle cx="346.1" cy="191.3" r="2.5"/><circle cx="583.3" cy="21.9" r="1.5"/><circle cx="449.7" cy="179.2" r="3.3"/><circle cx="441.2" cy="184" r="2.5"/><circle cx="588.7" cy="122.4" r="1.5"/><circle cx="593.5" cy="151.1" r="1.3"/><circle cx="102.4" cy="273" r="3.3"/><circle cx="105.3" cy="277.9" r="2.9"/><circle cx="184" cy="359.5" r="3.3"/><circle cx="181.6" cy="365.6" r="3.3"/><circle cx="182.8" cy="371.7" r="3.3"/><circle cx="181.6" cy="377.8" r="2.9"/><circle cx="184" cy="383.9" r="2.9"/><circle cx="192.6" cy="372.9" r="2.5"/><circle cx="343.7" cy="243.8" r="2.9"/><circle cx="347.3" cy="249.1" r="2.9"/><circle cx="592.3" cy="290.1" r="2.5"/><circle cx="616.2" cy="346.6" r="2.1"/><circle cx="468" cy="229.1" r="3.3"/><circle cx="475.3" cy="226.7" r="2.9"/><circle cx="470.4" cy="223" r="2.9"/><circle cx="463.1" cy="219.4" r="3.3"/><circle cx="468" cy="215.7" r="3.3"/><circle cx="472.9" cy="204.8" r="2.9"/><circle cx="477.8" cy="209.6" r="2.5"/><circle cx="483.8" cy="212.1" r="2.9"/><circle cx="489.9" cy="234" r="2.5"/><circle cx="565.5" cy="247.4" r="1.7"/><circle cx="543.6" cy="255.9" r="2.5"/><circle cx="548.4" cy="260.8" r="2.5"/><circle cx="555.8" cy="264.5" r="2.5"/><circle cx="560.6" cy="268.1" r="2.5"/><circle cx="572.8" cy="284" r="2.5"/><circle cx="564.3" cy="286.4" r="2.1"/><circle cx="582.6" cy="282.8" r="2.9"/><circle cx="558.2" cy="299.8" r="2.5"/><circle cx="558.2" cy="314.4" r="2.5"/><circle cx="121.9" cy="511.9" r="2.9"/><circle cx="146.2" cy="401" r="2.5"/><circle cx="174.3" cy="419.2" r="2.5"/><circle cx="192.6" cy="408.3" r="2.5"/><circle cx="193.8" cy="393.7" r="2.1"/><circle cx="157.2" cy="459.5" r="3.3"/><circle cx="179.2" cy="460.7" r="2.5"/><circle cx="182.8" cy="463.1" r="2.1"/><circle cx="186.5" cy="460.7" r="2.1"/><circle cx="462.4" cy="447.8" r="1.3"/><circle cx="448.5" cy="498.5" r="2.4"/><circle cx="454.6" cy="502.1" r="2.9"/><circle cx="453.4" cy="511.9" r="3.3"/><circle cx="435.1" cy="536.2" r="2.5"/><circle cx="394.9" cy="536.2" r="2.9"/><circle cx="392.4" cy="546" r="2.5"/><circle cx="407.1" cy="544.8" r="2.5"/><circle cx="426.6" cy="546" r="2.9"/><circle cx="436.3" cy="557" r="2.9"/><circle cx="397.3" cy="561.8" r="2.1"/><circle cx="487.5" cy="538.7" r="2.4"/><circle cx="511.9" cy="533.8" r="3.3"/><circle cx="483.8" cy="549.7" r="2.4"/><circle cx="504.6" cy="524.1" r="3.3"/><circle cx="514.3" cy="530.2" r="2.9"/><circle cx="558.2" cy="504.6" r="2.9"/><circle cx="553.3" cy="544.8" r="2.9"/><circle cx="507" cy="565.5" r="2.5"/><circle cx="487.5" cy="570.4" r="2.5"/><circle cx="482.6" cy="575.2" r="2.5"/><circle cx="577.7" cy="566.7" r="2.9"/><circle cx="615.5" cy="522.8" r="2.1"/><circle cx="619.1" cy="547.2" r="2.1"/><circle cx="626.4" cy="542.8" r="2.1"/><circle cx="315.7" cy="594.8" r="3.3"/><circle cx="444.1" cy="774.4" r="1.5"/><circle cx="450.9" cy="617.9" r="2.4"/><circle cx="455.8" cy="616.2" r="2.9"/><circle cx="522.8" cy="596" r="2.9"/><circle cx="536.2" cy="596" r="2.9"/><circle cx="492.4" cy="594.8" r="2.5"/><circle cx="449.7" cy="589.9" r="1.3"/><circle cx="204.8" cy="472.9" r="2.4"/><circle cx="209.6" cy="482.6" r="2.4"/><circle cx="202.3" cy="521.6" r="2.4"/><circle cx="209.6" cy="526.5" r="2.4"/><circle cx="268.1" cy="572.8" r="2.4"/><circle cx="277.9" cy="577.7" r="3.7"/><circle cx="304.7" cy="564.3" r="3.7"/><circle cx="336.4" cy="522.8" r="3.7"/><circle cx="343.7" cy="552.1" r="2.9"/><circle cx="370.5" cy="543.6" r="2.1"/><circle cx="376.6" cy="546" r="1.5"/><circle cx="274.2" cy="492.4" r="2.1"/><circle cx="320.5" cy="463.5" r="2.5"/><circle cx="263.5" cy="429" r="1.8"/><circle cx="269.5" cy="451.5" r="1.2"/><circle cx="259" cy="443.2" r="1.5"/><circle cx="299.5" cy="492.8" r="1.8"/><circle cx="277" cy="504" r="3"/><circle cx="606.3" cy="63.5" r="1.3"/><circle cx="241.3" cy="153.9" r="2.6"/><circle cx="317.7" cy="124.3" r="1.8"/><circle cx="313.8" cy="130.3" r="2.3"/><circle cx="303.6" cy="145.2" r="2"/><circle cx="303.1" cy="153" r="2.3"/><circle cx="447.1" cy="184.2" r="2.6"/><circle cx="447.5" cy="181.3" r="2.2"/><circle cx="453.1" cy="183.3" r="2.3"/><circle cx="452.7" cy="178.6" r="1.9"/><circle cx="142.1" cy="303.1" r="2.6"/><circle cx="168.4" cy="426.1" r="1.9"/><circle cx="447.3" cy="500.4" r="2.3"/><circle cx="498.7" cy="533.8" r="2.4"/><circle cx="494.4" cy="538.9" r="2.5"/><circle cx="494.9" cy="536.3" r="2.6"/><circle cx="507.1" cy="537.8" r="1.9"/><circle cx="481.7" cy="550.5" r="2.1"/><circle cx="486.7" cy="548.2" r="1.9"/><circle cx="492.6" cy="551.8" r="2.1"/><circle cx="490.5" cy="552" r="2.4"/><circle cx="212.2" cy="467.1" r="2.2"/><circle cx="202.8" cy="472.4" r="2.2"/><circle cx="209.7" cy="485.9" r="1.8"/><circle cx="201.2" cy="523.7" r="1.9"/><circle cx="207.6" cy="529.3" r="2.4"/><circle cx="207.6" cy="524.8" r="1.9"/><circle cx="229.1" cy="539" r="1.8"/><circle cx="227.1" cy="537.4" r="2.2"/><circle cx="232.2" cy="544.3" r="2.5"/><circle cx="230.4" cy="545.8" r="2.1"/><circle cx="337" cy="551.5" r="2.3"/><circle cx="407.7" cy="548.5" r="2.3"/><circle cx="422.3" cy="547.7" r="1.9"/><circle cx="486.4" cy="543.8" r="2.3"/><circle cx="492" cy="539.6" r="2.3"/><circle cx="494.7" cy="538" r="2.1"/><circle cx="519.1" cy="524.8" r="2.1"/><circle cx="199" cy="527" r="2.3"/><circle cx="213.4" cy="528.2" r="1.7"/><circle cx="234.3" cy="547" r="2.2"/><circle cx="234.3" cy="547.6" r="2.6"/><circle cx="262.5" cy="568.9" r="1.7"/><circle cx="336.7" cy="600" r="2.2"/><circle cx="299.8" cy="566.5" r="2.2"/><circle cx="216.6" cy="482.9" r="2.2"/><circle cx="205" cy="403" r="2.2"/></g>
<g fill="url(#g17)"><circle cx="153.4" cy="191.8" r="3.2"/><circle cx="314.4" cy="124.3" r="2.9"/><circle cx="301.8" cy="146.2" r="2.4"/><circle cx="305.9" cy="152.3" r="2.4"/><circle cx="308.3" cy="148.7" r="2.5"/><circle cx="338.8" cy="136.5" r="1.5"/><circle cx="359.5" cy="188.9" r="2.5"/><circle cx="357.1" cy="193.8" r="2.1"/><circle cx="444.8" cy="187.7" r="3.3"/><circle cx="468" cy="185.2" r="2.5"/><circle cx="471.7" cy="192.6" r="2.5"/><circle cx="138.9" cy="275.4" r="3.3"/><circle cx="146.2" cy="296.2" r="3.3"/><circle cx="160.9" cy="332.7" r="2.5"/><circle cx="192.6" cy="379" r="2.1"/><circle cx="485.1" cy="229.1" r="2.9"/><circle cx="497.2" cy="236.4" r="2.5"/><circle cx="533.8" cy="266.9" r="2.9"/><circle cx="530.2" cy="201.1" r="2.5"/><circle cx="499.7" cy="215.7" r="2.5"/><circle cx="552.1" cy="220.6" r="2.9"/><circle cx="541.1" cy="216.9" r="2.5"/><circle cx="546" cy="230.3" r="2.5"/><circle cx="546" cy="249.8" r="2.9"/><circle cx="565.5" cy="273" r="2.9"/><circle cx="570.4" cy="277.9" r="2.9"/><circle cx="547.2" cy="309.6" r="2.9"/><circle cx="560.6" cy="305.9" r="2.5"/><circle cx="552.1" cy="314.4" r="2.9"/><circle cx="126.8" cy="513.1" r="2.5"/><circle cx="165.8" cy="419.2" r="3.3"/><circle cx="179.2" cy="424.1" r="2.9"/><circle cx="168.2" cy="433.9" r="2.9"/><circle cx="173.1" cy="437.5" r="2.9"/><circle cx="170.6" cy="459.5" r="2.5"/><circle cx="414.4" cy="546" r="2.9"/><circle cx="420.5" cy="548.4" r="3.3"/><circle cx="432.7" cy="548.4" r="3.3"/><circle cx="429" cy="554.5" r="3.3"/><circle cx="497.2" cy="537.5" r="2.4"/><circle cx="509.4" cy="526.5" r="2.9"/><circle cx="468" cy="576.5" r="2.5"/><circle cx="460.7" cy="575.2" r="2.5"/><circle cx="470.4" cy="583.8" r="2.1"/><circle cx="574" cy="570.4" r="2.5"/><circle cx="336.4" cy="553.3" r="2.4"/><circle cx="341.2" cy="546" r="1.7"/><circle cx="265" cy="440.2" r="1.3"/><circle cx="306.2" cy="495" r="2.2"/><circle cx="295" cy="480" r="2.2"/><circle cx="345.6" cy="529.7" r="2.1"/><circle cx="340.6" cy="546.9" r="1.6"/><circle cx="239.1" cy="157.9" r="2"/><circle cx="316.1" cy="124.1" r="1.9"/><circle cx="322.3" cy="120.3" r="2.3"/><circle cx="306.4" cy="150.5" r="2.5"/><circle cx="353.5" cy="173.7" r="2.3"/><circle cx="355.7" cy="177" r="2.2"/><circle cx="353.2" cy="177" r="1.9"/><circle cx="171.2" cy="423.5" r="2.5"/><circle cx="447.6" cy="495.8" r="2.6"/><circle cx="479.2" cy="544" r="1.9"/><circle cx="486.9" cy="539.5" r="2.3"/><circle cx="486.6" cy="547.4" r="2"/><circle cx="487.1" cy="551.1" r="2.6"/><circle cx="482" cy="547" r="2.3"/><circle cx="205" cy="399.4" r="2.6"/><circle cx="202.5" cy="394.6" r="2.6"/><circle cx="203.9" cy="399" r="2"/><circle cx="201.6" cy="475.1" r="1.9"/><circle cx="236" cy="543.1" r="2.6"/><circle cx="258.9" cy="570.3" r="2.6"/><circle cx="336.3" cy="555.5" r="1.8"/><circle cx="431.8" cy="548.8" r="2.4"/><circle cx="512.2" cy="528.2" r="1.9"/><circle cx="433.6" cy="531.1" r="2.1"/><circle cx="218.5" cy="533" r="2.4"/><circle cx="220.3" cy="532.6" r="1.6"/><circle cx="222.7" cy="537.1" r="1.9"/><circle cx="225.8" cy="538.7" r="1.7"/><circle cx="237.2" cy="547.7" r="2"/><circle cx="267.3" cy="573.9" r="2.2"/><circle cx="274.3" cy="575.3" r="2.5"/><circle cx="271.6" cy="573" r="2.4"/><circle cx="300.5" cy="566.4" r="2.1"/><circle cx="196.1" cy="475.4" r="2.2"/><circle cx="188.8" cy="471.5" r="1.8"/></g>
<g fill="url(#g18)"><circle cx="336.4" cy="134.1" r="2.1"/><circle cx="153.6" cy="196.2" r="2.5"/><circle cx="128" cy="264.5" r="3.3"/><circle cx="129.2" cy="269.3" r="3.3"/><circle cx="131.6" cy="274.2" r="3.3"/><circle cx="138.9" cy="315.7" r="2.5"/><circle cx="588.7" cy="287.1" r="2.9"/><circle cx="489.9" cy="221.8" r="2.9"/><circle cx="514.3" cy="246.2" r="3.3"/><circle cx="528.9" cy="262" r="3.3"/><circle cx="126.8" cy="498.5" r="2.1"/><circle cx="124.3" cy="507" r="1.7"/><circle cx="447.3" cy="515.5" r="3.3"/><circle cx="441.2" cy="519.2" r="3.3"/><circle cx="436.3" cy="524.1" r="3.3"/><circle cx="399.8" cy="543.6" r="3.3"/><circle cx="455.8" cy="580.1" r="2.9"/><circle cx="463.1" cy="583.8" r="2.5"/><circle cx="509.4" cy="593.5" r="3.3"/><circle cx="260.8" cy="567.9" r="2.4"/><circle cx="279.2" cy="438.8" r="1.5"/><circle cx="296.5" cy="484.5" r="2.6"/><circle cx="302.5" cy="489" r="3"/><circle cx="303.2" cy="494.2" r="1.5"/><circle cx="268.8" cy="498.8" r="2"/><circle cx="284.5" cy="489" r="1.3"/><circle cx="353.7" cy="535" r="2.5"/><circle cx="325.5" cy="126.6" r="2.3"/><circle cx="313.5" cy="130.5" r="2.1"/><circle cx="315.8" cy="128.2" r="2.3"/><circle cx="305.1" cy="147.8" r="1.8"/><circle cx="306.8" cy="155.1" r="1.9"/><circle cx="303.6" cy="154.6" r="1.8"/><circle cx="447.5" cy="181.7" r="2.2"/><circle cx="457.8" cy="182.9" r="1.9"/><circle cx="170.8" cy="429.6" r="2.4"/><circle cx="446.5" cy="500.9" r="2.4"/><circle cx="488.8" cy="535.5" r="1.9"/><circle cx="490.4" cy="539.1" r="2.1"/><circle cx="453.4" cy="619.8" r="2.3"/><circle cx="446.8" cy="618.1" r="2.5"/><circle cx="450.3" cy="621.8" r="1.8"/><circle cx="211.7" cy="482.6" r="2.4"/><circle cx="206.4" cy="481.9" r="2.5"/><circle cx="210.3" cy="529.9" r="1.9"/><circle cx="221.4" cy="534" r="2"/><circle cx="225.6" cy="541.4" r="2.2"/><circle cx="261.6" cy="566.5" r="2.3"/><circle cx="264.8" cy="572.8" r="2.4"/><circle cx="270" cy="569.9" r="2.6"/><circle cx="333.8" cy="550.8" r="2.3"/><circle cx="332.8" cy="552.1" r="2.4"/><circle cx="420.2" cy="536.2" r="2.2"/><circle cx="435.7" cy="530.6" r="2.2"/><circle cx="220.1" cy="533.7" r="1.8"/><circle cx="226.8" cy="537.9" r="2.3"/><circle cx="226.2" cy="539.5" r="1.9"/><circle cx="245.6" cy="555.6" r="2"/><circle cx="258.8" cy="564.9" r="2.1"/><circle cx="283.6" cy="580.4" r="2.2"/><circle cx="187.4" cy="471.9" r="2.5"/><circle cx="220.5" cy="483.7" r="2.5"/></g>
<g fill="url(#g19)"><circle cx="151.1" cy="195" r="2.4"/><circle cx="320.5" cy="125.5" r="2.4"/><circle cx="353.4" cy="190.1" r="2.5"/><circle cx="452.2" cy="184" r="2.4"/><circle cx="747.1" cy="48.3" r="1.5"/><circle cx="637.4" cy="154" r="1.3"/><circle cx="636.2" cy="160.4" r="1.3"/><circle cx="147.5" cy="199.4" r="3.7"/><circle cx="157.7" cy="204.3" r="1.5"/><circle cx="142.6" cy="292.5" r="3.7"/><circle cx="138.9" cy="297.4" r="3.7"/><circle cx="140.2" cy="308.3" r="3.3"/><circle cx="596" cy="319.3" r="3.7"/><circle cx="619.1" cy="353.4" r="2.1"/><circle cx="474.1" cy="219.4" r="3.3"/><circle cx="480.2" cy="224.2" r="3.3"/><circle cx="494.8" cy="226.7" r="3.3"/><circle cx="499.7" cy="231.6" r="3.3"/><circle cx="509.4" cy="241.3" r="2.9"/><circle cx="519.2" cy="252.3" r="3.3"/><circle cx="504.6" cy="204.8" r="3.3"/><circle cx="509.4" cy="199.9" r="3.3"/><circle cx="516.8" cy="198.7" r="2.9"/><circle cx="504.6" cy="221.8" r="2.9"/><circle cx="541.1" cy="237.7" r="2.5"/><circle cx="531.4" cy="243.8" r="2.5"/><circle cx="550.9" cy="254.7" r="2.9"/><circle cx="550.9" cy="303.5" r="3.3"/><circle cx="175.5" cy="455.8" r="2.1"/><circle cx="401" cy="530.2" r="3.3"/><circle cx="491.2" cy="536.2" r="2.9"/><circle cx="222.3" cy="704.7" r="1.5"/><circle cx="353.4" cy="600.8" r="2.9"/><circle cx="399.8" cy="588.7" r="2.5"/><circle cx="465.6" cy="588.7" r="3.3"/><circle cx="502.1" cy="592.3" r="3.3"/><circle cx="516.8" cy="594.8" r="3.3"/><circle cx="226.7" cy="538.7" r="2.4"/><circle cx="234" cy="546" r="2.4"/><circle cx="243.8" cy="552.1" r="4.5"/><circle cx="279.1" cy="487.5" r="1.7"/><circle cx="283" cy="442.5" r="1.5"/><circle cx="286" cy="445.5" r="1.5"/><circle cx="305.5" cy="483" r="2.2"/><circle cx="317.2" cy="123.6" r="1.9"/><circle cx="317.5" cy="125.5" r="2.5"/><circle cx="318.8" cy="125" r="2"/><circle cx="451.5" cy="179.2" r="2.4"/><circle cx="448.6" cy="186" r="2.3"/><circle cx="449.5" cy="184.3" r="1.9"/><circle cx="167" cy="426.1" r="2.3"/><circle cx="170.2" cy="424.8" r="2.4"/><circle cx="248.5" cy="555.2" r="2.2"/></g>
<g fill="url(#g20)"><circle cx="316.9" cy="130.4" r="2.4"/><circle cx="463.1" cy="186.5" r="2.9"/><circle cx="143.8" cy="303.5" r="2.4"/><circle cx="163.3" cy="330.3" r="1.7"/><circle cx="504.6" cy="236.4" r="3.3"/><circle cx="524.1" cy="257.2" r="3.3"/><circle cx="524.1" cy="202.3" r="2.9"/><circle cx="507" cy="214.5" r="3.3"/><circle cx="531.4" cy="208.4" r="2.9"/><circle cx="536.2" cy="212.1" r="2.9"/><circle cx="511.9" cy="230.3" r="2.5"/><circle cx="536.2" cy="241.3" r="2.5"/><circle cx="170.6" cy="426.6" r="2.4"/><circle cx="475.3" cy="580.1" r="2.9"/><circle cx="621.6" cy="544" r="3.3"/><circle cx="331.8" cy="477" r="1.5"/><circle cx="266.5" cy="432" r="1.8"/><circle cx="320.4" cy="119.1" r="2.2"/><circle cx="318.3" cy="131.5" r="2.6"/><circle cx="321.7" cy="123.5" r="1.8"/><circle cx="318.9" cy="133.2" r="2"/><circle cx="146.8" cy="305.5" r="2.5"/><circle cx="147.1" cy="304.7" r="1.8"/><circle cx="217.5" cy="533.1" r="2.3"/><circle cx="259.2" cy="566.6" r="2.4"/><circle cx="262.2" cy="568.8" r="1.9"/><circle cx="259.3" cy="569.5" r="2.1"/><circle cx="458.8" cy="198.7" r="1.8"/><circle cx="456.3" cy="202.1" r="1.9"/><circle cx="523.8" cy="231.3" r="2"/><circle cx="312.5" cy="440.7" r="2.4"/><circle cx="320.5" cy="447.9" r="2.2"/><circle cx="306.2" cy="457.6" r="1.8"/><circle cx="301.6" cy="474.1" r="1.9"/><circle cx="307.4" cy="463.5" r="2.5"/><circle cx="325.6" cy="448.6" r="2.5"/><circle cx="329.4" cy="446" r="2.1"/><circle cx="302.9" cy="477.7" r="2.2"/><circle cx="446.6" cy="524.9" r="2.5"/><circle cx="433.5" cy="531" r="1.8"/><circle cx="225.5" cy="537.7" r="2.3"/></g>
<g fill="url(#g21)"><circle cx="147.9" cy="198.2" r="3.4"/><circle cx="133.6" cy="279.1" r="3.3"/><circle cx="147.5" cy="309.6" r="3.3"/><circle cx="143.8" cy="314.4" r="3.7"/><circle cx="543.6" cy="221.8" r="2.9"/><circle cx="558.2" cy="257.2" r="3.3"/><circle cx="555.8" cy="307.1" r="3.3"/><circle cx="430.2" cy="528.9" r="3.7"/><circle cx="410.7" cy="536.2" r="2.9"/><circle cx="494.8" cy="591.1" r="3.7"/><circle cx="219.4" cy="533.8" r="2.4"/><circle cx="328" cy="451.5" r="2.7"/><circle cx="295" cy="435" r="2.5"/><circle cx="316" cy="134.1" r="2.3"/><circle cx="143" cy="300.3" r="2.5"/><circle cx="215.4" cy="531.7" r="1.9"/><circle cx="227.3" cy="535.7" r="2"/><circle cx="237" cy="547.9" r="2.5"/><circle cx="234.5" cy="545" r="2.5"/><circle cx="454.7" cy="196.1" r="1.8"/><circle cx="455.4" cy="197.5" r="2.5"/><circle cx="458.7" cy="194.8" r="1.9"/><circle cx="532.2" cy="220.2" r="2"/><circle cx="490.2" cy="584.9" r="1.9"/><circle cx="492.5" cy="589.2" r="2.6"/><circle cx="303.4" cy="446.9" r="2.3"/><circle cx="308.9" cy="443.1" r="2.3"/><circle cx="311.7" cy="443.5" r="1.8"/><circle cx="323.9" cy="451.2" r="2.2"/><circle cx="320.7" cy="453.1" r="1.9"/><circle cx="322.1" cy="451.3" r="2.4"/><circle cx="310.5" cy="453" r="2.2"/><circle cx="309.4" cy="455.9" r="1.9"/><circle cx="306.9" cy="458.5" r="1.8"/><circle cx="291.8" cy="455.9" r="2.2"/><circle cx="291.8" cy="466.9" r="2.5"/><circle cx="293.9" cy="461.1" r="2.3"/><circle cx="308.1" cy="464.7" r="2"/><circle cx="306.3" cy="469.3" r="2"/><circle cx="304.3" cy="473.6" r="2.5"/><circle cx="308.6" cy="474.1" r="2.2"/><circle cx="298.9" cy="469.7" r="2.5"/><circle cx="324.1" cy="448.9" r="2.3"/><circle cx="326.7" cy="449.5" r="2.5"/><circle cx="315.3" cy="440.8" r="2.3"/><circle cx="303.5" cy="474" r="2.4"/></g>
<g fill="url(#g22)"><circle cx="321.8" cy="121.9" r="3.3"/><circle cx="566" cy="58" r="1.5"/><circle cx="562.6" cy="54.8" r="1.3"/><circle cx="623.3" cy="136" r="1.3"/><circle cx="619.1" cy="141.4" r="1.5"/><circle cx="614.2" cy="167.5" r="1.3"/><circle cx="608.2" cy="177.9" r="1.3"/><circle cx="149.9" cy="315.7" r="2.9"/><circle cx="147.5" cy="319.3" r="2.1"/><circle cx="452.9" cy="328.6" r="2.1"/><circle cx="510.7" cy="221.8" r="2.9"/><circle cx="516.8" cy="232.8" r="2.5"/><circle cx="561.8" cy="259.6" r="2.5"/><circle cx="132.8" cy="509.4" r="2.1"/><circle cx="175.5" cy="429" r="3.3"/><circle cx="442.4" cy="533.8" r="2.9"/><circle cx="405.8" cy="533.8" r="3.3"/><circle cx="402.2" cy="564.3" r="3.3"/><circle cx="293.2" cy="770.2" r="1.7"/><circle cx="360.8" cy="598.4" r="2.9"/><circle cx="394.9" cy="591.1" r="3.7"/><circle cx="391.2" cy="592.3" r="2.5"/><circle cx="474.1" cy="587.4" r="3.3"/><circle cx="482.6" cy="588.7" r="3.7"/><circle cx="253.5" cy="560.6" r="4.9"/><circle cx="369.3" cy="548.4" r="1.5"/><circle cx="319" cy="429" r="2.5"/><circle cx="328" cy="431.2" r="1.5"/><circle cx="328" cy="472.5" r="1.8"/><circle cx="278.5" cy="444" r="1.8"/><circle cx="283.8" cy="452.2" r="1.8"/><circle cx="282.2" cy="457.5" r="1.2"/><circle cx="301" cy="480" r="2.7"/><circle cx="272.5" cy="492" r="1.8"/><circle cx="282.2" cy="485.2" r="1.3"/><circle cx="519.5" cy="216.5" r="2.2"/><circle cx="132.8" cy="280.9" r="2.2"/><circle cx="146.6" cy="305" r="2.3"/><circle cx="221.5" cy="532.8" r="1.8"/><circle cx="223.6" cy="538.1" r="2.1"/><circle cx="534.8" cy="216.8" r="2.5"/><circle cx="522.3" cy="229.1" r="2.4"/><circle cx="306.2" cy="452.7" r="2.4"/><circle cx="304" cy="449" r="2.4"/><circle cx="308.9" cy="442.8" r="2.5"/><circle cx="316.1" cy="449.8" r="2.4"/><circle cx="310.2" cy="455.6" r="2.5"/><circle cx="304.8" cy="460.9" r="2.6"/><circle cx="299.3" cy="459" r="2.4"/><circle cx="293.5" cy="467" r="2.1"/><circle cx="307.9" cy="467.1" r="2.6"/><circle cx="315.4" cy="441.3" r="2.5"/><circle cx="319.9" cy="444" r="1.9"/></g>
<g fill="url(#g23)"><circle cx="340" cy="133.6" r="1.5"/><circle cx="458.2" cy="8.3" r="1.7"/><circle cx="455.8" cy="187.7" r="3.7"/><circle cx="460.7" cy="191.3" r="2.9"/><circle cx="450.9" cy="192.6" r="3.3"/><circle cx="748.8" cy="46.8" r="2.1"/><circle cx="618.4" cy="137.2" r="1.7"/><circle cx="615.5" cy="138.9" r="1.5"/><circle cx="634.5" cy="151.1" r="2.1"/><circle cx="611.3" cy="168.7" r="1.5"/><circle cx="132.8" cy="285.7" r="2.5"/><circle cx="153.1" cy="314.4" r="1.5"/><circle cx="166.2" cy="327.8" r="1.3"/><circle cx="29.7" cy="311" r="1.7"/><circle cx="617.4" cy="350.3" r="3.3"/><circle cx="620.3" cy="381.5" r="2.5"/><circle cx="456.3" cy="329.5" r="3.7"/><circle cx="460.7" cy="329.1" r="2.5"/><circle cx="511.9" cy="208.4" r="3.3"/><circle cx="518" cy="206" r="3.3"/><circle cx="514.3" cy="215.7" r="3.3"/><circle cx="520.4" cy="213.3" r="2.9"/><circle cx="525.3" cy="209.6" r="2.9"/><circle cx="516.8" cy="224.2" r="3.3"/><circle cx="532.6" cy="229.1" r="2.9"/><circle cx="538.7" cy="225.5" r="2.9"/><circle cx="548.4" cy="224.2" r="2.5"/><circle cx="536.2" cy="234" r="2.9"/><circle cx="530.2" cy="236.4" r="2.9"/><circle cx="522.8" cy="235.2" r="2.5"/><circle cx="426.6" cy="535" r="3.3"/><circle cx="419.2" cy="537.5" r="2.9"/><circle cx="60.9" cy="741" r="1.7"/><circle cx="368.1" cy="596.5" r="2.9"/><circle cx="387.6" cy="594.3" r="2.5"/><circle cx="550.4" cy="767.3" r="2.1"/><circle cx="773.4" cy="768.5" r="1.5"/><circle cx="311.5" cy="435" r="2.2"/><circle cx="292" cy="448.5" r="2.5"/><circle cx="289.8" cy="454.5" r="2.2"/><circle cx="298" cy="475.5" r="2"/><circle cx="333.2" cy="440.2" r="1.2"/><circle cx="318.2" cy="432.8" r="1.8"/><circle cx="331" cy="469.5" r="2.2"/><circle cx="328.8" cy="466.5" r="1.8"/><circle cx="333.2" cy="473.2" r="1.8"/><circle cx="326.5" cy="469.5" r="1.5"/><circle cx="334" cy="466.5" r="1.5"/><circle cx="269.5" cy="435" r="1.8"/><circle cx="272.5" cy="438" r="1.8"/><circle cx="268" cy="431.2" r="1.3"/><circle cx="275.5" cy="441" r="1.8"/><circle cx="281.5" cy="448.5" r="2"/><circle cx="287.5" cy="456" r="2"/><circle cx="274.8" cy="486.8" r="1.8"/><circle cx="521.5" cy="221" r="2.9"/><circle cx="523" cy="226.5" r="2.4"/><circle cx="336.3" cy="523.1" r="3.1"/><circle cx="338.5" cy="525" r="2.1"/><circle cx="619.1" cy="82.1" r="3.2"/><circle cx="442.4" cy="209.1" r="2.7"/><circle cx="457" cy="203.3" r="2.4"/><circle cx="488.7" cy="588.7" r="2.4"/><circle cx="308.5" cy="455.2" r="3"/><circle cx="322" cy="444.3" r="2.7"/><circle cx="310" cy="444" r="2.4"/><circle cx="322" cy="450" r="2.4"/><circle cx="313" cy="454.5" r="2.4"/><circle cx="325" cy="445.5" r="2.4"/><circle cx="296.5" cy="447.8" r="2.7"/><circle cx="132.5" cy="285.4" r="2.2"/><circle cx="132.4" cy="282.1" r="2.3"/><circle cx="132.3" cy="281" r="2.1"/><circle cx="134.8" cy="283.8" r="2.2"/><circle cx="219" cy="533.3" r="2.1"/><circle cx="217.2" cy="536.8" r="2.4"/><circle cx="454.6" cy="198" r="1.8"/><circle cx="454.3" cy="199" r="2.4"/><circle cx="458.5" cy="198.2" r="2.2"/><circle cx="456.1" cy="203.5" r="2.1"/><circle cx="454.3" cy="202" r="2.5"/><circle cx="454.1" cy="204.8" r="2.3"/><circle cx="455.4" cy="205.5" r="2.2"/><circle cx="457.1" cy="200.9" r="2"/><circle cx="458.6" cy="200.6" r="2.2"/><circle cx="453.9" cy="194.3" r="2.1"/><circle cx="459.4" cy="196.4" r="1.9"/><circle cx="534.5" cy="218.3" r="2.4"/><circle cx="531.7" cy="219.1" r="2.1"/><circle cx="531.7" cy="218.7" r="2.1"/><circle cx="533.2" cy="221.1" r="2.3"/><circle cx="530.8" cy="220.1" r="2.3"/><circle cx="523.8" cy="227.3" r="2.2"/><circle cx="521.8" cy="226.9" r="2.4"/><circle cx="519.2" cy="231.8" r="2.4"/><circle cx="520.4" cy="227.5" r="2.1"/><circle cx="521.3" cy="231.4" r="1.9"/><circle cx="484.3" cy="589.3" r="2.3"/><circle cx="486.9" cy="592.7" r="2.3"/><circle cx="492" cy="591.4" r="1.8"/><circle cx="488.6" cy="584.7" r="2.3"/><circle cx="488.4" cy="589.1" r="2.1"/><circle cx="307.2" cy="451.4" r="1.9"/><circle cx="304.3" cy="451.8" r="2.2"/><circle cx="300" cy="449.3" r="2.4"/><circle cx="304.2" cy="447.8" r="1.8"/><circle cx="309.3" cy="444.5" r="1.9"/><circle cx="309.7" cy="442.5" r="2"/><circle cx="317.9" cy="451.8" r="2.6"/><circle cx="317.6" cy="448.5" r="2.3"/><circle cx="314.2" cy="451.9" r="2.2"/><circle cx="314" cy="449.7" r="2"/><circle cx="313.9" cy="451.5" r="2.2"/><circle cx="321.6" cy="450.4" r="2.5"/><circle cx="313.3" cy="453.8" r="2.6"/><circle cx="316.8" cy="454.6" r="2"/><circle cx="304.1" cy="453.8" r="2.5"/><circle cx="301.5" cy="459.4" r="2"/><circle cx="302.6" cy="458.7" r="1.8"/><circle cx="294.2" cy="458.1" r="2"/><circle cx="299.4" cy="454.1" r="1.9"/><circle cx="295.3" cy="455.6" r="2.3"/><circle cx="293.2" cy="453.7" r="1.9"/><circle cx="292.7" cy="460.6" r="2.4"/><circle cx="292" cy="458.9" r="2.3"/><circle cx="292" cy="467.6" r="2"/><circle cx="292.9" cy="459.2" r="1.9"/><circle cx="297.1" cy="463.6" r="1.9"/><circle cx="294.6" cy="462.9" r="1.9"/><circle cx="292.5" cy="467.9" r="1.8"/><circle cx="295.2" cy="470.3" r="2.2"/><circle cx="300.5" cy="472" r="1.9"/><circle cx="299.3" cy="470.9" r="2.3"/><circle cx="298.9" cy="469.6" r="2.4"/><circle cx="301.7" cy="472" r="2.3"/><circle cx="303.6" cy="462.2" r="2.3"/><circle cx="309.4" cy="468.5" r="2.2"/><circle cx="308.2" cy="466.7" r="1.8"/><circle cx="306.3" cy="472.6" r="1.8"/><circle cx="303" cy="473.6" r="2.2"/><circle cx="308.9" cy="476.3" r="2.6"/><circle cx="308.9" cy="477.7" r="2.2"/><circle cx="296.9" cy="472.8" r="2"/><circle cx="291.8" cy="470.6" r="2"/><circle cx="296.1" cy="465.8" r="1.9"/><circle cx="291.2" cy="467.7" r="2"/><circle cx="296.6" cy="468.8" r="2.5"/><circle cx="327.9" cy="445.9" r="2.5"/><circle cx="327.6" cy="443.8" r="2.6"/><circle cx="322.2" cy="445.7" r="2.5"/><circle cx="316.9" cy="440.4" r="2"/><circle cx="320.7" cy="441.2" r="2.5"/><circle cx="322.5" cy="441.3" r="2"/><circle cx="301.6" cy="472.7" r="2.1"/><circle cx="302.1" cy="474.1" r="2.4"/><circle cx="302.3" cy="473.8" r="1.9"/></g>
</g></g>
<circle cx="400" cy="400" r="195" fill="none" stroke="#fff" stroke-width="1.4"/>
<rect x="28.4" y="28" width="154.8" height="3" fill="#fff"/>
<g opacity=".999"><g class="w" font-size="18.06px"><text x="105.9" y="55" text-anchor="middle">2 Mpc</text></g>
<g class="w" font-size="16.85px">
<text x="781.7" y="31" text-anchor="end">z=0.0</text>
<text x="20.8" y="692">TNG-Cluster</text>
<text x="20.7" y="719.6">HaloID 3457081 (#22)</text>
<text x="20.7" y="747.4">2r200 d=r200 (<tspan font-style="italic">x&#x302;</tspan>)</text>
<text x="20.7" y="775.3">log M<tspan font-size="11.9px" dy="2.8">halo</tspan><tspan dy="-2.8">=15.2</tspan></text>
</g>
<rect x="154.3" y="803.0" width="496.3" height="32.2" fill="url(#cb)"/>
<g class="w" font-size="18.06px"><text x="189.8" y="823.1" text-anchor="middle">21.5</text><text x="296.1" y="823.1" text-anchor="middle">23.0</text><text x="402.5" y="823.1" text-anchor="middle">24.5</text><text x="508.8" y="823.1" text-anchor="middle">26.0</text><text x="615.2" y="823.1" text-anchor="middle">27.5</text></g>
<g class="k" font-size="18.06px"><text x="258.7" y="857.6">log S<tspan font-size="12.64px" dy="2.9">1.4 GHz</tspan><tspan dy="-2.9" dx="2.4"> [erg s</tspan><tspan font-size="12.64px" dy="-6.6" dx="1.5">&#x2212;1</tspan><tspan dy="6.6"> Hz</tspan><tspan font-size="12.64px" dy="-6.6" dx="1.4">&#x2212;1</tspan><tspan dy="6.6" dx="-0.4"> kpc</tspan><tspan font-size="12.64px" dy="-6.6" dx="1.4">&#x2212;2</tspan><tspan dy="6.6" dx="1.6">]</tspan></text></g></g>
</svg>
</body></html>
